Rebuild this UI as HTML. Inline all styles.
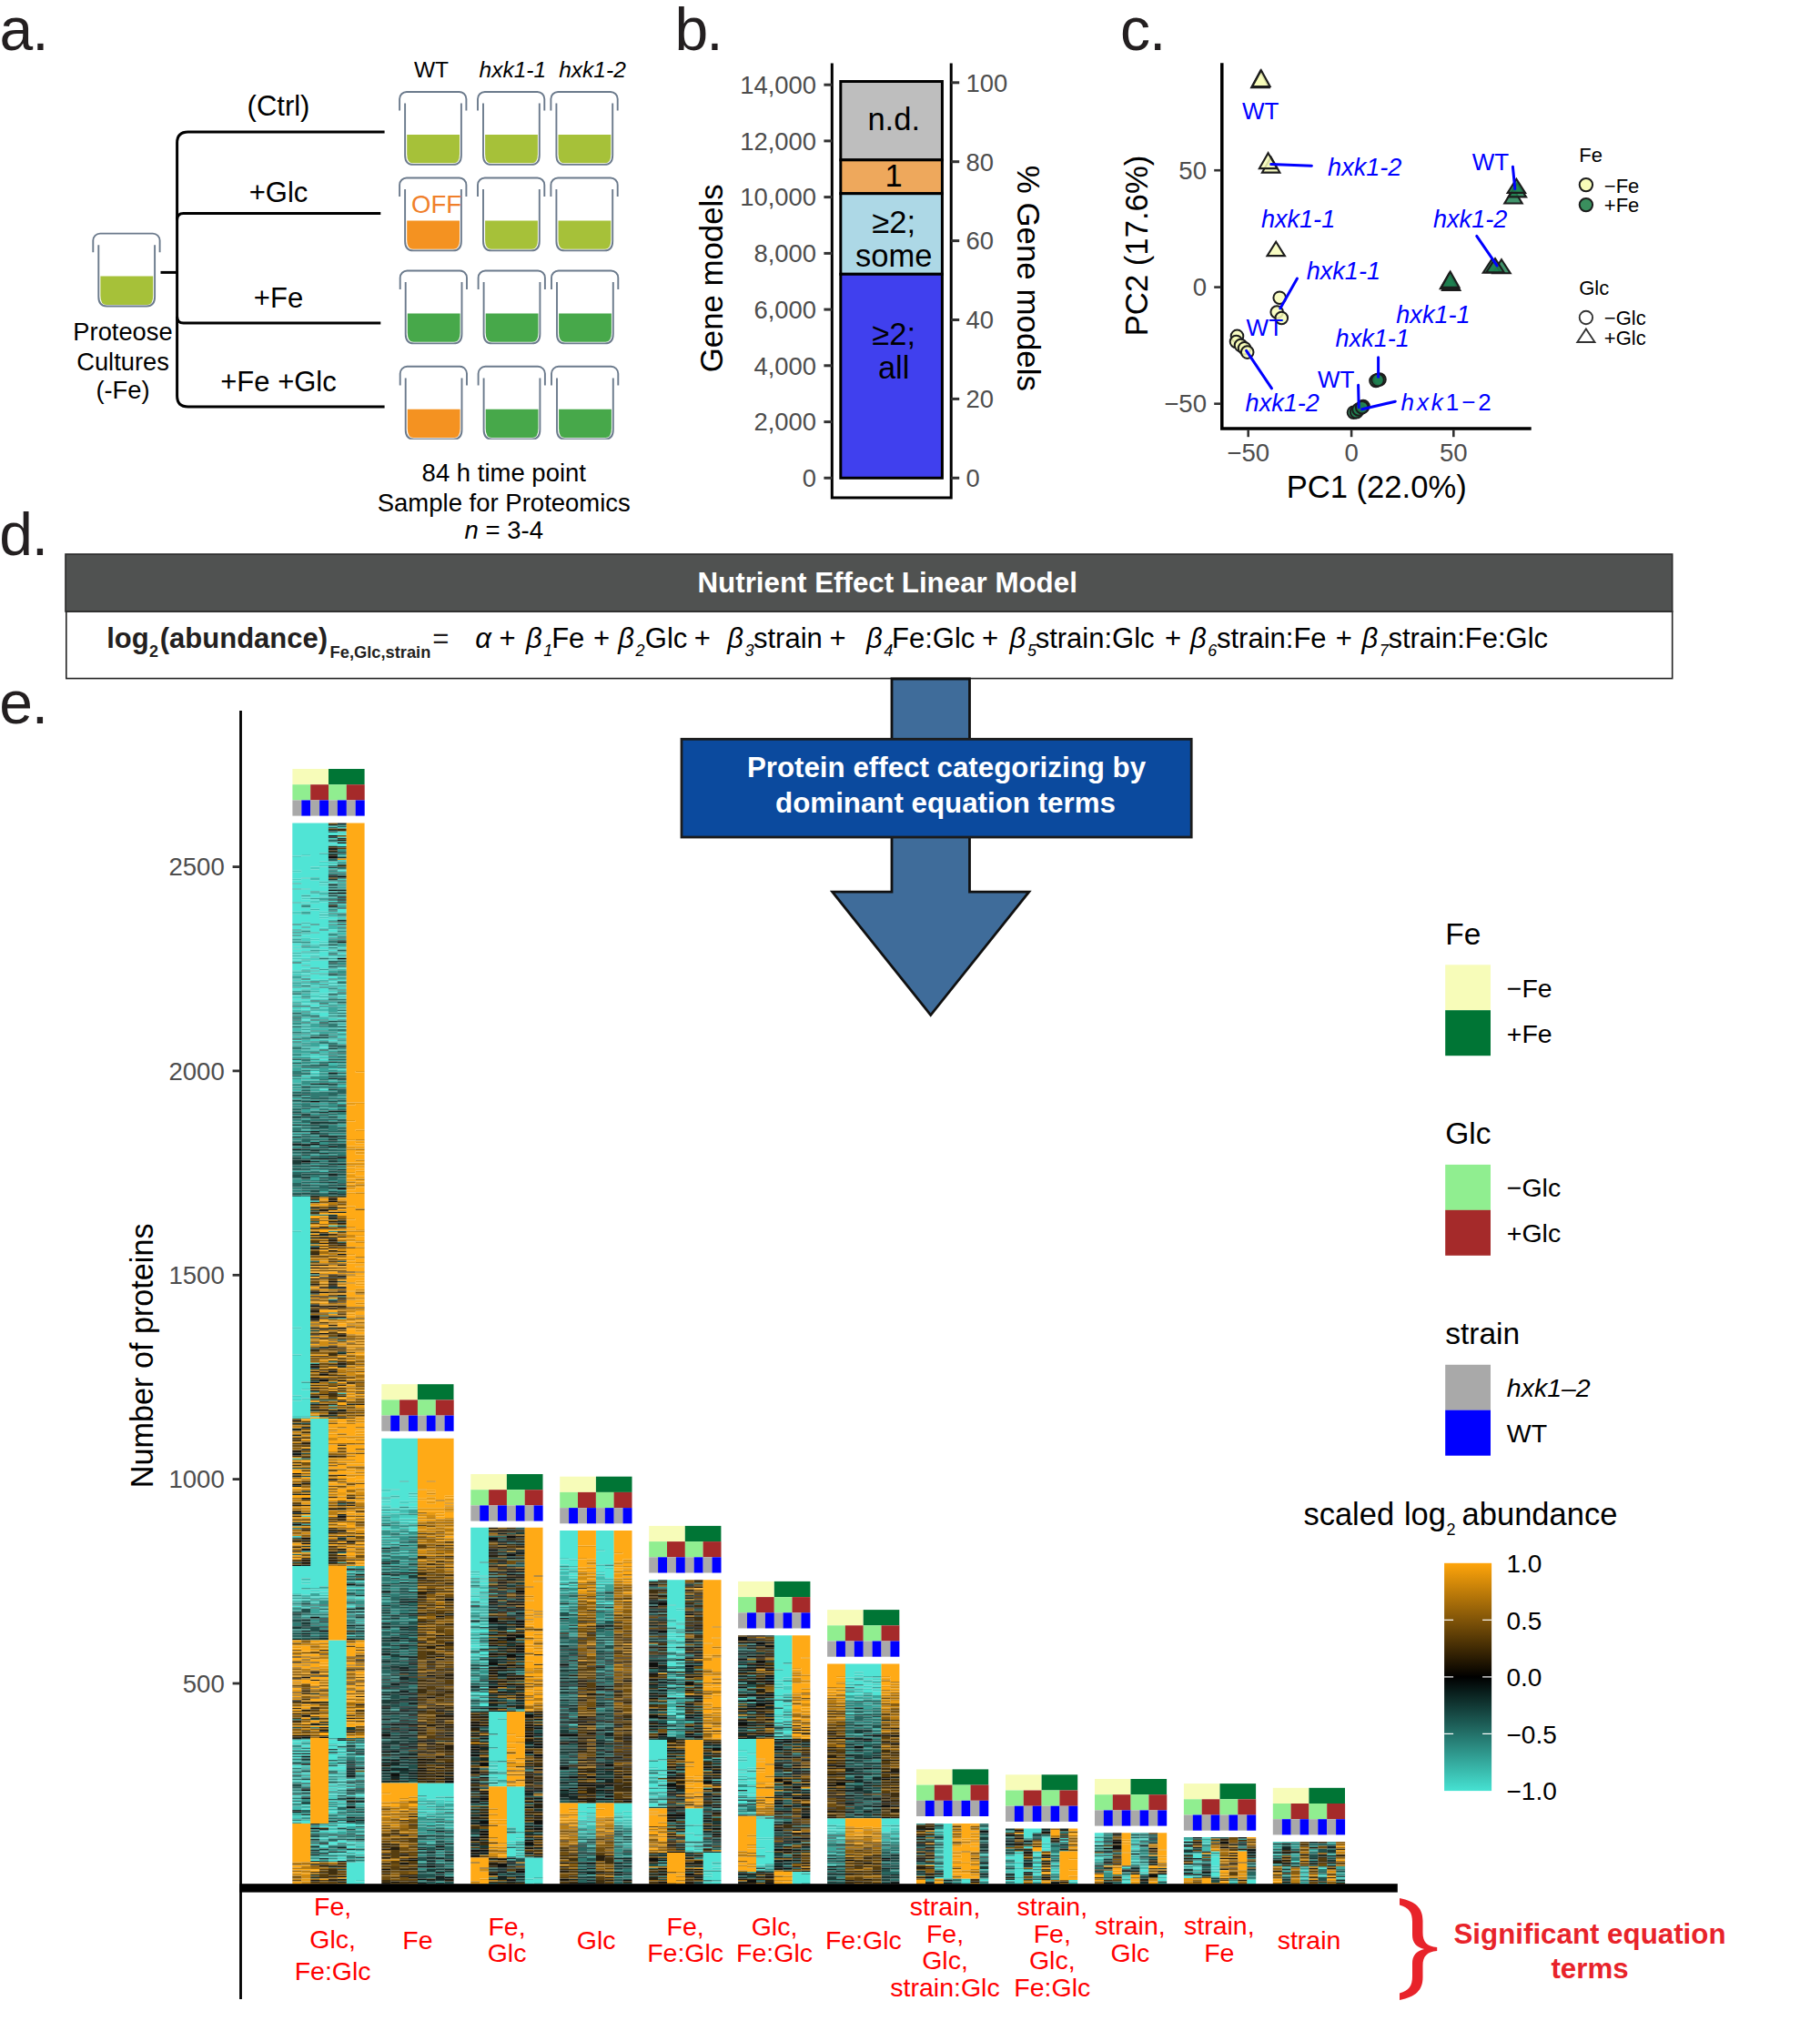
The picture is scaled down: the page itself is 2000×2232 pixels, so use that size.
<!DOCTYPE html>
<html lang="en"><head><meta charset="utf-8"><title>Figure</title>
<style>
html,body{margin:0;padding:0;background:#fff}
svg{display:block}
text{font-family:"Liberation Sans",sans-serif}
</style></head><body>
<svg width="2000" height="2232" viewBox="0 0 2000 2232">
<rect width="2000" height="2232" fill="#fff"/>
<text x="-0.5" y="55.3" font-size="66.0" fill="#231F20" letter-spacing="-1">a.</text>
<text x="474.0" y="85.4" font-size="24.5" text-anchor="middle">WT</text>
<text x="563.3" y="85.4" font-size="24.5" text-anchor="middle" font-style="italic">hxk1-1</text>
<text x="651.0" y="85.4" font-size="24.5" text-anchor="middle" font-style="italic">hxk1-2</text>
<g fill="none" stroke="#000" stroke-width="3">
<path d="M422.6 145H206.6Q194.6 145 194.6 157V435Q194.6 447 206.6 447H422.6"/>
<path d="M418.3 234.5H201.6Q194.6 234.5 194.6 241.5"/>
<path d="M418.3 355H201.6Q194.6 355 194.6 348"/>
<path d="M176.5 299.4H194.6"/>
</g>
<text x="306.0" y="127.0" font-size="31.0" text-anchor="middle">(Ctrl)</text>
<text x="306.0" y="222.4" font-size="31.0" text-anchor="middle">+Glc</text>
<text x="306.0" y="337.6" font-size="31.0" text-anchor="middle">+Fe</text>
<text x="306.0" y="429.5" font-size="31.0" text-anchor="middle">+Fe +Glc</text>
<g transform="translate(439.1 101.0)"><path d="M8.1 47H65.9V68.3Q65.9 78.3 59.4 78.3H14.6Q8.1 78.3 8.1 68.3Z" fill="#A6C139"/><path d="M0 20.6V7.7A7.7 7.7 0 0 1 7.7 0H65.6A7.7 7.7 0 0 1 73.3 7.7V20.6" fill="none" stroke="#6B7A8C" stroke-width="1.9"/><path d="M6 12.6V69.4Q6 79.9 15 79.9H58.8Q67.8 79.9 67.8 69.4V12.6" fill="none" stroke="#6B7A8C" stroke-width="1.9"/></g>
<g transform="translate(525.0 101.0)"><path d="M8.1 47H65.9V68.3Q65.9 78.3 59.4 78.3H14.6Q8.1 78.3 8.1 68.3Z" fill="#A6C139"/><path d="M0 20.6V7.7A7.7 7.7 0 0 1 7.7 0H65.6A7.7 7.7 0 0 1 73.3 7.7V20.6" fill="none" stroke="#6B7A8C" stroke-width="1.9"/><path d="M6 12.6V69.4Q6 79.9 15 79.9H58.8Q67.8 79.9 67.8 69.4V12.6" fill="none" stroke="#6B7A8C" stroke-width="1.9"/></g>
<g transform="translate(605.4 101.0)"><path d="M8.1 47H65.9V68.3Q65.9 78.3 59.4 78.3H14.6Q8.1 78.3 8.1 68.3Z" fill="#A6C139"/><path d="M0 20.6V7.7A7.7 7.7 0 0 1 7.7 0H65.6A7.7 7.7 0 0 1 73.3 7.7V20.6" fill="none" stroke="#6B7A8C" stroke-width="1.9"/><path d="M6 12.6V69.4Q6 79.9 15 79.9H58.8Q67.8 79.9 67.8 69.4V12.6" fill="none" stroke="#6B7A8C" stroke-width="1.9"/></g>
<g transform="translate(439.1 195.5)"><path d="M8.1 47H65.9V68.3Q65.9 78.3 59.4 78.3H14.6Q8.1 78.3 8.1 68.3Z" fill="#F49221"/><path d="M0 20.6V7.7A7.7 7.7 0 0 1 7.7 0H65.6A7.7 7.7 0 0 1 73.3 7.7V20.6" fill="none" stroke="#6B7A8C" stroke-width="1.9"/><path d="M6 12.6V69.4Q6 79.9 15 79.9H58.8Q67.8 79.9 67.8 69.4V12.6" fill="none" stroke="#6B7A8C" stroke-width="1.9"/></g>
<g transform="translate(525.0 195.5)"><path d="M8.1 47H65.9V68.3Q65.9 78.3 59.4 78.3H14.6Q8.1 78.3 8.1 68.3Z" fill="#A6C139"/><path d="M0 20.6V7.7A7.7 7.7 0 0 1 7.7 0H65.6A7.7 7.7 0 0 1 73.3 7.7V20.6" fill="none" stroke="#6B7A8C" stroke-width="1.9"/><path d="M6 12.6V69.4Q6 79.9 15 79.9H58.8Q67.8 79.9 67.8 69.4V12.6" fill="none" stroke="#6B7A8C" stroke-width="1.9"/></g>
<g transform="translate(605.4 195.5)"><path d="M8.1 47H65.9V68.3Q65.9 78.3 59.4 78.3H14.6Q8.1 78.3 8.1 68.3Z" fill="#A6C139"/><path d="M0 20.6V7.7A7.7 7.7 0 0 1 7.7 0H65.6A7.7 7.7 0 0 1 73.3 7.7V20.6" fill="none" stroke="#6B7A8C" stroke-width="1.9"/><path d="M6 12.6V69.4Q6 79.9 15 79.9H58.8Q67.8 79.9 67.8 69.4V12.6" fill="none" stroke="#6B7A8C" stroke-width="1.9"/></g>
<g transform="translate(439.7 297.5)"><path d="M8.1 47H65.9V68.3Q65.9 78.3 59.4 78.3H14.6Q8.1 78.3 8.1 68.3Z" fill="#47A84A"/><path d="M0 20.6V7.7A7.7 7.7 0 0 1 7.7 0H65.6A7.7 7.7 0 0 1 73.3 7.7V20.6" fill="none" stroke="#6B7A8C" stroke-width="1.9"/><path d="M6 12.6V69.4Q6 79.9 15 79.9H58.8Q67.8 79.9 67.8 69.4V12.6" fill="none" stroke="#6B7A8C" stroke-width="1.9"/></g>
<g transform="translate(525.6 297.5)"><path d="M8.1 47H65.9V68.3Q65.9 78.3 59.4 78.3H14.6Q8.1 78.3 8.1 68.3Z" fill="#47A84A"/><path d="M0 20.6V7.7A7.7 7.7 0 0 1 7.7 0H65.6A7.7 7.7 0 0 1 73.3 7.7V20.6" fill="none" stroke="#6B7A8C" stroke-width="1.9"/><path d="M6 12.6V69.4Q6 79.9 15 79.9H58.8Q67.8 79.9 67.8 69.4V12.6" fill="none" stroke="#6B7A8C" stroke-width="1.9"/></g>
<g transform="translate(606.0 297.5)"><path d="M8.1 47H65.9V68.3Q65.9 78.3 59.4 78.3H14.6Q8.1 78.3 8.1 68.3Z" fill="#47A84A"/><path d="M0 20.6V7.7A7.7 7.7 0 0 1 7.7 0H65.6A7.7 7.7 0 0 1 73.3 7.7V20.6" fill="none" stroke="#6B7A8C" stroke-width="1.9"/><path d="M6 12.6V69.4Q6 79.9 15 79.9H58.8Q67.8 79.9 67.8 69.4V12.6" fill="none" stroke="#6B7A8C" stroke-width="1.9"/></g>
<g transform="translate(439.7 402.8)"><path d="M8.1 47H65.9V68.3Q65.9 78.3 59.4 78.3H14.6Q8.1 78.3 8.1 68.3Z" fill="#F49221"/><path d="M0 20.6V7.7A7.7 7.7 0 0 1 7.7 0H65.6A7.7 7.7 0 0 1 73.3 7.7V20.6" fill="none" stroke="#6B7A8C" stroke-width="1.9"/><path d="M6 12.6V69.4Q6 79.9 15 79.9H58.8Q67.8 79.9 67.8 69.4V12.6" fill="none" stroke="#6B7A8C" stroke-width="1.9"/></g>
<g transform="translate(525.6 402.8)"><path d="M8.1 47H65.9V68.3Q65.9 78.3 59.4 78.3H14.6Q8.1 78.3 8.1 68.3Z" fill="#47A84A"/><path d="M0 20.6V7.7A7.7 7.7 0 0 1 7.7 0H65.6A7.7 7.7 0 0 1 73.3 7.7V20.6" fill="none" stroke="#6B7A8C" stroke-width="1.9"/><path d="M6 12.6V69.4Q6 79.9 15 79.9H58.8Q67.8 79.9 67.8 69.4V12.6" fill="none" stroke="#6B7A8C" stroke-width="1.9"/></g>
<g transform="translate(606.0 402.8)"><path d="M8.1 47H65.9V68.3Q65.9 78.3 59.4 78.3H14.6Q8.1 78.3 8.1 68.3Z" fill="#47A84A"/><path d="M0 20.6V7.7A7.7 7.7 0 0 1 7.7 0H65.6A7.7 7.7 0 0 1 73.3 7.7V20.6" fill="none" stroke="#6B7A8C" stroke-width="1.9"/><path d="M6 12.6V69.4Q6 79.9 15 79.9H58.8Q67.8 79.9 67.8 69.4V12.6" fill="none" stroke="#6B7A8C" stroke-width="1.9"/></g>
<rect x="430.0" y="482.9" width="260.0" height="3.5" fill="#fff"/>
<g transform="translate(102.3 256.6)"><path d="M8.1 47H65.9V68.3Q65.9 78.3 59.4 78.3H14.6Q8.1 78.3 8.1 68.3Z" fill="#A6C139"/><path d="M0 20.6V7.7A7.7 7.7 0 0 1 7.7 0H65.6A7.7 7.7 0 0 1 73.3 7.7V20.6" fill="none" stroke="#6B7A8C" stroke-width="1.9"/><path d="M6 12.6V69.4Q6 79.9 15 79.9H58.8Q67.8 79.9 67.8 69.4V12.6" fill="none" stroke="#6B7A8C" stroke-width="1.9"/></g>
<text x="479.5" y="234.3" font-size="27.5" text-anchor="middle" fill="#F07F2A">OFF</text>
<text x="135.0" y="374.0" font-size="27.3" text-anchor="middle">Proteose</text>
<text x="135.0" y="407.2" font-size="27.3" text-anchor="middle">Cultures</text>
<text x="135.0" y="438.4" font-size="27.3" text-anchor="middle">(-Fe)</text>
<text x="553.8" y="529.3" font-size="27.5" text-anchor="middle">84 h time point</text>
<text x="553.8" y="562.2" font-size="27.5" text-anchor="middle">Sample for Proteomics</text>
<text x="553.8" y="592.0" font-size="27.5" text-anchor="middle"><tspan font-style="italic">n</tspan> = 3-4</text>
<text x="741.5" y="54.7" font-size="66.0" fill="#231F20" letter-spacing="-2">b.</text>
<rect x="923.8" y="89.5" width="111.6" height="86.3" fill="#BEBEBE" stroke="#000" stroke-width="3"/>
<rect x="923.8" y="175.8" width="111.6" height="36.9" fill="#EEA85C" stroke="#000" stroke-width="3"/>
<rect x="923.8" y="212.7" width="111.6" height="88.6" fill="#ADD8E6" stroke="#000" stroke-width="3"/>
<rect x="923.8" y="301.3" width="111.6" height="224.0" fill="#4040EE" stroke="#000" stroke-width="3"/>
<path d="M914.3 69.4V547H1045.2V69.4" fill="none" stroke="#000" stroke-width="3"/>
<line x1="905.4" y1="525.3" x2="914.3" y2="525.3" stroke="#333" stroke-width="3"/>
<text x="897.0" y="535.1" font-size="27.4" text-anchor="end" fill="#4D4D4D">0</text>
<line x1="905.4" y1="463.6" x2="914.3" y2="463.6" stroke="#333" stroke-width="3"/>
<text x="897.0" y="473.4" font-size="27.4" text-anchor="end" fill="#4D4D4D">2,000</text>
<line x1="905.4" y1="401.8" x2="914.3" y2="401.8" stroke="#333" stroke-width="3"/>
<text x="897.0" y="411.6" font-size="27.4" text-anchor="end" fill="#4D4D4D">4,000</text>
<line x1="905.4" y1="340.1" x2="914.3" y2="340.1" stroke="#333" stroke-width="3"/>
<text x="897.0" y="349.9" font-size="27.4" text-anchor="end" fill="#4D4D4D">6,000</text>
<line x1="905.4" y1="278.4" x2="914.3" y2="278.4" stroke="#333" stroke-width="3"/>
<text x="897.0" y="288.2" font-size="27.4" text-anchor="end" fill="#4D4D4D">8,000</text>
<line x1="905.4" y1="216.6" x2="914.3" y2="216.6" stroke="#333" stroke-width="3"/>
<text x="897.0" y="226.4" font-size="27.4" text-anchor="end" fill="#4D4D4D">10,000</text>
<line x1="905.4" y1="154.9" x2="914.3" y2="154.9" stroke="#333" stroke-width="3"/>
<text x="897.0" y="164.7" font-size="27.4" text-anchor="end" fill="#4D4D4D">12,000</text>
<line x1="905.4" y1="93.2" x2="914.3" y2="93.2" stroke="#333" stroke-width="3"/>
<text x="897.0" y="103.0" font-size="27.4" text-anchor="end" fill="#4D4D4D">14,000</text>
<line x1="1045.2" y1="525.3" x2="1054.2" y2="525.3" stroke="#333" stroke-width="3"/>
<text x="1061.5" y="535.1" font-size="27.4" fill="#4D4D4D">0</text>
<line x1="1045.2" y1="438.4" x2="1054.2" y2="438.4" stroke="#333" stroke-width="3"/>
<text x="1061.5" y="448.2" font-size="27.4" fill="#4D4D4D">20</text>
<line x1="1045.2" y1="351.5" x2="1054.2" y2="351.5" stroke="#333" stroke-width="3"/>
<text x="1061.5" y="361.3" font-size="27.4" fill="#4D4D4D">40</text>
<line x1="1045.2" y1="264.6" x2="1054.2" y2="264.6" stroke="#333" stroke-width="3"/>
<text x="1061.5" y="274.4" font-size="27.4" fill="#4D4D4D">60</text>
<line x1="1045.2" y1="177.7" x2="1054.2" y2="177.7" stroke="#333" stroke-width="3"/>
<text x="1061.5" y="187.5" font-size="27.4" fill="#4D4D4D">80</text>
<line x1="1045.2" y1="90.8" x2="1054.2" y2="90.8" stroke="#333" stroke-width="3"/>
<text x="1061.5" y="100.6" font-size="27.4" fill="#4D4D4D">100</text>
<text x="794.5" y="305.8" font-size="34.8" text-anchor="middle" transform="rotate(-90 794.5 305.8)">Gene models</text>
<text x="1117.5" y="305.8" font-size="34.9" text-anchor="middle" transform="rotate(90 1117.5 305.8)">% Gene models</text>
<text x="982.2" y="142.7" font-size="34.5" text-anchor="middle">n.d.</text>
<text x="982.2" y="204.7" font-size="34.5" text-anchor="middle">1</text>
<text x="982.2" y="255.5" font-size="34.5" text-anchor="middle">≥2;</text>
<text x="982.2" y="293.4" font-size="34.5" text-anchor="middle">some</text>
<text x="982.2" y="379.0" font-size="34.5" text-anchor="middle">≥2;</text>
<text x="982.2" y="416.0" font-size="34.5" text-anchor="middle">all</text>
<text x="1230.9" y="54.7" font-size="66.0" fill="#231F20" letter-spacing="-1">c.</text>
<path d="M1342.8 69.3V471.1H1682.7" fill="none" stroke="#000" stroke-width="3.5" stroke-linejoin="miter"/>
<line x1="1334.2" y1="187.2" x2="1341.5" y2="187.2" stroke="#333" stroke-width="2.6"/>
<text x="1326.0" y="196.7" font-size="27.6" text-anchor="end" fill="#4D4D4D">50</text>
<line x1="1334.2" y1="315.6" x2="1341.5" y2="315.6" stroke="#333" stroke-width="2.6"/>
<text x="1326.0" y="325.1" font-size="27.6" text-anchor="end" fill="#4D4D4D">0</text>
<line x1="1334.2" y1="443.7" x2="1341.5" y2="443.7" stroke="#333" stroke-width="2.6"/>
<text x="1326.0" y="453.2" font-size="27.6" text-anchor="end" fill="#4D4D4D">−50</text>
<line x1="1371.7" y1="472.5" x2="1371.7" y2="480.2" stroke="#333" stroke-width="2.6"/>
<text x="1371.7" y="506.7" font-size="27.6" text-anchor="middle" fill="#4D4D4D">−50</text>
<line x1="1485.1" y1="472.5" x2="1485.1" y2="480.2" stroke="#333" stroke-width="2.6"/>
<text x="1485.1" y="506.7" font-size="27.6" text-anchor="middle" fill="#4D4D4D">0</text>
<line x1="1597.3" y1="472.5" x2="1597.3" y2="480.2" stroke="#333" stroke-width="2.6"/>
<text x="1597.3" y="506.7" font-size="27.6" text-anchor="middle" fill="#4D4D4D">50</text>
<text x="1512.7" y="546.8" font-size="34.6" text-anchor="middle">PC1 (22.0%)</text>
<text x="1260.5" y="270.0" font-size="34.7" text-anchor="middle" transform="rotate(-90 1260.5 270.0)">PC2 (17.6%)</text>
<path d="M1384.9 78.3L1394.6 96.1H1375.2Z" fill="#F7FCB9" fill-opacity="0.85" stroke="#1c1c1c" stroke-width="2.1" stroke-linejoin="miter"/>
<path d="M1385.9 77.3L1395.6 95.0H1376.2Z" fill="#F7FCB9" fill-opacity="0.85" stroke="#1c1c1c" stroke-width="2.1" stroke-linejoin="miter"/>
<path d="M1396.7 172.7L1406.4 189.6H1387.0Z" fill="#F7FCB9" fill-opacity="0.85" stroke="#1c1c1c" stroke-width="2.1" stroke-linejoin="miter"/>
<path d="M1393.6 168.2L1403.3 185.1H1383.9Z" fill="#F7FCB9" fill-opacity="0.85" stroke="#1c1c1c" stroke-width="2.1" stroke-linejoin="miter"/>
<path d="M1402.2 265.8L1411.9 281.1H1392.5Z" fill="#F7FCB9" fill-opacity="0.85" stroke="#1c1c1c" stroke-width="2.1" stroke-linejoin="miter"/>
<path d="M1663.0 207.3L1672.7 223.5H1653.3Z" fill="#1F8050" fill-opacity="0.85" stroke="#1c1c1c" stroke-width="2.1" stroke-linejoin="miter"/>
<path d="M1667.4 201.2L1677.1 216.4H1657.7Z" fill="#1F8050" fill-opacity="0.85" stroke="#1c1c1c" stroke-width="2.1" stroke-linejoin="miter"/>
<path d="M1666.4 196.7L1676.1 211.9H1656.7Z" fill="#1F8050" fill-opacity="0.85" stroke="#1c1c1c" stroke-width="2.1" stroke-linejoin="miter"/>
<path d="M1650.0 285.3L1659.7 300.3H1640.3Z" fill="#1F8050" fill-opacity="0.85" stroke="#1c1c1c" stroke-width="2.1" stroke-linejoin="miter"/>
<path d="M1639.5 284.8L1649.2 299.8H1629.8Z" fill="#1F8050" fill-opacity="0.85" stroke="#1c1c1c" stroke-width="2.1" stroke-linejoin="miter"/>
<path d="M1643.0 284.1L1652.7 299.3H1633.3Z" fill="#1F8050" fill-opacity="0.85" stroke="#1c1c1c" stroke-width="2.1" stroke-linejoin="miter"/>
<path d="M1594.7 301.7L1604.4 318.9H1585.0Z" fill="#1F8050" fill-opacity="0.85" stroke="#1c1c1c" stroke-width="2.1" stroke-linejoin="miter"/>
<path d="M1592.5 300.3L1602.2 317.3H1582.8Z" fill="#1F8050" fill-opacity="0.85" stroke="#1c1c1c" stroke-width="2.1" stroke-linejoin="miter"/>
<path d="M1593.7 298.6L1603.4 315.8H1584.0Z" fill="#1F8050" fill-opacity="0.85" stroke="#1c1c1c" stroke-width="2.1" stroke-linejoin="miter"/>
<circle cx="1406.2" cy="327.2" r="6.8" fill="#F7FCB9" fill-opacity="0.85" stroke="#1c1c1c" stroke-width="2"/>
<circle cx="1403.2" cy="343.0" r="6.8" fill="#F7FCB9" fill-opacity="0.85" stroke="#1c1c1c" stroke-width="2"/>
<circle cx="1408.3" cy="349.5" r="6.8" fill="#F7FCB9" fill-opacity="0.85" stroke="#1c1c1c" stroke-width="2"/>
<circle cx="1359.5" cy="369.4" r="6.8" fill="#F7FCB9" fill-opacity="0.85" stroke="#1c1c1c" stroke-width="2"/>
<circle cx="1358.5" cy="375.5" r="6.8" fill="#F7FCB9" fill-opacity="0.85" stroke="#1c1c1c" stroke-width="2"/>
<circle cx="1363.5" cy="379.6" r="6.8" fill="#F7FCB9" fill-opacity="0.85" stroke="#1c1c1c" stroke-width="2"/>
<circle cx="1367.6" cy="382.7" r="6.8" fill="#F7FCB9" fill-opacity="0.85" stroke="#1c1c1c" stroke-width="2"/>
<circle cx="1370.7" cy="387.1" r="6.8" fill="#F7FCB9" fill-opacity="0.85" stroke="#1c1c1c" stroke-width="2"/>
<circle cx="1512.0" cy="418.5" r="6.8" fill="#1F8050" fill-opacity="0.85" stroke="#1c1c1c" stroke-width="2"/>
<circle cx="1516.0" cy="417.0" r="6.8" fill="#1F8050" fill-opacity="0.85" stroke="#1c1c1c" stroke-width="2"/>
<circle cx="1514.0" cy="417.6" r="6.8" fill="#1F8050" fill-opacity="0.85" stroke="#1c1c1c" stroke-width="2"/>
<circle cx="1487.5" cy="453.2" r="6.8" fill="#1F8050" fill-opacity="0.85" stroke="#1c1c1c" stroke-width="2"/>
<circle cx="1490.6" cy="452.8" r="6.8" fill="#1F8050" fill-opacity="0.85" stroke="#1c1c1c" stroke-width="2"/>
<circle cx="1493.0" cy="450.0" r="6.8" fill="#1F8050" fill-opacity="0.85" stroke="#1c1c1c" stroke-width="2"/>
<circle cx="1498.0" cy="446.5" r="6.8" fill="#1F8050" fill-opacity="0.85" stroke="#1c1c1c" stroke-width="2"/>
<circle cx="1496.7" cy="447.7" r="6.8" fill="#1F8050" fill-opacity="0.85" stroke="#1c1c1c" stroke-width="2"/>
<g stroke="#0000FF" stroke-width="3" stroke-linecap="round">
<line x1="1396.7" y1="180.5" x2="1441.4" y2="182.3"/>
<line x1="1662.4" y1="183.2" x2="1664.8" y2="207.5"/>
<line x1="1622.7" y1="259.4" x2="1645.1" y2="291.9"/>
<line x1="1425.5" y1="306.0" x2="1406.8" y2="339.0"/>
<line x1="1369.6" y1="385.3" x2="1397.5" y2="426.8"/>
<line x1="1514.6" y1="392.8" x2="1514.6" y2="414.2"/>
<line x1="1492.6" y1="423.3" x2="1493.2" y2="447.7"/>
<line x1="1496.7" y1="449.8" x2="1533.3" y2="441.2"/>
</g>
<text x="1365.0" y="131.3" font-size="26.0" fill="#0000FF">WT</text>
<text x="1617.7" y="187.2" font-size="26.0" fill="#0000FF">WT</text>
<text x="1369.6" y="369.4" font-size="26.0" fill="#0000FF">WT</text>
<text x="1447.9" y="426.4" font-size="26.0" fill="#0000FF">WT</text>
<text x="1459.1" y="193.3" font-size="27.1" fill="#0000FF" font-style="italic">hxk1-2</text>
<text x="1385.9" y="250.2" font-size="27.1" fill="#0000FF" font-style="italic">hxk1-1</text>
<text x="1575.0" y="250.2" font-size="27.1" fill="#0000FF" font-style="italic">hxk1-2</text>
<text x="1435.7" y="307.4" font-size="27.1" fill="#0000FF" font-style="italic">hxk1-1</text>
<text x="1368.6" y="451.8" font-size="27.1" fill="#0000FF" font-style="italic">hxk1-2</text>
<text x="1534.3" y="354.8" font-size="27.1" fill="#0000FF" font-style="italic">hxk1-1</text>
<text x="1467.6" y="381.0" font-size="27.1" fill="#0000FF" font-style="italic">hxk1-1</text>
<text x="1539.6" y="450.8" font-size="26.0" fill="#0000FF" letter-spacing="2.9"><tspan font-style="italic">hxk</tspan>1−2</text>
<text x="1735.2" y="177.8" font-size="22.0">Fe</text>
<circle cx="1742.9" cy="203.1" r="7.2" fill="#F7FCB9" fill-opacity="1" stroke="#1c1c1c" stroke-width="2"/>
<circle cx="1742.9" cy="225.1" r="7.2" fill="#3A8F5E" fill-opacity="1" stroke="#1c1c1c" stroke-width="2"/>
<text x="1762.8" y="211.7" font-size="22.0">−Fe</text>
<text x="1762.8" y="232.8" font-size="22.0">+Fe</text>
<text x="1735.2" y="323.7" font-size="22.0">Glc</text>
<circle cx="1742.9" cy="349" r="7.2" fill="none" stroke="#333" stroke-width="1.9"/>
<path d="M1742.9 361.5L1752.5 376H1733.3Z" fill="none" stroke="#333" stroke-width="1.9"/>
<text x="1762.8" y="357.3" font-size="22.0">−Glc</text>
<text x="1762.8" y="378.5" font-size="22.0">+Glc</text>
<text x="-0.7" y="610.0" font-size="66.0" fill="#231F20" letter-spacing="-1.2">d.</text>
<text x="-0.7" y="795.0" font-size="66.0" fill="#231F20" letter-spacing="-1.2">e.</text>
<rect x="72.8" y="672.0" width="1764.9" height="73.6" fill="#fff" stroke="#222" stroke-width="1.6"/>
<rect x="72.0" y="609.0" width="1765.7" height="63.0" fill="#505251" stroke="#2a2a2a" stroke-width="1.6"/>
<text x="766.5" y="650.8" font-size="31.3" fill="#fff" font-weight="bold">Nutrient Effect Linear Model</text>
<text x="117.2" y="711.6" font-size="31.0" fill="#231F20" font-weight="bold">log</text>
<text x="163.9" y="722.0" font-size="18.0" fill="#231F20" font-weight="bold">2</text>
<text x="175.8" y="711.6" font-size="31.0" fill="#231F20" font-weight="bold">(abundance)</text>
<text x="362.6" y="722.6" font-size="18.3" fill="#231F20" font-weight="bold">Fe,Glc,strain</text>
<text x="475.2" y="711.6" font-size="31.0" fill="#231F20">=</text>
<text x="522.3" y="711.5" font-size="31.0" font-style="italic">α</text>
<text x="548.5" y="711.5" font-size="31.0">+</text>
<text x="578.0" y="711.5" font-size="31.0" font-style="italic">β</text><text x="597.3" y="721.0" font-size="18.0" font-style="italic">1</text>
<text x="606.2" y="711.5" font-size="31.0">Fe</text>
<text x="652.0" y="711.5" font-size="31.0">+</text>
<text x="679.2" y="711.5" font-size="31.0" font-style="italic">β</text><text x="698.5" y="721.0" font-size="18.0" font-style="italic">2</text>
<text x="708.8" y="711.5" font-size="31.0">Glc</text>
<text x="762.7" y="711.5" font-size="31.0">+</text>
<text x="799.2" y="711.5" font-size="31.0" font-style="italic">β</text><text x="818.5" y="721.0" font-size="18.0" font-style="italic">3</text>
<text x="828.0" y="711.5" font-size="31.0">strain</text>
<text x="911.5" y="711.5" font-size="31.0">+</text>
<text x="952.0" y="711.5" font-size="31.0" font-style="italic">β</text><text x="971.3" y="721.0" font-size="18.0" font-style="italic">4</text>
<text x="980.0" y="711.5" font-size="31.0">Fe:Glc</text>
<text x="1079.0" y="711.5" font-size="31.0">+</text>
<text x="1109.6" y="711.5" font-size="31.0" font-style="italic">β</text><text x="1128.9" y="721.0" font-size="18.0" font-style="italic">5</text>
<text x="1137.7" y="711.5" font-size="31.0">strain:Glc</text>
<text x="1280.0" y="711.5" font-size="31.0">+</text>
<text x="1308.0" y="711.5" font-size="31.0" font-style="italic">β</text><text x="1327.3" y="721.0" font-size="18.0" font-style="italic">6</text>
<text x="1337.0" y="711.5" font-size="31.0">strain:Fe</text>
<text x="1467.7" y="711.5" font-size="31.0">+</text>
<text x="1496.5" y="711.5" font-size="31.0" font-style="italic">β</text><text x="1515.8" y="721.0" font-size="18.0" font-style="italic">7</text>
<text x="1525.4" y="711.5" font-size="31.0">strain:Fe:Glc</text>
<path d="M980 746H1065.5V980.2H1130.8L1022.7 1115.5L914.7 980.2H980Z" fill="#3F6C9A" stroke="#111" stroke-width="2.8" stroke-linejoin="miter"/>
<rect x="749.0" y="812.3" width="560.2" height="107.7" fill="#0B4A9E" stroke="#1c1c1c" stroke-width="2.8"/>
<text x="1040.0" y="854.4" font-size="31.3" text-anchor="middle" fill="#fff" font-weight="bold">Protein effect categorizing by</text>
<text x="1039.0" y="892.5" font-size="31.3" text-anchor="middle" fill="#fff" font-weight="bold">dominant equation terms</text>
<rect x="321.4" y="845.0" width="39.6" height="17.2" fill="#F7FCB9"/><rect x="361.0" y="845.0" width="39.6" height="17.2" fill="#007535"/><rect x="321.4" y="862.2" width="19.9" height="17.2" fill="#90EE90"/><rect x="341.2" y="862.2" width="19.9" height="17.2" fill="#A52A2A"/><rect x="361.0" y="862.2" width="19.9" height="17.2" fill="#90EE90"/><rect x="380.8" y="862.2" width="19.9" height="17.2" fill="#A52A2A"/><rect x="321.4" y="879.4" width="10.0" height="17.2" fill="#A9A9A9"/><rect x="331.3" y="879.4" width="10.0" height="17.2" fill="#0000FF"/><rect x="341.2" y="879.4" width="10.0" height="17.2" fill="#A9A9A9"/><rect x="351.1" y="879.4" width="10.0" height="17.2" fill="#0000FF"/><rect x="361.0" y="879.4" width="10.0" height="17.2" fill="#A9A9A9"/><rect x="370.9" y="879.4" width="10.0" height="17.2" fill="#0000FF"/><rect x="380.8" y="879.4" width="10.0" height="17.2" fill="#A9A9A9"/><rect x="390.7" y="879.4" width="10.0" height="17.2" fill="#0000FF"/><rect x="419.3" y="1521.2" width="39.6" height="17.2" fill="#F7FCB9"/><rect x="458.9" y="1521.2" width="39.6" height="17.2" fill="#007535"/><rect x="419.3" y="1538.4" width="19.9" height="17.2" fill="#90EE90"/><rect x="439.1" y="1538.4" width="19.9" height="17.2" fill="#A52A2A"/><rect x="458.9" y="1538.4" width="19.9" height="17.2" fill="#90EE90"/><rect x="478.8" y="1538.4" width="19.9" height="17.2" fill="#A52A2A"/><rect x="419.3" y="1555.6" width="10.0" height="17.2" fill="#A9A9A9"/><rect x="429.2" y="1555.6" width="10.0" height="17.2" fill="#0000FF"/><rect x="439.1" y="1555.6" width="10.0" height="17.2" fill="#A9A9A9"/><rect x="449.0" y="1555.6" width="10.0" height="17.2" fill="#0000FF"/><rect x="458.9" y="1555.6" width="10.0" height="17.2" fill="#A9A9A9"/><rect x="468.8" y="1555.6" width="10.0" height="17.2" fill="#0000FF"/><rect x="478.8" y="1555.6" width="10.0" height="17.2" fill="#A9A9A9"/><rect x="488.6" y="1555.6" width="10.0" height="17.2" fill="#0000FF"/><rect x="517.3" y="1620.0" width="39.6" height="17.2" fill="#F7FCB9"/><rect x="556.9" y="1620.0" width="39.6" height="17.2" fill="#007535"/><rect x="517.3" y="1637.2" width="19.9" height="17.2" fill="#90EE90"/><rect x="537.1" y="1637.2" width="19.9" height="17.2" fill="#A52A2A"/><rect x="556.9" y="1637.2" width="19.9" height="17.2" fill="#90EE90"/><rect x="576.7" y="1637.2" width="19.9" height="17.2" fill="#A52A2A"/><rect x="517.3" y="1654.4" width="10.0" height="17.2" fill="#A9A9A9"/><rect x="527.2" y="1654.4" width="10.0" height="17.2" fill="#0000FF"/><rect x="537.1" y="1654.4" width="10.0" height="17.2" fill="#A9A9A9"/><rect x="547.0" y="1654.4" width="10.0" height="17.2" fill="#0000FF"/><rect x="556.9" y="1654.4" width="10.0" height="17.2" fill="#A9A9A9"/><rect x="566.8" y="1654.4" width="10.0" height="17.2" fill="#0000FF"/><rect x="576.7" y="1654.4" width="10.0" height="17.2" fill="#A9A9A9"/><rect x="586.6" y="1654.4" width="10.0" height="17.2" fill="#0000FF"/><rect x="615.2" y="1622.7" width="39.6" height="17.2" fill="#F7FCB9"/><rect x="654.9" y="1622.7" width="39.6" height="17.2" fill="#007535"/><rect x="615.2" y="1639.9" width="19.9" height="17.2" fill="#90EE90"/><rect x="635.0" y="1639.9" width="19.9" height="17.2" fill="#A52A2A"/><rect x="654.9" y="1639.9" width="19.9" height="17.2" fill="#90EE90"/><rect x="674.6" y="1639.9" width="19.9" height="17.2" fill="#A52A2A"/><rect x="615.2" y="1657.1" width="10.0" height="17.2" fill="#A9A9A9"/><rect x="625.1" y="1657.1" width="10.0" height="17.2" fill="#0000FF"/><rect x="635.0" y="1657.1" width="10.0" height="17.2" fill="#A9A9A9"/><rect x="645.0" y="1657.1" width="10.0" height="17.2" fill="#0000FF"/><rect x="654.9" y="1657.1" width="10.0" height="17.2" fill="#A9A9A9"/><rect x="664.8" y="1657.1" width="10.0" height="17.2" fill="#0000FF"/><rect x="674.6" y="1657.1" width="10.0" height="17.2" fill="#A9A9A9"/><rect x="684.5" y="1657.1" width="10.0" height="17.2" fill="#0000FF"/><rect x="713.2" y="1676.9" width="39.6" height="17.2" fill="#F7FCB9"/><rect x="752.8" y="1676.9" width="39.6" height="17.2" fill="#007535"/><rect x="713.2" y="1694.1" width="19.9" height="17.2" fill="#90EE90"/><rect x="733.0" y="1694.1" width="19.9" height="17.2" fill="#A52A2A"/><rect x="752.8" y="1694.1" width="19.9" height="17.2" fill="#90EE90"/><rect x="772.6" y="1694.1" width="19.9" height="17.2" fill="#A52A2A"/><rect x="713.2" y="1711.3" width="10.0" height="17.2" fill="#A9A9A9"/><rect x="723.1" y="1711.3" width="10.0" height="17.2" fill="#0000FF"/><rect x="733.0" y="1711.3" width="10.0" height="17.2" fill="#A9A9A9"/><rect x="742.9" y="1711.3" width="10.0" height="17.2" fill="#0000FF"/><rect x="752.8" y="1711.3" width="10.0" height="17.2" fill="#A9A9A9"/><rect x="762.7" y="1711.3" width="10.0" height="17.2" fill="#0000FF"/><rect x="772.6" y="1711.3" width="10.0" height="17.2" fill="#A9A9A9"/><rect x="782.5" y="1711.3" width="10.0" height="17.2" fill="#0000FF"/><rect x="811.1" y="1737.9" width="39.6" height="17.2" fill="#F7FCB9"/><rect x="850.8" y="1737.9" width="39.6" height="17.2" fill="#007535"/><rect x="811.1" y="1755.1" width="19.9" height="17.2" fill="#90EE90"/><rect x="830.9" y="1755.1" width="19.9" height="17.2" fill="#A52A2A"/><rect x="850.8" y="1755.1" width="19.9" height="17.2" fill="#90EE90"/><rect x="870.5" y="1755.1" width="19.9" height="17.2" fill="#A52A2A"/><rect x="811.1" y="1772.3" width="10.0" height="17.2" fill="#A9A9A9"/><rect x="821.0" y="1772.3" width="10.0" height="17.2" fill="#0000FF"/><rect x="830.9" y="1772.3" width="10.0" height="17.2" fill="#A9A9A9"/><rect x="840.9" y="1772.3" width="10.0" height="17.2" fill="#0000FF"/><rect x="850.8" y="1772.3" width="10.0" height="17.2" fill="#A9A9A9"/><rect x="860.6" y="1772.3" width="10.0" height="17.2" fill="#0000FF"/><rect x="870.5" y="1772.3" width="10.0" height="17.2" fill="#A9A9A9"/><rect x="880.4" y="1772.3" width="10.0" height="17.2" fill="#0000FF"/><rect x="909.1" y="1769.1" width="39.6" height="17.2" fill="#F7FCB9"/><rect x="948.7" y="1769.1" width="39.6" height="17.2" fill="#007535"/><rect x="909.1" y="1786.3" width="19.9" height="17.2" fill="#90EE90"/><rect x="928.9" y="1786.3" width="19.9" height="17.2" fill="#A52A2A"/><rect x="948.7" y="1786.3" width="19.9" height="17.2" fill="#90EE90"/><rect x="968.5" y="1786.3" width="19.9" height="17.2" fill="#A52A2A"/><rect x="909.1" y="1803.5" width="10.0" height="17.2" fill="#A9A9A9"/><rect x="919.0" y="1803.5" width="10.0" height="17.2" fill="#0000FF"/><rect x="928.9" y="1803.5" width="10.0" height="17.2" fill="#A9A9A9"/><rect x="938.8" y="1803.5" width="10.0" height="17.2" fill="#0000FF"/><rect x="948.7" y="1803.5" width="10.0" height="17.2" fill="#A9A9A9"/><rect x="958.6" y="1803.5" width="10.0" height="17.2" fill="#0000FF"/><rect x="968.5" y="1803.5" width="10.0" height="17.2" fill="#A9A9A9"/><rect x="978.4" y="1803.5" width="10.0" height="17.2" fill="#0000FF"/><rect x="1007.0" y="1944.4" width="39.6" height="17.2" fill="#F7FCB9"/><rect x="1046.6" y="1944.4" width="39.6" height="17.2" fill="#007535"/><rect x="1007.0" y="1961.6" width="19.9" height="17.2" fill="#90EE90"/><rect x="1026.8" y="1961.6" width="19.9" height="17.2" fill="#A52A2A"/><rect x="1046.6" y="1961.6" width="19.9" height="17.2" fill="#90EE90"/><rect x="1066.5" y="1961.6" width="19.9" height="17.2" fill="#A52A2A"/><rect x="1007.0" y="1978.8" width="10.0" height="17.2" fill="#A9A9A9"/><rect x="1016.9" y="1978.8" width="10.0" height="17.2" fill="#0000FF"/><rect x="1026.8" y="1978.8" width="10.0" height="17.2" fill="#A9A9A9"/><rect x="1036.8" y="1978.8" width="10.0" height="17.2" fill="#0000FF"/><rect x="1046.6" y="1978.8" width="10.0" height="17.2" fill="#A9A9A9"/><rect x="1056.5" y="1978.8" width="10.0" height="17.2" fill="#0000FF"/><rect x="1066.5" y="1978.8" width="10.0" height="17.2" fill="#A9A9A9"/><rect x="1076.3" y="1978.8" width="10.0" height="17.2" fill="#0000FF"/><rect x="1105.0" y="1950.3" width="39.6" height="17.2" fill="#F7FCB9"/><rect x="1144.6" y="1950.3" width="39.6" height="17.2" fill="#007535"/><rect x="1105.0" y="1967.5" width="19.9" height="17.2" fill="#90EE90"/><rect x="1124.8" y="1967.5" width="19.9" height="17.2" fill="#A52A2A"/><rect x="1144.6" y="1967.5" width="19.9" height="17.2" fill="#90EE90"/><rect x="1164.4" y="1967.5" width="19.9" height="17.2" fill="#A52A2A"/><rect x="1105.0" y="1984.7" width="10.0" height="17.2" fill="#A9A9A9"/><rect x="1114.9" y="1984.7" width="10.0" height="17.2" fill="#0000FF"/><rect x="1124.8" y="1984.7" width="10.0" height="17.2" fill="#A9A9A9"/><rect x="1134.7" y="1984.7" width="10.0" height="17.2" fill="#0000FF"/><rect x="1144.6" y="1984.7" width="10.0" height="17.2" fill="#A9A9A9"/><rect x="1154.5" y="1984.7" width="10.0" height="17.2" fill="#0000FF"/><rect x="1164.4" y="1984.7" width="10.0" height="17.2" fill="#A9A9A9"/><rect x="1174.3" y="1984.7" width="10.0" height="17.2" fill="#0000FF"/><rect x="1203.0" y="1955.0" width="39.6" height="17.2" fill="#F7FCB9"/><rect x="1242.5" y="1955.0" width="39.6" height="17.2" fill="#007535"/><rect x="1203.0" y="1972.2" width="19.9" height="17.2" fill="#90EE90"/><rect x="1222.8" y="1972.2" width="19.9" height="17.2" fill="#A52A2A"/><rect x="1242.5" y="1972.2" width="19.9" height="17.2" fill="#90EE90"/><rect x="1262.4" y="1972.2" width="19.9" height="17.2" fill="#A52A2A"/><rect x="1203.0" y="1989.4" width="10.0" height="17.2" fill="#A9A9A9"/><rect x="1212.9" y="1989.4" width="10.0" height="17.2" fill="#0000FF"/><rect x="1222.8" y="1989.4" width="10.0" height="17.2" fill="#A9A9A9"/><rect x="1232.7" y="1989.4" width="10.0" height="17.2" fill="#0000FF"/><rect x="1242.5" y="1989.4" width="10.0" height="17.2" fill="#A9A9A9"/><rect x="1252.5" y="1989.4" width="10.0" height="17.2" fill="#0000FF"/><rect x="1262.4" y="1989.4" width="10.0" height="17.2" fill="#A9A9A9"/><rect x="1272.2" y="1989.4" width="10.0" height="17.2" fill="#0000FF"/><rect x="1300.9" y="1960.1" width="39.6" height="17.2" fill="#F7FCB9"/><rect x="1340.5" y="1960.1" width="39.6" height="17.2" fill="#007535"/><rect x="1300.9" y="1977.3" width="19.9" height="17.2" fill="#90EE90"/><rect x="1320.7" y="1977.3" width="19.9" height="17.2" fill="#A52A2A"/><rect x="1340.5" y="1977.3" width="19.9" height="17.2" fill="#90EE90"/><rect x="1360.3" y="1977.3" width="19.9" height="17.2" fill="#A52A2A"/><rect x="1300.9" y="1994.5" width="10.0" height="17.2" fill="#A9A9A9"/><rect x="1310.8" y="1994.5" width="10.0" height="17.2" fill="#0000FF"/><rect x="1320.7" y="1994.5" width="10.0" height="17.2" fill="#A9A9A9"/><rect x="1330.6" y="1994.5" width="10.0" height="17.2" fill="#0000FF"/><rect x="1340.5" y="1994.5" width="10.0" height="17.2" fill="#A9A9A9"/><rect x="1350.4" y="1994.5" width="10.0" height="17.2" fill="#0000FF"/><rect x="1360.3" y="1994.5" width="10.0" height="17.2" fill="#A9A9A9"/><rect x="1370.2" y="1994.5" width="10.0" height="17.2" fill="#0000FF"/><rect x="1398.8" y="1964.8" width="39.6" height="17.2" fill="#F7FCB9"/><rect x="1438.4" y="1964.8" width="39.6" height="17.2" fill="#007535"/><rect x="1398.8" y="1982.0" width="19.9" height="17.2" fill="#90EE90"/><rect x="1418.6" y="1982.0" width="19.9" height="17.2" fill="#A52A2A"/><rect x="1438.4" y="1982.0" width="19.9" height="17.2" fill="#90EE90"/><rect x="1458.2" y="1982.0" width="19.9" height="17.2" fill="#A52A2A"/><rect x="1398.8" y="1999.2" width="10.0" height="17.2" fill="#A9A9A9"/><rect x="1408.8" y="1999.2" width="10.0" height="17.2" fill="#0000FF"/><rect x="1418.6" y="1999.2" width="10.0" height="17.2" fill="#A9A9A9"/><rect x="1428.5" y="1999.2" width="10.0" height="17.2" fill="#0000FF"/><rect x="1438.4" y="1999.2" width="10.0" height="17.2" fill="#A9A9A9"/><rect x="1448.3" y="1999.2" width="10.0" height="17.2" fill="#0000FF"/><rect x="1458.2" y="1999.2" width="10.0" height="17.2" fill="#A9A9A9"/><rect x="1468.1" y="1999.2" width="10.0" height="17.2" fill="#0000FF"/>
<g fill="none" stroke-width="10.00">
<path stroke="#50E4D5" d="M326.3 904.4V940.4M326.3 941.9V956.8M326.3 958.3V965.8M326.3 967.3V970.3M326.3 971.8V976.3M326.3 977.8V991.3M326.3 992.8V1001.8M326.3 1004.8V1015.3M326.3 1016.8V1021.3M326.3 1025.8V1027.3M326.3 1028.8V1030.3M326.3 1036.3V1039.3M326.3 1040.8V1042.3M326.3 1043.8V1046.8M326.3 1048.3V1049.8M326.3 1051.3V1052.8M326.3 1054.3V1055.8M326.3 1058.7V1066.2M326.3 1085.7V1088.7M326.3 1093.2V1094.7M326.3 1097.7V1099.2M326.3 1142.7V1144.2M326.3 1315.0V1352.4M326.3 1353.9V1458.7M326.3 1460.2V1488.6M326.3 1490.1V1533.6M326.3 1535.0V1538.0M326.3 1539.5V1556.0M326.3 1721.0V1751.1M326.3 1757.2V1758.7M326.3 1764.7V1766.2M326.3 1913.0V1914.5M326.3 1916.0V1917.5M326.3 1924.9V1926.4M326.3 1927.9V1929.4M326.3 1930.9V1932.4M326.3 1939.8V1942.8M326.3 1948.8V1950.3M326.3 1956.3V1957.7M326.3 1972.7V1974.2M326.3 1980.1V1981.6M326.3 2001.0V2002.5M336.2 904.4V938.9M336.2 940.4V964.3M336.2 965.8V976.3M336.2 977.8V983.8M336.2 985.3V986.8M336.2 988.3V991.3M336.2 992.8V994.3M336.2 997.3V1001.8M336.2 1004.8V1013.8M336.2 1015.3V1018.3M336.2 1019.8V1021.3M336.2 1027.3V1030.3M336.2 1042.3V1045.3M336.2 1048.3V1052.8M336.2 1057.3V1060.2M336.2 1061.7V1064.7M336.2 1069.2V1070.7M336.2 1073.7V1075.2M336.2 1076.7V1078.2M336.2 1081.2V1082.7M336.2 1085.7V1087.2M336.2 1097.7V1099.2M336.2 1102.2V1103.7M336.2 1106.7V1109.7M336.2 1120.2V1121.7M336.2 1132.2V1133.7M336.2 1181.6V1183.1M336.2 1315.0V1518.6M336.2 1520.1V1526.1M336.2 1527.6V1536.5M336.2 1538.0V1556.0M336.2 1721.0V1734.6M336.2 1737.6V1739.1M336.2 1740.6V1745.1M336.2 1746.6V1752.7M336.2 1757.2V1758.7M336.2 1911.5V1913.0M336.2 1917.5V1920.4M336.2 1921.9V1923.4M336.2 1924.9V1926.4M336.2 1927.9V1929.4M336.2 1939.8V1941.3M336.2 1948.8V1950.3M336.2 1956.3V1959.2M336.2 1983.1V1984.6M336.2 1987.6V1989.1M336.2 1995.0V1996.5M336.2 2001.0V2004.0M346.1 904.4V952.4M346.1 955.4V964.3M346.1 967.3V979.3M346.1 982.3V986.8M346.1 988.3V989.8M346.1 992.8V998.8M346.1 1000.3V1015.3M346.1 1016.8V1024.3M346.1 1025.8V1031.8M346.1 1033.3V1037.8M346.1 1042.3V1043.8M346.1 1048.3V1049.8M346.1 1055.8V1063.2M346.1 1064.7V1066.2M346.1 1067.7V1069.2M346.1 1070.7V1076.7M346.1 1082.7V1084.2M346.1 1091.7V1093.2M346.1 1096.2V1097.7M346.1 1103.7V1106.7M346.1 1111.2V1112.7M346.1 1160.7V1162.1M346.1 1177.1V1178.6M346.1 1559.0V1721.0M346.1 1721.0V1745.1M346.1 1746.6V1748.1M346.1 1749.6V1751.1M346.1 1754.2V1755.7M346.1 2026.8V2028.3M346.1 2043.6V2045.1M356.0 904.4V937.4M356.0 938.9V946.4M356.0 947.9V950.9M356.0 952.4V968.8M356.0 970.3V971.8M356.0 973.3V979.3M356.0 983.8V985.3M356.0 991.3V1001.8M356.0 1003.3V1004.8M356.0 1006.3V1007.8M356.0 1009.3V1019.8M356.0 1022.8V1034.8M356.0 1036.3V1037.8M356.0 1040.8V1043.8M356.0 1045.3V1051.3M356.0 1055.8V1064.7M356.0 1066.2V1069.2M356.0 1072.2V1076.7M356.0 1079.7V1081.2M356.0 1082.7V1084.2M356.0 1085.7V1091.7M356.0 1093.2V1094.7M356.0 1096.2V1097.7M356.0 1103.7V1105.2M356.0 1106.7V1108.2M356.0 1112.7V1117.2M356.0 1150.2V1151.7M356.0 1160.7V1162.1M356.0 1163.6V1165.1M356.0 1196.6V1198.1M356.0 1559.0V1721.0M356.0 1721.0V1743.6M356.0 1746.6V1749.6M356.0 1751.1V1752.7M356.0 1754.2V1755.7M356.0 2007.0V2008.6M356.0 2011.6V2013.1M356.0 2019.2V2020.7M356.0 2028.3V2029.9M365.9 914.9V917.9M365.9 925.4V928.4M365.9 946.4V947.9M365.9 949.4V950.9M365.9 968.8V970.3M365.9 979.3V980.8M365.9 989.8V991.3M365.9 1007.8V1010.8M365.9 1013.8V1015.3M365.9 1021.3V1024.3M365.9 1028.8V1030.3M365.9 1039.3V1040.8M365.9 1043.8V1045.3M365.9 1051.3V1052.8M365.9 1054.3V1055.8M365.9 1072.2V1075.2M365.9 1078.2V1079.7M365.9 1081.2V1082.7M365.9 1090.2V1091.7M365.9 1142.7V1144.2M365.9 1802.4V1910.0M365.9 1911.5V1916.0M365.9 1919.0V1921.9M365.9 1923.4V1924.9M365.9 1927.9V1933.9M365.9 1941.3V1944.3M365.9 1950.3V1951.8M365.9 1960.7V1962.2M365.9 1963.7V1965.2M365.9 1966.7V1968.2M365.9 1971.2V1972.7M365.9 1978.6V1980.1M365.9 1986.1V1987.6M365.9 1990.6V1992.1M365.9 2007.0V2008.6M365.9 2011.6V2013.1M365.9 2017.7V2019.2M365.9 2023.8V2026.8M365.9 2043.6V2045.1M375.8 913.4V914.9M375.8 916.4V917.9M375.8 926.9V929.9M375.8 955.4V956.8M375.8 998.8V1003.3M375.8 1016.8V1018.3M375.8 1040.8V1042.3M375.8 1046.8V1048.3M375.8 1051.3V1052.8M375.8 1063.2V1064.7M375.8 1076.7V1078.2M375.8 1081.2V1082.7M375.8 1093.2V1094.7M375.8 1111.2V1112.7M375.8 1118.7V1120.2M375.8 1129.2V1130.7M375.8 1133.7V1135.2M375.8 1802.4V1910.0M375.8 1913.0V1917.5M375.8 1923.4V1924.9M375.8 1926.4V1927.9M375.8 1938.3V1939.8M375.8 1941.3V1944.3M375.8 1956.3V1957.7M375.8 1959.2V1960.7M375.8 1965.2V1966.7M375.8 1971.2V1972.7M375.8 2004.0V2005.5M375.8 2007.0V2008.6M375.8 2022.3V2025.3M375.8 2035.9V2037.5M375.8 2040.5V2042.0M375.8 2043.6V2045.1M385.7 1727.0V1728.5M385.7 1745.1V1746.6M385.7 1764.7V1766.2M385.7 1954.8V1956.3M385.7 1960.7V1962.2M385.7 1963.7V1965.2M385.7 1972.7V1974.2M385.7 2004.0V2007.0M385.7 2023.8V2025.3M385.7 2028.3V2031.4M385.7 2034.4V2035.9M385.7 2046.6V2070.5M395.6 1737.6V1739.1M395.6 1745.1V1746.6M395.6 1755.7V1757.2M395.6 1772.3V1773.8M395.6 1916.0V1917.5M395.6 1929.4V1930.9M395.6 1972.7V1974.2M395.6 1981.6V1983.1M395.6 2005.5V2007.0M395.6 2014.7V2016.2M395.6 2034.4V2037.5M395.6 2046.6V2066.0M395.6 2067.5V2070.5M424.3 1580.7V1636.3M424.3 1639.3V1645.3M424.3 1648.3V1649.8M424.3 1651.3V1654.3M424.3 1657.3V1658.8M424.3 1660.3V1661.9M424.3 1679.9V1681.4M434.2 1580.7V1636.3M434.2 1637.8V1643.8M434.2 1646.8V1657.3M434.2 1660.3V1661.9M434.2 1694.9V1696.4M444.1 1580.7V1627.3M444.1 1628.8V1649.8M444.1 1652.8V1655.8M444.1 1657.3V1658.8M444.1 1667.9V1669.4M444.1 1670.9V1672.4M454.0 1580.7V1640.8M454.0 1642.3V1643.8M454.0 1645.3V1649.8M454.0 1651.3V1655.8M454.0 1657.3V1658.8M454.0 1667.9V1669.4M454.0 1670.9V1672.4M454.0 1678.4V1679.9M454.0 1681.4V1682.9M463.9 1959.4V1972.9M463.9 1974.4V1975.9M463.9 1980.4V1981.9M463.9 1989.4V1990.9M473.8 1959.4V1977.4M473.8 1983.4V1984.9M473.8 1989.4V1990.9M483.7 1959.4V1974.4M483.7 1975.9V1977.4M483.7 2002.9V2004.4M493.6 1959.4V1974.4M493.6 1975.9V1978.9M493.6 1980.4V1981.9M493.6 1989.4V1990.9M522.2 1678.8V1726.7M522.2 1728.2V1729.7M522.2 1731.2V1734.2M522.2 1735.7V1737.2M522.2 1740.2V1741.7M522.2 1744.7V1746.2M522.2 1747.7V1749.2M522.2 1750.7V1752.2M522.2 1755.2V1759.7M522.2 1770.2V1771.7M522.2 1779.2V1780.6M522.2 1783.6V1786.6M522.2 1792.6V1794.1M522.2 1801.6V1803.1M522.2 1807.6V1810.6M522.2 1818.1V1819.6M522.2 1860.0V1861.5M532.1 1678.8V1716.2M532.1 1717.7V1731.2M532.1 1732.7V1734.2M532.1 1735.7V1737.2M532.1 1738.7V1741.7M532.1 1746.2V1749.2M532.1 1759.7V1761.2M532.1 1762.7V1764.2M532.1 1786.6V1788.1M532.1 1791.1V1794.1M532.1 1797.1V1798.6M532.1 1809.1V1810.6M532.1 1815.1V1818.1M532.1 1819.6V1821.1M532.1 1825.6V1827.1M532.1 1831.6V1833.1M532.1 1854.0V1855.5M532.1 1860.0V1863.0M532.1 1872.0V1875.0M542.0 1881.0V1904.9M542.0 1906.4V1919.9M542.0 1921.4V1934.9M542.0 1937.9V1939.4M542.0 1942.4V1943.8M542.0 1945.3V1946.8M542.0 1949.8V1952.8M542.0 1957.3V1958.8M542.0 1960.3V1961.8M552.0 1881.0V1888.5M552.0 1890.0V1934.9M552.0 1936.4V1946.8M552.0 1949.8V1955.8M552.0 1960.3V1963.3M561.9 1963.3V2008.5M561.9 2014.5V2023.5M561.9 2025.0V2026.5M561.9 2028.0V2029.6M561.9 2031.1V2040.1M571.8 1963.3V2013.0M571.8 2014.5V2019.0M571.8 2020.5V2023.5M571.8 2028.0V2029.6M571.8 2034.1V2035.6M571.8 2040.1V2041.6M581.6 2041.6V2064.4M581.6 2065.9V2070.5M591.5 2041.6V2062.9M591.5 2064.4V2069.0M620.2 1682.0V1712.0M620.2 1713.5V1719.5M620.2 1722.4V1723.9M620.2 1725.4V1726.9M620.2 1737.4V1738.9M620.2 1741.9V1743.4M630.1 1682.0V1713.5M630.1 1715.0V1720.9M630.1 1722.4V1723.9M630.1 1728.4V1731.4M630.1 1732.9V1734.4M630.1 1740.4V1741.9M630.1 1894.7V1896.2M640.0 1981.6V1990.6M640.0 1992.1V1995.2M640.0 1996.7V1999.7M640.0 2005.7V2007.2M649.9 1981.6V1986.1M649.9 1987.6V1992.1M649.9 1993.7V1995.2M649.9 1999.7V2001.2M649.9 2002.7V2004.2M659.8 1682.0V1703.0M659.8 1704.5V1719.5M659.8 1720.9V1726.9M659.8 1728.4V1729.9M659.8 1738.9V1740.4M659.8 1741.9V1743.4M659.8 1761.4V1762.9M659.8 1767.4V1768.9M669.7 1682.0V1719.5M669.7 1720.9V1722.4M669.7 1723.9V1734.4M669.7 1738.9V1740.4M669.7 1761.4V1762.9M679.6 1981.6V1992.1M679.6 1993.7V1995.2M679.6 1998.2V1999.7M679.6 2004.2V2005.7M689.5 1981.6V1990.6M689.5 1992.1V1995.2M689.5 1998.2V1999.7M718.2 1736.2V1737.7M718.2 1912.0V1934.6M718.2 1936.1V1942.1M718.2 1943.6V1945.1M718.2 1949.6V1952.6M718.2 1960.1V1964.6M718.2 1966.1V1969.2M718.2 1973.7V1975.2M718.2 1981.2V1985.7M728.1 1912.0V1933.1M728.1 1934.6V1945.1M728.1 1946.6V1949.6M728.1 1951.1V1952.6M728.1 1955.6V1957.1M728.1 1958.6V1960.1M728.1 1963.1V1964.6M728.1 1966.1V1969.2M728.1 1970.7V1972.2M728.1 1978.2V1981.2M728.1 1984.2V1985.7M738.0 1736.2V1763.2M738.0 1764.7V1779.8M738.0 1782.8V1787.3M738.0 1794.8V1797.8M738.0 1799.3V1802.3M738.0 1806.8V1809.8M738.0 1811.3V1814.3M738.0 1818.8V1821.8M738.0 1826.4V1830.9M738.0 1833.9V1835.4M738.0 1851.9V1853.4M738.0 1863.9V1865.4M738.0 1875.9V1877.4M738.0 1878.9V1880.4M738.0 1881.9V1883.5M738.0 1891.0V1892.5M747.9 1736.2V1767.8M747.9 1769.3V1782.8M747.9 1785.8V1790.3M747.9 1794.8V1797.8M747.9 1799.3V1803.8M747.9 1806.8V1808.3M747.9 1814.3V1815.8M747.9 1824.9V1826.4M747.9 1829.4V1830.9M747.9 1842.9V1844.4M747.9 1860.9V1862.4M747.9 1863.9V1865.4M747.9 1880.4V1881.9M747.9 1885.0V1886.5M757.8 1987.2V2005.5M757.8 2007.0V2014.6M757.8 2016.1V2023.7M757.8 2026.8V2028.3M757.8 2029.8V2032.9M767.7 1987.2V2005.5M767.7 2007.0V2016.1M767.7 2017.6V2023.7M767.7 2026.8V2028.3M767.7 2032.9V2034.4M777.6 2035.9V2055.5M777.6 2057.0V2058.5M777.6 2060.0V2061.5M777.6 2063.0V2066.0M777.6 2069.0V2070.5M787.5 2035.9V2046.4M787.5 2049.4V2052.4M787.5 2054.0V2055.5M787.5 2057.0V2066.0M787.5 2067.5V2070.5M816.1 1866.1V1867.6M816.1 1911.0V1923.1M816.1 1924.6V1930.7M816.1 1932.2V1933.7M816.1 1935.2V1944.3M816.1 1945.8V1947.3M816.1 1948.8V1951.8M816.1 1953.3V1954.9M816.1 1956.4V1957.9M816.1 1959.4V1960.9M816.1 1963.9V1967.0M816.1 1968.5V1970.0M816.1 1971.5V1973.0M816.1 1976.0V1977.5M816.1 1979.1V1982.1M826.0 1911.0V1926.1M826.0 1927.6V1942.8M826.0 1944.3V1945.8M826.0 1947.3V1953.3M826.0 1956.4V1960.9M826.0 1963.9V1970.0M826.0 1971.5V1974.5M826.0 1980.6V1982.1M826.0 1991.2V1992.7M835.9 1995.7V1997.2M835.9 1998.7V2019.7M835.9 2021.2V2030.1M835.9 2031.6V2039.1M835.9 2042.1V2049.6M835.9 2054.1V2055.6M845.8 1995.7V1997.2M845.8 1998.7V2019.7M845.8 2021.2V2034.6M845.8 2036.1V2048.1M855.7 1797.2V1834.6M855.7 1836.1V1846.6M855.7 1848.1V1849.6M855.7 1852.6V1854.1M855.7 1855.6V1863.1M855.7 1864.6V1867.6M855.7 1869.1V1876.6M855.7 1878.1V1884.0M855.7 1887.0V1888.5M855.7 1890.0V1893.0M855.7 1894.5V1896.0M855.7 1902.0V1903.5M855.7 1906.5V1908.0M855.7 1909.5V1911.0M865.6 1797.2V1827.1M865.6 1828.6V1843.6M865.6 1845.1V1846.6M865.6 1848.1V1852.6M865.6 1857.1V1861.6M865.6 1866.1V1867.6M865.6 1870.6V1873.6M865.6 1875.1V1878.1M865.6 1882.5V1884.0M865.6 1888.5V1891.5M865.6 1893.0V1894.5M865.6 1896.0V1897.5M865.6 1902.0V1905.0M875.5 2057.1V2070.5M885.4 2057.1V2058.6M885.4 2060.1V2069.0M914.1 1998.2V2005.7M914.1 2007.2V2008.7M914.1 2010.2V2011.8M924.0 1998.2V2005.7M924.0 2010.2V2011.8M924.0 2019.3V2020.8M933.9 1828.4V1843.4M933.9 1844.9V1847.9M933.9 1849.4V1850.9M933.9 1852.4V1853.9M933.9 1860.0V1863.0M933.9 1882.5V1884.0M943.8 1828.4V1837.4M943.8 1838.9V1840.4M943.8 1841.9V1843.4M943.8 1846.4V1850.9M943.8 1852.4V1855.4M943.8 1860.0V1861.5M943.8 1867.5V1869.0M953.7 1828.4V1841.9M953.7 1843.4V1846.4M953.7 1849.4V1852.4M953.7 1853.9V1855.4M953.7 1857.0V1860.0M963.6 1828.4V1841.9M963.6 1843.4V1844.9M963.6 1846.4V1847.9M963.6 1849.4V1850.9M963.6 1852.4V1853.9M963.6 1855.4V1857.0M963.6 1858.5V1863.0M973.5 1998.2V2005.7M973.5 2007.2V2013.3M983.4 1998.2V2005.7M983.4 2007.2V2008.7M1031.8 2022.2V2023.7M1031.8 2037.3V2038.8M1031.8 2049.4V2050.9M1031.8 2063.0V2064.5M1041.7 2004.0V2064.5M1061.5 2066.0V2069.0M1081.3 2066.0V2067.5M1110.0 2040.5V2043.5M1110.0 2066.0V2067.5M1119.9 2034.5V2036.0M1119.9 2037.5V2046.5M1119.9 2048.0V2052.5M1119.9 2054.0V2063.0M1119.9 2064.5V2066.0M1119.9 2066.0V2069.0M1129.8 2009.5V2019.8M1129.8 2030.1V2031.6M1129.8 2055.5V2057.0M1139.7 2009.5V2013.9M1139.7 2037.5V2040.5M1139.7 2043.5V2045.0M1139.7 2048.0V2051.0M1139.7 2052.5V2054.0M1139.7 2055.5V2057.0M1139.7 2058.5V2061.5M1139.7 2066.0V2067.5M1149.5 2019.8V2025.7M1149.5 2027.1V2030.1M1149.5 2031.6V2034.5M1159.5 2048.0V2049.5M1159.5 2057.0V2058.5M1169.4 2022.7V2024.2M1179.2 2066.0V2067.5M1207.9 2014.3V2017.3M1207.9 2020.3V2023.3M1207.9 2026.3V2027.8M1207.9 2036.7V2038.2M1207.9 2041.2V2042.7M1217.8 2036.7V2038.2M1237.6 2051.6V2053.0M1237.6 2063.0V2064.5M1237.6 2067.5V2070.5M1247.5 2030.8V2032.2M1247.5 2035.2V2036.7M1247.5 2044.2V2045.7M1257.4 2020.3V2021.8M1257.4 2054.4V2057.2M1277.2 2061.5V2063.0M1277.2 2064.5V2067.5M1305.9 2022.1V2023.7M1305.9 2029.8V2031.4M1305.9 2049.2V2050.7M1305.9 2062.5V2064.0M1315.8 2037.5V2041.9M1315.8 2052.2V2053.7M1315.8 2061.1V2062.5M1325.7 2019.0V2020.5M1325.7 2025.2V2026.8M1335.6 2034.5V2036.0M1335.6 2037.5V2038.9M1335.6 2040.4V2050.7M1335.6 2052.2V2053.7M1335.6 2055.2V2056.6M1335.6 2058.1V2062.5M1375.2 2065.6V2070.5M1403.8 2037.5V2039.0M1423.6 2045.0V2046.5M1433.5 2060.0V2061.5M1453.3 2052.5V2054.0M1473.1 2063.0V2064.5"/>
<path stroke="#4ACFC1" d="M326.3 940.4V941.9M326.3 956.8V958.3M326.3 965.8V967.3M326.3 1001.8V1004.8M326.3 1022.8V1024.3M326.3 1030.3V1031.8M326.3 1039.3V1040.8M326.3 1042.3V1043.8M326.3 1052.8V1054.3M326.3 1055.8V1057.3M326.3 1066.2V1067.7M326.3 1069.2V1072.2M326.3 1076.7V1078.2M326.3 1094.7V1097.7M326.3 1099.2V1100.7M326.3 1106.7V1109.7M326.3 1126.2V1127.7M326.3 1160.7V1162.1M326.3 1165.1V1166.6M326.3 1352.4V1353.9M326.3 1458.7V1460.2M326.3 1488.6V1490.1M326.3 1533.6V1535.0M326.3 1538.0V1539.5M326.3 1556.0V1559.0M326.3 1688.0V1689.5M326.3 1751.1V1752.7M326.3 1754.2V1755.7M326.3 1911.5V1913.0M326.3 1914.5V1916.0M326.3 1921.9V1923.4M326.3 1953.3V1954.8M326.3 1977.1V1978.6M326.3 1995.0V1998.0M336.2 938.9V940.4M336.2 964.3V965.8M336.2 976.3V977.8M336.2 986.8V988.3M336.2 991.3V992.8M336.2 1021.3V1022.8M336.2 1025.8V1027.3M336.2 1030.3V1034.8M336.2 1037.8V1039.3M336.2 1046.8V1048.3M336.2 1052.8V1054.3M336.2 1055.8V1057.3M336.2 1064.7V1066.2M336.2 1070.7V1072.2M336.2 1099.2V1102.2M336.2 1103.7V1105.2M336.2 1109.7V1111.2M336.2 1118.7V1120.2M336.2 1124.7V1126.2M336.2 1129.2V1130.7M336.2 1136.7V1138.2M336.2 1160.7V1162.1M336.2 1174.1V1175.6M336.2 1186.1V1187.6M336.2 1526.1V1527.6M336.2 1536.5V1538.0M336.2 1556.0V1557.5M336.2 1665.5V1667.0M336.2 1736.1V1737.6M336.2 1739.1V1740.6M336.2 1766.2V1767.7M336.2 1913.0V1914.5M336.2 1951.8V1953.3M336.2 1960.7V1962.2M336.2 1968.2V1969.7M346.1 952.4V955.4M346.1 989.8V992.8M346.1 1031.8V1033.3M346.1 1037.8V1039.3M346.1 1046.8V1048.3M346.1 1049.8V1051.3M346.1 1052.8V1055.8M346.1 1076.7V1078.2M346.1 1085.7V1088.7M346.1 1090.2V1091.7M346.1 1093.2V1096.2M346.1 1097.7V1099.2M346.1 1102.2V1103.7M346.1 1112.7V1115.7M346.1 1118.7V1120.2M346.1 1121.7V1123.2M346.1 1135.2V1136.7M346.1 1141.2V1144.2M346.1 1151.7V1153.2M346.1 1157.7V1160.7M346.1 1162.1V1163.6M346.1 1165.1V1166.6M346.1 1178.6V1180.1M346.1 1181.6V1183.1M346.1 1186.1V1187.6M346.1 1748.1V1749.6M346.1 1760.2V1761.7M346.1 2019.2V2020.7M356.0 946.4V947.9M356.0 950.9V952.4M356.0 971.8V973.3M356.0 979.3V980.8M356.0 985.3V986.8M356.0 989.8V991.3M356.0 1001.8V1003.3M356.0 1007.8V1009.3M356.0 1019.8V1021.3M356.0 1034.8V1036.3M356.0 1039.3V1040.8M356.0 1051.3V1052.8M356.0 1054.3V1055.8M356.0 1070.7V1072.2M356.0 1091.7V1093.2M356.0 1097.7V1099.2M356.0 1111.2V1112.7M356.0 1141.2V1142.7M356.0 1147.2V1150.2M356.0 1151.7V1153.2M356.0 1165.1V1166.6M356.0 1749.6V1751.1M356.0 1769.2V1770.7M356.0 2040.5V2042.0M365.9 907.4V908.9M365.9 920.9V922.4M365.9 1001.8V1003.3M365.9 1024.3V1025.8M365.9 1049.8V1051.3M365.9 1064.7V1066.2M365.9 1076.7V1078.2M365.9 1088.7V1090.2M365.9 1094.7V1096.2M365.9 1102.2V1103.7M365.9 1114.2V1115.7M365.9 1118.7V1121.7M365.9 1174.1V1175.6M365.9 1346.4V1347.9M365.9 1916.0V1917.5M365.9 1935.4V1936.9M365.9 1944.3V1945.8M365.9 1956.3V1957.7M365.9 1974.2V1977.1M365.9 1989.1V1990.6M365.9 1992.1V1993.6M365.9 2013.1V2014.7M365.9 2026.8V2028.3M365.9 2035.9V2037.5M365.9 2040.5V2042.0M375.8 908.9V910.4M375.8 914.9V916.4M375.8 919.4V920.9M375.8 944.9V946.4M375.8 956.8V958.3M375.8 965.8V967.3M375.8 992.8V994.3M375.8 1007.8V1010.8M375.8 1013.8V1015.3M375.8 1084.2V1087.2M375.8 1096.2V1097.7M375.8 1114.2V1115.7M375.8 1126.2V1127.7M375.8 1138.2V1141.2M375.8 1145.7V1147.2M375.8 1174.1V1175.6M375.8 1211.6V1213.1M375.8 1917.5V1919.0M375.8 1920.4V1923.4M375.8 1927.9V1929.4M375.8 1935.4V1936.9M375.8 1939.8V1941.3M375.8 1944.3V1947.3M375.8 1950.3V1951.8M375.8 1954.8V1956.3M375.8 1963.7V1965.2M375.8 1978.6V1981.6M375.8 1983.1V1984.6M375.8 2001.0V2002.5M375.8 2005.5V2007.0M375.8 2011.6V2013.1M375.8 2042.0V2043.6M385.7 1755.7V1757.2M385.7 1796.4V1797.9M385.7 1924.9V1926.4M385.7 2025.3V2026.8M385.7 2037.5V2039.0M395.6 1754.2V1755.7M395.6 1769.2V1770.7M395.6 1782.8V1784.3M395.6 1971.2V1972.7M395.6 2010.1V2011.6M395.6 2023.8V2025.3M395.6 2026.8V2028.3M395.6 2029.9V2031.4M395.6 2039.0V2040.5M395.6 2066.0V2067.5M424.3 1636.3V1639.3M424.3 1646.8V1648.3M424.3 1649.8V1651.3M424.3 1654.3V1655.8M424.3 1663.4V1664.9M424.3 1678.4V1679.9M424.3 1687.4V1688.9M424.3 1690.4V1691.9M434.2 1636.3V1637.8M434.2 1645.3V1646.8M434.2 1657.3V1658.8M434.2 1661.9V1663.4M434.2 1667.9V1670.9M434.2 1679.9V1681.4M434.2 1690.4V1691.9M444.1 1649.8V1652.8M444.1 1661.9V1663.4M444.1 1664.9V1667.9M444.1 1673.9V1675.4M444.1 1678.4V1679.9M444.1 1684.4V1685.9M444.1 1703.9V1705.4M444.1 1737.0V1738.5M454.0 1643.8V1645.3M454.0 1649.8V1651.3M454.0 1655.8V1657.3M454.0 1664.9V1667.9M454.0 1672.4V1673.9M454.0 1679.9V1681.4M454.0 1747.5V1749.0M463.9 1975.9V1978.9M463.9 1983.4V1987.9M463.9 1992.4V1995.4M473.8 1977.4V1978.9M473.8 1986.4V1987.9M473.8 1990.9V1992.4M473.8 1996.9V1998.4M483.7 1977.4V1981.9M483.7 1989.4V1990.9M493.6 1986.4V1987.9M493.6 1993.9V1995.4M493.6 1998.4V1999.9M493.6 2007.4V2008.9M522.2 1729.7V1731.2M522.2 1746.2V1747.7M522.2 1749.2V1750.7M522.2 1752.2V1753.7M522.2 1762.7V1764.2M522.2 1789.6V1792.6M522.2 1798.6V1800.1M522.2 1804.6V1807.6M522.2 1810.6V1813.6M522.2 1816.6V1818.1M522.2 1822.6V1824.1M522.2 1864.5V1866.0M532.1 1731.2V1732.7M532.1 1737.2V1738.7M532.1 1741.7V1743.2M532.1 1750.7V1752.2M532.1 1753.7V1755.2M532.1 1756.7V1759.7M532.1 1770.2V1771.7M532.1 1773.2V1774.7M532.1 1779.2V1780.6M532.1 1782.1V1783.6M532.1 1806.1V1807.6M532.1 1866.0V1867.5M542.0 1936.4V1937.9M542.0 1940.9V1942.4M542.0 1943.8V1945.3M542.0 1954.3V1955.8M542.0 1961.8V1963.3M552.0 1958.8V1960.3M561.9 2023.5V2025.0M571.8 2019.0V2020.5M571.8 2031.1V2032.6M571.8 2037.1V2038.6M581.6 2064.4V2065.9M591.5 2069.0V2070.5M620.2 1712.0V1713.5M620.2 1719.5V1720.9M620.2 1729.9V1731.4M620.2 1743.4V1744.9M620.2 1764.4V1765.9M630.1 1713.5V1715.0M630.1 1723.9V1725.4M630.1 1731.4V1732.9M630.1 1735.9V1737.4M630.1 1743.4V1744.9M630.1 1747.9V1749.4M630.1 1771.9V1773.4M640.0 1990.6V1992.1M640.0 1995.2V1996.7M640.0 1999.7V2001.2M640.0 2002.7V2004.2M640.0 2011.7V2013.2M640.0 2022.3V2023.8M649.9 1996.7V1998.2M649.9 2004.2V2005.7M649.9 2016.3V2017.8M659.8 1703.0V1704.5M659.8 1726.9V1728.4M659.8 1731.4V1732.9M659.8 1735.9V1737.4M659.8 1746.4V1747.9M659.8 1758.4V1759.9M669.7 1722.4V1723.9M669.7 1735.9V1737.4M669.7 1767.4V1768.9M679.6 1992.1V1993.7M679.6 1999.7V2002.7M689.5 1990.6V1992.1M689.5 1995.2V1998.2M689.5 2001.2V2002.7M689.5 2004.2V2005.7M689.5 2025.3V2026.8M718.2 1942.1V1943.6M718.2 1955.6V1957.1M728.1 1952.6V1954.1M728.1 1960.1V1961.6M738.0 1763.2V1764.7M738.0 1787.3V1788.8M738.0 1790.3V1791.8M738.0 1793.3V1794.8M738.0 1797.8V1799.3M738.0 1814.3V1815.8M738.0 1842.9V1844.4M738.0 1862.4V1863.9M738.0 1869.9V1871.4M738.0 1883.5V1885.0M738.0 1892.5V1894.0M738.0 1898.5V1900.0M747.9 1767.8V1769.3M747.9 1782.8V1784.3M747.9 1808.3V1809.8M747.9 1811.3V1814.3M747.9 1815.8V1817.3M747.9 1820.3V1823.3M747.9 1833.9V1835.4M747.9 1851.9V1853.4M747.9 1872.9V1874.4M747.9 1886.5V1888.0M757.8 2014.6V2016.1M757.8 2025.2V2026.8M757.8 2032.9V2034.4M767.7 2029.8V2031.3M777.6 2029.8V2031.3M777.6 2058.5V2060.0M777.6 2061.5V2063.0M777.6 2067.5V2069.0M787.5 1955.6V1957.1M787.5 2047.9V2049.4M787.5 2052.4V2054.0M816.1 1923.1V1924.6M816.1 1930.7V1932.2M816.1 1947.3V1948.8M816.1 1957.9V1959.4M826.0 1870.6V1872.1M826.0 1926.1V1927.6M826.0 1942.8V1944.3M826.0 1954.9V1956.4M826.0 1960.9V1962.4M826.0 1970.0V1971.5M826.0 1976.0V1977.5M835.9 2019.7V2021.2M835.9 2030.1V2031.6M835.9 2040.6V2042.1M835.9 2049.6V2051.1M845.8 2019.7V2021.2M845.8 2034.6V2036.1M855.7 1846.6V1848.1M855.7 1849.6V1852.6M855.7 1884.0V1885.5M855.7 1888.5V1890.0M865.6 1843.6V1845.1M865.6 1852.6V1857.1M865.6 1878.1V1881.1M865.6 1885.5V1887.0M865.6 1905.0V1906.5M865.6 1909.5V1911.0M914.1 2008.7V2010.2M914.1 2013.3V2014.8M914.1 2035.9V2037.4M924.0 2005.7V2008.7M924.0 2011.8V2013.3M924.0 2023.8V2025.3M933.9 1843.4V1844.9M933.9 1847.9V1849.4M933.9 1855.4V1857.0M933.9 1866.0V1867.5M943.8 1837.4V1838.9M943.8 1840.4V1841.9M943.8 1857.0V1858.5M943.8 1861.5V1863.0M953.7 1847.9V1849.4M953.7 1852.4V1853.9M953.7 1855.4V1857.0M963.6 1844.9V1846.4M963.6 1850.9V1852.4M963.6 1857.0V1858.5M963.6 1866.0V1867.5M973.5 2013.3V2014.8M983.4 2008.7V2011.8M983.4 2016.3V2019.3M983.4 2022.3V2023.8M1031.8 2011.6V2013.1M1031.8 2031.2V2032.7M1031.8 2052.4V2053.9M1061.5 2064.5V2066.0M1081.3 2037.3V2038.8M1081.3 2064.5V2066.0M1110.0 2048.0V2049.5M1110.0 2057.0V2058.5M1119.9 2069.0V2070.5M1139.7 2036.0V2037.5M1149.5 2018.3V2019.8M1149.5 2030.1V2031.6M1159.5 2054.0V2055.5M1169.4 2019.8V2021.3M1179.2 2067.5V2069.0M1207.9 2017.3V2018.8M1207.9 2024.8V2026.3M1217.8 2039.7V2041.2M1237.6 2061.5V2063.0M1237.6 2066.0V2067.5M1247.5 2020.3V2021.8M1247.5 2024.8V2026.3M1247.5 2027.8V2029.3M1247.5 2038.2V2039.7M1247.5 2047.2V2048.7M1257.4 2050.2V2051.6M1257.4 2058.6V2060.0M1277.2 2060.0V2061.5M1305.9 2025.2V2026.8M1305.9 2052.2V2053.7M1305.9 2061.1V2062.5M1315.8 2044.8V2046.3M1315.8 2050.7V2052.2M1315.8 2053.7V2055.2M1325.7 2022.1V2023.7M1335.6 2038.9V2040.4M1335.6 2050.7V2052.2M1335.6 2053.7V2055.2M1355.4 2067.2V2068.9M1403.8 2024.1V2025.6M1433.5 2055.5V2057.0M1433.5 2063.0V2064.5M1453.3 2060.0V2061.5"/>
<path stroke="#43BAAE" d="M326.3 970.3V971.8M326.3 976.3V977.8M326.3 991.3V992.8M326.3 1033.3V1034.8M326.3 1046.8V1048.3M326.3 1049.8V1051.3M326.3 1067.7V1069.2M326.3 1075.2V1076.7M326.3 1078.2V1079.7M326.3 1081.2V1084.2M326.3 1100.7V1102.2M326.3 1103.7V1105.2M326.3 1109.7V1112.7M326.3 1129.2V1133.7M326.3 1136.7V1138.2M326.3 1139.7V1141.2M326.3 1145.7V1147.2M326.3 1148.7V1150.2M326.3 1169.6V1171.1M326.3 1183.1V1184.6M326.3 1186.1V1190.6M326.3 1193.6V1195.1M326.3 1198.1V1199.6M326.3 1207.1V1208.6M326.3 1237.1V1238.6M326.3 1244.6V1246.1M326.3 1247.6V1249.1M326.3 1602.5V1604.0M326.3 1758.7V1760.2M326.3 1920.4V1921.9M326.3 1933.9V1935.4M326.3 1944.3V1945.8M326.3 1968.2V1969.7M326.3 1974.2V1975.7M326.3 1984.6V1989.1M326.3 1998.0V1999.5M336.2 1013.8V1015.3M336.2 1024.3V1025.8M336.2 1036.3V1037.8M336.2 1040.8V1042.3M336.2 1045.3V1046.8M336.2 1054.3V1055.8M336.2 1060.2V1061.7M336.2 1067.7V1069.2M336.2 1072.2V1073.7M336.2 1079.7V1081.2M336.2 1084.2V1085.7M336.2 1087.2V1088.7M336.2 1091.7V1094.7M336.2 1112.7V1114.2M336.2 1121.7V1123.2M336.2 1126.2V1127.7M336.2 1142.7V1145.7M336.2 1150.2V1151.7M336.2 1153.2V1154.7M336.2 1157.7V1160.7M336.2 1183.1V1184.6M336.2 1192.1V1193.6M336.2 1204.1V1205.6M336.2 1244.6V1246.1M336.2 1557.5V1559.0M336.2 1734.6V1736.1M336.2 1752.7V1755.7M336.2 1775.3V1776.8M336.2 1942.8V1944.3M336.2 1947.3V1948.8M336.2 1972.7V1974.2M336.2 1986.1V1987.6M336.2 1999.5V2001.0M346.1 964.3V967.3M346.1 980.8V982.3M346.1 998.8V1000.3M346.1 1024.3V1025.8M346.1 1039.3V1042.3M346.1 1045.3V1046.8M346.1 1051.3V1052.8M346.1 1066.2V1067.7M346.1 1069.2V1070.7M346.1 1079.7V1082.7M346.1 1084.2V1085.7M346.1 1088.7V1090.2M346.1 1100.7V1102.2M346.1 1109.7V1111.2M346.1 1123.2V1124.7M346.1 1129.2V1132.2M346.1 1133.7V1135.2M346.1 1150.2V1151.7M346.1 1153.2V1154.7M346.1 1168.1V1169.6M346.1 1174.1V1175.6M346.1 1180.1V1181.6M346.1 1219.1V1220.6M346.1 1268.5V1270.0M346.1 1319.5V1321.0M346.1 1556.0V1557.5M346.1 1745.1V1746.6M346.1 1755.7V1757.2M346.1 1758.7V1760.2M346.1 1764.7V1766.2M356.0 937.4V938.9M356.0 968.8V970.3M356.0 980.8V983.8M356.0 1004.8V1006.3M356.0 1043.8V1045.3M356.0 1069.2V1070.7M356.0 1076.7V1078.2M356.0 1094.7V1096.2M356.0 1108.2V1111.2M356.0 1117.2V1120.2M356.0 1129.2V1132.2M356.0 1142.7V1144.2M356.0 1154.7V1157.7M356.0 1159.2V1160.7M356.0 1162.1V1163.6M356.0 1198.1V1199.6M356.0 1286.5V1288.0M356.0 1745.1V1746.6M356.0 1752.7V1754.2M356.0 1757.2V1758.7M356.0 1766.2V1767.7M356.0 2005.5V2007.0M356.0 2013.1V2014.7M356.0 2020.7V2022.3M356.0 2026.8V2028.3M356.0 2029.9V2031.4M356.0 2034.4V2035.9M365.9 928.4V929.9M365.9 947.9V949.4M365.9 953.9V955.4M365.9 985.3V986.8M365.9 1004.8V1007.8M365.9 1010.8V1012.3M365.9 1016.8V1021.3M365.9 1042.3V1043.8M365.9 1045.3V1046.8M365.9 1079.7V1081.2M365.9 1082.7V1084.2M365.9 1087.2V1088.7M365.9 1117.2V1118.7M365.9 1129.2V1130.7M365.9 1136.7V1138.2M365.9 1141.2V1142.7M365.9 1144.2V1145.7M365.9 1153.2V1154.7M365.9 1168.1V1171.1M365.9 1187.6V1189.1M365.9 1217.6V1219.1M365.9 1917.5V1919.0M365.9 1926.4V1927.9M365.9 1959.2V1960.7M365.9 1965.2V1966.7M365.9 1969.7V1971.2M365.9 1972.7V1974.2M365.9 2004.0V2005.5M365.9 2008.6V2011.6M365.9 2037.5V2039.0M375.8 938.9V940.4M375.8 968.8V970.3M375.8 1021.3V1022.8M375.8 1024.3V1027.3M375.8 1042.3V1043.8M375.8 1048.3V1049.8M375.8 1064.7V1066.2M375.8 1072.2V1073.7M375.8 1088.7V1090.2M375.8 1094.7V1096.2M375.8 1103.7V1106.7M375.8 1108.2V1109.7M375.8 1117.2V1118.7M375.8 1123.2V1124.7M375.8 1144.2V1145.7M375.8 1175.6V1177.1M375.8 1180.1V1181.6M375.8 1192.1V1195.1M375.8 1228.1V1229.6M375.8 1530.6V1532.1M375.8 1929.4V1930.9M375.8 1932.4V1933.9M375.8 1947.3V1948.8M375.8 1953.3V1954.8M375.8 1962.2V1963.7M375.8 1968.2V1969.7M375.8 1984.6V1986.1M375.8 1989.1V1990.6M375.8 1995.0V1996.5M375.8 2032.9V2034.4M375.8 2037.5V2039.0M385.7 1721.0V1722.5M385.7 1737.6V1739.1M385.7 1743.6V1745.1M385.7 1748.1V1749.6M385.7 1754.2V1755.7M385.7 1763.2V1764.7M385.7 1769.2V1770.7M385.7 1916.0V1917.5M385.7 2019.2V2020.7M385.7 2032.9V2034.4M395.6 1743.6V1745.1M395.6 1779.8V1781.3M395.6 1919.0V1920.4M395.6 1939.8V1941.3M395.6 1947.3V1950.3M395.6 1954.8V1956.3M395.6 2025.3V2026.8M395.6 2028.3V2029.9M395.6 2037.5V2039.0M395.6 2042.0V2043.6M395.6 2045.1V2046.6M424.3 1645.3V1646.8M424.3 1655.8V1657.3M424.3 1661.9V1663.4M424.3 1664.9V1666.4M424.3 1667.9V1669.4M424.3 1672.4V1673.9M424.3 1676.9V1678.4M424.3 1697.9V1699.4M424.3 1706.9V1708.4M424.3 1711.4V1712.9M424.3 1780.6V1782.1M434.2 1643.8V1645.3M434.2 1663.4V1667.9M434.2 1670.9V1672.4M434.2 1697.9V1699.4M434.2 1705.4V1706.9M434.2 1708.4V1709.9M434.2 1719.0V1720.5M434.2 1732.5V1734.0M444.1 1627.3V1628.8M444.1 1658.8V1661.9M444.1 1669.4V1670.9M444.1 1672.4V1673.9M444.1 1696.4V1697.9M444.1 1708.4V1709.9M444.1 1714.4V1716.0M454.0 1640.8V1642.3M454.0 1669.4V1670.9M454.0 1673.9V1675.4M454.0 1676.9V1678.4M463.9 1987.9V1989.4M463.9 1995.4V1996.9M463.9 2002.9V2004.4M463.9 2015.0V2016.5M473.8 1980.4V1981.9M473.8 1987.9V1989.4M473.8 1992.4V1995.4M473.8 2002.9V2005.9M473.8 2007.4V2008.9M473.8 2024.0V2025.5M483.7 1974.4V1975.9M483.7 1981.9V1984.9M483.7 1986.4V1987.9M483.7 1990.9V1992.4M483.7 1993.9V1995.4M493.6 1978.9V1980.4M493.6 1984.9V1986.4M493.6 2004.4V2005.9M522.2 1726.7V1728.2M522.2 1753.7V1755.2M522.2 1761.2V1762.7M522.2 1767.2V1768.7M522.2 1777.7V1779.2M522.2 1794.1V1795.6M522.2 1797.1V1798.6M522.2 1803.1V1804.6M522.2 1819.6V1821.1M522.2 1845.1V1846.6M522.2 1861.5V1863.0M522.2 1866.0V1867.5M532.1 1734.2V1735.7M532.1 1743.2V1746.2M532.1 1752.2V1753.7M532.1 1755.2V1756.7M532.1 1761.2V1762.7M532.1 1767.2V1768.7M532.1 1774.7V1776.2M532.1 1783.6V1786.6M532.1 1789.6V1791.1M532.1 1810.6V1812.1M532.1 1839.1V1840.6M532.1 1951.3V1952.8M542.0 1750.7V1752.2M542.0 1934.9V1936.4M542.0 1939.4V1940.9M542.0 1952.8V1954.3M542.0 1955.8V1957.3M552.0 1888.5V1890.0M552.0 1946.8V1948.3M561.9 1791.1V1792.6M561.9 2011.5V2013.0M571.8 2025.0V2026.5M571.8 2035.6V2037.1M591.5 2062.9V2064.4M620.2 1726.9V1729.9M620.2 1731.4V1737.4M620.2 1749.4V1750.9M620.2 1776.4V1777.9M630.1 1720.9V1722.4M630.1 1725.4V1728.4M630.1 1734.4V1735.9M630.1 1737.4V1738.9M630.1 1758.4V1759.9M630.1 1786.9V1788.4M640.0 2007.2V2008.7M640.0 2013.2V2014.7M640.0 2016.3V2017.8M649.9 1986.1V1987.6M649.9 1992.1V1993.7M649.9 1995.2V1996.7M649.9 1998.2V1999.7M649.9 2005.7V2010.2M649.9 2011.7V2014.7M649.9 2028.3V2029.8M649.9 2060.0V2061.5M659.8 1719.5V1720.9M659.8 1729.9V1731.4M659.8 1732.9V1735.9M659.8 1737.4V1738.9M659.8 1743.4V1744.9M659.8 1747.9V1749.4M659.8 1753.9V1755.4M659.8 1858.8V1860.3M669.7 1734.4V1735.9M669.7 1737.4V1738.9M669.7 1759.9V1761.4M669.7 1779.4V1780.9M669.7 1803.3V1804.8M669.7 1806.3V1807.8M679.6 1995.2V1996.7M679.6 2022.3V2023.8M689.5 1999.7V2001.2M689.5 2002.7V2004.2M689.5 2005.7V2008.7M689.5 2016.3V2017.8M689.5 2038.9V2040.4M718.2 1946.6V1948.1M718.2 1954.1V1955.6M718.2 1972.2V1973.7M718.2 1975.2V1976.7M728.1 1949.6V1951.1M728.1 1957.1V1958.6M728.1 1972.2V1975.2M738.0 1779.8V1782.8M738.0 1791.8V1793.3M738.0 1803.8V1806.8M738.0 1824.9V1826.4M738.0 1859.4V1860.9M738.0 1868.4V1869.9M738.0 1877.4V1878.9M738.0 1880.4V1881.9M738.0 1903.0V1904.5M738.0 1906.0V1907.5M747.9 1784.3V1785.8M747.9 1791.8V1793.3M747.9 1835.4V1836.9M747.9 1838.4V1839.9M747.9 1862.4V1863.9M767.7 2005.5V2007.0M767.7 2016.1V2017.6M767.7 2025.2V2026.8M767.7 2031.3V2032.9M787.5 1931.6V1933.1M787.5 1987.2V1988.7M787.5 2046.4V2047.9M816.1 1933.7V1935.2M816.1 1944.3V1945.8M816.1 1951.8V1953.3M816.1 1970.0V1971.5M816.1 1986.6V1988.1M816.1 1991.2V1994.2M826.0 1866.1V1867.6M826.0 1953.3V1954.9M835.9 1997.2V1998.7M835.9 2051.1V2052.6M845.8 2048.1V2049.6M845.8 2052.6V2054.1M855.7 1834.6V1836.1M855.7 1854.1V1855.6M855.7 1863.1V1864.6M855.7 1885.5V1887.0M865.6 1861.6V1864.6M865.6 1873.6V1875.1M865.6 1887.0V1888.5M865.6 1899.0V1902.0M865.6 1947.3V1948.8M885.4 2069.0V2070.5M914.1 2011.8V2013.3M914.1 2014.8V2016.3M914.1 2020.8V2022.3M914.1 2047.9V2049.4M924.0 2008.7V2010.2M924.0 2013.3V2016.3M924.0 2032.8V2034.3M924.0 2037.4V2038.9M933.9 1850.9V1852.4M933.9 1857.0V1858.5M933.9 1867.5V1869.0M933.9 1878.0V1879.5M943.8 1843.4V1844.9M943.8 1855.4V1857.0M943.8 1858.5V1860.0M943.8 1863.0V1864.5M943.8 1882.5V1884.0M943.8 1905.0V1906.5M953.7 1841.9V1843.4M953.7 1846.4V1847.9M953.7 1861.5V1863.0M953.7 1864.5V1866.0M953.7 1870.5V1872.0M963.6 1873.5V1875.0M973.5 2005.7V2007.2M973.5 2020.8V2023.8M973.5 2025.3V2026.8M983.4 2011.8V2014.8M1031.8 2010.0V2011.6M1031.8 2014.6V2016.1M1031.8 2028.2V2029.7M1031.8 2043.3V2044.8M1061.5 2069.0V2070.5M1081.3 2008.5V2010.0M1081.3 2053.9V2055.4M1110.0 2039.0V2040.5M1110.0 2055.5V2057.0M1119.9 2046.5V2048.0M1119.9 2052.5V2054.0M1119.9 2063.0V2064.5M1139.7 2034.5V2036.0M1139.7 2045.0V2046.5M1139.7 2067.5V2069.0M1149.5 2025.7V2027.1M1159.5 2037.5V2039.0M1159.5 2046.5V2048.0M1159.5 2052.5V2054.0M1159.5 2055.5V2057.0M1179.2 2069.0V2070.5M1207.9 2029.3V2030.8M1207.9 2039.7V2041.2M1207.9 2042.7V2045.7M1217.8 2029.3V2030.8M1217.8 2055.8V2057.2M1247.5 2014.3V2015.8M1247.5 2017.3V2018.8M1247.5 2021.8V2024.8M1247.5 2029.3V2030.8M1247.5 2032.2V2033.7M1247.5 2041.2V2044.2M1257.4 2024.8V2026.3M1257.4 2044.2V2045.7M1257.4 2047.2V2048.7M1257.4 2051.6V2054.4M1257.4 2057.2V2058.6M1277.2 2063.0V2064.5M1305.9 2036.0V2037.5M1315.8 2036.0V2037.5M1315.8 2046.3V2047.8M1315.8 2056.6V2058.1M1325.7 2023.7V2025.2M1325.7 2029.8V2034.5M1335.6 2056.6V2058.1M1403.8 2030.1V2031.6M1413.7 2024.1V2025.6M1413.7 2055.5V2057.0M1413.7 2060.0V2061.5M1423.6 2037.5V2039.0M1433.5 2054.0V2055.5M1433.5 2058.5V2060.0M1433.5 2064.5V2066.0M1433.5 2069.0V2070.5M1443.4 2033.1V2034.6M1453.3 2061.5V2063.0M1463.2 2037.5V2039.0"/>
<path stroke="#369086" d="M326.3 1015.3V1016.8M326.3 1024.3V1025.8M326.3 1027.3V1028.8M326.3 1034.8V1036.3M326.3 1090.2V1091.7M326.3 1114.2V1115.7M326.3 1118.7V1120.2M326.3 1123.2V1126.2M326.3 1135.2V1136.7M326.3 1157.7V1160.7M326.3 1162.1V1163.6M326.3 1171.1V1172.6M326.3 1184.6V1186.1M326.3 1195.1V1196.6M326.3 1205.6V1207.1M326.3 1214.6V1217.6M326.3 1231.1V1232.6M326.3 1250.6V1253.6M326.3 1268.5V1270.0M326.3 1295.5V1300.0M326.3 1306.0V1307.5M326.3 1309.0V1310.5M326.3 1752.7V1754.2M326.3 1761.7V1763.2M326.3 1766.2V1769.2M326.3 1917.5V1920.4M326.3 1938.3V1939.8M326.3 1951.8V1953.3M326.3 1965.2V1966.7M326.3 1981.6V1984.6M336.2 994.3V997.3M336.2 1022.8V1024.3M336.2 1034.8V1036.3M336.2 1039.3V1040.8M336.2 1088.7V1090.2M336.2 1094.7V1096.2M336.2 1111.2V1112.7M336.2 1114.2V1117.2M336.2 1135.2V1136.7M336.2 1139.7V1142.7M336.2 1147.2V1148.7M336.2 1151.7V1153.2M336.2 1162.1V1163.6M336.2 1166.6V1169.6M336.2 1187.6V1192.1M336.2 1196.6V1198.1M336.2 1207.1V1208.6M336.2 1211.6V1213.1M336.2 1222.1V1223.6M336.2 1237.1V1238.6M336.2 1240.1V1241.6M336.2 1255.1V1256.6M336.2 1270.0V1273.0M336.2 1297.0V1298.5M336.2 1300.0V1301.5M336.2 1309.0V1310.5M336.2 1755.7V1757.2M336.2 1758.7V1761.7M336.2 1776.8V1778.3M336.2 1930.9V1932.4M336.2 1944.3V1945.8M336.2 1950.3V1951.8M336.2 1953.3V1954.8M336.2 1962.2V1963.7M336.2 1971.2V1972.7M336.2 1977.1V1980.1M336.2 1998.0V1999.5M346.1 1015.3V1016.8M346.1 1106.7V1108.2M346.1 1117.2V1118.7M346.1 1132.2V1133.7M346.1 1136.7V1138.2M346.1 1144.2V1145.7M346.1 1163.6V1165.1M346.1 1166.6V1168.1M346.1 1183.1V1186.1M346.1 1187.6V1189.1M346.1 1195.1V1196.6M346.1 1199.6V1201.1M346.1 1208.6V1210.1M346.1 1213.1V1214.6M346.1 1241.6V1243.1M346.1 1250.6V1252.1M346.1 1274.5V1276.0M346.1 1303.0V1304.5M346.1 1334.5V1336.0M346.1 1536.5V1538.0M346.1 1757.2V1758.7M346.1 1779.8V1782.8M346.1 1785.8V1787.3M346.1 1796.4V1797.9M346.1 2005.5V2007.0M346.1 2010.1V2011.6M346.1 2023.8V2025.3M346.1 2031.4V2032.9M346.1 2039.0V2040.5M346.1 2042.0V2043.6M356.0 1021.3V1022.8M356.0 1081.2V1082.7M356.0 1084.2V1085.7M356.0 1099.2V1100.7M356.0 1105.2V1106.7M356.0 1120.2V1121.7M356.0 1124.7V1126.2M356.0 1127.7V1129.2M356.0 1132.2V1133.7M356.0 1172.6V1174.1M356.0 1177.1V1178.6M356.0 1180.1V1181.6M356.0 1183.1V1186.1M356.0 1187.6V1190.6M356.0 1217.6V1219.1M356.0 1220.6V1222.1M356.0 1223.6V1225.1M356.0 1228.1V1229.6M356.0 1250.6V1252.1M356.0 1255.1V1258.1M356.0 1265.5V1267.0M356.0 1268.5V1270.0M356.0 1274.5V1276.0M356.0 1279.0V1280.5M356.0 1285.0V1286.5M356.0 1292.5V1294.0M356.0 1300.0V1301.5M356.0 1758.7V1763.2M356.0 1772.3V1773.8M356.0 1776.8V1778.3M356.0 1784.3V1787.3M356.0 1788.8V1790.3M356.0 2004.0V2005.5M356.0 2016.2V2019.2M356.0 2032.9V2034.4M356.0 2037.5V2040.5M365.9 956.8V958.3M365.9 959.8V961.3M365.9 967.3V968.8M365.9 982.3V983.8M365.9 986.8V988.3M365.9 998.8V1000.3M365.9 1003.3V1004.8M365.9 1015.3V1016.8M365.9 1025.8V1028.8M365.9 1030.3V1031.8M365.9 1040.8V1042.3M365.9 1046.8V1048.3M365.9 1075.2V1076.7M365.9 1085.7V1087.2M365.9 1093.2V1094.7M365.9 1096.2V1097.7M365.9 1099.2V1100.7M365.9 1105.2V1106.7M365.9 1112.7V1114.2M365.9 1115.7V1117.2M365.9 1130.7V1133.7M365.9 1135.2V1136.7M365.9 1160.7V1162.1M365.9 1171.1V1174.1M365.9 1175.6V1177.1M365.9 1189.1V1190.6M365.9 1193.6V1195.1M365.9 1198.1V1199.6M365.9 1205.6V1207.1M365.9 1208.6V1210.1M365.9 1213.1V1216.1M365.9 1219.1V1220.6M365.9 1235.6V1237.1M365.9 1261.1V1262.6M365.9 1297.0V1298.5M365.9 1307.5V1309.0M365.9 1352.4V1353.9M365.9 1427.3V1428.8M365.9 1951.8V1953.3M365.9 1954.8V1956.3M365.9 1968.2V1969.7M365.9 1980.1V1981.6M365.9 1984.6V1986.1M365.9 1993.6V1995.0M365.9 2005.5V2007.0M365.9 2031.4V2034.4M365.9 2042.0V2043.6M375.8 932.9V935.9M375.8 940.4V941.9M375.8 959.8V961.3M375.8 970.3V971.8M375.8 973.3V974.8M375.8 976.3V977.8M375.8 983.8V985.3M375.8 989.8V991.3M375.8 1003.3V1004.8M375.8 1022.8V1024.3M375.8 1028.8V1030.3M375.8 1057.3V1060.2M375.8 1061.7V1063.2M375.8 1066.2V1070.7M375.8 1087.2V1088.7M375.8 1091.7V1093.2M375.8 1102.2V1103.7M375.8 1120.2V1121.7M375.8 1141.2V1142.7M375.8 1147.2V1148.7M375.8 1151.7V1153.2M375.8 1157.7V1159.2M375.8 1169.6V1172.6M375.8 1190.6V1192.1M375.8 1202.6V1205.6M375.8 1216.1V1219.1M375.8 1226.6V1228.1M375.8 1255.1V1256.6M375.8 1280.5V1282.0M375.8 1283.5V1285.0M375.8 1303.0V1304.5M375.8 1346.4V1347.9M375.8 1448.2V1449.7M375.8 1716.5V1718.0M375.8 1930.9V1932.4M375.8 1933.9V1935.4M375.8 1966.7V1968.2M375.8 1969.7V1971.2M375.8 1990.6V1992.1M375.8 1993.6V1995.0M375.8 2002.5V2004.0M375.8 2019.2V2020.7M375.8 2031.4V2032.9M385.7 1725.5V1727.0M385.7 1733.1V1734.6M385.7 1752.7V1754.2M385.7 1757.2V1758.7M385.7 1761.7V1763.2M385.7 1772.3V1773.8M385.7 1776.8V1778.3M385.7 1784.3V1785.8M385.7 1790.3V1791.8M385.7 1956.3V1957.7M385.7 1987.6V1989.1M385.7 1995.0V1996.5M385.7 2011.6V2014.7M385.7 2022.3V2023.8M385.7 2026.8V2028.3M395.6 1728.5V1730.0M395.6 1739.1V1740.6M395.6 1751.1V1752.7M395.6 1758.7V1763.2M395.6 1778.3V1779.8M395.6 1781.3V1782.8M395.6 1796.4V1797.9M395.6 1917.5V1919.0M395.6 1930.9V1933.9M395.6 1959.2V1960.7M395.6 1962.2V1965.2M395.6 1977.1V1978.6M395.6 1983.1V1984.6M395.6 1989.1V1990.6M395.6 1995.0V1996.5M395.6 2004.0V2005.5M395.6 2011.6V2014.7M395.6 2017.7V2020.7M424.3 1658.8V1660.3M424.3 1666.4V1667.9M424.3 1681.4V1687.4M424.3 1688.9V1690.4M424.3 1691.9V1693.4M424.3 1696.4V1697.9M424.3 1702.4V1703.9M424.3 1719.0V1720.5M424.3 1726.5V1728.0M424.3 1738.5V1740.0M424.3 1746.0V1747.5M424.3 1758.0V1759.5M424.3 1776.1V1777.6M424.3 1809.1V1810.6M424.3 1819.6V1821.1M424.3 1839.2V1840.7M424.3 1866.2V1867.7M424.3 1911.3V1912.8M434.2 1672.4V1673.9M434.2 1675.4V1676.9M434.2 1688.9V1690.4M434.2 1691.9V1693.4M434.2 1722.0V1723.5M434.2 1737.0V1740.0M434.2 1744.5V1747.5M434.2 1750.5V1752.0M434.2 1759.5V1761.0M434.2 1768.5V1770.1M434.2 1771.6V1774.6M434.2 1780.6V1782.1M434.2 1795.6V1797.1M434.2 1842.2V1843.7M434.2 1857.2V1858.7M444.1 1655.8V1657.3M444.1 1676.9V1678.4M444.1 1681.4V1684.4M444.1 1685.9V1687.4M444.1 1688.9V1693.4M444.1 1700.9V1702.4M444.1 1705.4V1706.9M444.1 1719.0V1720.5M444.1 1725.0V1728.0M444.1 1731.0V1734.0M444.1 1777.6V1779.1M444.1 1780.6V1782.1M444.1 1813.6V1815.1M444.1 1822.6V1824.2M454.0 1663.4V1664.9M454.0 1675.4V1676.9M454.0 1682.9V1685.9M454.0 1687.4V1688.9M454.0 1690.4V1691.9M454.0 1700.9V1702.4M454.0 1703.9V1705.4M454.0 1708.4V1709.9M454.0 1714.4V1717.5M454.0 1722.0V1723.5M454.0 1729.5V1731.0M454.0 1737.0V1738.5M454.0 1744.5V1746.0M454.0 1798.6V1800.1M463.9 1996.9V1999.9M463.9 2001.4V2002.9M463.9 2004.4V2005.9M463.9 2007.4V2011.9M463.9 2024.0V2025.5M463.9 2028.5V2030.0M463.9 2046.5V2048.0M463.9 2052.5V2055.5M473.8 1995.4V1996.9M473.8 2001.4V2002.9M473.8 2008.9V2010.4M473.8 2011.9V2015.0M473.8 2019.5V2021.0M473.8 2028.5V2030.0M483.7 1984.9V1986.4M483.7 1987.9V1989.4M483.7 1992.4V1993.9M483.7 2007.4V2008.9M483.7 2015.0V2016.5M483.7 2021.0V2022.5M483.7 2033.0V2034.5M483.7 2043.5V2045.0M493.6 1987.9V1989.4M493.6 1992.4V1993.9M493.6 2019.5V2022.5M493.6 2024.0V2025.5M493.6 2027.0V2028.5M493.6 2036.0V2037.5M493.6 2046.5V2048.0M493.6 2049.5V2051.0M522.2 1734.2V1735.7M522.2 1737.2V1738.7M522.2 1743.2V1744.7M522.2 1765.7V1767.2M522.2 1774.7V1777.7M522.2 1786.6V1788.1M522.2 1800.1V1801.6M522.2 1813.6V1815.1M522.2 1824.1V1825.6M522.2 1831.6V1833.1M522.2 1836.1V1837.6M522.2 1842.1V1843.6M522.2 1858.5V1860.0M522.2 1863.0V1864.5M522.2 1952.8V1954.3M522.2 2016.0V2017.5M532.1 1749.2V1750.7M532.1 1801.6V1803.1M532.1 1804.6V1806.1M532.1 1824.1V1825.6M532.1 1827.1V1828.6M532.1 1836.1V1839.1M532.1 1857.0V1858.5M532.1 1863.0V1864.5M532.1 1878.0V1879.5M532.1 1957.3V1958.8M532.1 1982.9V1984.4M542.0 1731.2V1732.7M542.0 1904.9V1906.4M542.0 1946.8V1949.8M552.0 1934.9V1936.4M552.0 1948.3V1949.8M561.9 1747.7V1749.2M561.9 1771.7V1773.2M561.9 2040.1V2041.6M571.8 1836.1V1837.6M571.8 1878.0V1879.5M571.8 2029.6V2031.1M571.8 2032.6V2034.1M620.2 1720.9V1722.4M620.2 1746.4V1747.9M620.2 1750.9V1752.4M620.2 1753.9V1756.9M620.2 1758.4V1761.4M620.2 1762.9V1764.4M620.2 1765.9V1767.4M620.2 1768.9V1770.4M620.2 1782.4V1783.9M620.2 1785.4V1789.9M620.2 1791.4V1792.9M620.2 1857.3V1858.8M620.2 1876.7V1878.2M620.2 1945.6V1947.1M630.1 1744.9V1747.9M630.1 1749.4V1752.4M630.1 1756.9V1758.4M630.1 1764.4V1765.9M630.1 1767.4V1768.9M630.1 1776.4V1777.9M630.1 1783.9V1785.4M630.1 1794.3V1795.8M630.1 1797.3V1798.8M630.1 1822.8V1824.3M630.1 1825.8V1827.3M630.1 1828.8V1830.3M630.1 1833.3V1834.8M630.1 1842.3V1843.8M630.1 1861.8V1863.3M630.1 1935.2V1936.7M640.0 2014.7V2016.3M640.0 2017.8V2020.8M640.0 2023.8V2025.3M649.9 2001.2V2002.7M649.9 2010.2V2011.7M649.9 2017.8V2019.3M649.9 2026.8V2028.3M649.9 2034.3V2035.8M649.9 2040.4V2041.9M649.9 2044.9V2046.4M659.8 1750.9V1752.4M659.8 1755.4V1756.9M659.8 1759.9V1761.4M659.8 1764.4V1765.9M659.8 1771.9V1777.9M659.8 1779.4V1780.9M659.8 1782.4V1783.9M659.8 1800.3V1801.8M659.8 1803.3V1804.8M659.8 1896.2V1897.7M669.7 1719.5V1720.9M669.7 1747.9V1749.4M669.7 1752.4V1755.4M669.7 1768.9V1770.4M669.7 1771.9V1773.4M669.7 1800.3V1801.8M669.7 1812.3V1813.8M669.7 1833.3V1834.8M669.7 1840.8V1842.3M669.7 1869.2V1870.7M669.7 1902.2V1903.7M669.7 1911.2V1912.7M679.6 2007.2V2008.7M679.6 2025.3V2026.8M679.6 2031.3V2035.8M679.6 2037.4V2040.4M679.6 2043.4V2046.4M689.5 2008.7V2011.7M689.5 2013.2V2016.3M689.5 2019.3V2020.8M689.5 2028.3V2029.8M689.5 2047.9V2049.4M718.2 1889.5V1891.0M718.2 1903.0V1904.5M718.2 1934.6V1936.1M718.2 1945.1V1946.6M718.2 1964.6V1966.1M728.1 1743.7V1745.2M728.1 1772.3V1773.8M728.1 1854.9V1856.4M728.1 1871.4V1872.9M728.1 1945.1V1946.6M728.1 1969.2V1970.7M728.1 1975.2V1976.7M728.1 2044.9V2046.4M728.1 2047.9V2049.4M738.0 1830.9V1832.4M738.0 1838.4V1841.4M738.0 1847.4V1848.9M738.0 1850.4V1851.9M738.0 1856.4V1859.4M738.0 1866.9V1868.4M738.0 1886.5V1888.0M738.0 1907.5V1909.0M738.0 2007.0V2008.5M747.9 1793.3V1794.8M747.9 1818.8V1820.3M747.9 1826.4V1827.9M747.9 1844.4V1845.9M747.9 1847.4V1848.9M747.9 1854.9V1857.9M747.9 1859.4V1860.9M747.9 1869.9V1871.4M747.9 1891.0V1894.0M747.9 1895.5V1897.0M747.9 1946.6V1948.1M757.8 1818.8V1820.3M757.8 1866.9V1868.4M757.8 2034.4V2035.9M767.7 1833.9V1835.4M767.7 2041.9V2043.4M777.6 1964.6V1966.1M777.6 2017.6V2019.2M777.6 2025.2V2026.8M816.1 1849.6V1851.1M816.1 1855.6V1858.6M816.1 1870.6V1872.1M816.1 1887.0V1888.5M816.1 1960.9V1963.9M816.1 1973.0V1974.5M816.1 1985.1V1986.6M816.1 1988.1V1989.7M826.0 1806.2V1807.7M826.0 1825.7V1827.1M826.0 1840.6V1842.1M826.0 1945.8V1947.3M826.0 1983.6V1985.1M835.9 2039.1V2040.6M845.8 2054.1V2055.6M855.7 1900.5V1902.0M855.7 2000.2V2001.7M865.6 1846.6V1848.1M865.6 1864.6V1866.1M865.6 1881.1V1882.5M865.6 1906.5V1908.0M865.6 1968.5V1970.0M865.6 2037.6V2039.1M865.6 2049.6V2051.1M875.5 1956.4V1957.9M885.4 1965.5V1967.0M885.4 2024.2V2025.7M924.0 2022.3V2023.8M924.0 2025.3V2026.8M924.0 2052.4V2053.9M924.0 2063.0V2064.5M933.9 1858.5V1860.0M933.9 1870.5V1873.5M933.9 1881.0V1882.5M933.9 1887.0V1888.5M933.9 1890.0V1891.5M933.9 1908.0V1909.5M933.9 1912.5V1914.1M933.9 1921.6V1923.1M933.9 1926.1V1927.6M933.9 1932.1V1933.6M933.9 1951.6V1953.1M943.8 1850.9V1852.4M943.8 1872.0V1875.0M943.8 1878.0V1879.5M943.8 1897.5V1899.0M943.8 1917.1V1918.6M943.8 1926.1V1927.6M953.7 1863.0V1864.5M953.7 1867.5V1869.0M953.7 1873.5V1875.0M953.7 1878.0V1879.5M953.7 1882.5V1884.0M953.7 1885.5V1887.0M953.7 1890.0V1891.5M953.7 1897.5V1899.0M953.7 1908.0V1909.5M953.7 1920.1V1921.6M953.7 1951.6V1953.1M953.7 1986.2V1987.7M963.6 1870.5V1872.0M963.6 1878.0V1879.5M963.6 1881.0V1882.5M963.6 1891.5V1893.0M963.6 1900.5V1902.0M963.6 1909.5V1911.0M963.6 1914.1V1915.6M963.6 1933.6V1936.6M963.6 1968.1V1969.6M963.6 1978.7V1980.2M973.5 2016.3V2017.8M973.5 2019.3V2020.8M973.5 2046.4V2047.9M983.4 2014.8V2016.3M983.4 2019.3V2022.3M983.4 2023.8V2026.8M983.4 2055.4V2056.9M1012.0 2004.0V2005.5M1021.9 2043.3V2044.8M1021.9 2047.9V2049.4M1021.9 2064.5V2066.0M1031.8 2013.1V2014.6M1031.8 2016.1V2017.6M1031.8 2023.7V2025.2M1041.7 2064.5V2066.0M1081.3 2010.0V2011.6M1081.3 2022.2V2023.7M1081.3 2041.8V2043.3M1110.0 2018.3V2019.8M1110.0 2043.5V2045.0M1110.0 2046.5V2048.0M1139.7 2013.9V2015.4M1139.7 2051.0V2052.5M1139.7 2054.0V2055.5M1139.7 2063.0V2064.5M1159.5 2030.1V2033.0M1159.5 2060.0V2061.5M1159.5 2063.0V2064.5M1169.4 2012.4V2013.9M1207.9 2018.8V2020.3M1207.9 2048.7V2050.2M1217.8 2015.8V2018.8M1217.8 2024.8V2026.3M1217.8 2032.2V2033.7M1217.8 2041.2V2042.7M1217.8 2057.2V2060.0M1217.8 2060.0V2063.0M1217.8 2064.5V2066.0M1237.6 2053.0V2054.4M1247.5 2045.7V2047.2M1247.5 2048.7V2050.2M1257.4 2029.3V2030.8M1257.4 2035.2V2038.2M1257.4 2042.7V2044.2M1305.9 2031.4V2033.0M1305.9 2050.7V2052.2M1315.8 2049.2V2050.7M1315.8 2055.2V2056.6M1325.7 2026.8V2029.8M1325.7 2041.9V2043.3M1325.7 2046.3V2047.8M1335.6 2036.0V2037.5M1335.6 2062.5V2064.0M1355.4 2065.6V2067.2M1355.4 2068.9V2070.5M1365.3 2029.8V2031.4M1365.3 2033.0V2034.5M1375.2 2041.9V2043.3M1375.2 2061.1V2062.5M1375.2 2064.0V2065.6M1403.8 2028.6V2030.1M1403.8 2040.5V2042.0M1413.7 2037.5V2039.0M1413.7 2052.5V2054.0M1423.6 2028.6V2030.1M1423.6 2049.5V2051.0M1433.5 2052.5V2054.0M1433.5 2057.0V2058.5M1433.5 2067.5V2069.0M1443.4 2028.6V2030.1M1443.4 2031.6V2033.1M1443.4 2043.5V2045.0M1453.3 2051.0V2052.5M1453.3 2069.0V2070.5M1463.2 2024.1V2025.6M1463.2 2048.0V2049.5M1473.1 2057.0V2058.5M1473.1 2060.0V2061.5M1473.1 2064.5V2066.0"/>
<path stroke="#3CA59A" d="M326.3 1021.3V1022.8M326.3 1031.8V1033.3M326.3 1072.2V1075.2M326.3 1079.7V1081.2M326.3 1084.2V1085.7M326.3 1088.7V1090.2M326.3 1102.2V1103.7M326.3 1115.7V1117.2M326.3 1121.7V1123.2M326.3 1138.2V1139.7M326.3 1147.2V1148.7M326.3 1153.2V1157.7M326.3 1166.6V1168.1M326.3 1172.6V1177.1M326.3 1190.6V1192.1M326.3 1196.6V1198.1M326.3 1211.6V1213.1M326.3 1225.1V1226.6M326.3 1234.1V1235.6M326.3 1259.6V1261.1M326.3 1286.5V1288.0M326.3 1755.7V1757.2M326.3 1760.2V1761.7M326.3 1763.2V1764.7M326.3 1769.2V1770.7M326.3 1790.3V1791.8M326.3 1935.4V1936.9M326.3 1945.8V1947.3M326.3 1957.7V1959.2M326.3 1992.1V1995.0M326.3 2002.5V2004.0M336.2 983.8V985.3M336.2 1001.8V1004.8M336.2 1018.3V1019.8M336.2 1066.2V1067.7M336.2 1078.2V1079.7M336.2 1090.2V1091.7M336.2 1096.2V1097.7M336.2 1117.2V1118.7M336.2 1127.7V1129.2M336.2 1130.7V1132.2M336.2 1133.7V1135.2M336.2 1138.2V1139.7M336.2 1145.7V1147.2M336.2 1148.7V1150.2M336.2 1154.7V1157.7M336.2 1169.6V1171.1M336.2 1177.1V1178.6M336.2 1184.6V1186.1M336.2 1219.1V1222.1M336.2 1229.6V1231.1M336.2 1234.1V1235.6M336.2 1241.6V1243.1M336.2 1286.5V1288.0M336.2 1518.6V1520.1M336.2 1674.5V1676.0M336.2 1704.5V1706.0M336.2 1745.1V1746.6M336.2 1764.7V1766.2M336.2 1790.3V1791.8M336.2 1914.5V1917.5M336.2 1935.4V1936.9M336.2 1941.3V1942.8M336.2 1984.6V1986.1M336.2 1992.1V1993.6M336.2 1996.5V1998.0M346.1 979.3V980.8M346.1 986.8V988.3M346.1 1043.8V1045.3M346.1 1063.2V1064.7M346.1 1108.2V1109.7M346.1 1124.7V1129.2M346.1 1145.7V1150.2M346.1 1154.7V1156.2M346.1 1175.6V1177.1M346.1 1189.1V1190.6M346.1 1192.1V1193.6M346.1 1196.6V1199.6M346.1 1211.6V1213.1M346.1 1217.6V1219.1M346.1 1223.6V1225.1M346.1 1247.6V1249.1M346.1 1253.6V1255.1M346.1 1259.6V1261.1M346.1 1279.0V1280.5M346.1 1282.0V1283.5M346.1 1285.0V1286.5M346.1 1294.0V1297.0M346.1 1300.0V1301.5M346.1 1400.3V1401.8M346.1 1497.6V1499.1M346.1 1751.1V1754.2M346.1 1761.7V1763.2M346.1 1767.7V1773.8M346.1 1775.3V1776.8M346.1 2007.0V2008.6M346.1 2013.1V2014.7M346.1 2040.5V2042.0M356.0 986.8V989.8M356.0 1037.8V1039.3M356.0 1064.7V1066.2M356.0 1078.2V1079.7M356.0 1100.7V1102.2M356.0 1121.7V1123.2M356.0 1133.7V1136.7M356.0 1157.7V1159.2M356.0 1174.1V1177.1M356.0 1178.6V1180.1M356.0 1181.6V1183.1M356.0 1192.1V1193.6M356.0 1195.1V1196.6M356.0 1211.6V1214.6M356.0 1216.1V1217.6M356.0 1309.0V1310.5M356.0 1743.6V1745.1M356.0 1755.7V1757.2M356.0 1764.7V1766.2M356.0 1770.7V1772.3M356.0 1775.3V1776.8M356.0 2022.3V2023.8M356.0 2043.6V2045.1M365.9 970.3V971.8M365.9 973.3V974.8M365.9 976.3V977.8M365.9 992.8V994.3M365.9 997.3V998.8M365.9 1031.8V1033.3M365.9 1036.3V1037.8M365.9 1052.8V1054.3M365.9 1060.2V1061.7M365.9 1063.2V1064.7M365.9 1066.2V1069.2M365.9 1084.2V1085.7M365.9 1100.7V1102.2M365.9 1103.7V1105.2M365.9 1106.7V1112.7M365.9 1123.2V1124.7M365.9 1133.7V1135.2M365.9 1139.7V1141.2M365.9 1154.7V1156.2M365.9 1157.7V1159.2M365.9 1162.1V1163.6M365.9 1165.1V1166.6M365.9 1177.1V1178.6M365.9 1186.1V1187.6M365.9 1225.1V1226.6M365.9 1231.1V1232.6M365.9 1246.1V1247.6M365.9 1268.5V1270.0M365.9 1544.0V1545.5M365.9 1910.0V1911.5M365.9 1936.9V1939.8M365.9 1948.8V1950.3M365.9 1953.3V1954.8M365.9 1962.2V1963.7M365.9 1981.6V1984.6M365.9 1987.6V1989.1M365.9 1996.5V1998.0M365.9 1999.5V2001.0M365.9 2002.5V2004.0M365.9 2019.2V2020.7M365.9 2045.1V2046.6M375.8 923.9V925.4M375.8 946.4V949.4M375.8 971.8V973.3M375.8 974.8V976.3M375.8 979.3V980.8M375.8 982.3V983.8M375.8 994.3V997.3M375.8 1006.3V1007.8M375.8 1019.8V1021.3M375.8 1027.3V1028.8M375.8 1031.8V1033.3M375.8 1036.3V1040.8M375.8 1045.3V1046.8M375.8 1049.8V1051.3M375.8 1054.3V1055.8M375.8 1073.7V1076.7M375.8 1082.7V1084.2M375.8 1099.2V1100.7M375.8 1106.7V1108.2M375.8 1124.7V1126.2M375.8 1135.2V1138.2M375.8 1142.7V1144.2M375.8 1153.2V1154.7M375.8 1159.2V1160.7M375.8 1162.1V1163.6M375.8 1165.1V1166.6M375.8 1168.1V1169.6M375.8 1177.1V1178.6M375.8 1187.6V1189.1M375.8 1205.6V1207.1M375.8 1225.1V1226.6M375.8 1235.6V1238.6M375.8 1246.1V1247.6M375.8 1252.1V1253.6M375.8 1307.5V1309.0M375.8 1924.9V1926.4M375.8 1948.8V1950.3M375.8 1951.8V1953.3M375.8 1960.7V1962.2M375.8 1974.2V1975.7M375.8 1981.6V1983.1M375.8 1996.5V1998.0M375.8 2010.1V2011.6M375.8 2013.1V2016.2M375.8 2026.8V2028.3M375.8 2039.0V2040.5M385.7 1722.5V1724.0M385.7 1730.0V1731.6M385.7 1758.7V1760.2M385.7 1766.2V1767.7M385.7 1773.8V1775.3M385.7 1778.3V1779.8M385.7 1913.0V1914.5M385.7 1929.4V1930.9M385.7 1992.1V1993.6M385.7 2007.0V2010.1M385.7 2035.9V2037.5M385.7 2042.0V2043.6M395.6 1721.0V1724.0M395.6 1727.0V1728.5M395.6 1748.1V1751.1M395.6 1757.2V1758.7M395.6 1764.7V1766.2M395.6 1787.3V1788.8M395.6 1790.3V1791.8M395.6 1920.4V1921.9M395.6 1933.9V1935.4M395.6 1944.3V1945.8M395.6 1953.3V1954.8M395.6 1974.2V1975.7M395.6 1984.6V1986.1M395.6 1992.1V1993.6M395.6 2008.6V2010.1M395.6 2032.9V2034.4M424.3 1669.4V1672.4M424.3 1693.4V1696.4M424.3 1699.4V1700.9M424.3 1722.0V1723.5M424.3 1731.0V1732.5M424.3 1755.0V1756.5M424.3 1759.5V1761.0M424.3 1791.1V1792.6M424.3 1857.2V1858.7M434.2 1658.8V1660.3M434.2 1673.9V1675.4M434.2 1676.9V1679.9M434.2 1681.4V1684.4M434.2 1687.4V1688.9M434.2 1693.4V1694.9M434.2 1712.9V1714.4M434.2 1725.0V1726.5M434.2 1789.6V1791.1M434.2 1878.2V1879.8M444.1 1663.4V1664.9M444.1 1675.4V1676.9M444.1 1679.9V1681.4M444.1 1687.4V1688.9M444.1 1699.4V1700.9M444.1 1706.9V1708.4M444.1 1717.5V1719.0M444.1 1734.0V1735.5M444.1 1804.6V1806.1M454.0 1658.8V1663.4M454.0 1685.9V1687.4M454.0 1696.4V1697.9M454.0 1699.4V1700.9M454.0 1706.9V1708.4M454.0 1709.9V1711.4M454.0 1726.5V1728.0M454.0 1779.1V1780.6M463.9 1972.9V1974.4M463.9 1978.9V1980.4M463.9 1981.9V1983.4M463.9 1990.9V1992.4M463.9 1999.9V2001.4M463.9 2005.9V2007.4M463.9 2011.9V2013.4M463.9 2022.5V2024.0M463.9 2033.0V2034.5M463.9 2037.5V2039.0M463.9 2045.0V2046.5M473.8 1978.9V1980.4M473.8 1981.9V1983.4M473.8 1984.9V1986.4M473.8 1999.9V2001.4M473.8 2015.0V2016.5M473.8 2022.5V2024.0M473.8 2025.5V2027.0M483.7 1995.4V1998.4M483.7 1999.9V2001.4M483.7 2005.9V2007.4M483.7 2036.0V2037.5M483.7 2039.0V2040.5M483.7 2046.5V2048.0M483.7 2067.5V2069.0M493.6 1974.4V1975.9M493.6 1981.9V1984.9M493.6 1995.4V1998.4M493.6 1999.9V2001.4M493.6 2002.9V2004.4M493.6 2005.9V2007.4M493.6 2008.9V2010.4M493.6 2015.0V2016.5M493.6 2060.0V2061.5M522.2 1738.7V1740.2M522.2 1768.7V1770.2M522.2 1771.7V1774.7M522.2 1795.6V1797.1M522.2 1821.1V1822.6M522.2 1825.6V1828.6M522.2 1837.6V1839.1M522.2 1843.6V1845.1M522.2 1848.0V1849.5M522.2 1873.5V1875.0M522.2 1878.0V1879.5M532.1 1716.2V1717.7M532.1 1764.2V1767.2M532.1 1768.7V1770.2M532.1 1771.7V1773.2M532.1 1776.2V1777.7M532.1 1794.1V1795.6M532.1 1798.6V1800.1M532.1 1807.6V1809.1M532.1 1818.1V1819.6M532.1 1828.6V1830.1M532.1 1834.6V1836.1M532.1 1848.0V1849.5M532.1 1867.5V1869.0M532.1 1870.5V1872.0M542.0 1919.9V1921.4M552.0 1955.8V1958.8M561.9 2008.5V2011.5M561.9 2026.5V2028.0M561.9 2043.1V2044.6M571.8 1839.1V1840.6M571.8 1879.5V1881.0M571.8 2013.0V2014.5M571.8 2023.5V2025.0M571.8 2038.6V2040.1M620.2 1723.9V1725.4M620.2 1738.9V1740.4M620.2 1747.9V1749.4M620.2 1756.9V1758.4M620.2 1767.4V1768.9M620.2 1770.4V1771.9M620.2 1806.3V1807.8M630.1 1741.9V1743.4M630.1 1755.4V1756.9M630.1 1759.9V1761.4M630.1 1762.9V1764.4M630.1 1795.8V1797.3M630.1 1854.3V1855.8M630.1 1885.7V1887.2M640.0 2001.2V2002.7M640.0 2004.2V2005.7M640.0 2008.7V2010.2M649.9 2019.3V2020.8M659.8 1740.4V1741.9M659.8 1744.9V1746.4M659.8 1777.9V1779.4M659.8 1797.3V1798.8M659.8 1828.8V1830.3M659.8 1836.3V1837.8M659.8 1876.7V1878.2M669.7 1740.4V1747.9M669.7 1758.4V1759.9M669.7 1764.4V1765.9M669.7 1776.4V1777.9M669.7 1837.8V1839.3M679.6 1996.7V1998.2M679.6 2002.7V2004.2M679.6 2010.2V2011.7M679.6 2019.3V2020.8M679.6 2026.8V2028.3M679.6 2061.5V2063.0M689.5 2022.3V2023.8M689.5 2026.8V2028.3M689.5 2029.8V2031.3M718.2 1806.8V1808.3M718.2 1952.6V1954.1M718.2 1957.1V1960.1M718.2 1969.2V1972.2M718.2 1978.2V1979.7M728.1 1933.1V1934.6M728.1 1964.6V1966.1M728.1 1981.2V1982.7M738.0 1802.3V1803.8M738.0 1809.8V1811.3M738.0 1821.8V1823.3M738.0 1835.4V1836.9M738.0 1841.4V1842.9M738.0 1860.9V1862.4M738.0 1871.4V1875.9M738.0 1901.5V1903.0M738.0 1904.5V1906.0M747.9 1790.3V1791.8M747.9 1797.8V1799.3M747.9 1803.8V1806.8M747.9 1827.9V1829.4M747.9 1866.9V1869.9M747.9 1875.9V1877.4M747.9 1878.9V1880.4M747.9 1888.0V1889.5M747.9 1898.5V1900.0M747.9 1903.0V1906.0M747.9 2014.6V2016.1M757.8 1891.0V1894.0M757.8 2005.5V2007.0M757.8 2028.3V2029.8M767.7 1847.4V1848.9M767.7 2034.4V2035.9M777.6 1933.1V1934.6M777.6 2055.5V2057.0M787.5 2055.5V2057.0M787.5 2066.0V2067.5M816.1 1830.1V1831.6M816.1 1954.9V1956.4M826.0 1854.1V1855.6M826.0 1864.6V1866.1M826.0 1900.5V1902.0M826.0 1962.4V1963.9M826.0 1974.5V1976.0M826.0 1992.7V1994.2M826.0 2057.1V2058.6M845.8 2049.6V2052.6M855.7 1896.0V1897.5M855.7 1905.0V1906.5M865.6 1827.1V1828.6M865.6 2027.1V2028.6M885.4 2058.6V2060.1M914.1 2005.7V2007.2M914.1 2017.8V2019.3M914.1 2023.8V2025.3M914.1 2029.8V2034.3M914.1 2040.4V2041.9M914.1 2049.4V2050.9M924.0 2017.8V2019.3M924.0 2020.8V2022.3M924.0 2029.8V2031.3M924.0 2047.9V2049.4M933.9 1863.0V1866.0M933.9 1875.0V1876.5M933.9 1885.5V1887.0M933.9 1905.0V1906.5M943.8 1844.9V1846.4M943.8 1864.5V1867.5M943.8 1875.0V1876.5M943.8 1893.0V1894.5M953.7 1860.0V1861.5M953.7 1866.0V1867.5M953.7 1872.0V1873.5M953.7 1875.0V1878.0M953.7 1881.0V1882.5M953.7 1893.0V1894.5M963.6 1841.9V1843.4M963.6 1847.9V1849.4M963.6 1853.9V1855.4M963.6 1863.0V1866.0M963.6 1867.5V1869.0M963.6 1875.0V1876.5M963.6 1887.0V1888.5M963.6 1899.0V1900.5M963.6 1903.5V1905.0M973.5 2014.8V2016.3M973.5 2017.8V2019.3M973.5 2029.8V2031.3M983.4 2005.7V2007.2M983.4 2034.3V2035.9M1021.9 2066.0V2067.5M1031.8 2004.0V2005.5M1031.8 2032.7V2037.3M1031.8 2038.8V2040.3M1031.8 2041.8V2043.3M1031.8 2044.8V2046.3M1031.8 2053.9V2055.4M1051.6 2067.5V2069.0M1081.3 2038.8V2040.3M1081.3 2049.4V2050.9M1081.3 2069.0V2070.5M1110.0 2012.4V2013.9M1110.0 2037.5V2039.0M1110.0 2049.5V2051.0M1110.0 2054.0V2055.5M1110.0 2069.0V2070.5M1119.9 2036.0V2037.5M1129.8 2019.8V2021.3M1129.8 2028.6V2030.1M1129.8 2054.0V2055.5M1139.7 2042.0V2043.5M1139.7 2057.0V2058.5M1159.5 2025.7V2027.1M1159.5 2036.0V2037.5M1159.5 2040.5V2042.0M1159.5 2051.0V2052.5M1159.5 2058.5V2060.0M1159.5 2064.5V2066.0M1207.9 2032.2V2033.7M1207.9 2045.7V2047.2M1237.6 2057.2V2058.6M1237.6 2060.0V2061.5M1237.6 2064.5V2066.0M1247.5 2039.7V2041.2M1257.4 2014.3V2015.8M1257.4 2017.3V2018.8M1257.4 2021.8V2023.3M1257.4 2030.8V2032.2M1257.4 2038.2V2039.7M1257.4 2048.7V2050.2M1277.2 2069.0V2070.5M1305.9 2019.0V2022.1M1305.9 2056.6V2058.1M1315.8 2058.1V2059.6M1325.7 2020.5V2022.1M1365.3 2020.5V2022.1M1375.2 2049.2V2050.7M1403.8 2027.1V2028.6M1403.8 2033.1V2034.6M1403.8 2048.0V2049.5M1413.7 2051.0V2052.5M1423.6 2024.1V2025.6M1423.6 2027.1V2028.6M1423.6 2030.1V2031.6M1423.6 2039.0V2040.5M1433.5 2051.0V2052.5M1463.2 2025.6V2027.1M1473.1 2051.0V2054.0M1473.1 2058.5V2060.0"/>
<path stroke="#307A72" d="M326.3 1057.3V1058.7M326.3 1091.7V1093.2M326.3 1105.2V1106.7M326.3 1120.2V1121.7M326.3 1133.7V1135.2M326.3 1144.2V1145.7M326.3 1150.2V1153.2M326.3 1177.1V1181.6M326.3 1192.1V1193.6M326.3 1201.1V1202.6M326.3 1210.1V1211.6M326.3 1213.1V1214.6M326.3 1217.6V1219.1M326.3 1220.6V1222.1M326.3 1229.6V1231.1M326.3 1232.6V1234.1M326.3 1238.6V1243.1M326.3 1246.1V1247.6M326.3 1253.6V1255.1M326.3 1261.1V1262.6M326.3 1264.0V1265.5M326.3 1267.0V1268.5M326.3 1282.0V1283.5M326.3 1294.0V1295.5M326.3 1304.5V1306.0M326.3 1307.5V1309.0M326.3 1679.0V1680.5M326.3 1776.8V1778.3M326.3 1782.8V1787.3M326.3 1793.4V1794.9M326.3 1799.4V1800.9M326.3 1889.1V1890.6M326.3 1929.4V1930.9M326.3 1932.4V1933.9M326.3 1942.8V1944.3M326.3 1954.8V1956.3M326.3 1959.2V1960.7M326.3 1966.7V1968.2M326.3 1969.7V1971.2M326.3 1975.7V1977.1M326.3 1978.6V1980.1M326.3 1999.5V2001.0M336.2 1075.2V1076.7M336.2 1082.7V1084.2M336.2 1105.2V1106.7M336.2 1123.2V1124.7M336.2 1163.6V1166.6M336.2 1172.6V1174.1M336.2 1175.6V1177.1M336.2 1178.6V1181.6M336.2 1195.1V1196.6M336.2 1199.6V1201.1M336.2 1208.6V1210.1M336.2 1213.1V1217.6M336.2 1228.1V1229.6M336.2 1247.6V1249.1M336.2 1250.6V1252.1M336.2 1259.6V1261.1M336.2 1264.0V1265.5M336.2 1279.0V1280.5M336.2 1282.0V1283.5M336.2 1295.5V1297.0M336.2 1303.0V1304.5M336.2 1306.0V1307.5M336.2 1313.5V1315.0M336.2 1602.5V1604.0M336.2 1763.2V1764.7M336.2 1773.8V1775.3M336.2 1778.3V1779.8M336.2 1793.4V1794.9M336.2 1920.4V1921.9M336.2 1936.9V1938.3M336.2 1963.7V1965.2M346.1 1078.2V1079.7M346.1 1099.2V1100.7M346.1 1120.2V1121.7M346.1 1138.2V1139.7M346.1 1169.6V1171.1M346.1 1172.6V1174.1M346.1 1193.6V1195.1M346.1 1201.1V1207.1M346.1 1214.6V1216.1M346.1 1220.6V1222.1M346.1 1225.1V1226.6M346.1 1229.6V1232.6M346.1 1237.1V1238.6M346.1 1258.1V1259.6M346.1 1277.5V1279.0M346.1 1286.5V1288.0M346.1 1291.0V1294.0M346.1 1297.0V1298.5M346.1 1306.0V1307.5M346.1 1529.1V1530.6M346.1 1763.2V1764.7M346.1 1766.2V1767.7M346.1 1773.8V1775.3M346.1 1782.8V1784.3M346.1 1793.4V1794.9M346.1 1898.0V1899.5M346.1 2029.9V2031.4M356.0 1052.8V1054.3M356.0 1126.2V1127.7M356.0 1138.2V1139.7M356.0 1144.2V1147.2M356.0 1166.6V1169.6M356.0 1171.1V1172.6M356.0 1186.1V1187.6M356.0 1193.6V1195.1M356.0 1199.6V1205.6M356.0 1208.6V1210.1M356.0 1214.6V1216.1M356.0 1219.1V1220.6M356.0 1226.6V1228.1M356.0 1231.1V1232.6M356.0 1235.6V1237.1M356.0 1240.1V1241.6M356.0 1243.1V1244.6M356.0 1252.1V1253.6M356.0 1264.0V1265.5M356.0 1276.0V1277.5M356.0 1282.0V1283.5M356.0 1291.0V1292.5M356.0 1295.5V1297.0M356.0 1301.5V1303.0M356.0 1306.0V1309.0M356.0 1310.5V1312.0M356.0 1334.5V1336.0M356.0 1773.8V1775.3M356.0 1779.8V1781.3M356.0 1782.8V1784.3M356.0 1793.4V1794.9M356.0 2014.7V2016.2M356.0 2023.8V2025.3M365.9 913.4V914.9M365.9 923.9V925.4M365.9 950.9V952.4M365.9 955.4V956.8M365.9 958.3V959.8M365.9 1000.3V1001.8M365.9 1012.3V1013.8M365.9 1033.3V1036.3M365.9 1048.3V1049.8M365.9 1058.7V1060.2M365.9 1097.7V1099.2M365.9 1124.7V1129.2M365.9 1138.2V1139.7M365.9 1145.7V1148.7M365.9 1150.2V1151.7M365.9 1156.2V1157.7M365.9 1159.2V1160.7M365.9 1181.6V1184.6M365.9 1195.1V1196.6M365.9 1199.6V1201.1M365.9 1204.1V1205.6M365.9 1207.1V1208.6M365.9 1211.6V1213.1M365.9 1216.1V1217.6M365.9 1222.1V1223.6M365.9 1228.1V1229.6M365.9 1237.1V1243.1M365.9 1244.6V1246.1M365.9 1255.1V1256.6M365.9 1265.5V1267.0M365.9 1277.5V1279.0M365.9 1283.5V1285.0M365.9 1288.0V1289.5M365.9 1300.0V1301.5M365.9 1303.0V1304.5M365.9 1306.0V1307.5M365.9 1442.2V1443.7M365.9 1496.1V1497.6M365.9 1547.0V1548.5M365.9 1945.8V1947.3M365.9 1995.0V1996.5M365.9 2014.7V2016.2M365.9 2029.9V2031.4M365.9 2039.0V2040.5M375.8 905.9V907.4M375.8 953.9V955.4M375.8 958.3V959.8M375.8 967.3V968.8M375.8 986.8V988.3M375.8 1004.8V1006.3M375.8 1018.3V1019.8M375.8 1030.3V1031.8M375.8 1060.2V1061.7M375.8 1070.7V1072.2M375.8 1078.2V1081.2M375.8 1090.2V1091.7M375.8 1097.7V1099.2M375.8 1109.7V1111.2M375.8 1112.7V1114.2M375.8 1130.7V1133.7M375.8 1154.7V1156.2M375.8 1172.6V1174.1M375.8 1181.6V1184.6M375.8 1189.1V1190.6M375.8 1195.1V1196.6M375.8 1207.1V1208.6M375.8 1210.1V1211.6M375.8 1213.1V1214.6M375.8 1222.1V1225.1M375.8 1234.1V1235.6M375.8 1240.1V1241.6M375.8 1244.6V1246.1M375.8 1262.6V1264.0M375.8 1265.5V1270.0M375.8 1273.0V1276.0M375.8 1277.5V1279.0M375.8 1292.5V1294.0M375.8 1295.5V1300.0M375.8 1706.0V1707.5M375.8 1957.7V1959.2M375.8 1992.1V1993.6M375.8 1998.0V1999.5M375.8 2017.7V2019.2M375.8 2025.3V2026.8M385.7 1728.5V1730.0M385.7 1736.1V1737.6M385.7 1742.1V1743.6M385.7 1746.6V1748.1M385.7 1749.6V1751.1M385.7 1779.8V1782.8M385.7 1799.4V1800.9M385.7 1920.4V1921.9M385.7 1926.4V1929.4M385.7 1930.9V1933.9M385.7 1965.2V1966.7M385.7 1977.1V1978.6M385.7 1983.1V1984.6M385.7 1989.1V1990.6M385.7 1993.6V1995.0M385.7 2016.2V2019.2M385.7 2039.0V2042.0M385.7 2045.1V2046.6M395.6 1725.5V1727.0M395.6 1733.1V1734.6M395.6 1736.1V1737.6M395.6 1763.2V1764.7M395.6 1784.3V1785.8M395.6 1793.4V1794.9M395.6 1799.4V1800.9M395.6 1911.5V1914.5M395.6 1927.9V1929.4M395.6 1936.9V1938.3M395.6 1950.3V1953.3M395.6 1960.7V1962.2M395.6 1969.7V1971.2M395.6 1986.1V1987.6M395.6 1993.6V1995.0M395.6 2022.3V2023.8M395.6 2043.6V2045.1M424.3 1673.9V1675.4M424.3 1705.4V1706.9M424.3 1709.9V1711.4M424.3 1712.9V1716.0M424.3 1725.0V1726.5M424.3 1732.5V1738.5M424.3 1743.0V1744.5M424.3 1750.5V1753.5M424.3 1756.5V1758.0M424.3 1761.0V1764.0M424.3 1765.5V1767.0M424.3 1773.1V1774.6M424.3 1797.1V1798.6M424.3 1821.1V1822.6M424.3 1828.7V1830.2M424.3 1843.7V1845.2M424.3 1846.7V1848.2M424.3 1849.7V1851.2M424.3 1863.2V1864.7M424.3 1891.8V1893.3M424.3 1930.8V1932.4M434.2 1684.4V1687.4M434.2 1696.4V1697.9M434.2 1702.4V1705.4M434.2 1706.9V1708.4M434.2 1709.9V1712.9M434.2 1735.5V1737.0M434.2 1741.5V1744.5M434.2 1747.5V1749.0M434.2 1752.0V1755.0M434.2 1762.5V1764.0M434.2 1767.0V1768.5M434.2 1770.1V1771.6M434.2 1791.1V1794.1M434.2 1804.6V1807.6M434.2 1809.1V1812.1M434.2 1813.6V1815.1M434.2 1816.6V1818.1M434.2 1846.7V1848.2M434.2 1890.3V1891.8M434.2 1926.3V1927.8M434.2 1945.9V1947.4M444.1 1693.4V1696.4M444.1 1702.4V1703.9M444.1 1709.9V1714.4M444.1 1716.0V1717.5M444.1 1720.5V1722.0M444.1 1723.5V1725.0M444.1 1740.0V1741.5M444.1 1743.0V1744.5M444.1 1752.0V1753.5M444.1 1764.0V1765.5M444.1 1767.0V1768.5M444.1 1770.1V1773.1M444.1 1779.1V1780.6M444.1 1783.6V1785.1M444.1 1816.6V1819.6M444.1 1924.8V1926.3M444.1 1941.4V1942.9M454.0 1691.9V1693.4M454.0 1694.9V1696.4M454.0 1697.9V1699.4M454.0 1702.4V1703.9M454.0 1705.4V1706.9M454.0 1711.4V1712.9M454.0 1720.5V1722.0M454.0 1723.5V1725.0M454.0 1735.5V1737.0M454.0 1741.5V1743.0M454.0 1750.5V1753.5M454.0 1755.0V1756.5M454.0 1767.0V1768.5M454.0 1771.6V1773.1M454.0 1780.6V1782.1M454.0 1804.6V1806.1M454.0 1812.1V1813.6M454.0 1815.1V1816.6M454.0 1818.1V1819.6M454.0 1851.2V1854.2M454.0 1873.7V1875.2M454.0 1888.8V1890.3M454.0 1957.9V1959.4M463.9 2013.4V2015.0M463.9 2039.0V2040.5M463.9 2066.0V2067.5M473.8 1998.4V1999.9M473.8 2018.0V2019.5M473.8 2052.5V2054.0M473.8 2057.0V2058.5M473.8 2063.0V2064.5M483.7 1998.4V1999.9M483.7 2004.4V2005.9M483.7 2010.4V2011.9M483.7 2013.4V2015.0M483.7 2034.5V2036.0M483.7 2045.0V2046.5M483.7 2055.5V2057.0M493.6 1990.9V1992.4M493.6 2001.4V2002.9M493.6 2010.4V2011.9M493.6 2016.5V2018.0M493.6 2022.5V2024.0M493.6 2033.0V2034.5M493.6 2051.0V2052.5M493.6 2058.5V2060.0M522.2 1741.7V1743.2M522.2 1759.7V1761.2M522.2 1782.1V1783.6M522.2 1788.1V1789.6M522.2 1834.6V1836.1M522.2 1839.1V1840.6M522.2 1846.6V1848.0M522.2 1851.0V1852.5M522.2 1870.5V1873.5M522.2 1879.5V1881.0M532.1 1777.7V1779.2M532.1 1780.6V1782.1M532.1 1800.1V1801.6M532.1 1813.6V1815.1M532.1 1821.1V1822.6M532.1 1840.6V1845.1M532.1 1849.5V1852.5M532.1 1864.5V1866.0M532.1 1879.5V1881.0M542.0 1687.8V1689.3M542.0 1728.2V1729.7M542.0 1744.7V1746.2M542.0 1755.2V1756.7M542.0 2062.9V2064.4M552.0 1687.8V1689.3M552.0 1731.2V1732.7M552.0 1857.0V1858.5M561.9 1713.2V1714.7M561.9 1719.2V1720.7M561.9 1756.7V1758.2M561.9 1867.5V1869.0M561.9 1876.5V1879.5M561.9 2056.8V2058.3M571.8 1728.2V1729.7M571.8 2026.5V2028.0M581.6 1945.3V1946.8M581.6 1981.4V1982.9M581.6 2040.1V2041.6M620.2 1740.4V1741.9M620.2 1752.4V1753.9M620.2 1779.4V1780.9M620.2 1783.9V1785.4M620.2 1789.9V1791.4M620.2 1792.9V1794.3M620.2 1795.8V1797.3M620.2 1801.8V1803.3M620.2 1854.3V1855.8M620.2 1861.8V1864.8M620.2 1866.3V1867.8M620.2 1881.2V1882.7M620.2 1888.7V1890.2M620.2 1894.7V1896.2M630.1 1761.4V1762.9M630.1 1765.9V1767.4M630.1 1770.4V1771.9M630.1 1774.9V1776.4M630.1 1777.9V1783.9M630.1 1791.4V1794.3M630.1 1806.3V1807.8M630.1 1819.8V1821.3M630.1 1863.3V1864.8M630.1 1866.3V1867.8M630.1 1872.2V1873.7M630.1 1881.2V1884.2M630.1 1900.7V1902.2M630.1 1936.7V1938.2M630.1 1945.6V1947.1M630.1 1959.1V1960.6M640.0 2037.4V2038.9M640.0 2041.9V2046.4M640.0 2049.4V2050.9M640.0 2052.4V2053.9M640.0 2060.0V2061.5M649.9 2022.3V2023.8M649.9 2032.8V2034.3M649.9 2038.9V2040.4M649.9 2053.9V2055.4M659.8 1749.4V1750.9M659.8 1752.4V1753.9M659.8 1756.9V1758.4M659.8 1768.9V1770.4M659.8 1780.9V1782.4M659.8 1794.3V1797.3M659.8 1806.3V1809.3M659.8 1812.3V1813.8M659.8 1825.8V1827.3M659.8 1842.3V1843.8M659.8 1846.8V1848.3M659.8 1849.8V1851.3M659.8 1878.2V1881.2M659.8 1924.7V1926.2M659.8 1974.1V1975.6M669.7 1750.9V1752.4M669.7 1755.4V1756.9M669.7 1762.9V1764.4M669.7 1770.4V1771.9M669.7 1774.9V1776.4M669.7 1788.4V1789.9M669.7 1791.4V1798.8M669.7 1813.8V1815.3M669.7 1821.3V1822.8M669.7 1830.3V1833.3M669.7 1849.8V1851.3M669.7 1854.3V1855.8M669.7 1858.8V1860.3M669.7 1864.8V1866.3M669.7 1876.7V1878.2M669.7 1893.2V1894.7M669.7 1896.2V1897.7M679.6 2005.7V2007.2M679.6 2008.7V2010.2M679.6 2013.2V2014.7M679.6 2017.8V2019.3M679.6 2020.8V2022.3M679.6 2029.8V2031.3M679.6 2040.4V2041.9M679.6 2055.4V2056.9M689.5 2031.3V2032.8M689.5 2053.9V2056.9M689.5 2061.5V2064.5M718.2 1743.7V1745.2M718.2 1763.2V1764.7M718.2 1812.8V1814.3M718.2 1871.4V1872.9M718.2 1979.7V1981.2M728.1 1757.2V1758.7M728.1 1821.8V1823.3M728.1 1880.4V1881.9M728.1 2049.4V2050.9M728.1 2061.5V2063.0M738.0 1788.8V1790.3M738.0 1815.8V1818.8M738.0 1844.4V1845.9M738.0 1853.4V1854.9M738.0 1888.0V1889.5M738.0 1894.0V1895.5M738.0 1897.0V1898.5M738.0 1945.1V1946.6M738.0 1949.6V1951.1M738.0 2002.4V2003.9M747.9 1817.3V1818.8M747.9 1830.9V1833.9M747.9 1841.4V1842.9M747.9 1857.9V1859.4M747.9 1877.4V1878.9M747.9 1881.9V1885.0M747.9 1897.0V1898.5M747.9 1901.5V1903.0M747.9 1906.0V1910.5M747.9 1982.7V1984.2M747.9 1999.4V2000.9M747.9 2003.9V2005.5M747.9 2013.1V2014.6M757.8 1793.3V1794.8M757.8 1845.9V1847.4M757.8 1853.4V1854.9M757.8 1868.4V1869.9M757.8 1898.5V1900.0M767.7 1877.4V1878.9M767.7 1891.0V1892.5M767.7 1904.5V1906.0M777.6 1945.1V1946.6M777.6 1985.7V1987.2M777.6 2066.0V2067.5M787.5 1939.1V1940.6M787.5 1975.2V1976.7M787.5 1981.2V1982.7M787.5 1996.3V1997.9M816.1 1812.2V1813.7M816.1 1860.1V1861.6M816.1 1867.6V1869.1M816.1 1974.5V1976.0M816.1 1982.1V1983.6M816.1 1989.7V1991.2M826.0 1812.2V1813.7M826.0 1858.6V1860.1M826.0 1881.1V1882.5M826.0 1985.1V1988.1M845.8 1866.1V1867.6M845.8 2055.6V2057.1M855.7 1867.6V1869.1M855.7 1893.0V1894.5M855.7 1962.4V1963.9M855.7 1998.7V2000.2M865.6 1867.6V1869.1M865.6 1884.0V1885.5M865.6 1891.5V1893.0M865.6 1908.0V1909.5M865.6 1938.2V1939.7M865.6 1998.7V2001.7M865.6 2039.1V2040.6M875.5 1926.1V1927.6M875.5 2025.7V2027.1M885.4 1944.3V1945.8M885.4 2006.2V2007.7M914.1 2022.3V2023.8M914.1 2025.3V2029.8M914.1 2034.3V2035.9M914.1 2037.4V2038.9M914.1 2043.4V2044.9M914.1 2046.4V2047.9M914.1 2052.4V2053.9M914.1 2055.4V2056.9M914.1 2066.0V2067.5M924.0 2028.3V2029.8M924.0 2034.3V2037.4M924.0 2040.4V2041.9M924.0 2043.4V2044.9M924.0 2046.4V2047.9M924.0 2056.9V2058.4M924.0 2061.5V2063.0M924.0 2066.0V2067.5M933.9 1853.9V1855.4M933.9 1869.0V1870.5M933.9 1873.5V1875.0M933.9 1879.5V1881.0M933.9 1888.5V1890.0M933.9 1896.0V1897.5M933.9 1899.0V1900.5M933.9 1924.6V1926.1M933.9 1936.6V1938.1M933.9 1959.1V1960.6M933.9 1984.7V1986.2M943.8 1870.5V1872.0M943.8 1879.5V1881.0M943.8 1891.5V1893.0M943.8 1899.0V1900.5M943.8 1906.5V1909.5M943.8 1938.1V1939.6M943.8 1959.1V1962.1M943.8 1981.7V1983.2M943.8 1995.2V1996.7M953.7 1879.5V1881.0M953.7 1888.5V1890.0M953.7 1896.0V1897.5M953.7 1903.5V1906.5M953.7 1914.1V1917.1M953.7 1921.6V1923.1M953.7 1924.6V1926.1M953.7 1935.1V1936.6M953.7 1945.6V1947.1M953.7 1953.1V1954.6M953.7 1978.7V1980.2M953.7 1981.7V1983.2M963.6 1872.0V1873.5M963.6 1876.5V1878.0M963.6 1882.5V1884.0M963.6 1888.5V1891.5M963.6 1894.5V1896.0M963.6 1921.6V1923.1M963.6 1939.6V1941.1M963.6 1945.6V1948.6M963.6 1950.1V1951.6M963.6 1972.7V1974.2M963.6 1986.2V1987.7M973.5 2023.8V2025.3M973.5 2028.3V2029.8M973.5 2031.3V2034.3M973.5 2037.4V2038.9M983.4 2026.8V2028.3M983.4 2029.8V2032.8M983.4 2035.9V2037.4M983.4 2046.4V2047.9M983.4 2053.9V2055.4M983.4 2064.5V2066.0M1012.0 2022.2V2023.7M1012.0 2029.7V2031.2M1012.0 2037.3V2038.8M1012.0 2047.9V2049.4M1012.0 2060.0V2061.5M1021.9 2017.6V2019.1M1021.9 2020.6V2022.2M1031.8 2007.0V2010.0M1031.8 2020.6V2022.2M1031.8 2025.2V2026.7M1031.8 2029.7V2031.2M1031.8 2050.9V2052.4M1031.8 2060.0V2061.5M1041.7 2067.5V2069.0M1051.6 2064.5V2066.0M1081.3 2004.0V2005.5M1081.3 2007.0V2008.5M1081.3 2017.6V2019.1M1081.3 2044.8V2046.3M1081.3 2055.4V2058.4M1081.3 2063.0V2064.5M1081.3 2067.5V2069.0M1110.0 2011.0V2012.4M1110.0 2031.6V2033.0M1110.0 2034.5V2036.0M1110.0 2045.0V2046.5M1110.0 2051.0V2052.5M1110.0 2061.5V2063.0M1110.0 2067.5V2069.0M1129.8 2021.3V2022.7M1139.7 2040.5V2042.0M1139.7 2046.5V2048.0M1139.7 2061.5V2063.0M1139.7 2069.0V2070.5M1149.5 2016.9V2018.3M1159.5 2033.0V2034.5M1159.5 2034.5V2036.0M1159.5 2042.0V2043.5M1159.5 2045.0V2046.5M1159.5 2049.5V2051.0M1159.5 2061.5V2063.0M1169.4 2025.7V2027.1M1207.9 2023.3V2024.8M1207.9 2030.8V2032.2M1207.9 2047.2V2048.7M1207.9 2051.6V2053.0M1217.8 2014.3V2015.8M1217.8 2021.8V2023.3M1217.8 2048.7V2050.2M1227.7 2060.0V2061.5M1227.7 2069.0V2070.5M1247.5 2033.7V2035.2M1257.4 2018.8V2020.3M1257.4 2026.3V2027.8M1257.4 2032.2V2035.2M1305.9 2040.4V2041.9M1315.8 2043.3V2044.8M1315.8 2062.5V2064.0M1325.7 2044.8V2046.3M1365.3 2028.3V2029.8M1375.2 2046.3V2047.8M1375.2 2062.5V2064.0M1413.7 2027.1V2028.6M1413.7 2061.5V2063.0M1423.6 2025.6V2027.1M1423.6 2033.1V2034.6M1423.6 2036.1V2037.5M1423.6 2040.5V2045.0M1433.5 2061.5V2063.0M1433.5 2066.0V2067.5M1443.4 2025.6V2027.1M1443.4 2034.6V2037.5M1453.3 2054.0V2057.0M1453.3 2058.5V2060.0M1463.2 2031.6V2033.1M1463.2 2036.1V2037.5M1463.2 2040.5V2042.0M1473.1 2054.0V2055.5M1473.1 2067.5V2069.0"/>
<path stroke="#29655F" d="M326.3 1112.7V1114.2M326.3 1117.2V1118.7M326.3 1127.7V1129.2M326.3 1141.2V1142.7M326.3 1163.6V1165.1M326.3 1168.1V1169.6M326.3 1181.6V1183.1M326.3 1199.6V1201.1M326.3 1204.1V1205.6M326.3 1219.1V1220.6M326.3 1223.6V1225.1M326.3 1228.1V1229.6M326.3 1255.1V1256.6M326.3 1265.5V1267.0M326.3 1270.0V1271.5M326.3 1280.5V1282.0M326.3 1285.0V1286.5M326.3 1288.0V1291.0M326.3 1300.0V1304.5M326.3 1310.5V1312.0M326.3 1313.5V1315.0M326.3 1676.0V1677.5M326.3 1689.5V1691.0M326.3 1707.5V1709.0M326.3 1770.7V1772.3M326.3 1775.3V1776.8M326.3 1778.3V1779.8M326.3 1791.8V1793.4M326.3 1796.4V1799.4M326.3 1923.4V1924.9M326.3 1947.3V1948.8M326.3 1963.7V1965.2M326.3 1971.2V1972.7M336.2 1171.1V1172.6M336.2 1198.1V1199.6M336.2 1201.1V1202.6M336.2 1217.6V1219.1M336.2 1231.1V1234.1M336.2 1238.6V1240.1M336.2 1246.1V1247.6M336.2 1249.1V1250.6M336.2 1252.1V1255.1M336.2 1261.1V1262.6M336.2 1267.0V1268.5M336.2 1273.0V1274.5M336.2 1280.5V1282.0M336.2 1283.5V1286.5M336.2 1288.0V1289.5M336.2 1291.0V1292.5M336.2 1298.5V1300.0M336.2 1304.5V1306.0M336.2 1307.5V1309.0M336.2 1312.0V1313.5M336.2 1772.3V1773.8M336.2 1781.3V1782.8M336.2 1799.4V1800.9M336.2 1923.4V1924.9M336.2 1933.9V1935.4M336.2 1959.2V1960.7M336.2 1989.1V1992.1M346.1 1115.7V1117.2M346.1 1156.2V1157.7M346.1 1171.1V1172.6M346.1 1207.1V1208.6M346.1 1216.1V1217.6M346.1 1222.1V1223.6M346.1 1240.1V1241.6M346.1 1246.1V1247.6M346.1 1249.1V1250.6M346.1 1252.1V1253.6M346.1 1261.1V1262.6M346.1 1267.0V1268.5M346.1 1270.0V1271.5M346.1 1283.5V1285.0M346.1 1288.0V1289.5M346.1 1298.5V1300.0M346.1 1301.5V1303.0M346.1 1304.5V1306.0M346.1 1310.5V1312.0M346.1 1341.9V1343.4M346.1 1368.9V1370.4M346.1 1385.4V1386.9M346.1 1541.0V1542.5M346.1 1778.3V1779.8M346.1 1784.3V1785.8M346.1 1794.9V1796.4M346.1 1797.9V1799.4M346.1 2014.7V2016.2M346.1 2022.3V2023.8M346.1 2025.3V2026.8M346.1 2034.4V2037.5M356.0 1102.2V1103.7M356.0 1153.2V1154.7M356.0 1205.6V1208.6M356.0 1210.1V1211.6M356.0 1225.1V1226.6M356.0 1229.6V1231.1M356.0 1241.6V1243.1M356.0 1244.6V1247.6M356.0 1259.6V1262.6M356.0 1270.0V1273.0M356.0 1277.5V1279.0M356.0 1283.5V1285.0M356.0 1288.0V1289.5M356.0 1297.0V1298.5M356.0 1303.0V1306.0M356.0 1312.0V1315.0M356.0 1445.2V1446.7M356.0 1538.0V1539.5M356.0 1763.2V1764.7M356.0 1767.7V1769.2M356.0 1790.3V1791.8M356.0 1796.4V1797.9M356.0 2045.1V2046.6M365.9 908.9V910.4M365.9 922.4V923.9M365.9 937.4V938.9M365.9 943.4V946.4M365.9 974.8V976.3M365.9 1055.8V1057.3M365.9 1061.7V1063.2M365.9 1069.2V1070.7M365.9 1091.7V1093.2M365.9 1163.6V1165.1M365.9 1180.1V1181.6M365.9 1192.1V1193.6M365.9 1201.1V1204.1M365.9 1223.6V1225.1M365.9 1229.6V1231.1M365.9 1243.1V1244.6M365.9 1250.6V1252.1M365.9 1258.1V1259.6M365.9 1262.6V1265.5M365.9 1267.0V1268.5M365.9 1280.5V1283.5M365.9 1285.0V1286.5M365.9 1292.5V1297.0M365.9 1313.5V1315.0M365.9 1448.2V1449.7M365.9 1518.6V1520.1M365.9 1538.0V1539.5M365.9 1933.9V1935.4M365.9 1939.8V1941.3M365.9 1977.1V1978.6M365.9 1998.0V1999.5M365.9 2016.2V2017.7M365.9 2020.7V2023.8M365.9 2028.3V2029.9M375.8 907.4V908.9M375.8 937.4V938.9M375.8 949.4V950.9M375.8 952.4V953.9M375.8 961.3V962.8M375.8 964.3V965.8M375.8 997.3V998.8M375.8 1043.8V1045.3M375.8 1055.8V1057.3M375.8 1100.7V1102.2M375.8 1115.7V1117.2M375.8 1121.7V1123.2M375.8 1127.7V1129.2M375.8 1148.7V1151.7M375.8 1156.2V1157.7M375.8 1160.7V1162.1M375.8 1163.6V1165.1M375.8 1166.6V1168.1M375.8 1178.6V1180.1M375.8 1186.1V1187.6M375.8 1196.6V1202.6M375.8 1208.6V1210.1M375.8 1219.1V1220.6M375.8 1229.6V1232.6M375.8 1238.6V1240.1M375.8 1241.6V1244.6M375.8 1249.1V1250.6M375.8 1253.6V1255.1M375.8 1261.1V1262.6M375.8 1264.0V1265.5M375.8 1276.0V1277.5M375.8 1282.0V1283.5M375.8 1286.5V1289.5M375.8 1291.0V1292.5M375.8 1294.0V1295.5M375.8 1300.0V1301.5M375.8 1309.0V1312.0M375.8 1364.4V1365.9M375.8 1424.3V1425.8M375.8 1472.2V1473.7M375.8 1652.0V1653.5M375.8 1919.0V1920.4M375.8 1972.7V1974.2M375.8 1986.1V1989.1M375.8 2016.2V2017.7M375.8 2020.7V2022.3M375.8 2028.3V2029.9M385.7 1731.6V1733.1M385.7 1739.1V1740.6M385.7 1775.3V1776.8M385.7 1782.8V1784.3M385.7 1787.3V1790.3M385.7 1793.4V1794.9M385.7 1797.9V1799.4M385.7 1910.0V1911.5M385.7 1921.9V1923.4M385.7 1933.9V1935.4M385.7 1936.9V1938.3M385.7 1939.8V1941.3M385.7 1953.3V1954.8M385.7 1959.2V1960.7M385.7 1962.2V1963.7M385.7 1968.2V1969.7M385.7 1971.2V1972.7M385.7 1981.6V1983.1M385.7 1998.0V2001.0M385.7 2002.5V2004.0M385.7 2014.7V2016.2M385.7 2043.6V2045.1M395.6 1731.6V1733.1M395.6 1740.6V1742.1M395.6 1746.6V1748.1M395.6 1773.8V1775.3M395.6 1794.9V1796.4M395.6 1910.0V1911.5M395.6 1914.5V1916.0M395.6 1923.4V1926.4M395.6 1935.4V1936.9M395.6 1938.3V1939.8M395.6 1957.7V1959.2M395.6 1966.7V1969.7M395.6 1987.6V1989.1M395.6 1998.0V1999.5M395.6 2001.0V2004.0M395.6 2007.0V2008.6M395.6 2031.4V2032.9M424.3 1675.4V1676.9M424.3 1708.4V1709.9M424.3 1723.5V1725.0M424.3 1740.0V1741.5M424.3 1744.5V1746.0M424.3 1767.0V1768.5M424.3 1770.1V1771.6M424.3 1777.6V1779.1M424.3 1782.1V1783.6M424.3 1785.1V1786.6M424.3 1789.6V1791.1M424.3 1794.1V1797.1M424.3 1798.6V1800.1M424.3 1804.6V1806.1M424.3 1810.6V1812.1M424.3 1822.6V1824.2M424.3 1834.7V1839.2M424.3 1840.7V1842.2M424.3 1855.7V1857.2M424.3 1878.2V1879.8M424.3 1885.8V1887.3M424.3 1896.3V1899.3M424.3 1926.3V1927.8M424.3 1935.4V1936.9M434.2 1699.4V1702.4M434.2 1716.0V1719.0M434.2 1726.5V1729.5M434.2 1749.0V1750.5M434.2 1755.0V1759.5M434.2 1764.0V1767.0M434.2 1776.1V1777.6M434.2 1779.1V1780.6M434.2 1782.1V1786.6M434.2 1788.1V1789.6M434.2 1797.1V1798.6M434.2 1821.1V1824.2M434.2 1827.2V1828.7M434.2 1837.7V1839.2M434.2 1845.2V1846.7M434.2 1855.7V1857.2M434.2 1876.7V1878.2M434.2 1884.3V1887.3M434.2 1891.8V1893.3M434.2 1903.8V1906.8M434.2 1911.3V1912.8M434.2 1918.8V1921.8M434.2 1930.8V1932.4M434.2 1941.4V1942.9M444.1 1722.0V1723.5M444.1 1741.5V1743.0M444.1 1744.5V1746.0M444.1 1747.5V1749.0M444.1 1750.5V1752.0M444.1 1753.5V1756.5M444.1 1768.5V1770.1M444.1 1774.6V1777.6M444.1 1782.1V1783.6M444.1 1785.1V1786.6M444.1 1792.6V1794.1M444.1 1797.1V1800.1M444.1 1801.6V1803.1M444.1 1815.1V1816.6M444.1 1825.7V1828.7M444.1 1840.7V1842.2M444.1 1846.7V1848.2M444.1 1855.7V1857.2M444.1 1863.2V1866.2M444.1 1870.7V1875.2M444.1 1884.3V1885.8M444.1 1888.8V1890.3M444.1 1891.8V1893.3M444.1 1897.8V1899.3M444.1 1918.8V1920.3M444.1 1933.9V1935.4M444.1 1938.4V1939.9M444.1 1951.9V1953.4M444.1 1954.9V1956.4M444.1 1957.9V1959.4M454.0 1688.9V1690.4M454.0 1717.5V1719.0M454.0 1734.0V1735.5M454.0 1740.0V1741.5M454.0 1743.0V1744.5M454.0 1746.0V1747.5M454.0 1753.5V1755.0M454.0 1758.0V1759.5M454.0 1761.0V1764.0M454.0 1765.5V1767.0M454.0 1770.1V1771.6M454.0 1776.1V1779.1M454.0 1785.1V1786.6M454.0 1792.6V1794.1M454.0 1795.6V1797.1M454.0 1806.1V1807.6M454.0 1809.1V1812.1M454.0 1854.2V1855.7M454.0 1858.7V1860.2M454.0 1885.8V1887.3M454.0 1903.8V1905.3M454.0 1921.8V1923.3M463.9 2019.5V2022.5M463.9 2027.0V2028.5M463.9 2049.5V2051.0M463.9 2058.5V2060.0M463.9 2067.5V2069.0M473.8 2005.9V2007.4M473.8 2021.0V2022.5M473.8 2033.0V2034.5M473.8 2037.5V2040.5M473.8 2046.5V2048.0M473.8 2058.5V2060.0M473.8 2069.0V2070.5M483.7 2008.9V2010.4M483.7 2019.5V2021.0M483.7 2025.5V2027.0M483.7 2030.0V2031.5M483.7 2037.5V2039.0M483.7 2052.5V2054.0M483.7 2060.0V2061.5M493.6 2011.9V2013.4M493.6 2028.5V2033.0M493.6 2039.0V2042.0M493.6 2052.5V2054.0M493.6 2057.0V2058.5M493.6 2061.5V2063.0M522.2 1815.1V1816.6M522.2 1828.6V1830.1M522.2 1840.6V1842.1M522.2 1855.5V1857.0M522.2 1867.5V1869.0M522.2 1875.0V1876.5M522.2 1909.4V1910.9M522.2 1969.3V1970.8M522.2 1982.9V1984.4M522.2 1985.9V1987.4M522.2 2031.1V2032.6M532.1 1795.6V1797.1M532.1 1803.1V1804.6M532.1 1833.1V1834.6M532.1 1845.1V1846.6M532.1 1852.5V1854.0M532.1 1858.5V1860.0M532.1 1869.0V1870.5M532.1 1875.0V1876.5M532.1 1899.0V1900.5M532.1 1912.4V1913.9M532.1 1943.8V1945.3M532.1 1979.9V1981.4M542.0 1738.7V1740.2M542.0 1767.2V1768.7M542.0 1785.1V1786.6M542.0 1794.1V1795.6M542.0 1809.1V1810.6M542.0 1813.6V1815.1M542.0 1830.1V1831.6M542.0 1875.0V1876.5M542.0 1958.8V1960.3M542.0 2052.2V2053.8M552.0 1690.8V1692.3M552.0 1702.8V1704.3M552.0 1759.7V1761.2M552.0 1768.7V1770.2M552.0 1821.1V1822.6M552.0 1837.6V1839.1M552.0 1873.5V1876.5M552.0 2059.9V2061.4M561.9 1684.8V1686.3M561.9 1695.3V1696.8M561.9 1765.7V1767.2M561.9 1792.6V1794.1M561.9 1836.1V1837.6M561.9 1869.0V1870.5M561.9 1872.0V1873.5M561.9 2013.0V2014.5M561.9 2029.6V2031.1M561.9 2059.9V2061.4M571.8 1678.8V1680.3M571.8 1713.2V1714.7M571.8 1719.2V1720.7M571.8 1770.2V1771.7M571.8 1777.7V1779.2M571.8 1800.1V1801.6M571.8 1803.1V1804.6M571.8 1827.1V1828.6M571.8 1837.6V1839.1M571.8 1848.0V1849.5M571.8 2041.6V2043.1M571.8 2047.7V2049.2M571.8 2059.9V2061.4M571.8 2065.9V2067.5M581.6 1916.9V1918.4M581.6 1927.4V1928.9M581.6 1943.8V1945.3M581.6 1973.8V1975.3M581.6 2020.5V2022.0M591.5 1890.0V1891.5M591.5 1907.9V1909.4M591.5 1973.8V1975.3M591.5 2014.5V2016.0M620.2 1744.9V1746.4M620.2 1780.9V1782.4M620.2 1803.3V1806.3M620.2 1810.8V1812.3M620.2 1813.8V1815.3M620.2 1816.8V1818.3M620.2 1822.8V1824.3M620.2 1825.8V1827.3M620.2 1833.3V1834.8M620.2 1837.8V1839.3M620.2 1842.3V1843.8M620.2 1845.3V1846.8M620.2 1849.8V1851.3M620.2 1864.8V1866.3M620.2 1869.2V1872.2M620.2 1885.7V1887.2M620.2 1909.7V1911.2M620.2 1918.7V1920.2M620.2 1929.2V1932.2M620.2 1938.2V1939.7M620.2 1948.6V1951.6M620.2 1954.6V1956.1M620.2 1963.6V1965.1M620.2 1978.6V1980.1M630.1 1738.9V1740.4M630.1 1752.4V1755.4M630.1 1768.9V1770.4M630.1 1789.9V1791.4M630.1 1798.8V1800.3M630.1 1801.8V1806.3M630.1 1807.8V1809.3M630.1 1810.8V1812.3M630.1 1813.8V1815.3M630.1 1830.3V1833.3M630.1 1836.3V1839.3M630.1 1845.3V1846.8M630.1 1849.8V1851.3M630.1 1852.8V1854.3M630.1 1857.3V1858.8M630.1 1869.2V1870.7M630.1 1896.2V1899.2M630.1 1911.2V1912.7M630.1 1918.7V1920.2M630.1 1927.7V1929.2M630.1 1932.2V1933.7M630.1 1948.6V1950.1M630.1 1963.6V1965.1M630.1 1966.6V1968.1M640.0 2010.2V2011.7M640.0 2020.8V2022.3M640.0 2026.8V2028.3M640.0 2029.8V2034.3M640.0 2038.9V2040.4M640.0 2055.4V2056.9M640.0 2061.5V2063.0M640.0 2066.0V2069.0M649.9 2014.7V2016.3M649.9 2025.3V2026.8M649.9 2029.8V2032.8M649.9 2050.9V2052.4M649.9 2064.5V2066.0M659.8 1762.9V1764.4M659.8 1765.9V1767.4M659.8 1783.9V1785.4M659.8 1789.9V1794.3M659.8 1809.3V1810.8M659.8 1819.8V1821.3M659.8 1824.3V1825.8M659.8 1833.3V1836.3M659.8 1845.3V1846.8M659.8 1863.3V1864.8M659.8 1869.2V1870.7M659.8 1881.2V1882.7M659.8 1885.7V1887.2M659.8 1888.7V1890.2M659.8 1893.2V1894.7M659.8 1897.7V1899.2M659.8 1903.7V1905.2M659.8 1906.7V1911.2M659.8 1920.2V1921.7M659.8 1929.2V1930.7M659.8 1933.7V1935.2M659.8 1956.1V1957.6M659.8 1978.6V1980.1M669.7 1756.9V1758.4M669.7 1773.4V1774.9M669.7 1777.9V1779.4M669.7 1783.9V1785.4M669.7 1804.8V1806.3M669.7 1818.3V1819.8M669.7 1822.8V1824.3M669.7 1825.8V1827.3M669.7 1828.8V1830.3M669.7 1834.8V1836.3M669.7 1846.8V1849.8M669.7 1860.3V1861.8M669.7 1872.2V1873.7M669.7 1875.2V1876.7M669.7 1881.2V1882.7M669.7 1887.2V1888.7M669.7 1894.7V1896.2M669.7 1921.7V1923.2M669.7 1926.2V1927.7M669.7 1929.2V1930.7M669.7 1975.6V1977.1M669.7 1978.6V1980.1M679.6 2016.3V2017.8M679.6 2035.8V2037.4M679.6 2047.9V2049.4M679.6 2053.9V2055.4M679.6 2064.5V2066.0M679.6 2067.5V2070.5M689.5 2011.7V2013.2M689.5 2023.8V2025.3M689.5 2032.8V2034.3M689.5 2035.8V2038.9M689.5 2040.4V2041.9M689.5 2052.4V2053.9M689.5 2060.0V2061.5M718.2 1772.3V1773.8M718.2 1802.3V1803.8M718.2 1821.8V1823.3M718.2 1833.9V1836.9M718.2 1948.1V1949.6M718.2 1976.7V1978.2M718.2 2052.4V2054.0M728.1 1751.2V1752.7M728.1 1776.8V1778.3M728.1 1794.8V1796.3M728.1 1802.3V1803.8M728.1 1808.3V1809.8M728.1 1814.3V1815.8M728.1 1845.9V1847.4M728.1 1865.4V1868.4M728.1 1889.5V1891.0M728.1 1898.5V1900.0M728.1 1961.6V1963.1M728.1 1976.7V1978.2M738.0 1823.3V1824.9M738.0 1885.0V1886.5M738.0 1889.5V1891.0M738.0 1931.6V1933.1M738.0 1966.1V1967.6M738.0 1973.7V1975.2M738.0 1982.7V1984.2M738.0 1991.8V1993.3M738.0 2003.9V2005.5M738.0 2011.6V2013.1M738.0 2020.7V2022.2M747.9 1845.9V1847.4M747.9 1848.9V1850.4M747.9 1865.4V1866.9M747.9 1889.5V1891.0M747.9 1894.0V1895.5M747.9 1928.5V1930.0M747.9 1937.6V1939.1M747.9 1942.1V1943.6M747.9 1979.7V1981.2M747.9 2020.7V2022.2M757.8 1808.3V1809.8M757.8 1827.9V1829.4M757.8 1910.5V1912.0M757.8 2023.7V2025.2M767.7 1739.2V1740.7M767.7 1761.7V1763.2M767.7 1767.8V1769.3M767.7 1793.3V1794.8M767.7 1827.9V1829.4M767.7 1851.9V1853.4M767.7 1856.4V1857.9M767.7 1866.9V1868.4M767.7 1886.5V1888.0M767.7 2023.7V2025.2M767.7 2028.3V2029.8M767.7 2040.4V2041.9M777.6 1919.5V1921.0M777.6 1991.8V1993.3M777.6 2016.1V2017.6M777.6 2022.2V2025.2M787.5 1958.6V1960.1M787.5 1969.2V1970.7M787.5 2011.6V2013.1M787.5 2019.2V2020.7M787.5 2026.8V2028.3M787.5 2031.3V2032.9M816.1 1806.2V1807.7M816.1 1810.7V1812.2M816.1 1819.7V1821.2M816.1 1825.7V1827.1M816.1 1831.6V1833.1M816.1 1843.6V1845.1M816.1 1848.1V1849.6M816.1 2061.6V2063.1M826.0 1845.1V1846.6M826.0 1897.5V1899.0M826.0 1977.5V1979.1M826.0 1988.1V1991.2M826.0 1994.2V1995.7M826.0 2063.1V2064.5M835.9 1908.0V1909.5M835.9 2055.6V2057.1M835.9 2066.0V2067.5M845.8 1997.2V1998.7M855.7 1876.6V1878.1M855.7 1903.5V1905.0M855.7 1912.5V1914.0M855.7 1917.0V1918.6M855.7 1948.8V1951.8M855.7 1959.4V1960.9M855.7 1963.9V1965.5M855.7 1968.5V1970.0M855.7 1986.6V1988.1M855.7 1994.2V1995.7M855.7 2003.2V2004.7M855.7 2030.1V2031.6M865.6 1869.1V1870.6M865.6 1894.5V1896.0M865.6 1915.5V1917.0M865.6 1918.6V1921.6M865.6 1977.5V1980.6M865.6 1982.1V1983.6M865.6 1994.2V1995.7M875.5 1927.6V1929.2M875.5 2006.2V2007.7M875.5 2036.1V2037.6M875.5 2052.6V2054.1M885.4 2031.6V2033.1M914.1 2016.3V2017.8M914.1 2019.3V2020.8M914.1 2044.9V2046.4M914.1 2056.9V2058.4M914.1 2060.0V2061.5M924.0 2016.3V2017.8M924.0 2038.9V2040.4M924.0 2041.9V2043.4M924.0 2049.4V2050.9M924.0 2053.9V2055.4M933.9 1876.5V1878.0M933.9 1884.0V1885.5M933.9 1891.5V1894.5M933.9 1897.5V1899.0M933.9 1900.5V1905.0M933.9 1906.5V1908.0M933.9 1914.1V1915.6M933.9 1918.6V1920.1M933.9 1930.6V1932.1M933.9 1939.6V1942.6M933.9 1947.1V1948.6M933.9 1950.1V1951.6M933.9 1953.1V1956.1M933.9 1960.6V1962.1M933.9 1963.6V1965.1M933.9 1969.6V1971.2M933.9 1993.7V1995.2M943.8 1869.0V1870.5M943.8 1885.5V1891.5M943.8 1894.5V1896.0M943.8 1914.1V1915.6M943.8 1921.6V1923.1M943.8 1939.6V1941.1M943.8 1950.1V1951.6M943.8 1971.2V1972.7M943.8 1978.7V1980.2M943.8 1989.2V1992.2M953.7 1869.0V1870.5M953.7 1887.0V1888.5M953.7 1891.5V1893.0M953.7 1894.5V1896.0M953.7 1899.0V1900.5M953.7 1909.5V1911.0M953.7 1926.1V1929.1M953.7 1933.6V1935.1M953.7 1941.1V1942.6M953.7 1947.1V1948.6M953.7 1954.6V1957.6M953.7 1963.6V1965.1M953.7 1987.7V1989.2M963.6 1869.0V1870.5M963.6 1879.5V1881.0M963.6 1884.0V1885.5M963.6 1893.0V1894.5M963.6 1902.0V1903.5M963.6 1911.0V1912.5M963.6 1915.6V1917.1M963.6 1923.1V1926.1M963.6 1927.6V1929.1M963.6 1944.1V1945.6M963.6 1951.6V1953.1M963.6 1957.6V1959.1M963.6 1995.2V1996.7M973.5 2034.3V2035.9M973.5 2040.4V2041.9M973.5 2044.9V2046.4M973.5 2049.4V2052.4M973.5 2056.9V2060.0M973.5 2067.5V2069.0M983.4 2028.3V2029.8M983.4 2032.8V2034.3M983.4 2047.9V2049.4M983.4 2050.9V2052.4M983.4 2056.9V2060.0M983.4 2066.0V2067.5M1012.0 2019.1V2020.6M1012.0 2046.3V2047.9M1021.9 2013.1V2014.6M1021.9 2028.2V2029.7M1031.8 2040.3V2041.8M1031.8 2046.3V2049.4M1031.8 2056.9V2058.4M1051.6 2066.0V2067.5M1051.6 2069.0V2070.5M1081.3 2016.1V2017.6M1081.3 2023.7V2025.2M1081.3 2031.2V2032.7M1081.3 2035.8V2037.3M1081.3 2043.3V2044.8M1081.3 2047.9V2049.4M1110.0 2028.6V2030.1M1129.8 2024.2V2025.7M1139.7 2016.9V2018.3M1139.7 2019.8V2021.3M1139.7 2064.5V2066.0M1149.5 2015.4V2016.9M1159.5 2027.1V2030.1M1159.5 2043.5V2045.0M1169.4 2016.9V2018.3M1169.4 2024.2V2025.7M1169.4 2028.6V2031.6M1169.4 2033.0V2034.5M1207.9 2038.2V2039.7M1207.9 2053.0V2054.4M1217.8 2018.8V2021.8M1217.8 2026.3V2027.8M1217.8 2063.0V2064.5M1227.7 2035.2V2036.7M1237.6 2058.6V2060.0M1247.5 2018.8V2020.3M1247.5 2026.3V2027.8M1247.5 2050.2V2051.6M1257.4 2015.8V2017.3M1257.4 2041.2V2042.7M1257.4 2045.7V2047.2M1257.4 2060.0V2061.5M1267.3 2015.8V2017.3M1267.3 2018.8V2020.3M1267.3 2021.8V2023.3M1305.9 2037.5V2038.9M1315.8 2020.5V2022.1M1315.8 2034.5V2036.0M1325.7 2037.5V2038.9M1325.7 2050.7V2053.7M1325.7 2059.6V2061.1M1335.6 2019.0V2020.5M1345.5 2019.0V2020.5M1355.4 2064.0V2065.6M1365.3 2023.7V2025.2M1375.2 2056.6V2061.1M1403.8 2031.6V2033.1M1403.8 2049.5V2051.0M1413.7 2069.0V2070.5M1423.6 2031.6V2033.1M1423.6 2048.0V2049.5M1443.4 2027.1V2028.6M1443.4 2049.5V2051.0M1453.3 2025.6V2028.6M1453.3 2057.0V2058.5M1463.2 2027.1V2028.6"/>
<path stroke="#22504B" d="M326.3 1202.6V1204.1M326.3 1208.6V1210.1M326.3 1222.1V1223.6M326.3 1243.1V1244.6M326.3 1271.5V1274.5M326.3 1279.0V1280.5M326.3 1283.5V1285.0M326.3 1291.0V1294.0M326.3 1312.0V1313.5M326.3 1613.0V1614.5M326.3 1673.0V1674.5M326.3 1716.5V1718.0M326.3 1773.8V1775.3M326.3 1779.8V1782.8M326.3 1794.9V1796.4M326.3 1898.0V1899.5M326.3 1926.4V1927.9M326.3 1950.3V1951.8M326.3 1960.7V1963.7M336.2 1193.6V1195.1M336.2 1202.6V1204.1M336.2 1205.6V1207.1M336.2 1210.1V1211.6M336.2 1223.6V1225.1M336.2 1226.6V1228.1M336.2 1235.6V1237.1M336.2 1243.1V1244.6M336.2 1256.6V1258.1M336.2 1265.5V1267.0M336.2 1268.5V1270.0M336.2 1277.5V1279.0M336.2 1289.5V1291.0M336.2 1292.5V1294.0M336.2 1301.5V1303.0M336.2 1310.5V1312.0M336.2 1563.5V1565.0M336.2 1596.5V1598.0M336.2 1613.0V1614.5M336.2 1622.0V1623.5M336.2 1761.7V1763.2M336.2 1767.7V1772.3M336.2 1785.8V1787.3M336.2 1788.8V1790.3M336.2 1796.4V1799.4M336.2 1910.0V1911.5M336.2 1945.8V1947.3M336.2 1954.8V1956.3M336.2 1974.2V1975.7M336.2 1980.1V1983.1M346.1 1226.6V1229.6M346.1 1235.6V1237.1M346.1 1238.6V1240.1M346.1 1262.6V1264.0M346.1 1265.5V1267.0M346.1 1271.5V1273.0M346.1 1289.5V1291.0M346.1 1307.5V1310.5M346.1 1312.0V1313.5M346.1 1318.0V1319.5M346.1 1330.0V1331.5M346.1 1365.9V1367.4M346.1 1461.7V1463.2M346.1 1503.6V1505.1M346.1 1517.1V1518.6M346.1 1550.0V1551.5M346.1 1787.3V1793.4M346.1 1799.4V1802.4M346.1 2011.6V2013.1M346.1 2016.2V2019.2M356.0 1123.2V1124.7M356.0 1136.7V1138.2M356.0 1139.7V1141.2M356.0 1169.6V1171.1M356.0 1234.1V1235.6M356.0 1237.1V1240.1M356.0 1249.1V1250.6M356.0 1253.6V1255.1M356.0 1262.6V1264.0M356.0 1289.5V1291.0M356.0 1294.0V1295.5M356.0 1298.5V1300.0M356.0 1794.9V1796.4M356.0 1797.9V1799.4M365.9 919.4V920.9M365.9 952.4V953.9M365.9 983.8V985.3M365.9 988.3V989.8M365.9 991.3V992.8M365.9 1037.8V1039.3M365.9 1057.3V1058.7M365.9 1070.7V1072.2M365.9 1121.7V1123.2M365.9 1148.7V1150.2M365.9 1151.7V1153.2M365.9 1166.6V1168.1M365.9 1190.6V1192.1M365.9 1196.6V1198.1M365.9 1210.1V1211.6M365.9 1226.6V1228.1M365.9 1232.6V1234.1M365.9 1247.6V1249.1M365.9 1253.6V1255.1M365.9 1256.6V1258.1M365.9 1271.5V1273.0M365.9 1274.5V1276.0M365.9 1286.5V1288.0M365.9 1301.5V1303.0M365.9 1309.0V1310.5M365.9 1312.0V1313.5M365.9 1469.2V1470.7M365.9 1557.5V1559.0M365.9 1921.9V1923.4M365.9 1924.9V1926.4M365.9 1947.3V1948.8M365.9 1957.7V1959.2M375.8 929.9V931.4M375.8 935.9V937.4M375.8 1012.3V1013.8M375.8 1015.3V1016.8M375.8 1033.3V1034.8M375.8 1184.6V1186.1M375.8 1232.6V1234.1M375.8 1247.6V1249.1M375.8 1250.6V1252.1M375.8 1256.6V1261.1M375.8 1270.0V1271.5M375.8 1289.5V1291.0M375.8 1313.5V1315.0M375.8 1352.4V1353.9M375.8 1385.4V1386.9M375.8 1407.8V1409.3M375.8 1485.7V1487.1M375.8 1910.0V1911.5M375.8 1975.7V1978.6M375.8 1999.5V2001.0M375.8 2008.6V2010.1M375.8 2034.4V2035.9M375.8 2054.1V2055.6M385.7 1734.6V1736.1M385.7 1751.1V1752.7M385.7 1760.2V1761.7M385.7 1914.5V1916.0M385.7 1919.0V1920.4M385.7 1957.7V1959.2M385.7 1969.7V1971.2M385.7 1974.2V1975.7M385.7 1990.6V1992.1M385.7 2010.1V2011.6M385.7 2020.7V2022.3M395.6 1742.1V1743.6M395.6 1775.3V1776.8M395.6 1788.8V1790.3M395.6 1797.9V1799.4M395.6 1921.9V1923.4M395.6 1941.3V1942.8M395.6 1956.3V1957.7M395.6 1980.1V1981.6M395.6 1996.5V1998.0M395.6 2040.5V2042.0M424.3 1703.9V1705.4M424.3 1720.5V1722.0M424.3 1747.5V1749.0M424.3 1753.5V1755.0M424.3 1768.5V1770.1M424.3 1774.6V1776.1M424.3 1779.1V1780.6M424.3 1792.6V1794.1M424.3 1801.6V1803.1M424.3 1806.1V1809.1M424.3 1813.6V1816.6M424.3 1827.2V1828.7M424.3 1831.7V1834.7M424.3 1842.2V1843.7M424.3 1851.2V1854.2M424.3 1858.7V1861.7M424.3 1864.7V1866.2M424.3 1872.2V1873.7M424.3 1881.3V1882.8M424.3 1884.3V1885.8M424.3 1887.3V1888.8M424.3 1890.3V1891.8M424.3 1900.8V1902.3M424.3 1912.8V1914.3M424.3 1921.8V1923.3M424.3 1941.4V1942.9M424.3 1945.9V1947.4M424.3 1950.4V1951.9M424.3 1953.4V1956.4M434.2 1720.5V1722.0M434.2 1723.5V1725.0M434.2 1731.0V1732.5M434.2 1734.0V1735.5M434.2 1740.0V1741.5M434.2 1761.0V1762.5M434.2 1786.6V1788.1M434.2 1794.1V1795.6M434.2 1824.2V1827.2M434.2 1828.7V1830.2M434.2 1834.7V1837.7M434.2 1840.7V1842.2M434.2 1843.7V1845.2M434.2 1852.7V1854.2M434.2 1861.7V1867.7M434.2 1872.2V1876.7M434.2 1879.8V1881.3M434.2 1887.3V1890.3M434.2 1896.3V1897.8M434.2 1908.3V1909.8M434.2 1917.3V1918.8M434.2 1921.8V1923.3M434.2 1929.3V1930.8M434.2 1932.4V1933.9M434.2 1939.9V1941.4M434.2 1957.9V1959.4M444.1 1697.9V1699.4M444.1 1729.5V1731.0M444.1 1735.5V1737.0M444.1 1746.0V1747.5M444.1 1749.0V1750.5M444.1 1758.0V1759.5M444.1 1761.0V1762.5M444.1 1765.5V1767.0M444.1 1786.6V1788.1M444.1 1791.1V1792.6M444.1 1794.1V1795.6M444.1 1803.1V1804.6M444.1 1806.1V1807.6M444.1 1809.1V1810.6M444.1 1812.1V1813.6M444.1 1821.1V1822.6M444.1 1828.7V1831.7M444.1 1836.2V1837.7M444.1 1849.7V1851.2M444.1 1852.7V1855.7M444.1 1876.7V1878.2M444.1 1881.3V1882.8M444.1 1885.8V1887.3M444.1 1900.8V1902.3M444.1 1905.3V1906.8M444.1 1911.3V1912.8M444.1 1914.3V1915.8M444.1 1921.8V1923.3M444.1 1929.3V1930.8M444.1 1948.9V1950.4M454.0 1693.4V1694.9M454.0 1712.9V1714.4M454.0 1719.0V1720.5M454.0 1725.0V1726.5M454.0 1738.5V1740.0M454.0 1764.0V1765.5M454.0 1768.5V1770.1M454.0 1782.1V1785.1M454.0 1788.1V1791.1M454.0 1800.1V1803.1M454.0 1813.6V1815.1M454.0 1816.6V1818.1M454.0 1822.6V1824.2M454.0 1825.7V1827.2M454.0 1830.2V1833.2M454.0 1836.2V1837.7M454.0 1840.7V1842.2M454.0 1843.7V1848.2M454.0 1855.7V1858.7M454.0 1863.2V1864.7M454.0 1869.2V1870.7M454.0 1881.3V1882.8M454.0 1891.8V1893.3M454.0 1897.8V1899.3M454.0 1902.3V1903.8M454.0 1909.8V1912.8M454.0 1924.8V1926.3M454.0 1929.3V1930.8M454.0 1932.4V1933.9M454.0 1935.4V1936.9M454.0 1938.4V1944.4M454.0 1954.9V1957.9M463.9 2018.0V2019.5M463.9 2025.5V2027.0M463.9 2034.5V2037.5M463.9 2040.5V2045.0M463.9 2048.0V2049.5M463.9 2055.5V2058.5M463.9 2060.0V2064.5M473.8 2010.4V2011.9M473.8 2027.0V2028.5M473.8 2030.0V2033.0M473.8 2036.0V2037.5M473.8 2043.5V2045.0M473.8 2060.0V2063.0M473.8 2067.5V2069.0M483.7 2001.4V2002.9M483.7 2016.5V2019.5M483.7 2022.5V2025.5M483.7 2027.0V2028.5M483.7 2040.5V2042.0M483.7 2049.5V2052.5M483.7 2058.5V2060.0M493.6 2013.4V2015.0M493.6 2018.0V2019.5M493.6 2042.0V2043.5M493.6 2045.0V2046.5M493.6 2048.0V2049.5M493.6 2067.5V2070.5M522.2 1830.1V1831.6M522.2 1849.5V1851.0M522.2 1869.0V1870.5M522.2 1930.4V1931.9M522.2 1957.3V1958.8M522.2 1972.3V1973.8M522.2 1981.4V1982.9M522.2 1990.4V1991.9M522.2 2017.5V2019.0M522.2 2028.0V2029.6M532.1 1788.1V1789.6M532.1 1822.6V1824.1M532.1 1897.5V1899.0M532.1 1900.5V1901.9M532.1 1907.9V1909.4M532.1 1910.9V1912.4M532.1 1942.4V1943.8M532.1 1958.8V1960.3M532.1 1964.8V1966.3M532.1 2010.0V2011.5M542.0 1711.8V1713.2M542.0 1717.7V1719.2M542.0 1798.6V1800.1M542.0 1810.6V1812.1M542.0 1821.1V1822.6M542.0 1851.0V1852.5M542.0 1866.0V1867.5M542.0 2055.3V2056.8M542.0 2069.0V2070.5M552.0 1707.3V1708.8M552.0 1711.8V1713.2M552.0 1747.7V1749.2M552.0 1750.7V1752.2M552.0 1755.2V1756.7M552.0 1762.7V1764.2M552.0 1785.1V1786.6M552.0 1809.1V1810.6M552.0 1815.1V1816.6M552.0 1827.1V1828.6M552.0 1843.6V1845.1M552.0 1867.5V1869.0M552.0 2058.3V2059.9M561.9 1710.3V1711.8M561.9 1728.2V1729.7M561.9 1740.2V1741.7M561.9 1773.2V1774.7M561.9 1782.1V1783.6M561.9 1833.1V1834.6M561.9 1837.6V1839.1M561.9 1848.0V1849.5M561.9 1854.0V1855.5M561.9 2049.2V2050.7M571.8 1695.3V1696.8M571.8 1717.7V1719.2M571.8 1720.7V1722.2M571.8 1818.1V1819.6M571.8 1824.1V1825.6M571.8 1828.6V1830.1M571.8 1833.1V1834.6M571.8 2043.1V2046.2M571.8 2058.3V2059.9M571.8 2062.9V2064.4M581.6 1882.5V1884.0M581.6 2004.0V2005.5M581.6 2037.1V2038.6M591.5 1900.5V1904.9M591.5 1969.3V1970.8M591.5 1976.9V1978.4M591.5 2005.5V2007.0M620.2 1771.9V1776.4M620.2 1798.8V1801.8M620.2 1815.3V1816.8M620.2 1818.3V1821.3M620.2 1831.8V1833.3M620.2 1839.3V1842.3M620.2 1846.8V1848.3M620.2 1872.2V1875.2M620.2 1879.7V1881.2M620.2 1890.2V1891.7M620.2 1897.7V1900.7M620.2 1908.2V1909.7M620.2 1911.2V1912.7M620.2 1917.2V1918.7M620.2 1920.2V1921.7M620.2 1923.2V1924.7M620.2 1927.7V1929.2M620.2 1932.2V1933.7M620.2 1935.2V1936.7M620.2 1947.1V1948.6M620.2 1951.6V1953.1M620.2 1956.1V1957.6M620.2 1960.6V1963.6M620.2 1965.1V1966.6M620.2 1980.1V1981.6M630.1 1773.4V1774.9M630.1 1785.4V1786.9M630.1 1788.4V1789.9M630.1 1800.3V1801.8M630.1 1809.3V1810.8M630.1 1815.3V1818.3M630.1 1821.3V1822.8M630.1 1827.3V1828.8M630.1 1839.3V1840.8M630.1 1855.8V1857.3M630.1 1858.8V1860.3M630.1 1864.8V1866.3M630.1 1867.8V1869.2M630.1 1870.7V1872.2M630.1 1875.2V1876.7M630.1 1884.2V1885.7M630.1 1887.2V1888.7M630.1 1890.2V1891.7M630.1 1902.2V1905.2M630.1 1908.2V1909.7M630.1 1915.7V1918.7M630.1 1920.2V1921.7M630.1 1923.2V1924.7M630.1 1926.2V1927.7M630.1 1930.7V1932.2M630.1 1942.7V1945.6M630.1 1950.1V1951.6M630.1 1954.6V1957.6M630.1 1960.6V1963.6M630.1 1969.6V1971.1M630.1 1978.6V1980.1M640.0 2025.3V2026.8M640.0 2034.3V2035.8M640.0 2040.4V2041.9M640.0 2047.9V2049.4M640.0 2050.9V2052.4M640.0 2058.4V2060.0M640.0 2064.5V2066.0M649.9 2020.8V2022.3M649.9 2023.8V2025.3M649.9 2037.4V2038.9M649.9 2041.9V2044.9M649.9 2049.4V2050.9M649.9 2055.4V2056.9M649.9 2067.5V2069.0M659.8 1770.4V1771.9M659.8 1798.8V1800.3M659.8 1810.8V1812.3M659.8 1813.8V1816.8M659.8 1818.3V1819.8M659.8 1822.8V1824.3M659.8 1827.3V1828.8M659.8 1837.8V1839.3M659.8 1840.8V1842.3M659.8 1851.3V1852.8M659.8 1860.3V1861.8M659.8 1864.8V1866.3M659.8 1867.8V1869.2M659.8 1891.7V1893.2M659.8 1894.7V1896.2M659.8 1899.2V1900.7M659.8 1902.2V1903.7M659.8 1932.2V1933.7M659.8 1935.2V1936.7M659.8 1942.7V1944.1M659.8 1947.1V1948.6M659.8 1951.6V1953.1M659.8 1957.6V1959.1M659.8 1965.1V1966.6M659.8 1971.1V1972.6M659.8 1980.1V1981.6M669.7 1780.9V1783.9M669.7 1798.8V1800.3M669.7 1801.8V1803.3M669.7 1807.8V1812.3M669.7 1816.8V1818.3M669.7 1819.8V1821.3M669.7 1843.8V1846.8M669.7 1851.3V1852.8M669.7 1861.8V1864.8M669.7 1867.8V1869.2M669.7 1878.2V1881.2M669.7 1884.2V1887.2M669.7 1888.7V1890.2M669.7 1908.2V1911.2M669.7 1914.2V1915.7M669.7 1917.2V1920.2M669.7 1927.7V1929.2M669.7 1933.7V1935.2M669.7 1942.7V1944.1M669.7 1951.6V1953.1M669.7 1963.6V1966.6M669.7 1971.1V1972.6M679.6 2011.7V2013.2M679.6 2014.7V2016.3M679.6 2023.8V2025.3M679.6 2028.3V2029.8M679.6 2050.9V2052.4M679.6 2058.4V2060.0M679.6 2063.0V2064.5M679.6 2066.0V2067.5M689.5 2020.8V2022.3M689.5 2044.9V2046.4M689.5 2056.9V2058.4M689.5 2064.5V2066.0M689.5 2069.0V2070.5M718.2 1745.2V1746.7M718.2 1767.8V1769.3M718.2 1773.8V1775.3M718.2 1796.3V1797.8M718.2 1799.3V1800.8M718.2 1818.8V1820.3M718.2 1847.4V1848.9M718.2 1857.9V1859.4M718.2 1869.9V1871.4M718.2 1880.4V1883.5M718.2 1888.0V1889.5M718.2 1898.5V1900.0M718.2 1910.5V1912.0M718.2 1985.7V1987.2M718.2 2037.4V2038.9M718.2 2047.9V2050.9M728.1 1739.2V1740.7M728.1 1745.2V1746.7M728.1 1767.8V1769.3M728.1 1800.8V1802.3M728.1 1818.8V1820.3M728.1 1826.4V1829.4M728.1 1836.9V1838.4M728.1 1850.4V1853.4M728.1 1859.4V1860.9M728.1 1891.0V1894.0M728.1 1895.5V1897.0M728.1 1982.7V1984.2M728.1 1985.7V1987.2M728.1 2064.5V2066.0M738.0 1832.4V1833.9M738.0 1958.6V1960.1M738.0 1975.2V1976.7M747.9 1853.4V1854.9M747.9 1871.4V1872.9M747.9 1900.0V1901.5M747.9 1931.6V1933.1M747.9 1969.2V1970.7M747.9 1975.2V1976.7M747.9 1988.7V1990.2M747.9 2007.0V2008.5M747.9 2025.2V2026.8M757.8 1740.7V1742.2M757.8 1805.3V1806.8M757.8 1817.3V1818.8M757.8 1824.9V1826.4M757.8 1900.0V1901.5M757.8 1909.0V1910.5M757.8 2050.9V2052.4M757.8 2057.0V2058.5M767.7 1805.3V1806.8M767.7 1808.3V1809.8M767.7 1845.9V1847.4M767.7 1874.4V1875.9M767.7 1880.4V1881.9M767.7 1883.5V1885.0M767.7 1895.5V1897.0M767.7 1900.0V1901.5M767.7 1910.5V1912.0M767.7 2037.4V2038.9M767.7 2069.0V2070.5M777.6 1918.0V1919.5M777.6 1955.6V1957.1M777.6 1969.2V1970.7M777.6 1987.2V1990.2M777.6 1993.3V1994.8M777.6 1996.3V1997.9M777.6 2002.4V2003.9M777.6 2014.6V2016.1M777.6 2020.7V2022.2M787.5 1919.5V1921.0M787.5 1934.6V1937.6M787.5 1978.2V1979.7M787.5 2007.0V2008.5M787.5 2023.7V2025.2M787.5 2029.8V2031.3M816.1 1815.2V1816.7M816.1 1836.1V1837.6M816.1 1852.6V1854.1M816.1 1873.6V1875.1M816.1 1885.5V1887.0M816.1 1899.0V1900.5M816.1 1902.0V1903.5M816.1 1977.5V1979.1M816.1 1983.6V1985.1M816.1 2057.1V2058.6M826.0 1813.7V1815.2M826.0 1818.2V1819.7M826.0 1821.2V1822.7M826.0 1830.1V1831.6M826.0 1836.1V1837.6M826.0 1851.1V1854.1M826.0 1860.1V1861.6M826.0 1882.5V1884.0M826.0 1885.5V1887.0M826.0 1891.5V1893.0M826.0 1902.0V1903.5M826.0 1979.1V1980.6M835.9 1849.6V1851.1M835.9 1867.6V1869.1M835.9 1897.5V1899.0M835.9 2052.6V2054.1M835.9 2067.5V2069.0M845.8 1825.7V1827.1M845.8 1845.1V1846.6M845.8 1906.5V1908.0M855.7 1897.5V1900.5M855.7 1908.0V1909.5M855.7 1924.6V1926.1M855.7 1927.6V1929.2M855.7 1935.2V1936.7M855.7 1947.3V1948.8M855.7 1971.5V1973.0M855.7 1983.6V1985.1M855.7 1988.1V1989.7M855.7 2012.2V2013.7M855.7 2015.2V2018.2M855.7 2025.7V2027.1M855.7 2039.1V2040.6M865.6 1897.5V1899.0M865.6 1929.2V1930.7M865.6 1933.7V1935.2M865.6 1939.7V1942.8M865.6 1950.3V1951.8M865.6 1963.9V1965.5M865.6 1974.5V1976.0M865.6 1980.6V1982.1M865.6 1986.6V1989.7M865.6 1992.7V1994.2M865.6 2012.2V2013.7M865.6 2015.2V2016.7M865.6 2025.7V2027.1M865.6 2046.6V2048.1M865.6 2051.1V2052.6M865.6 2054.1V2055.6M875.5 1917.0V1918.6M875.5 2018.2V2019.7M875.5 2031.6V2033.1M875.5 2042.1V2043.6M875.5 2045.1V2046.6M885.4 1915.5V1917.0M885.4 1918.6V1920.1M885.4 1968.5V1970.0M885.4 1985.1V1986.6M914.1 2038.9V2040.4M914.1 2061.5V2063.0M914.1 2069.0V2070.5M924.0 2031.3V2032.8M924.0 2044.9V2046.4M924.0 2060.0V2061.5M924.0 2067.5V2070.5M933.9 1894.5V1896.0M933.9 1915.6V1917.1M933.9 1935.1V1936.6M933.9 1971.2V1972.7M933.9 1974.2V1975.7M933.9 1978.7V1980.2M933.9 1987.7V1989.2M933.9 1992.2V1993.7M933.9 1995.2V1998.2M943.8 1881.0V1882.5M943.8 1884.0V1885.5M943.8 1912.5V1914.1M943.8 1915.6V1917.1M943.8 1924.6V1926.1M943.8 1933.6V1935.1M943.8 1936.6V1938.1M943.8 1941.1V1942.6M943.8 1945.6V1947.1M943.8 1954.6V1956.1M943.8 1974.2V1977.2M943.8 1984.7V1989.2M943.8 1992.2V1993.7M943.8 1996.7V1998.2M953.7 1884.0V1885.5M953.7 1900.5V1902.0M953.7 1917.1V1920.1M953.7 1923.1V1924.6M953.7 1929.1V1932.1M953.7 1936.6V1938.1M953.7 1939.6V1941.1M953.7 1944.1V1945.6M953.7 1950.1V1951.6M953.7 1960.6V1962.1M953.7 1966.6V1968.1M953.7 1974.2V1975.7M953.7 1980.2V1981.7M953.7 1992.2V1996.7M963.6 1885.5V1887.0M963.6 1896.0V1899.0M963.6 1905.0V1906.5M963.6 1908.0V1909.5M963.6 1912.5V1914.1M963.6 1917.1V1918.6M963.6 1932.1V1933.6M963.6 1936.6V1938.1M963.6 1941.1V1942.6M963.6 1956.1V1957.6M963.6 1960.6V1962.1M963.6 1963.6V1966.6M963.6 1969.6V1971.2M963.6 1980.2V1981.7M963.6 1983.2V1984.7M963.6 1990.7V1992.2M973.5 2026.8V2028.3M973.5 2035.9V2037.4M973.5 2038.9V2040.4M973.5 2053.9V2056.9M973.5 2060.0V2061.5M973.5 2064.5V2066.0M983.4 2040.4V2041.9M983.4 2043.4V2046.4M983.4 2049.4V2050.9M983.4 2061.5V2063.0M1012.0 2032.7V2034.2M1012.0 2056.9V2058.4M1031.8 2017.6V2019.1M1031.8 2026.7V2028.2M1031.8 2061.5V2063.0M1081.3 2005.5V2007.0M1081.3 2014.6V2016.1M1081.3 2025.2V2026.7M1081.3 2060.0V2061.5M1110.0 2019.8V2021.3M1110.0 2024.2V2025.7M1110.0 2033.0V2034.5M1110.0 2052.5V2054.0M1110.0 2058.5V2060.0M1129.8 2025.7V2027.1M1129.8 2045.0V2046.5M1129.8 2051.0V2052.5M1129.8 2060.0V2061.5M1129.8 2064.5V2066.0M1139.7 2018.3V2019.8M1149.5 2011.0V2012.4M1159.5 2039.0V2040.5M1169.4 2013.9V2015.4M1207.9 2033.7V2035.2M1207.9 2055.8V2057.2M1217.8 2038.2V2039.7M1217.8 2044.2V2045.7M1217.8 2067.5V2069.0M1227.7 2036.7V2038.2M1227.7 2067.5V2069.0M1247.5 2015.8V2017.3M1247.5 2051.6V2053.0M1257.4 2023.3V2024.8M1257.4 2039.7V2041.2M1257.4 2063.0V2064.5M1267.3 2017.3V2018.8M1267.3 2023.3V2024.8M1267.3 2036.7V2038.2M1267.3 2039.7V2042.7M1277.2 2067.5V2069.0M1305.9 2043.3V2044.8M1305.9 2059.6V2061.1M1315.8 2031.4V2033.0M1315.8 2047.8V2049.2M1325.7 2038.9V2040.4M1325.7 2047.8V2049.2M1325.7 2053.7V2055.2M1335.6 2022.1V2023.7M1335.6 2065.6V2068.9M1375.2 2037.5V2038.9M1375.2 2047.8V2049.2M1375.2 2050.7V2052.2M1375.2 2055.2V2056.6M1403.8 2025.6V2027.1M1403.8 2034.6V2037.5M1403.8 2039.0V2040.5M1403.8 2042.0V2043.5M1413.7 2057.0V2058.5M1413.7 2063.0V2064.5M1413.7 2066.0V2067.5M1423.6 2046.5V2048.0M1443.4 2037.5V2042.0M1443.4 2046.5V2048.0M1453.3 2031.6V2036.1M1453.3 2063.0V2067.5M1463.2 2042.0V2043.5M1473.1 2055.5V2057.0M1473.1 2061.5V2063.0"/>
<path stroke="#1C3B37" d="M326.3 1226.6V1228.1M326.3 1235.6V1237.1M326.3 1249.1V1250.6M326.3 1258.1V1259.6M326.3 1274.5V1279.0M326.3 1563.5V1565.0M326.3 1772.3V1773.8M326.3 1787.3V1790.3M326.3 1936.9V1938.3M326.3 1989.1V1990.6M336.2 1225.1V1226.6M336.2 1262.6V1264.0M336.2 1274.5V1276.0M336.2 1294.0V1295.5M336.2 1638.5V1640.0M336.2 1698.5V1700.0M336.2 1782.8V1785.8M336.2 1787.3V1788.8M336.2 1800.9V1802.4M336.2 1926.4V1927.9M336.2 1932.4V1933.9M336.2 1965.2V1966.7M336.2 1969.7V1971.2M336.2 1993.6V1995.0M346.1 1139.7V1141.2M346.1 1190.6V1192.1M346.1 1232.6V1235.6M346.1 1244.6V1246.1M346.1 1255.1V1256.6M346.1 1264.0V1265.5M346.1 1273.0V1274.5M346.1 1276.0V1277.5M346.1 1280.5V1282.0M346.1 1313.5V1315.0M346.1 1421.3V1422.8M346.1 1481.2V1482.7M346.1 1860.7V1862.2M346.1 1887.6V1890.6M346.1 2004.0V2005.5M346.1 2020.7V2022.3M346.1 2028.3V2029.9M346.1 2032.9V2034.4M346.1 2037.5V2039.0M346.1 2045.1V2046.6M346.1 2060.0V2061.5M346.1 2063.0V2064.5M356.0 1222.1V1223.6M356.0 1232.6V1234.1M356.0 1258.1V1259.6M356.0 1267.0V1268.5M356.0 1280.5V1282.0M356.0 1479.7V1481.2M356.0 1556.0V1557.5M356.0 1778.3V1779.8M356.0 1781.3V1782.8M356.0 1787.3V1788.8M356.0 1799.4V1802.4M356.0 1895.1V1896.5M356.0 2010.1V2011.6M356.0 2031.4V2032.9M356.0 2035.9V2037.5M356.0 2042.0V2043.6M365.9 905.9V907.4M365.9 911.9V913.4M365.9 935.9V937.4M365.9 962.8V964.3M365.9 965.8V967.3M365.9 995.8V997.3M365.9 1184.6V1186.1M365.9 1234.1V1235.6M365.9 1252.1V1253.6M365.9 1270.0V1271.5M365.9 1273.0V1274.5M365.9 1276.0V1277.5M365.9 1279.0V1280.5M365.9 1298.5V1300.0M365.9 1304.5V1306.0M365.9 1310.5V1312.0M365.9 1327.0V1328.5M365.9 1334.5V1337.5M365.9 1339.0V1340.4M365.9 1413.8V1416.8M365.9 1424.3V1425.8M365.9 1428.8V1430.3M365.9 1458.7V1460.2M365.9 1554.5V1556.0M365.9 2001.0V2002.5M365.9 2034.4V2035.9M365.9 2051.1V2052.6M375.8 920.9V922.4M375.8 941.9V943.4M375.8 991.3V992.8M375.8 1010.8V1012.3M375.8 1214.6V1216.1M375.8 1285.0V1286.5M375.8 1301.5V1303.0M375.8 1304.5V1306.0M375.8 1312.0V1313.5M375.8 1341.9V1343.4M375.8 1500.6V1502.1M375.8 1689.5V1691.0M375.8 1936.9V1938.3M385.7 1770.7V1772.3M385.7 1794.9V1796.4M385.7 1898.0V1901.0M385.7 1917.5V1919.0M385.7 1935.4V1936.9M385.7 1942.8V1945.8M385.7 1947.3V1950.3M385.7 1966.7V1968.2M385.7 1980.1V1981.6M385.7 2031.4V2032.9M395.6 1724.0V1725.5M395.6 1752.7V1754.2M395.6 1766.2V1769.2M395.6 1776.8V1778.3M395.6 1785.8V1787.3M395.6 1800.9V1802.4M395.6 1926.4V1927.9M395.6 1965.2V1966.7M395.6 1975.7V1977.1M395.6 1990.6V1992.1M395.6 2016.2V2017.7M395.6 2020.7V2022.3M424.3 1716.0V1717.5M424.3 1728.0V1729.5M424.3 1741.5V1743.0M424.3 1764.0V1765.5M424.3 1771.6V1773.1M424.3 1786.6V1788.1M424.3 1800.1V1801.6M424.3 1803.1V1804.6M424.3 1812.1V1813.6M424.3 1824.2V1827.2M424.3 1830.2V1831.7M424.3 1848.2V1849.7M424.3 1867.7V1872.2M424.3 1873.7V1875.2M424.3 1879.8V1881.3M424.3 1893.3V1894.8M424.3 1902.3V1905.3M424.3 1909.8V1911.3M424.3 1914.3V1917.3M424.3 1918.8V1921.8M424.3 1929.3V1930.8M424.3 1932.4V1933.9M424.3 1942.9V1944.4M424.3 1947.4V1950.4M424.3 1951.9V1953.4M424.3 1957.9V1959.4M434.2 1714.4V1716.0M434.2 1729.5V1731.0M434.2 1774.6V1776.1M434.2 1777.6V1779.1M434.2 1798.6V1801.6M434.2 1803.1V1804.6M434.2 1807.6V1809.1M434.2 1812.1V1813.6M434.2 1815.1V1816.6M434.2 1818.1V1821.1M434.2 1830.2V1833.2M434.2 1839.2V1840.7M434.2 1848.2V1849.7M434.2 1858.7V1861.7M434.2 1867.7V1870.7M434.2 1881.3V1882.8M434.2 1897.8V1899.3M434.2 1900.8V1902.3M434.2 1906.8V1908.3M434.2 1909.8V1911.3M434.2 1912.8V1917.3M434.2 1935.4V1936.9M434.2 1947.4V1948.9M444.1 1756.5V1758.0M444.1 1762.5V1764.0M444.1 1773.1V1774.6M444.1 1789.6V1791.1M444.1 1795.6V1797.1M444.1 1810.6V1812.1M444.1 1824.2V1825.7M444.1 1851.2V1852.7M444.1 1860.2V1861.7M444.1 1866.2V1869.2M444.1 1882.8V1884.3M444.1 1887.3V1888.8M444.1 1896.3V1897.8M444.1 1903.8V1905.3M444.1 1908.3V1911.3M444.1 1912.8V1914.3M444.1 1923.3V1924.8M444.1 1926.3V1929.3M444.1 1932.4V1933.9M444.1 1935.4V1938.4M444.1 1939.9V1941.4M444.1 1945.9V1948.9M444.1 1950.4V1951.9M444.1 1953.4V1954.9M454.0 1731.0V1734.0M454.0 1756.5V1758.0M454.0 1774.6V1776.1M454.0 1786.6V1788.1M454.0 1791.1V1792.6M454.0 1794.1V1795.6M454.0 1797.1V1798.6M454.0 1807.6V1809.1M454.0 1819.6V1821.1M454.0 1828.7V1830.2M454.0 1833.2V1834.7M454.0 1837.7V1840.7M454.0 1848.2V1849.7M454.0 1861.7V1863.2M454.0 1864.7V1866.2M454.0 1876.7V1878.2M454.0 1879.8V1881.3M454.0 1882.8V1884.3M454.0 1893.3V1894.8M454.0 1905.3V1906.8M454.0 1908.3V1909.8M454.0 1912.8V1915.8M454.0 1917.3V1918.8M454.0 1933.9V1935.4M454.0 1944.4V1947.4M454.0 1950.4V1953.4M463.9 2016.5V2018.0M463.9 2030.0V2031.5M473.8 2016.5V2018.0M473.8 2042.0V2043.5M473.8 2049.5V2051.0M473.8 2054.0V2057.0M483.7 1912.8V1914.3M483.7 2048.0V2049.5M483.7 2054.0V2055.5M483.7 2066.0V2067.5M483.7 2069.0V2070.5M493.6 2034.5V2036.0M493.6 2055.5V2057.0M522.2 1833.1V1834.6M522.2 1854.0V1855.5M522.2 1857.0V1858.5M522.2 1876.5V1878.0M522.2 1903.4V1904.9M522.2 1925.9V1927.4M522.2 1931.9V1934.9M522.2 1936.4V1939.4M522.2 1963.3V1964.8M522.2 1976.9V1978.4M522.2 1988.9V1990.4M522.2 1993.4V1996.4M522.2 1999.4V2002.4M522.2 2010.0V2014.5M522.2 2025.0V2026.5M532.1 1812.1V1813.6M532.1 1830.1V1831.6M532.1 1846.6V1848.0M532.1 1855.5V1857.0M532.1 1884.0V1885.5M532.1 1925.9V1927.4M532.1 1963.3V1964.8M532.1 1972.3V1973.8M532.1 1985.9V1987.4M532.1 1999.4V2000.9M532.1 2022.0V2023.5M532.1 2028.0V2031.1M532.1 2037.1V2038.6M542.0 1732.7V1734.2M542.0 1747.7V1749.2M542.0 1764.2V1765.7M542.0 1770.2V1773.2M542.0 1776.2V1777.7M542.0 1786.6V1788.1M542.0 1789.6V1791.1M542.0 1792.6V1794.1M542.0 1815.1V1816.6M542.0 1846.6V1848.0M542.0 1863.0V1864.5M542.0 2043.1V2044.6M542.0 2053.8V2055.3M552.0 1692.3V1693.8M552.0 1705.8V1707.3M552.0 1717.7V1719.2M552.0 1726.7V1728.2M552.0 1734.2V1735.7M552.0 1780.6V1782.1M552.0 1791.1V1792.6M552.0 1798.6V1800.1M552.0 1812.1V1813.6M552.0 1819.6V1821.1M552.0 1824.1V1825.6M552.0 1836.1V1837.6M552.0 1842.1V1843.6M552.0 1855.5V1857.0M552.0 1866.0V1867.5M552.0 1869.0V1870.5M552.0 1872.0V1873.5M552.0 2053.8V2055.3M552.0 2067.5V2069.0M561.9 1680.3V1681.8M561.9 1693.8V1695.3M561.9 1705.8V1707.3M561.9 1720.7V1722.2M561.9 1741.7V1744.7M561.9 1774.7V1776.2M561.9 1786.6V1789.6M561.9 1803.1V1804.6M561.9 1806.1V1809.1M561.9 1816.6V1818.1M561.9 1824.1V1825.6M561.9 1852.5V1854.0M561.9 1857.0V1860.0M561.9 1861.5V1863.0M561.9 1870.5V1872.0M561.9 1879.5V1881.0M561.9 2044.6V2046.2M561.9 2047.7V2049.2M561.9 2052.2V2053.8M561.9 2061.4V2062.9M571.8 1680.3V1681.8M571.8 1683.3V1686.3M571.8 1692.3V1693.8M571.8 1702.8V1704.3M571.8 1710.3V1711.8M571.8 1716.2V1717.7M571.8 1735.7V1737.2M571.8 1738.7V1741.7M571.8 1758.2V1759.7M571.8 1774.7V1776.2M571.8 1791.1V1792.6M571.8 1804.6V1806.1M571.8 1816.6V1818.1M571.8 1821.1V1822.6M571.8 1834.6V1836.1M571.8 1858.5V1860.0M571.8 1870.5V1873.5M571.8 2052.2V2053.8M571.8 2064.4V2065.9M571.8 2067.5V2069.0M581.6 1890.0V1891.5M581.6 1940.9V1942.4M581.6 1964.8V1966.3M581.6 1984.4V1985.9M581.6 1994.9V1996.4M581.6 2002.4V2004.0M581.6 2005.5V2007.0M581.6 2008.5V2010.0M581.6 2013.0V2016.0M581.6 2028.0V2029.6M591.5 1893.0V1894.5M591.5 1897.5V1899.0M591.5 1949.8V1951.3M591.5 1958.8V1960.3M591.5 1987.4V1988.9M591.5 2013.0V2014.5M591.5 2031.1V2032.6M591.5 2040.1V2041.6M620.2 1761.4V1762.9M620.2 1797.3V1798.8M620.2 1807.8V1810.8M620.2 1821.3V1822.8M620.2 1824.3V1825.8M620.2 1827.3V1828.8M620.2 1834.8V1837.8M620.2 1852.8V1854.3M620.2 1858.8V1861.8M620.2 1878.2V1879.7M620.2 1882.7V1884.2M620.2 1893.2V1894.7M620.2 1900.7V1905.2M620.2 1912.7V1914.2M620.2 1921.7V1923.2M620.2 1924.7V1927.7M620.2 1933.7V1935.2M620.2 1957.6V1959.1M620.2 1968.1V1971.1M620.2 1975.6V1978.6M630.1 1843.8V1845.3M630.1 1846.8V1849.8M630.1 1876.7V1879.7M630.1 1888.7V1890.2M630.1 1893.2V1894.7M630.1 1909.7V1911.2M630.1 1921.7V1923.2M630.1 1933.7V1935.2M630.1 1938.2V1939.7M630.1 1947.1V1948.6M630.1 1972.6V1974.1M630.1 1980.1V1981.6M640.0 2028.3V2029.8M640.0 2035.8V2037.4M640.0 2053.9V2055.4M640.0 2063.0V2064.5M649.9 1846.8V1848.3M649.9 2035.8V2037.4M649.9 2047.9V2049.4M649.9 2061.5V2064.5M659.8 1785.4V1786.9M659.8 1788.4V1789.9M659.8 1801.8V1803.3M659.8 1804.8V1806.3M659.8 1816.8V1818.3M659.8 1821.3V1822.8M659.8 1839.3V1840.8M659.8 1843.8V1845.3M659.8 1854.3V1855.8M659.8 1857.3V1858.8M659.8 1866.3V1867.8M659.8 1870.7V1873.7M659.8 1875.2V1876.7M659.8 1882.7V1885.7M659.8 1887.2V1888.7M659.8 1911.2V1914.2M659.8 1917.2V1920.2M659.8 1921.7V1923.2M659.8 1926.2V1929.2M659.8 1939.7V1941.2M659.8 1945.6V1947.1M659.8 1950.1V1951.6M659.8 1953.1V1954.6M659.8 1968.1V1971.1M659.8 1972.6V1974.1M659.8 1975.6V1977.1M669.7 1749.4V1750.9M669.7 1765.9V1767.4M669.7 1786.9V1788.4M669.7 1789.9V1791.4M669.7 1815.3V1816.8M669.7 1827.3V1828.8M669.7 1836.3V1837.8M669.7 1839.3V1840.8M669.7 1842.3V1843.8M669.7 1870.7V1872.2M669.7 1873.7V1875.2M669.7 1882.7V1884.2M669.7 1890.2V1891.7M669.7 1897.7V1900.7M669.7 1912.7V1914.2M669.7 1920.2V1921.7M669.7 1923.2V1924.7M669.7 1935.2V1938.2M669.7 1941.2V1942.7M669.7 1947.1V1951.6M669.7 1953.1V1954.6M669.7 1980.1V1981.6M679.6 1917.2V1918.7M679.6 2049.4V2050.9M679.6 2052.4V2053.9M689.5 2017.8V2019.3M689.5 2034.3V2035.8M689.5 2043.4V2044.9M689.5 2046.4V2047.9M689.5 2049.4V2052.4M689.5 2058.4V2060.0M718.2 1758.7V1760.2M718.2 1769.3V1770.8M718.2 1779.8V1781.3M718.2 1787.3V1788.8M718.2 1793.3V1794.8M718.2 1800.8V1802.3M718.2 1811.3V1812.8M718.2 1823.3V1824.9M718.2 1836.9V1838.4M718.2 1851.9V1854.9M718.2 1856.4V1857.9M718.2 1859.4V1860.9M718.2 1863.9V1865.4M718.2 1895.5V1897.0M718.2 1901.5V1903.0M718.2 2058.5V2060.0M718.2 2061.5V2063.0M728.1 1736.2V1737.7M728.1 1779.8V1781.3M728.1 1785.8V1787.3M728.1 1820.3V1821.8M728.1 1823.3V1824.9M728.1 1833.9V1835.4M728.1 1857.9V1859.4M728.1 1860.9V1862.4M728.1 1869.9V1871.4M728.1 1881.9V1883.5M728.1 1885.0V1886.5M728.1 1909.0V1912.0M728.1 2037.4V2040.4M728.1 2041.9V2043.4M728.1 2057.0V2058.5M738.0 1854.9V1856.4M738.0 1895.5V1897.0M738.0 1900.0V1901.5M738.0 1925.5V1927.0M738.0 1928.5V1930.0M747.9 1809.8V1811.3M747.9 1839.9V1841.4M747.9 1850.4V1851.9M747.9 1910.5V1912.0M747.9 1924.0V1925.5M747.9 1945.1V1946.6M747.9 1990.2V1991.8M747.9 2028.3V2029.8M747.9 2031.3V2032.9M757.8 1752.7V1754.2M757.8 1758.7V1760.2M757.8 1764.7V1766.3M757.8 1781.3V1782.8M757.8 1788.8V1790.3M757.8 1820.3V1821.8M757.8 1833.9V1836.9M757.8 1838.4V1839.9M757.8 1865.4V1866.9M757.8 1874.4V1875.9M757.8 1877.4V1878.9M757.8 1883.5V1885.0M757.8 1888.0V1889.5M757.8 2037.4V2040.4M767.7 1758.7V1760.2M767.7 1769.3V1770.8M767.7 1775.3V1776.8M767.7 1791.8V1793.3M767.7 1794.8V1796.3M767.7 1800.8V1802.3M767.7 1803.8V1805.3M767.7 1814.3V1815.8M767.7 1838.4V1839.9M767.7 1888.0V1889.5M767.7 1897.0V1898.5M767.7 1906.0V1907.5M767.7 2050.9V2052.4M767.7 2067.5V2069.0M777.6 1927.0V1928.5M777.6 1930.0V1933.1M777.6 1934.6V1936.1M777.6 1951.1V1952.6M777.6 1976.7V1978.2M777.6 1999.4V2000.9M777.6 2007.0V2008.5M777.6 2013.1V2014.6M777.6 2026.8V2028.3M777.6 2034.4V2035.9M787.5 1918.0V1919.5M787.5 1988.7V1990.2M787.5 2000.9V2003.9M787.5 2014.6V2016.1M787.5 2020.7V2022.2M787.5 2025.2V2026.8M787.5 2034.4V2035.9M816.1 1809.2V1810.7M816.1 1813.7V1815.2M816.1 1818.2V1819.7M816.1 1821.2V1822.7M816.1 1827.1V1828.6M816.1 1840.6V1842.1M816.1 1858.6V1860.1M816.1 1864.6V1866.1M816.1 1876.6V1878.1M816.1 1882.5V1884.0M816.1 1900.5V1902.0M816.1 1967.0V1968.5M816.1 1994.2V1995.7M816.1 2060.1V2061.6M826.0 1809.2V1810.7M826.0 1816.7V1818.2M826.0 1842.1V1843.6M826.0 1857.1V1858.6M826.0 1873.6V1875.1M826.0 1894.5V1896.0M826.0 1982.1V1983.6M826.0 2060.1V2063.1M835.9 1815.2V1818.2M835.9 1870.6V1872.1M835.9 1894.5V1896.0M835.9 1900.5V1902.0M835.9 2061.6V2063.1M845.8 1797.2V1798.7M845.8 1812.2V1813.7M845.8 1867.6V1869.1M845.8 1884.0V1885.5M845.8 1893.0V1894.5M845.8 2057.1V2058.6M855.7 1923.1V1924.6M855.7 1929.2V1930.7M855.7 1933.7V1935.2M855.7 1945.8V1947.3M855.7 1965.5V1967.0M855.7 1970.0V1971.5M855.7 1979.1V1980.6M855.7 2001.7V2003.2M855.7 2013.7V2015.2M855.7 2027.1V2028.6M855.7 2036.1V2039.1M855.7 2043.6V2045.1M855.7 2046.6V2051.1M865.6 1921.6V1923.1M865.6 1924.6V1926.1M865.6 1935.2V1936.7M865.6 1951.8V1953.3M865.6 1962.4V1963.9M865.6 2016.7V2018.2M865.6 2019.7V2021.2M865.6 2022.7V2024.2M865.6 2040.6V2042.1M865.6 2045.1V2046.6M875.5 1915.5V1917.0M875.5 1920.1V1921.6M875.5 1929.2V1930.7M875.5 1936.7V1938.2M875.5 1944.3V1945.8M875.5 1954.9V1956.4M875.5 1959.4V1962.4M875.5 1965.5V1967.0M875.5 1970.0V1971.5M875.5 1982.1V1983.6M875.5 1985.1V1986.6M875.5 2009.2V2010.7M875.5 2046.6V2048.1M885.4 2004.7V2006.2M885.4 2030.1V2031.6M885.4 2034.6V2036.1M914.1 2041.9V2043.4M914.1 2063.0V2066.0M914.1 2067.5V2069.0M924.0 2026.8V2028.3M924.0 2050.9V2052.4M924.0 2055.4V2056.9M924.0 2058.4V2060.0M924.0 2064.5V2066.0M933.9 1917.1V1918.6M933.9 1920.1V1921.6M933.9 1923.1V1924.6M933.9 1927.6V1929.1M933.9 1938.1V1939.6M933.9 1962.1V1963.6M933.9 1965.1V1966.6M933.9 1975.7V1977.2M933.9 1989.2V1990.7M943.8 1896.0V1897.5M943.8 1900.5V1905.0M943.8 1927.6V1933.6M943.8 1935.1V1936.6M943.8 1942.6V1945.6M943.8 1947.1V1948.6M943.8 1962.1V1965.1M943.8 1968.1V1969.6M943.8 1972.7V1974.2M943.8 1977.2V1978.7M943.8 1983.2V1984.7M953.7 1938.1V1939.6M953.7 1957.6V1959.1M953.7 1965.1V1966.6M953.7 1968.1V1971.2M953.7 1972.7V1974.2M953.7 1975.7V1978.7M953.7 1983.2V1986.2M953.7 1996.7V1998.2M963.6 1918.6V1921.6M963.6 1929.1V1930.6M963.6 1938.1V1939.6M963.6 1948.6V1950.1M963.6 1959.1V1960.6M963.6 1966.6V1968.1M963.6 1974.2V1975.7M963.6 1981.7V1983.2M963.6 1987.7V1990.7M963.6 1992.2V1993.7M963.6 1996.7V1998.2M973.5 2047.9V2049.4M973.5 2061.5V2064.5M973.5 2066.0V2067.5M983.4 2037.4V2040.4M983.4 2041.9V2043.4M983.4 2052.4V2053.9M983.4 2063.0V2064.5M1012.0 2026.7V2029.7M1012.0 2055.4V2056.9M1021.9 2022.2V2023.7M1021.9 2032.7V2034.2M1021.9 2061.5V2063.0M1021.9 2067.5V2069.0M1031.8 2005.5V2007.0M1031.8 2019.1V2020.6M1031.8 2055.4V2056.9M1081.3 2019.1V2022.2M1081.3 2028.2V2031.2M1081.3 2034.2V2035.8M1081.3 2040.3V2041.8M1081.3 2050.9V2053.9M1081.3 2061.5V2063.0M1110.0 2009.5V2011.0M1110.0 2021.3V2022.7M1110.0 2036.0V2037.5M1110.0 2064.5V2066.0M1119.9 2015.4V2016.9M1119.9 2031.6V2033.0M1129.8 2033.0V2034.5M1129.8 2043.5V2045.0M1129.8 2046.5V2048.0M1159.5 2024.2V2025.7M1169.4 2021.3V2022.7M1207.9 2027.8V2029.3M1217.8 2033.7V2035.2M1217.8 2042.7V2044.2M1217.8 2053.0V2054.4M1237.6 2050.2V2051.6M1247.5 2054.4V2055.8M1257.4 2061.5V2063.0M1257.4 2069.0V2070.5M1267.3 2024.8V2026.3M1267.3 2042.7V2044.2M1267.3 2047.2V2048.7M1277.2 2053.0V2054.4M1305.9 2026.8V2028.3M1305.9 2033.0V2034.5M1305.9 2034.5V2036.0M1305.9 2053.7V2056.6M1325.7 2034.5V2036.0M1325.7 2055.2V2056.6M1325.7 2058.1V2059.6M1335.6 2064.0V2065.6M1365.3 2026.8V2028.3M1375.2 2040.4V2041.9M1375.2 2053.7V2055.2M1403.8 2043.5V2045.0M1413.7 2028.6V2030.1M1413.7 2048.0V2049.5M1413.7 2054.0V2055.5M1413.7 2064.5V2066.0M1443.4 2042.0V2043.5M1453.3 2039.0V2040.5M1463.2 2033.1V2036.1M1463.2 2043.5V2046.5M1463.2 2049.5V2051.0"/>
<path stroke="#162624" d="M326.3 1256.6V1258.1M326.3 1262.6V1264.0M326.3 1569.5V1572.5M326.3 1577.0V1578.5M326.3 1596.5V1598.0M326.3 1622.0V1623.5M326.3 1632.5V1634.0M326.3 1641.5V1643.0M326.3 1662.5V1664.0M326.3 1800.9V1802.4M326.3 1910.0V1911.5M326.3 1990.6V1992.1M336.2 1568.0V1569.5M336.2 1592.0V1593.5M336.2 1662.5V1664.0M336.2 1692.5V1694.0M336.2 1703.0V1704.5M336.2 1719.5V1721.0M336.2 1779.8V1781.3M336.2 1791.8V1793.4M336.2 1794.9V1796.4M336.2 1929.4V1930.9M336.2 1975.7V1977.1M346.1 1243.1V1244.6M346.1 1327.0V1328.5M346.1 1353.9V1355.4M346.1 1359.9V1361.4M346.1 1433.3V1434.8M346.1 1458.7V1460.2M346.1 1469.2V1470.7M346.1 1542.5V1544.0M346.1 1841.3V1842.8M346.1 1895.1V1896.5M346.1 2048.1V2049.6M356.0 1190.6V1192.1M356.0 1247.6V1249.1M356.0 1273.0V1274.5M356.0 1355.4V1358.4M356.0 1403.3V1404.8M356.0 1869.7V1871.1M356.0 1892.1V1893.6M356.0 2025.3V2026.8M365.9 932.9V934.4M365.9 961.3V962.8M365.9 971.8V973.3M365.9 980.8V982.3M365.9 1178.6V1180.1M365.9 1220.6V1222.1M365.9 1249.1V1250.6M365.9 1289.5V1292.5M365.9 1359.9V1361.4M365.9 1403.3V1404.8M365.9 1550.0V1551.5M365.9 1682.0V1683.5M365.9 1706.0V1707.5M365.9 1716.5V1718.0M375.8 904.4V905.9M375.8 925.4V926.9M375.8 977.8V979.3M375.8 985.3V986.8M375.8 988.3V989.8M375.8 1034.8V1036.3M375.8 1220.6V1222.1M375.8 1279.0V1280.5M375.8 1331.5V1333.0M375.8 1403.3V1404.8M375.8 1413.8V1415.3M375.8 1487.1V1488.6M375.8 1533.6V1535.0M375.8 1548.5V1550.0M375.8 1557.5V1559.0M375.8 1658.0V1659.5M375.8 1664.0V1665.5M375.8 1691.0V1692.5M375.8 1704.5V1706.0M375.8 1911.5V1913.0M375.8 2029.9V2031.4M375.8 2045.1V2046.6M375.8 2051.1V2052.6M375.8 2064.5V2066.0M375.8 2067.5V2069.0M385.7 1542.5V1544.0M385.7 1650.5V1652.0M385.7 1688.0V1689.5M385.7 1767.7V1769.2M385.7 1785.8V1787.3M385.7 1923.4V1924.9M385.7 1938.3V1939.8M385.7 1941.3V1942.8M385.7 1945.8V1947.3M385.7 1950.3V1953.3M385.7 1984.6V1986.1M385.7 1996.5V1998.0M395.6 1770.7V1772.3M395.6 1791.8V1793.4M395.6 1942.8V1944.3M395.6 1978.6V1980.1M395.6 1999.5V2001.0M424.3 1700.9V1702.4M424.3 1717.5V1719.0M424.3 1729.5V1731.0M424.3 1783.6V1785.1M424.3 1788.1V1789.6M424.3 1816.6V1819.6M424.3 1845.2V1846.7M424.3 1861.7V1863.2M424.3 1876.7V1878.2M424.3 1882.8V1884.3M424.3 1888.8V1890.3M424.3 1894.8V1896.3M424.3 1908.3V1909.8M424.3 1917.3V1918.8M424.3 1923.3V1924.8M424.3 1933.9V1935.4M424.3 1938.4V1939.9M424.3 1956.4V1957.9M434.2 1801.6V1803.1M434.2 1833.2V1834.7M434.2 1849.7V1852.7M434.2 1854.2V1855.7M434.2 1870.7V1872.2M434.2 1882.8V1884.3M434.2 1893.3V1894.8M434.2 1902.3V1903.8M434.2 1923.3V1926.3M434.2 1927.8V1929.3M434.2 1936.9V1939.9M434.2 1942.9V1945.9M434.2 1951.9V1954.9M434.2 1956.4V1957.9M444.1 1728.0V1729.5M444.1 1738.5V1740.0M444.1 1759.5V1761.0M444.1 1788.1V1789.6M444.1 1800.1V1801.6M444.1 1807.6V1809.1M444.1 1819.6V1821.1M444.1 1831.7V1834.7M444.1 1837.7V1839.2M444.1 1842.2V1846.7M444.1 1857.2V1860.2M444.1 1861.7V1863.2M444.1 1869.2V1870.7M444.1 1875.2V1876.7M444.1 1879.8V1881.3M444.1 1894.8V1896.3M444.1 1899.3V1900.8M444.1 1902.3V1903.8M444.1 1906.8V1908.3M444.1 1915.8V1917.3M444.1 1942.9V1945.9M444.1 1956.4V1957.9M454.0 1749.0V1750.5M454.0 1773.1V1774.6M454.0 1803.1V1804.6M454.0 1821.1V1822.6M454.0 1824.2V1825.7M454.0 1834.7V1836.2M454.0 1849.7V1851.2M454.0 1867.7V1869.2M454.0 1870.7V1873.7M454.0 1875.2V1876.7M454.0 1878.2V1879.8M454.0 1887.3V1888.8M454.0 1890.3V1891.8M454.0 1899.3V1900.8M454.0 1906.8V1908.3M454.0 1915.8V1917.3M454.0 1918.8V1920.3M454.0 1926.3V1929.3M454.0 1936.9V1938.4M454.0 1947.4V1950.4M454.0 1953.4V1954.9M463.9 1842.2V1843.7M463.9 1878.2V1879.8M463.9 2031.5V2033.0M463.9 2051.0V2052.5M463.9 2069.0V2070.5M473.8 1912.8V1914.3M473.8 1936.9V1938.4M473.8 2034.5V2036.0M473.8 2040.5V2042.0M473.8 2045.0V2046.5M473.8 2048.0V2049.5M473.8 2066.0V2067.5M483.7 1936.9V1938.4M483.7 2011.9V2013.4M483.7 2031.5V2033.0M483.7 2042.0V2043.5M483.7 2063.0V2066.0M493.6 1773.1V1774.6M493.6 1879.8V1881.3M493.6 1882.8V1884.3M493.6 1903.8V1905.3M493.6 1912.8V1914.3M493.6 1929.3V1930.8M493.6 1947.4V1948.9M493.6 1951.9V1953.4M493.6 2025.5V2027.0M493.6 2037.5V2039.0M493.6 2043.5V2045.0M493.6 2054.0V2055.5M493.6 2064.5V2066.0M522.2 1764.2V1765.7M522.2 1780.6V1782.1M522.2 1852.5V1854.0M522.2 1881.0V1882.5M522.2 1897.5V1899.0M522.2 1918.4V1919.9M522.2 1922.9V1924.4M522.2 1942.4V1945.3M522.2 1951.3V1952.8M522.2 1967.8V1969.3M522.2 1975.3V1976.9M522.2 1978.4V1979.9M522.2 2002.4V2005.5M522.2 2014.5V2016.0M522.2 2020.5V2022.0M522.2 2037.1V2038.6M532.1 1876.5V1878.0M532.1 1890.0V1891.5M532.1 1901.9V1903.4M532.1 1916.9V1918.4M532.1 1919.9V1922.9M532.1 1931.9V1934.9M532.1 1949.8V1951.3M532.1 1990.4V1991.9M532.1 1994.9V1996.4M532.1 2004.0V2005.5M532.1 2034.1V2035.6M542.0 1704.3V1705.8M542.0 1758.2V1759.7M542.0 1762.7V1764.2M542.0 1765.7V1767.2M542.0 1783.6V1785.1M542.0 1788.1V1789.6M542.0 1822.6V1827.1M542.0 1849.5V1851.0M542.0 1861.5V1863.0M542.0 1867.5V1869.0M542.0 1872.0V1875.0M542.0 1879.5V1881.0M542.0 2064.4V2065.9M552.0 1684.8V1686.3M552.0 1693.8V1695.3M552.0 1696.8V1698.3M552.0 1741.7V1743.2M552.0 1753.7V1755.2M552.0 1756.7V1758.2M552.0 1765.7V1767.2M552.0 1786.6V1791.1M552.0 1801.6V1803.1M552.0 1806.1V1807.6M552.0 1810.6V1812.1M552.0 1822.6V1824.1M552.0 1825.6V1827.1M552.0 1830.1V1831.6M552.0 1839.1V1842.1M552.0 1861.5V1863.0M552.0 1876.5V1878.0M552.0 2052.2V2053.8M552.0 2055.3V2056.8M552.0 2062.9V2065.9M561.9 1702.8V1704.3M561.9 1723.7V1725.2M561.9 1734.2V1737.2M561.9 1746.2V1747.7M561.9 1749.2V1750.7M561.9 1758.2V1759.7M561.9 1768.7V1770.2M561.9 1780.6V1782.1M561.9 1783.6V1785.1M561.9 1810.6V1812.1M561.9 1840.6V1842.1M561.9 1873.5V1875.0M561.9 2041.6V2043.1M561.9 2058.3V2059.9M561.9 2064.4V2065.9M561.9 2067.5V2069.0M571.8 1689.3V1690.8M571.8 1696.8V1698.3M571.8 1705.8V1708.8M571.8 1743.2V1744.7M571.8 1753.7V1755.2M571.8 1756.7V1758.2M571.8 1768.7V1770.2M571.8 1771.7V1774.7M571.8 1776.2V1777.7M571.8 1779.2V1780.6M571.8 1783.6V1785.1M571.8 1788.1V1789.6M571.8 1795.6V1797.1M571.8 1810.6V1812.1M571.8 1822.6V1824.1M571.8 1845.1V1846.6M571.8 1852.5V1854.0M571.8 1857.0V1858.5M571.8 1864.5V1866.0M571.8 1867.5V1870.5M571.8 1875.0V1878.0M571.8 2049.2V2050.7M581.6 1901.9V1903.4M581.6 1913.9V1916.9M581.6 1918.4V1921.4M581.6 1934.9V1936.4M581.6 1969.3V1973.8M581.6 1976.9V1978.4M581.6 2019.0V2020.5M591.5 1884.0V1885.5M591.5 1906.4V1907.9M591.5 1910.9V1912.4M591.5 1913.9V1915.4M591.5 1918.4V1919.9M591.5 1940.9V1942.4M591.5 1967.8V1969.3M591.5 1981.4V1982.9M591.5 1988.9V1990.4M591.5 2007.0V2008.5M591.5 2020.5V2022.0M620.2 1777.9V1779.4M620.2 1812.3V1813.8M620.2 1830.3V1831.8M620.2 1843.8V1845.3M620.2 1851.3V1852.8M620.2 1855.8V1857.3M620.2 1867.8V1869.2M620.2 1875.2V1876.7M620.2 1884.2V1885.7M620.2 1891.7V1893.2M620.2 1896.2V1897.7M620.2 1936.7V1938.2M620.2 1939.7V1941.2M620.2 1944.1V1945.6M620.2 1953.1V1954.6M620.2 1959.1V1960.6M620.2 1971.1V1975.6M630.1 1818.3V1819.8M630.1 1834.8V1836.3M630.1 1851.3V1852.8M630.1 1860.3V1861.8M630.1 1873.7V1875.2M630.1 1879.7V1881.2M630.1 1912.7V1914.2M630.1 1924.7V1926.2M630.1 1929.2V1930.7M630.1 1941.2V1942.7M630.1 1951.6V1953.1M630.1 1957.6V1959.1M630.1 1968.1V1969.6M630.1 1974.1V1978.6M630.1 2064.5V2066.0M640.0 1921.7V1923.2M640.0 1954.6V1956.1M640.0 2046.4V2047.9M640.0 2056.9V2058.4M640.0 2069.0V2070.5M649.9 2052.4V2053.9M649.9 2056.9V2060.0M649.9 2066.0V2067.5M649.9 2069.0V2070.5M659.8 1786.9V1788.4M659.8 1831.8V1833.3M659.8 1848.3V1849.8M659.8 1873.7V1875.2M659.8 1905.2V1906.7M659.8 1914.2V1917.2M659.8 1936.7V1938.2M659.8 1941.2V1942.7M659.8 1944.1V1945.6M659.8 1948.6V1950.1M659.8 1960.6V1965.1M669.7 1785.4V1786.9M669.7 1824.3V1825.8M669.7 1852.8V1854.3M669.7 1857.3V1858.8M669.7 1900.7V1902.2M669.7 1903.7V1908.2M669.7 1945.6V1947.1M669.7 1954.6V1959.1M669.7 1962.1V1963.6M669.7 1968.1V1969.6M669.7 1972.6V1974.1M679.6 1896.2V1897.7M679.6 1929.2V1930.7M679.6 1932.2V1933.7M679.6 2041.9V2043.4M679.6 2060.0V2061.5M689.5 1888.7V1890.2M689.5 2041.9V2043.4M718.2 1737.7V1739.2M718.2 1742.2V1743.7M718.2 1760.2V1763.2M718.2 1778.3V1779.8M718.2 1782.8V1784.3M718.2 1785.8V1787.3M718.2 1791.8V1793.3M718.2 1794.8V1796.3M718.2 1808.3V1809.8M718.2 1820.3V1821.8M718.2 1824.9V1826.4M718.2 1862.4V1863.9M718.2 1877.4V1880.4M718.2 1891.0V1892.5M728.1 1758.7V1760.2M728.1 1769.3V1770.8M728.1 1778.3V1779.8M728.1 1796.3V1797.8M728.1 1799.3V1800.8M728.1 1803.8V1805.3M728.1 1824.9V1826.4M728.1 1830.9V1833.9M728.1 1844.4V1845.9M728.1 1847.4V1850.4M728.1 1877.4V1878.9M728.1 1907.5V1909.0M728.1 2035.9V2037.4M728.1 2046.4V2047.9M738.0 1836.9V1838.4M738.0 1845.9V1847.4M738.0 1848.9V1850.4M738.0 1865.4V1866.9M738.0 1909.0V1912.0M738.0 1921.0V1922.5M738.0 1924.0V1925.5M738.0 1946.6V1948.1M738.0 1951.1V1952.6M738.0 1963.1V1964.6M738.0 1967.6V1969.2M738.0 1970.7V1972.2M738.0 1978.2V1979.7M738.0 1988.7V1990.2M738.0 1997.9V1999.4M747.9 1823.3V1824.9M747.9 1925.5V1927.0M747.9 1940.6V1942.1M747.9 1951.1V1952.6M747.9 1966.1V1969.2M747.9 1976.7V1978.2M747.9 1996.3V1999.4M747.9 2008.5V2010.0M747.9 2011.6V2013.1M747.9 2026.8V2028.3M757.8 1755.7V1757.2M757.8 1763.2V1764.7M757.8 1770.8V1772.3M757.8 1800.8V1802.3M757.8 1832.4V1833.9M757.8 1863.9V1865.4M757.8 1872.9V1874.4M757.8 1885.0V1886.5M757.8 1889.5V1891.0M757.8 1901.5V1903.0M757.8 1906.0V1907.5M757.8 2041.9V2043.4M757.8 2047.9V2049.4M767.7 1781.3V1782.8M767.7 1818.8V1820.3M767.7 1821.8V1823.3M767.7 1829.4V1830.9M767.7 1859.4V1860.9M767.7 1863.9V1865.4M767.7 1889.5V1891.0M767.7 1892.5V1894.0M767.7 2047.9V2049.4M767.7 2063.0V2064.5M777.6 1915.0V1916.5M777.6 1925.5V1927.0M777.6 1939.1V1940.6M777.6 1943.6V1945.1M777.6 1948.1V1949.6M777.6 1970.7V1973.7M777.6 1975.2V1976.7M777.6 1982.7V1985.7M777.6 2008.5V2010.0M777.6 2011.6V2013.1M777.6 2028.3V2029.8M787.5 1916.5V1918.0M787.5 1927.0V1928.5M787.5 1933.1V1934.6M787.5 1942.1V1943.6M787.5 1946.6V1948.1M787.5 1951.1V1952.6M787.5 1954.1V1955.6M787.5 1957.1V1958.6M787.5 1972.2V1973.7M787.5 1985.7V1987.2M787.5 1990.2V1991.8M787.5 2003.9V2005.5M787.5 2022.2V2023.7M816.1 1816.7V1818.2M816.1 1824.2V1825.7M816.1 1828.6V1830.1M816.1 1833.1V1834.6M816.1 1842.1V1843.6M816.1 1881.1V1882.5M816.1 1891.5V1893.0M816.1 1897.5V1899.0M816.1 1905.0V1908.0M816.1 2063.1V2064.5M816.1 2067.5V2069.0M826.0 1801.7V1803.2M826.0 1807.7V1809.2M826.0 1815.2V1816.7M826.0 1824.2V1825.7M826.0 1831.6V1833.1M826.0 1848.1V1851.1M826.0 1863.1V1864.6M826.0 1875.1V1876.6M826.0 1887.0V1888.5M826.0 1906.5V1911.0M835.9 1803.2V1804.7M835.9 1807.7V1809.2M835.9 1839.1V1840.6M835.9 1855.6V1857.1M835.9 1863.1V1864.6M835.9 1866.1V1867.6M835.9 1906.5V1908.0M835.9 2058.6V2060.1M845.8 1804.7V1806.2M845.8 1815.2V1816.7M845.8 1830.1V1831.6M845.8 1842.1V1843.6M845.8 1861.6V1863.1M845.8 1870.6V1872.1M845.8 1875.1V1878.1M845.8 1885.5V1887.0M855.7 1915.5V1917.0M855.7 1918.6V1921.6M855.7 1938.2V1941.2M855.7 1944.3V1945.8M855.7 1951.8V1953.3M855.7 1974.5V1976.0M855.7 1982.1V1983.6M855.7 1985.1V1986.6M855.7 1997.2V1998.7M855.7 2009.2V2010.7M855.7 2028.6V2030.1M855.7 2040.6V2042.1M855.7 2052.6V2054.1M865.6 1912.5V1914.0M865.6 1954.9V1956.4M865.6 1971.5V1974.5M865.6 2001.7V2004.7M865.6 2009.2V2010.7M865.6 2048.1V2049.6M875.5 1911.0V1912.5M875.5 1945.8V1947.3M875.5 1948.8V1950.3M875.5 1951.8V1953.3M875.5 1968.5V1970.0M875.5 1973.0V1974.5M875.5 1983.6V1985.1M875.5 1997.2V1998.7M875.5 2022.7V2025.7M885.4 1914.0V1915.5M885.4 1929.2V1930.7M885.4 1932.2V1933.7M885.4 1942.8V1944.3M885.4 1947.3V1948.8M885.4 1959.4V1960.9M885.4 1967.0V1968.5M885.4 1970.0V1971.5M885.4 1974.5V1976.0M885.4 1989.7V1991.2M885.4 1992.7V1995.7M885.4 2015.2V2016.7M885.4 2021.2V2022.7M885.4 2028.6V2030.1M914.1 1965.1V1966.6M914.1 2053.9V2055.4M914.1 2058.4V2060.0M933.9 1911.0V1912.5M933.9 1929.1V1930.6M933.9 1933.6V1935.1M933.9 1942.6V1947.1M933.9 1966.6V1969.6M933.9 1980.2V1983.2M943.8 1876.5V1878.0M943.8 1909.5V1912.5M943.8 1923.1V1924.6M943.8 1948.6V1950.1M943.8 1951.6V1954.6M943.8 1956.1V1959.1M943.8 1965.1V1968.1M943.8 1969.6V1971.2M953.7 1902.0V1903.5M953.7 1906.5V1908.0M953.7 1912.5V1914.1M953.7 1932.1V1933.6M953.7 1948.6V1950.1M953.7 1959.1V1960.6M953.7 1962.1V1963.6M953.7 1989.2V1992.2M963.6 1926.1V1927.6M963.6 1930.6V1932.1M963.6 1942.6V1944.1M963.6 1953.1V1956.1M963.6 1975.7V1978.7M973.5 1890.0V1891.5M973.5 2043.4V2044.9M973.5 2052.4V2053.9M973.5 2069.0V2070.5M983.4 1953.1V1954.6M983.4 1983.2V1984.7M983.4 2060.0V2061.5M983.4 2067.5V2069.0M1012.0 2010.0V2011.6M1012.0 2040.3V2041.8M1012.0 2044.8V2046.3M1012.0 2058.4V2060.0M1021.9 2016.1V2017.6M1021.9 2034.2V2035.8M1021.9 2046.3V2047.9M1041.7 2066.0V2067.5M1041.7 2069.0V2070.5M1081.3 2013.1V2014.6M1081.3 2026.7V2028.2M1081.3 2032.7V2034.2M1081.3 2046.3V2047.9M1081.3 2058.4V2060.0M1110.0 2016.9V2018.3M1110.0 2022.7V2024.2M1110.0 2025.7V2028.6M1110.0 2060.0V2061.5M1129.8 2049.5V2051.0M1129.8 2057.0V2058.5M1139.7 2015.4V2016.9M1149.5 2009.5V2011.0M1149.5 2040.5V2042.0M1149.5 2045.0V2046.5M1149.5 2060.0V2061.5M1159.5 2067.5V2069.0M1169.4 2009.5V2011.0M1169.4 2027.1V2028.6M1207.9 2057.2V2058.6M1217.8 2023.3V2024.8M1217.8 2035.2V2036.7M1217.8 2045.7V2047.2M1227.7 2015.8V2017.3M1227.7 2032.2V2033.7M1237.6 2055.8V2057.2M1247.5 2036.7V2038.2M1247.5 2053.0V2054.4M1247.5 2055.8V2057.2M1247.5 2058.6V2060.0M1257.4 2027.8V2029.3M1257.4 2064.5V2066.0M1257.4 2067.5V2069.0M1267.3 2020.3V2021.8M1315.8 2019.0V2020.5M1315.8 2029.8V2031.4M1315.8 2041.9V2043.3M1315.8 2059.6V2061.1M1325.7 2061.1V2062.5M1335.6 2025.2V2026.8M1355.4 2026.8V2028.3M1365.3 2019.0V2020.5M1365.3 2025.2V2026.8M1375.2 2031.4V2033.0M1375.2 2034.5V2037.5M1413.7 2025.6V2027.1M1413.7 2030.1V2033.1M1443.4 2024.1V2025.6M1443.4 2045.0V2046.5M1463.2 2028.6V2031.6M1463.2 2039.0V2040.5M1473.1 2066.0V2067.5"/>
<path stroke="#0F100E" d="M326.3 1560.5V1562.0M326.3 1598.0V1599.5M326.3 1619.0V1620.5M326.3 1631.0V1632.5M326.3 1661.0V1662.5M326.3 1674.5V1676.0M326.3 1719.5V1721.0M326.3 1826.3V1827.8M326.3 1868.2V1869.7M336.2 1258.1V1259.6M336.2 1276.0V1277.5M336.2 1646.0V1647.5M336.2 1689.5V1691.0M336.2 1695.5V1697.0M336.2 1701.5V1703.0M336.2 1716.5V1718.0M336.2 1842.8V1844.2M336.2 1871.1V1872.6M336.2 1884.6V1886.1M336.2 1908.5V1910.0M336.2 1938.3V1939.8M336.2 1966.7V1968.2M346.1 1210.1V1211.6M346.1 1256.6V1258.1M346.1 1370.4V1371.9M346.1 1392.8V1394.3M346.1 1418.3V1419.8M346.1 1424.3V1425.8M346.1 1434.8V1436.3M346.1 1445.2V1449.7M346.1 1466.2V1467.7M346.1 1499.1V1500.6M346.1 1502.1V1503.6M346.1 1518.6V1520.1M346.1 1535.0V1536.5M346.1 1776.8V1778.3M346.1 1836.8V1838.3M346.1 2008.6V2010.1M356.0 1347.9V1349.4M356.0 1359.9V1361.4M356.0 1419.8V1421.3M356.0 1460.2V1461.7M356.0 1464.7V1466.2M356.0 1509.6V1511.1M356.0 1515.6V1518.6M356.0 1791.8V1793.4M356.0 1841.3V1842.8M356.0 1901.0V1902.5M356.0 1908.5V1910.0M365.9 917.9V919.4M365.9 940.4V943.4M365.9 977.8V979.3M365.9 1259.6V1261.1M365.9 1319.5V1321.0M365.9 1407.8V1409.3M365.9 1412.3V1413.8M365.9 1434.8V1436.3M365.9 1446.7V1448.2M365.9 1506.6V1508.1M365.9 1658.0V1659.5M375.8 962.8V964.3M375.8 980.8V982.3M375.8 1052.8V1054.3M375.8 1271.5V1273.0M375.8 1306.0V1307.5M375.8 1377.9V1379.4M375.8 1446.7V1448.2M375.8 1458.7V1460.2M375.8 1517.1V1518.6M375.8 1665.5V1667.0M375.8 1682.0V1683.5M375.8 2061.5V2063.0M385.7 1646.0V1647.5M385.7 1694.0V1695.5M385.7 1740.6V1742.1M385.7 1800.9V1802.4M385.7 1902.5V1904.0M385.7 1975.7V1977.1M385.7 1986.1V1987.6M385.7 2001.0V2002.5M424.3 1749.0V1750.5M424.3 1854.2V1855.7M424.3 1875.2V1876.7M424.3 1899.3V1900.8M424.3 1905.3V1908.3M424.3 1924.8V1926.3M424.3 1936.9V1938.4M424.3 1944.4V1945.9M424.3 2054.0V2055.5M434.2 1894.8V1896.3M434.2 1933.9V1935.4M434.2 1948.9V1951.9M434.2 2067.5V2069.0M444.1 1834.7V1836.2M444.1 1848.2V1849.7M444.1 1878.2V1879.8M444.1 1890.3V1891.8M444.1 1893.3V1894.8M444.1 1917.3V1918.8M444.1 1920.3V1921.8M444.1 1930.8V1932.4M444.1 2046.5V2048.0M454.0 1728.0V1729.5M454.0 1759.5V1761.0M454.0 1827.2V1828.7M454.0 1860.2V1861.7M454.0 1866.2V1867.7M454.0 1884.3V1885.8M454.0 1894.8V1896.3M454.0 1900.8V1902.3M454.0 1920.3V1921.8M454.0 2043.5V2045.0M463.9 1912.8V1914.3M463.9 1932.4V1933.9M463.9 1942.9V1944.4M463.9 2064.5V2066.0M473.8 1825.7V1827.2M473.8 1833.2V1834.7M473.8 1840.7V1842.2M473.8 1864.7V1866.2M473.8 1911.3V1912.8M473.8 1915.8V1917.3M473.8 2051.0V2052.5M483.7 1776.1V1777.6M483.7 1797.1V1798.6M483.7 1807.6V1809.1M483.7 1822.6V1824.2M483.7 1879.8V1881.3M483.7 1951.9V1953.4M483.7 2028.5V2030.0M483.7 2057.0V2058.5M483.7 2061.5V2063.0M493.6 1756.5V1759.5M493.6 1804.6V1806.1M493.6 1894.8V1896.3M493.6 1906.8V1908.3M493.6 1956.4V1959.4M493.6 2063.0V2064.5M522.2 1893.0V1894.5M522.2 1896.0V1897.5M522.2 1906.4V1907.9M522.2 1912.4V1913.9M522.2 1916.9V1918.4M522.2 1919.9V1921.4M522.2 1924.4V1925.9M522.2 1927.4V1930.4M522.2 1946.8V1949.8M522.2 1955.8V1957.3M522.2 1958.8V1960.3M522.2 1979.9V1981.4M522.2 2019.0V2020.5M522.2 2022.0V2023.5M522.2 2026.5V2028.0M522.2 2032.6V2035.6M522.2 2038.6V2040.1M532.1 1896.0V1897.5M532.1 1909.4V1910.9M532.1 1936.4V1940.9M532.1 1952.8V1954.3M532.1 1960.3V1961.8M532.1 1967.8V1969.3M532.1 1975.3V1978.4M532.1 1981.4V1982.9M532.1 1993.4V1994.9M532.1 2000.9V2004.0M532.1 2005.5V2007.0M532.1 2011.5V2013.0M532.1 2014.5V2017.5M532.1 2019.0V2020.5M532.1 2032.6V2034.1M532.1 2035.6V2037.1M542.0 1681.8V1683.3M542.0 1689.3V1693.8M542.0 1702.8V1704.3M542.0 1707.3V1708.8M542.0 1726.7V1728.2M542.0 1743.2V1744.7M542.0 1756.7V1758.2M542.0 1759.7V1761.2M542.0 1777.7V1783.6M542.0 1795.6V1797.1M542.0 1801.6V1803.1M542.0 1807.6V1809.1M542.0 1818.1V1819.6M542.0 1827.1V1830.1M542.0 1833.1V1834.6M542.0 1836.1V1837.6M542.0 1839.1V1840.6M542.0 1848.0V1849.5M542.0 1852.5V1855.5M542.0 1869.0V1870.5M542.0 1876.5V1878.0M542.0 2058.3V2059.9M552.0 1681.8V1683.3M552.0 1716.2V1717.7M552.0 1722.2V1723.7M552.0 1728.2V1729.7M552.0 1738.7V1740.2M552.0 1749.2V1750.7M552.0 1761.2V1762.7M552.0 1767.2V1768.7M552.0 1770.2V1771.7M552.0 1776.2V1777.7M552.0 1783.6V1785.1M552.0 1794.1V1795.6M552.0 1800.1V1801.6M552.0 1831.6V1834.6M552.0 1848.0V1849.5M552.0 1852.5V1854.0M552.0 1858.5V1860.0M552.0 1879.5V1881.0M552.0 2043.1V2044.6M552.0 2047.7V2052.2M552.0 2056.8V2058.3M552.0 2061.4V2062.9M561.9 1687.8V1690.8M561.9 1692.3V1693.8M561.9 1707.3V1710.3M561.9 1711.8V1713.2M561.9 1726.7V1728.2M561.9 1729.7V1731.2M561.9 1759.7V1761.2M561.9 1762.7V1764.2M561.9 1767.2V1768.7M561.9 1776.2V1777.7M561.9 1797.1V1798.6M561.9 1800.1V1803.1M561.9 1818.1V1821.1M561.9 1830.1V1831.6M561.9 1845.1V1846.6M561.9 1851.0V1852.5M561.9 2046.2V2047.7M561.9 2065.9V2067.5M571.8 1704.3V1705.8M571.8 1723.7V1725.2M571.8 1726.7V1728.2M571.8 1731.2V1732.7M571.8 1747.7V1750.7M571.8 1762.7V1764.2M571.8 1767.2V1768.7M571.8 1780.6V1783.6M571.8 1786.6V1788.1M571.8 1797.1V1800.1M571.8 1809.1V1810.6M571.8 1812.1V1813.6M571.8 1815.1V1816.6M571.8 1819.6V1821.1M571.8 1843.6V1845.1M571.8 1861.5V1863.0M571.8 2055.3V2058.3M571.8 2061.4V2062.9M581.6 1884.0V1887.0M581.6 1897.5V1899.0M581.6 1906.4V1909.4M581.6 1924.4V1927.4M581.6 1948.3V1949.8M581.6 1954.3V1955.8M581.6 1967.8V1969.3M581.6 1979.9V1981.4M581.6 1985.9V1987.4M581.6 2022.0V2023.5M581.6 2025.0V2028.0M581.6 2031.1V2032.6M581.6 2035.6V2037.1M591.5 1881.0V1882.5M591.5 1888.5V1890.0M591.5 1896.0V1897.5M591.5 1899.0V1900.5M591.5 1904.9V1906.4M591.5 1916.9V1918.4M591.5 1919.9V1921.4M591.5 1927.4V1930.4M591.5 1943.8V1945.3M591.5 1948.3V1949.8M591.5 1966.3V1967.8M591.5 1975.3V1976.9M591.5 1978.4V1979.9M591.5 1994.9V1996.4M591.5 2000.9V2005.5M591.5 2008.5V2011.5M591.5 2026.5V2028.0M591.5 2037.1V2038.6M620.2 1828.8V1830.3M620.2 1848.3V1849.8M620.2 1887.2V1888.7M620.2 1905.2V1908.2M620.2 1915.7V1917.2M620.2 1941.2V1944.1M620.2 1966.6V1968.1M620.2 2046.4V2047.9M620.2 2064.5V2066.0M630.1 1812.3V1813.8M630.1 1824.3V1825.8M630.1 1891.7V1893.2M630.1 1905.2V1908.2M630.1 1914.2V1915.7M630.1 1953.1V1954.6M630.1 1965.1V1966.6M630.1 1971.1V1972.6M640.0 1846.8V1848.3M640.0 1890.2V1891.7M640.0 1894.7V1896.2M640.0 1933.7V1935.2M640.0 1947.1V1948.6M640.0 1950.1V1951.6M640.0 1959.1V1960.6M640.0 1962.1V1963.6M640.0 1971.1V1972.6M640.0 1977.1V1978.6M649.9 1890.2V1891.7M649.9 1894.7V1896.2M649.9 1947.1V1948.6M649.9 1951.6V1954.6M649.9 1959.1V1960.6M649.9 1962.1V1963.6M649.9 2046.4V2047.9M659.8 1830.3V1831.8M659.8 1852.8V1854.3M659.8 1855.8V1857.3M659.8 1890.2V1891.7M659.8 1900.7V1902.2M659.8 1923.2V1924.7M659.8 1930.7V1932.2M659.8 1954.6V1956.1M659.8 1966.6V1968.1M659.8 1977.1V1978.6M669.7 1924.7V1926.2M669.7 1932.2V1933.7M669.7 1938.2V1941.2M669.7 1960.6V1962.1M669.7 1969.6V1971.1M669.7 1974.1V1975.6M669.7 1977.1V1978.6M679.6 1857.3V1858.8M679.6 1887.2V1888.7M679.6 1914.2V1915.7M679.6 2046.4V2047.9M679.6 2056.9V2058.4M689.5 1846.8V1848.3M689.5 1908.2V1909.7M689.5 1911.2V1912.7M689.5 1920.2V1921.7M689.5 1932.2V1933.7M689.5 1950.1V1951.6M689.5 1978.6V1980.1M689.5 2066.0V2067.5M718.2 1740.7V1742.2M718.2 1757.2V1758.7M718.2 1764.7V1766.3M718.2 1770.8V1772.3M718.2 1790.3V1791.8M718.2 1803.8V1805.3M718.2 1826.4V1832.4M718.2 1838.4V1839.9M718.2 1845.9V1847.4M718.2 1850.4V1851.9M718.2 1865.4V1866.9M718.2 1885.0V1888.0M718.2 1892.5V1894.0M718.2 1897.0V1898.5M718.2 2041.9V2044.9M728.1 1748.2V1749.7M728.1 1760.2V1764.7M728.1 1791.8V1794.8M728.1 1809.8V1811.3M728.1 1835.4V1836.9M728.1 1856.4V1857.9M728.1 1886.5V1888.0M728.1 1894.0V1895.5M728.1 1904.5V1907.5M728.1 2043.4V2044.9M728.1 2052.4V2054.0M728.1 2067.5V2069.0M738.0 1948.1V1949.6M738.0 1952.6V1954.1M738.0 1960.1V1963.1M738.0 1964.6V1966.1M738.0 1972.2V1973.7M738.0 1981.2V1982.7M738.0 1987.2V1988.7M738.0 1990.2V1991.8M738.0 1993.3V1996.3M738.0 1999.4V2000.9M738.0 2014.6V2016.1M738.0 2017.6V2019.2M738.0 2026.8V2028.3M738.0 2034.4V2035.9M747.9 1961.6V1963.1M747.9 1970.7V1972.2M747.9 1985.7V1987.2M747.9 1993.3V1996.3M747.9 2019.2V2020.7M747.9 2034.4V2035.9M757.8 1742.2V1743.7M757.8 1773.8V1775.3M757.8 1787.3V1788.8M757.8 1791.8V1793.3M757.8 1803.8V1805.3M757.8 1811.3V1812.8M757.8 1815.8V1817.3M757.8 1821.8V1823.3M757.8 1829.4V1832.4M757.8 1836.9V1838.4M757.8 1848.9V1851.9M757.8 1856.4V1857.9M757.8 1886.5V1888.0M757.8 1897.0V1898.5M757.8 1904.5V1906.0M757.8 1907.5V1909.0M757.8 2058.5V2061.5M767.7 1751.2V1752.7M767.7 1784.3V1785.8M767.7 1787.3V1788.8M767.7 1790.3V1791.8M767.7 1809.8V1811.3M767.7 1815.8V1817.3M767.7 1826.4V1827.9M767.7 1865.4V1866.9M767.7 1868.4V1869.9M767.7 1885.0V1886.5M767.7 1907.5V1909.0M767.7 2054.0V2055.5M767.7 2060.0V2061.5M777.6 1942.1V1943.6M777.6 1957.1V1960.1M777.6 1966.1V1967.6M777.6 1994.8V1996.3M777.6 2000.9V2002.4M787.5 1921.0V1924.0M787.5 1945.1V1946.6M787.5 1948.1V1949.6M787.5 1973.7V1975.2M787.5 1976.7V1978.2M787.5 1982.7V1984.2M787.5 2008.5V2010.0M787.5 2016.1V2017.6M816.1 1798.7V1803.2M816.1 1804.7V1806.2M816.1 1822.7V1824.2M816.1 1837.6V1839.1M816.1 1846.6V1848.1M816.1 1854.1V1855.6M816.1 1869.1V1870.6M816.1 1878.1V1879.6M816.1 1890.0V1891.5M816.1 1893.0V1896.0M816.1 1909.5V1911.0M816.1 2058.6V2060.1M826.0 1804.7V1806.2M826.0 1819.7V1821.2M826.0 1828.6V1830.1M826.0 1834.6V1836.1M826.0 1861.6V1863.1M826.0 1867.6V1870.6M826.0 1872.1V1873.6M826.0 1876.6V1878.1M826.0 1879.6V1881.1M826.0 1893.0V1894.5M826.0 2066.0V2069.0M835.9 1797.2V1798.7M835.9 1804.7V1807.7M835.9 1821.2V1822.7M835.9 1824.2V1827.1M835.9 1828.6V1830.1M835.9 1831.6V1833.1M835.9 1843.6V1845.1M835.9 1846.6V1848.1M835.9 1861.6V1863.1M835.9 1869.1V1870.6M835.9 1872.1V1875.1M835.9 1876.6V1878.1M835.9 1881.1V1882.5M845.8 1807.7V1810.7M845.8 1818.2V1819.7M845.8 1824.2V1825.7M845.8 1834.6V1836.1M845.8 1840.6V1842.1M845.8 1843.6V1845.1M845.8 1846.6V1848.1M845.8 1849.6V1851.1M845.8 1860.1V1861.6M845.8 1863.1V1864.6M845.8 1872.1V1873.6M845.8 1882.5V1884.0M845.8 1888.5V1890.0M845.8 1896.0V1897.5M845.8 1905.0V1906.5M845.8 2061.6V2063.1M845.8 2069.0V2070.5M855.7 1911.0V1912.5M855.7 1914.0V1915.5M855.7 1921.6V1923.1M855.7 1930.7V1932.2M855.7 1954.9V1957.9M855.7 1980.6V1982.1M855.7 1989.7V1991.2M855.7 2004.7V2006.2M855.7 2010.7V2012.2M855.7 2024.2V2025.7M855.7 2031.6V2034.6M855.7 2045.1V2046.6M855.7 2051.1V2052.6M865.6 1911.0V1912.5M865.6 1914.0V1915.5M865.6 1930.7V1932.2M865.6 1948.8V1950.3M865.6 1957.9V1960.9M865.6 1970.0V1971.5M865.6 1985.1V1986.6M865.6 1989.7V1991.2M865.6 1997.2V1998.7M865.6 2024.2V2025.7M865.6 2031.6V2033.1M865.6 2034.6V2036.1M865.6 2043.6V2045.1M865.6 2052.6V2054.1M875.5 1900.5V1902.0M875.5 1939.7V1941.2M875.5 1942.8V1944.3M875.5 1947.3V1948.8M875.5 1963.9V1965.5M875.5 1974.5V1977.5M875.5 1992.7V1994.2M875.5 2010.7V2012.2M875.5 2019.7V2021.2M875.5 2033.1V2034.6M885.4 1956.4V1957.9M885.4 1973.0V1974.5M885.4 1976.0V1977.5M885.4 1995.7V1998.7M885.4 2013.7V2015.2M885.4 2019.7V2021.2M885.4 2046.6V2048.1M914.1 1909.5V1911.0M914.1 1939.6V1941.1M914.1 1950.1V1951.6M914.1 1962.1V1963.6M914.1 1974.2V1975.7M914.1 2050.9V2052.4M924.0 1909.5V1911.0M924.0 1959.1V1962.1M924.0 1974.2V1975.7M933.9 1948.6V1950.1M933.9 1956.1V1957.6M933.9 1972.7V1974.2M933.9 1990.7V1992.2M933.9 2043.4V2044.9M943.8 1918.6V1921.6M943.8 1980.2V1981.7M943.8 1993.7V1995.2M953.7 1911.0V1912.5M953.7 1942.6V1944.1M953.7 2046.4V2047.9M963.6 1906.5V1908.0M963.6 1984.7V1986.2M973.5 1947.1V1948.6M973.5 1954.6V1956.1M973.5 1971.2V1972.7M973.5 1980.2V1981.7M973.5 1983.2V1986.2M973.5 1996.7V1998.2M973.5 2041.9V2043.4M983.4 1906.5V1908.0M983.4 1915.6V1917.1M983.4 1947.1V1948.6M983.4 2069.0V2070.5M1012.0 2017.6V2019.1M1012.0 2025.2V2026.7M1012.0 2035.8V2037.3M1012.0 2043.3V2044.8M1021.9 2010.0V2011.6M1021.9 2038.8V2040.3M1021.9 2058.4V2060.0M1021.9 2063.0V2064.5M1021.9 2069.0V2070.5M1071.4 2067.5V2069.0M1081.3 2011.6V2013.1M1110.0 2015.4V2016.9M1119.9 2011.0V2012.4M1119.9 2019.8V2021.3M1119.9 2024.2V2025.7M1119.9 2027.1V2028.6M1129.8 2022.7V2024.2M1129.8 2036.0V2037.5M1129.8 2048.0V2049.5M1149.5 2012.4V2013.9M1149.5 2063.0V2064.5M1159.5 2019.8V2021.3M1159.5 2069.0V2070.5M1169.4 2067.5V2069.0M1207.9 2050.2V2051.6M1217.8 2030.8V2032.2M1217.8 2069.0V2070.5M1227.7 2023.3V2026.3M1227.7 2027.8V2032.2M1237.6 2054.4V2055.8M1267.3 2030.8V2032.2M1267.3 2060.0V2063.0M1277.2 2058.6V2060.0M1305.9 2023.7V2025.2M1305.9 2028.3V2029.8M1305.9 2047.8V2049.2M1305.9 2058.1V2059.6M1315.8 2023.7V2025.2M1325.7 2049.2V2050.7M1325.7 2056.6V2058.1M1345.5 2023.7V2026.8M1345.5 2029.8V2031.4M1375.2 2033.0V2034.5M1433.5 2037.5V2039.0"/>
<path stroke="#6F4E11" d="M326.3 1559.0V1560.5M326.3 1565.0V1566.5M326.3 1587.5V1590.5M326.3 1650.5V1652.0M326.3 1670.0V1671.5M326.3 1691.0V1692.5M326.3 1694.0V1695.5M326.3 1703.0V1704.5M326.3 1713.5V1715.0M326.3 1718.0V1719.5M326.3 1805.4V1806.9M326.3 1842.8V1844.2M326.3 1851.7V1853.2M326.3 1871.1V1872.6M326.3 1880.1V1881.6M326.3 1895.1V1896.5M326.3 1904.0V1905.5M326.3 2061.5V2063.0M326.3 2066.0V2067.5M336.2 1572.5V1574.0M336.2 1587.5V1589.0M336.2 1599.5V1601.0M336.2 1607.0V1610.0M336.2 1631.0V1632.5M336.2 1670.0V1671.5M336.2 1709.0V1710.5M336.2 1815.9V1817.3M336.2 1823.3V1824.8M336.2 1850.2V1854.7M336.2 1859.2V1860.7M336.2 1883.1V1884.6M336.2 1889.1V1890.6M336.2 1901.0V1902.5M346.1 1380.9V1382.4M346.1 1386.9V1388.3M346.1 1407.8V1410.8M346.1 1436.3V1437.7M346.1 1451.2V1452.7M346.1 1454.2V1455.7M346.1 1493.1V1494.6M346.1 1511.1V1512.6M346.1 1544.0V1545.5M346.1 1547.0V1548.5M346.1 1880.1V1881.6M346.1 1886.1V1887.6M346.1 1907.0V1908.5M346.1 2061.5V2063.0M356.0 1325.5V1327.0M356.0 1349.4V1350.9M356.0 1362.9V1364.4M356.0 1379.4V1380.9M356.0 1442.2V1443.7M356.0 1458.7V1460.2M356.0 1466.2V1467.7M356.0 1469.2V1470.7M356.0 1497.6V1500.6M356.0 1502.1V1503.6M356.0 1539.5V1541.0M356.0 1544.0V1545.5M356.0 1550.0V1551.5M356.0 1836.8V1838.3M356.0 1857.7V1859.2M356.0 1862.2V1863.7M356.0 1871.1V1872.6M356.0 1877.1V1878.6M356.0 1881.6V1883.1M356.0 1907.0V1908.5M356.0 2048.1V2049.6M356.0 2051.1V2052.6M356.0 2055.6V2057.1M356.0 2058.6V2060.0M356.0 2067.5V2070.5M365.9 904.4V905.9M365.9 1343.4V1344.9M365.9 1356.9V1358.4M365.9 1374.9V1376.4M365.9 1379.4V1380.9M365.9 1382.4V1383.9M365.9 1388.3V1389.8M365.9 1395.8V1397.3M365.9 1422.8V1424.3M365.9 1436.3V1437.7M365.9 1466.2V1469.2M365.9 1481.2V1482.7M365.9 1485.7V1487.1M365.9 1494.6V1496.1M365.9 1500.6V1502.1M365.9 1503.6V1505.1M365.9 1508.1V1509.6M365.9 1514.1V1515.6M365.9 1535.0V1538.0M365.9 1556.0V1557.5M365.9 1601.0V1602.5M365.9 1614.5V1617.5M365.9 1626.5V1628.0M365.9 1632.5V1634.0M365.9 1653.5V1655.0M365.9 1656.5V1658.0M365.9 1667.0V1668.5M365.9 1700.0V1701.5M365.9 2052.6V2054.1M365.9 2060.0V2061.5M365.9 2069.0V2070.5M375.8 917.9V919.4M375.8 1315.0V1316.5M375.8 1322.5V1324.0M375.8 1339.0V1340.4M375.8 1344.9V1346.4M375.8 1353.9V1355.4M375.8 1442.2V1443.7M375.8 1460.2V1461.7M375.8 1491.6V1494.6M375.8 1532.1V1533.6M375.8 1544.0V1545.5M375.8 1556.0V1557.5M375.8 1632.5V1634.0M375.8 1649.0V1650.5M375.8 1680.5V1682.0M375.8 1683.5V1685.0M375.8 1715.0V1716.5M375.8 1718.0V1719.5M375.8 2046.6V2048.1M375.8 2049.6V2051.1M375.8 2055.6V2058.6M385.7 1436.3V1437.7M385.7 1470.7V1472.2M385.7 1475.2V1476.7M385.7 1485.7V1487.1M385.7 1490.1V1491.6M385.7 1496.1V1499.1M385.7 1514.1V1515.6M385.7 1545.5V1547.0M385.7 1554.5V1556.0M385.7 1557.5V1559.0M385.7 1631.0V1632.5M385.7 1683.5V1685.0M385.7 1820.3V1821.8M385.7 1833.8V1835.3M385.7 1844.2V1845.7M385.7 1847.2V1848.7M395.6 1436.3V1437.7M395.6 1506.6V1508.1M395.6 1518.6V1520.1M395.6 1523.1V1524.6M395.6 1529.1V1530.6M395.6 1539.5V1541.0M395.6 1551.5V1553.0M395.6 1596.5V1598.0M395.6 1629.5V1631.0M395.6 1665.5V1667.0M395.6 1671.5V1674.5M395.6 1688.0V1691.0M395.6 1709.0V1712.0M395.6 1713.5V1715.0M395.6 1812.9V1814.4M395.6 1820.3V1821.8M395.6 1824.8V1826.3M395.6 1842.8V1844.2M395.6 1883.1V1884.6M395.6 1896.5V1898.0M395.6 1899.5V1901.0M395.6 1902.5V1904.0M395.6 1945.8V1947.3M424.3 1987.9V1989.4M424.3 2005.9V2007.4M424.3 2008.9V2010.4M424.3 2030.0V2031.5M424.3 2046.5V2048.0M424.3 2052.5V2054.0M424.3 2061.5V2066.0M434.2 2013.4V2015.0M434.2 2019.5V2021.0M434.2 2022.5V2024.0M434.2 2048.0V2051.0M434.2 2055.5V2058.5M444.1 1989.4V1990.9M444.1 2021.0V2022.5M444.1 2030.0V2034.5M444.1 2045.0V2046.5M444.1 2049.5V2052.5M444.1 2055.5V2060.0M444.1 2063.0V2066.0M454.0 1999.9V2002.9M454.0 2005.9V2010.4M454.0 2015.0V2016.5M454.0 2027.0V2028.5M454.0 2030.0V2031.5M454.0 2036.0V2039.0M454.0 2055.5V2057.0M454.0 2064.5V2066.0M454.0 2069.0V2070.5M463.9 1688.9V1690.4M463.9 1696.4V1697.9M463.9 1737.0V1738.5M463.9 1756.5V1758.0M463.9 1761.0V1762.5M463.9 1783.6V1785.1M463.9 1807.6V1809.1M463.9 1812.1V1813.6M463.9 1825.7V1827.2M463.9 1830.2V1831.7M463.9 1843.7V1845.2M463.9 1848.2V1849.7M463.9 1851.2V1852.7M463.9 1861.7V1863.2M463.9 1887.3V1888.8M463.9 1906.8V1908.3M463.9 1915.8V1917.3M463.9 1921.8V1923.3M473.8 1676.9V1678.4M473.8 1684.4V1685.9M473.8 1699.4V1700.9M473.8 1711.4V1712.9M473.8 1723.5V1725.0M473.8 1729.5V1731.0M473.8 1747.5V1749.0M473.8 1755.0V1756.5M473.8 1758.0V1759.5M473.8 1761.0V1762.5M473.8 1765.5V1767.0M473.8 1770.1V1771.6M473.8 1773.1V1776.1M473.8 1779.1V1780.6M473.8 1782.1V1783.6M473.8 1797.1V1798.6M473.8 1807.6V1809.1M473.8 1813.6V1815.1M473.8 1822.6V1824.2M473.8 1836.2V1837.7M473.8 1839.2V1840.7M473.8 1843.7V1845.2M473.8 1848.2V1849.7M473.8 1858.7V1860.2M473.8 1873.7V1875.2M473.8 1878.2V1879.8M473.8 1885.8V1888.8M473.8 1891.8V1894.8M473.8 1902.3V1906.8M473.8 1923.3V1924.8M473.8 1930.8V1932.4M473.8 1939.9V1941.4M473.8 1944.4V1945.9M473.8 1947.4V1948.9M483.7 1690.4V1691.9M483.7 1706.9V1708.4M483.7 1714.4V1716.0M483.7 1731.0V1732.5M483.7 1735.5V1737.0M483.7 1740.0V1741.5M483.7 1747.5V1749.0M483.7 1755.0V1756.5M483.7 1774.6V1776.1M483.7 1779.1V1780.6M483.7 1786.6V1791.1M483.7 1794.1V1795.6M483.7 1801.6V1803.1M483.7 1809.1V1810.6M483.7 1827.2V1828.7M483.7 1831.7V1833.2M483.7 1837.7V1839.2M483.7 1846.7V1848.2M483.7 1852.7V1854.2M483.7 1864.7V1866.2M483.7 1870.7V1872.2M483.7 1887.3V1888.8M483.7 1896.3V1897.8M483.7 1900.8V1902.3M483.7 1926.3V1927.8M483.7 1935.4V1936.9M483.7 1953.4V1954.9M493.6 1694.9V1696.4M493.6 1700.9V1702.4M493.6 1711.4V1712.9M493.6 1741.5V1743.0M493.6 1747.5V1749.0M493.6 1752.0V1755.0M493.6 1759.5V1761.0M493.6 1765.5V1768.5M493.6 1771.6V1773.1M493.6 1776.1V1779.1M493.6 1780.6V1782.1M493.6 1786.6V1789.6M493.6 1791.1V1797.1M493.6 1809.1V1812.1M493.6 1818.1V1819.6M493.6 1822.6V1824.2M493.6 1830.2V1833.2M493.6 1836.2V1837.7M493.6 1854.2V1855.7M493.6 1861.7V1863.2M493.6 1867.7V1869.2M493.6 1870.7V1872.2M493.6 1878.2V1879.8M493.6 1891.8V1894.8M493.6 1914.3V1915.8M522.2 1882.5V1884.0M522.2 1901.9V1903.4M522.2 1940.9V1942.4M522.2 1949.8V1951.3M522.2 1984.4V1985.9M522.2 2005.5V2007.0M522.2 2023.5V2025.0M532.1 1894.5V1896.0M532.1 1934.9V1936.4M532.1 1945.3V1946.8M532.1 2007.0V2010.0M532.1 2020.5V2022.0M542.0 1686.3V1687.8M542.0 1696.8V1698.3M542.0 1725.2V1726.7M542.0 1735.7V1737.2M542.0 1753.7V1755.2M542.0 1791.1V1792.6M542.0 1797.1V1798.6M542.0 1800.1V1801.6M552.0 1710.3V1711.8M552.0 1725.2V1726.7M552.0 1729.7V1731.2M552.0 1746.2V1747.7M552.0 1758.2V1759.7M552.0 1773.2V1774.7M552.0 1797.1V1798.6M552.0 1849.5V1851.0M552.0 1863.0V1864.5M552.0 2044.6V2046.2M552.0 2065.9V2067.5M561.9 1714.7V1719.2M561.9 1750.7V1752.2M561.9 1822.6V1824.1M561.9 1827.1V1828.6M561.9 1925.9V1927.4M561.9 1957.3V1958.8M561.9 2062.9V2064.4M571.8 1714.7V1716.2M571.8 1737.2V1738.7M571.8 1801.6V1803.1M571.8 1846.6V1848.0M571.8 1849.5V1851.0M571.8 1860.0V1861.5M581.6 1789.6V1791.1M581.6 1909.4V1910.9M581.6 1921.4V1922.9M581.6 1930.4V1931.9M581.6 1933.4V1934.9M581.6 1936.4V1937.9M581.6 1960.3V1961.8M581.6 1978.4V1979.9M581.6 1987.4V1988.9M581.6 1997.9V1999.4M581.6 2000.9V2002.4M581.6 2011.5V2013.0M581.6 2017.5V2019.0M581.6 2032.6V2034.1M591.5 1789.6V1792.6M591.5 1887.0V1888.5M591.5 1891.5V1893.0M591.5 1921.4V1922.9M591.5 1924.4V1927.4M591.5 1934.9V1936.4M591.5 1961.8V1963.3M591.5 1993.4V1994.9M591.5 2022.0V2023.5M620.2 2004.2V2005.7M620.2 2011.7V2013.2M620.2 2034.3V2038.9M620.2 2040.4V2041.9M620.2 2044.9V2046.4M620.2 2052.4V2053.9M620.2 2060.0V2063.0M630.1 2013.2V2014.7M630.1 2031.3V2032.8M630.1 2044.9V2046.4M640.0 1762.9V1764.4M640.0 1774.9V1776.4M640.0 1777.9V1779.4M640.0 1788.4V1789.9M640.0 1798.8V1800.3M640.0 1801.8V1804.8M640.0 1806.3V1807.8M640.0 1809.3V1810.8M640.0 1821.3V1822.8M640.0 1831.8V1833.3M640.0 1836.3V1837.8M640.0 1854.3V1857.3M640.0 1870.7V1872.2M640.0 1873.7V1875.2M640.0 1899.2V1900.7M640.0 1942.7V1944.1M640.0 1956.1V1957.6M640.0 1968.1V1971.1M640.0 1974.1V1975.6M640.0 1980.1V1981.6M649.9 1753.9V1755.4M649.9 1782.4V1783.9M649.9 1798.8V1803.3M649.9 1807.8V1809.3M649.9 1815.3V1816.8M649.9 1819.8V1824.3M649.9 1842.3V1845.3M649.9 1863.3V1864.8M649.9 1869.2V1876.7M649.9 1878.2V1881.2M649.9 1891.7V1893.2M649.9 1897.7V1899.2M649.9 1912.7V1914.2M649.9 1923.2V1924.7M649.9 1927.7V1930.7M649.9 1935.2V1936.7M649.9 1938.2V1939.7M649.9 1948.6V1950.1M649.9 1957.6V1959.1M659.8 2019.3V2020.8M659.8 2029.8V2035.8M659.8 2050.9V2052.4M669.7 2023.8V2026.8M669.7 2031.3V2032.8M669.7 2034.3V2035.8M669.7 2047.9V2049.4M669.7 2060.0V2061.5M669.7 2064.5V2066.0M669.7 2067.5V2069.0M679.6 1744.9V1746.4M679.6 1777.9V1779.4M679.6 1780.9V1782.4M679.6 1785.4V1786.9M679.6 1789.9V1791.4M679.6 1797.3V1798.8M679.6 1800.3V1801.8M679.6 1804.8V1806.3M679.6 1809.3V1810.8M679.6 1824.3V1825.8M679.6 1837.8V1839.3M679.6 1846.8V1848.3M679.6 1854.3V1855.8M679.6 1860.3V1861.8M679.6 1873.7V1875.2M679.6 1878.2V1879.7M679.6 1891.7V1893.2M679.6 1921.7V1923.2M679.6 1948.6V1950.1M689.5 1756.9V1758.4M689.5 1777.9V1779.4M689.5 1783.9V1785.4M689.5 1798.8V1800.3M689.5 1803.3V1804.8M689.5 1818.3V1819.8M689.5 1827.3V1828.8M689.5 1833.3V1834.8M689.5 1836.3V1837.8M689.5 1840.8V1842.3M689.5 1848.3V1849.8M689.5 1851.3V1854.3M689.5 1855.8V1860.3M689.5 1863.3V1864.8M689.5 1876.7V1881.2M689.5 1891.7V1893.2M689.5 1896.2V1899.2M689.5 1903.7V1905.2M689.5 1918.7V1920.2M689.5 1921.7V1923.2M689.5 1930.7V1932.2M689.5 1953.1V1954.6M689.5 1957.6V1959.1M689.5 1969.6V1971.1M689.5 1974.1V1975.6M718.2 1776.8V1778.3M718.2 1788.8V1790.3M718.2 1797.8V1799.3M718.2 1842.9V1844.4M718.2 1906.0V1907.5M718.2 2007.0V2008.5M718.2 2016.1V2017.6M728.1 1742.2V1743.7M728.1 1749.7V1751.2M728.1 1755.7V1757.2M728.1 1841.4V1842.9M728.1 1900.0V1904.5M728.1 2066.0V2067.5M738.0 1933.1V1934.6M738.0 1979.7V1981.2M738.0 2031.3V2032.9M747.9 1921.0V1922.5M747.9 1930.0V1931.6M747.9 1960.1V1961.6M747.9 2010.0V2011.6M747.9 2023.7V2025.2M747.9 2032.9V2034.4M757.8 1749.7V1751.2M757.8 1799.3V1800.8M757.8 1823.3V1824.9M757.8 1839.9V1841.4M757.8 1895.5V1897.0M757.8 1903.0V1904.5M757.8 2044.9V2046.4M757.8 2063.0V2064.5M767.7 1740.7V1742.2M767.7 1748.2V1749.7M767.7 1752.7V1754.2M767.7 1755.7V1757.2M767.7 1802.3V1803.8M767.7 1830.9V1833.9M767.7 1836.9V1838.4M767.7 1839.9V1841.4M767.7 1871.4V1874.4M767.7 1878.9V1880.4M767.7 1973.7V1975.2M767.7 2066.0V2067.5M777.6 1898.5V1900.0M777.6 1901.5V1903.0M777.6 1904.5V1906.0M777.6 1949.6V1951.1M777.6 2003.9V2005.5M777.6 2010.0V2011.6M787.5 1925.5V1927.0M787.5 1949.6V1951.1M787.5 1970.7V1972.2M816.1 1807.7V1809.2M816.1 1872.1V1873.6M816.1 1875.1V1876.6M816.1 1879.6V1881.1M826.0 1798.7V1800.2M826.0 1890.0V1891.5M835.9 1813.7V1815.2M835.9 1836.1V1837.6M835.9 1860.1V1861.6M835.9 1887.0V1888.5M845.8 1798.7V1801.7M845.8 1821.2V1822.7M845.8 1839.1V1840.6M845.8 1852.6V1854.1M845.8 1858.6V1860.1M845.8 1881.1V1882.5M845.8 1994.2V1995.7M845.8 2064.5V2066.0M855.7 1932.2V1933.7M855.7 1953.3V1954.9M865.6 1960.9V1962.4M865.6 2010.7V2012.2M865.6 2030.1V2031.6M865.6 2055.6V2057.1M875.5 1872.1V1873.6M875.5 1918.6V1920.1M875.5 1932.2V1935.2M875.5 1941.2V1942.8M875.5 1953.3V1954.9M875.5 1980.6V1982.1M875.5 1994.2V1995.7M875.5 2016.7V2018.2M875.5 2027.1V2028.6M875.5 2054.1V2055.6M885.4 1866.1V1867.6M885.4 1893.0V1894.5M885.4 1903.5V1905.0M885.4 1921.6V1923.1M885.4 1924.6V1926.1M885.4 1938.2V1939.7M885.4 1953.3V1954.9M885.4 1962.4V1963.9M885.4 1998.7V2000.2M885.4 2001.7V2003.2M885.4 2009.2V2010.7M885.4 2016.7V2018.2M885.4 2037.6V2039.1M885.4 2040.6V2043.6M885.4 2045.1V2046.6M914.1 1908.0V1909.5M914.1 1912.5V1915.6M914.1 1921.6V1923.1M914.1 1926.1V1927.6M914.1 1935.1V1938.1M914.1 1941.1V1942.6M914.1 1953.1V1954.6M914.1 1963.6V1965.1M914.1 1975.7V1978.7M914.1 1981.7V1986.2M924.0 1875.0V1876.5M924.0 1879.5V1881.0M924.0 1897.5V1899.0M924.0 1900.5V1902.0M924.0 1903.5V1905.0M924.0 1912.5V1914.1M924.0 1921.6V1923.1M924.0 1927.6V1930.6M924.0 1945.6V1947.1M924.0 1983.2V1984.7M924.0 1992.2V1993.7M924.0 1995.2V1996.7M933.9 2031.3V2032.8M933.9 2041.9V2043.4M933.9 2047.9V2049.4M933.9 2052.4V2053.9M933.9 2056.9V2058.4M933.9 2063.0V2066.0M943.8 2034.3V2035.9M943.8 2037.4V2038.9M943.8 2040.4V2041.9M943.8 2056.9V2058.4M943.8 2060.0V2061.5M953.7 2017.8V2019.3M953.7 2025.3V2026.8M953.7 2029.8V2031.3M953.7 2034.3V2037.4M953.7 2043.4V2044.9M953.7 2056.9V2058.4M963.6 2025.3V2026.8M963.6 2032.8V2034.3M963.6 2041.9V2043.4M963.6 2046.4V2047.9M963.6 2056.9V2058.4M963.6 2063.0V2064.5M973.5 1866.0V1867.5M973.5 1872.0V1873.5M973.5 1882.5V1884.0M973.5 1896.0V1897.5M973.5 1920.1V1921.6M973.5 1930.6V1933.6M973.5 1939.6V1942.6M973.5 1956.1V1957.6M973.5 1962.1V1963.6M973.5 1965.1V1966.6M973.5 1989.2V1990.7M983.4 1878.0V1879.5M983.4 1881.0V1882.5M983.4 1905.0V1906.5M983.4 1923.1V1924.6M983.4 1930.6V1932.1M983.4 1939.6V1941.1M983.4 1965.1V1966.6M983.4 1975.7V1977.2M1012.0 2034.2V2035.8M1012.0 2049.4V2050.9M1012.0 2053.9V2055.4M1021.9 2035.8V2037.3M1021.9 2040.3V2041.8M1021.9 2044.8V2046.3M1051.6 2023.7V2025.2M1051.6 2052.4V2053.9M1071.4 2035.8V2037.3M1071.4 2041.8V2043.3M1119.9 2021.3V2022.7M1119.9 2030.1V2031.6M1129.8 2061.5V2064.5M1129.8 2069.0V2070.5M1149.5 2061.5V2063.0M1179.2 2012.4V2013.9M1179.2 2033.0V2034.5M1217.8 2054.4V2055.8M1227.7 2020.3V2021.8M1227.7 2033.7V2035.2M1227.7 2038.2V2039.7M1227.7 2048.7V2050.2M1227.7 2061.5V2063.0M1247.5 2057.2V2058.6M1267.3 2035.2V2036.7M1267.3 2055.8V2057.2M1277.2 2057.2V2058.6M1315.8 2022.1V2023.7M1315.8 2067.2V2068.9M1325.7 2062.5V2064.0M1345.5 2026.8V2028.3M1345.5 2038.9V2040.4M1345.5 2052.2V2053.7M1345.5 2064.0V2065.6M1355.4 2019.0V2022.1M1355.4 2056.6V2058.1M1375.2 2029.8V2031.4M1375.2 2043.3V2044.8M1375.2 2052.2V2053.7M1423.6 2061.5V2063.0M1433.5 2025.6V2027.1M1433.5 2028.6V2030.1M1433.5 2031.6V2034.6M1433.5 2049.5V2051.0M1443.4 2058.5V2060.0M1443.4 2061.5V2063.0M1453.3 2028.6V2031.6M1453.3 2048.0V2051.0M1463.2 2067.5V2069.0"/>
<path stroke="#573E10" d="M326.3 1581.5V1584.5M326.3 1586.0V1587.5M326.3 1652.0V1653.5M326.3 1704.5V1706.0M326.3 1715.0V1716.5M326.3 1859.2V1860.7M326.3 1887.6V1889.1M336.2 1562.0V1563.5M336.2 1565.0V1566.5M336.2 1580.0V1581.5M336.2 1589.0V1590.5M336.2 1593.5V1595.0M336.2 1616.0V1617.5M336.2 1628.0V1629.5M336.2 1676.0V1677.5M336.2 1679.0V1680.5M336.2 1856.2V1857.7M336.2 1880.1V1881.6M336.2 1895.1V1896.5M336.2 1898.0V1899.5M336.2 1902.5V1904.0M346.1 1316.5V1318.0M346.1 1339.0V1340.4M346.1 1343.4V1344.9M346.1 1362.9V1365.9M346.1 1412.3V1413.8M346.1 1427.3V1428.8M346.1 1437.7V1439.2M346.1 1442.2V1443.7M346.1 1464.7V1466.2M346.1 1490.1V1491.6M346.1 1515.6V1517.1M346.1 1532.1V1533.6M346.1 1865.2V1866.7M346.1 1875.6V1877.1M346.1 1878.6V1880.1M346.1 2057.1V2058.6M356.0 1353.9V1355.4M356.0 1368.9V1370.4M356.0 1415.3V1416.8M356.0 1452.7V1454.2M356.0 1470.7V1472.2M356.0 1490.1V1491.6M356.0 1514.1V1515.6M356.0 1521.6V1523.1M356.0 1524.6V1526.1M356.0 1856.2V1857.7M356.0 1872.6V1874.1M356.0 1887.6V1889.1M356.0 2054.1V2055.6M356.0 2060.0V2063.0M356.0 2066.0V2067.5M365.9 910.4V911.9M365.9 964.3V965.8M365.9 1315.0V1316.5M365.9 1325.5V1327.0M365.9 1349.4V1350.9M365.9 1367.4V1368.9M365.9 1385.4V1386.9M365.9 1392.8V1394.3M365.9 1401.8V1403.3M365.9 1404.8V1407.8M365.9 1409.3V1410.8M365.9 1419.8V1421.3M365.9 1463.2V1466.2M365.9 1478.2V1479.7M365.9 1482.7V1484.2M365.9 1491.6V1493.1M365.9 1515.6V1517.1M365.9 1668.5V1670.0M365.9 1671.5V1673.0M365.9 1680.5V1682.0M365.9 1688.0V1689.5M365.9 1701.5V1703.0M365.9 1707.5V1709.0M365.9 1710.5V1712.0M365.9 1718.0V1719.5M365.9 2067.5V2069.0M375.8 931.4V932.9M375.8 1340.4V1341.9M375.8 1370.4V1371.9M375.8 1374.9V1376.4M375.8 1397.3V1398.8M375.8 1419.8V1421.3M375.8 1425.8V1427.3M375.8 1443.7V1445.2M375.8 1464.7V1466.2M375.8 1470.7V1472.2M375.8 1511.1V1512.6M375.8 1514.1V1515.6M375.8 1524.6V1526.1M375.8 1527.6V1529.1M375.8 1538.0V1539.5M375.8 1551.5V1554.5M375.8 1590.5V1592.0M375.8 1595.0V1596.5M375.8 1668.5V1670.0M375.8 1688.0V1689.5M375.8 1692.5V1694.0M375.8 1703.0V1704.5M375.8 2058.6V2060.0M375.8 2066.0V2067.5M385.7 1397.3V1398.8M385.7 1457.2V1458.7M385.7 1499.1V1500.6M385.7 1520.1V1521.6M385.7 1551.5V1553.0M385.7 1643.0V1644.5M385.7 1692.5V1694.0M385.7 1695.5V1697.0M385.7 1713.5V1715.0M385.7 1808.4V1809.9M385.7 1884.6V1886.1M385.7 1901.0V1902.5M385.7 1911.5V1913.0M395.6 1554.5V1556.0M395.6 1661.0V1662.5M395.6 1685.0V1686.5M395.6 1692.5V1694.0M395.6 1818.8V1820.3M395.6 1833.8V1835.3M395.6 1847.2V1848.7M395.6 1857.7V1859.2M395.6 1878.6V1880.1M395.6 1887.6V1889.1M395.6 1890.6V1892.1M395.6 1901.0V1902.5M424.3 2015.0V2018.0M424.3 2022.5V2024.0M424.3 2027.0V2028.5M424.3 2036.0V2037.5M424.3 2042.0V2043.5M424.3 2051.0V2052.5M424.3 2055.5V2058.5M434.2 2010.4V2013.4M434.2 2021.0V2022.5M434.2 2025.5V2027.0M434.2 2028.5V2030.0M434.2 2033.0V2042.0M434.2 2045.0V2048.0M434.2 2051.0V2055.5M434.2 2063.0V2064.5M434.2 2066.0V2067.5M434.2 2069.0V2070.5M444.1 2015.0V2016.5M444.1 2019.5V2021.0M444.1 2022.5V2024.0M444.1 2042.0V2043.5M444.1 2052.5V2054.0M444.1 2066.0V2067.5M444.1 2069.0V2070.5M454.0 1992.4V1993.9M454.0 2021.0V2025.5M454.0 2028.5V2030.0M454.0 2034.5V2036.0M454.0 2039.0V2040.5M454.0 2045.0V2048.0M454.0 2051.0V2052.5M454.0 2066.0V2067.5M463.9 1675.4V1676.9M463.9 1684.4V1685.9M463.9 1697.9V1700.9M463.9 1722.0V1723.5M463.9 1725.0V1726.5M463.9 1741.5V1743.0M463.9 1752.0V1753.5M463.9 1759.5V1761.0M463.9 1762.5V1764.0M463.9 1765.5V1767.0M463.9 1771.6V1773.1M463.9 1774.6V1776.1M463.9 1779.1V1782.1M463.9 1785.1V1786.6M463.9 1791.1V1792.6M463.9 1794.1V1795.6M463.9 1797.1V1798.6M463.9 1810.6V1812.1M463.9 1813.6V1824.2M463.9 1827.2V1828.7M463.9 1833.2V1836.2M463.9 1837.7V1839.2M463.9 1854.2V1855.7M463.9 1863.2V1864.7M463.9 1866.2V1869.2M463.9 1870.7V1872.2M463.9 1876.7V1878.2M463.9 1882.8V1884.3M463.9 1885.8V1887.3M463.9 1888.8V1890.3M463.9 1899.3V1900.8M463.9 1902.3V1903.8M463.9 1909.8V1911.3M463.9 1920.3V1921.8M463.9 1926.3V1927.8M463.9 1930.8V1932.4M463.9 1941.4V1942.9M463.9 1953.4V1954.9M463.9 1957.9V1959.4M473.8 1717.5V1719.0M473.8 1728.0V1729.5M473.8 1732.5V1734.0M473.8 1735.5V1737.0M473.8 1738.5V1740.0M473.8 1741.5V1743.0M473.8 1750.5V1752.0M473.8 1762.5V1765.5M473.8 1768.5V1770.1M473.8 1783.6V1785.1M473.8 1788.1V1789.6M473.8 1795.6V1797.1M473.8 1800.1V1803.1M473.8 1806.1V1807.6M473.8 1819.6V1821.1M473.8 1824.2V1825.7M473.8 1827.2V1830.2M473.8 1831.7V1833.2M473.8 1845.2V1846.7M473.8 1849.7V1851.2M473.8 1852.7V1857.2M473.8 1860.2V1863.2M473.8 1866.2V1867.7M473.8 1869.2V1870.7M473.8 1875.2V1876.7M473.8 1879.8V1884.3M473.8 1888.8V1891.8M473.8 1899.3V1900.8M473.8 1906.8V1911.3M473.8 1917.3V1918.8M473.8 1938.4V1939.9M473.8 1942.9V1944.4M473.8 1953.4V1954.9M483.7 1709.9V1711.4M483.7 1719.0V1720.5M483.7 1729.5V1731.0M483.7 1732.5V1734.0M483.7 1741.5V1743.0M483.7 1746.0V1747.5M483.7 1749.0V1750.5M483.7 1753.5V1755.0M483.7 1767.0V1768.5M483.7 1770.1V1773.1M483.7 1777.6V1779.1M483.7 1785.1V1786.6M483.7 1791.1V1794.1M483.7 1798.6V1801.6M483.7 1803.1V1806.1M483.7 1816.6V1818.1M483.7 1824.2V1825.7M483.7 1828.7V1830.2M483.7 1833.2V1836.2M483.7 1840.7V1842.2M483.7 1845.2V1846.7M483.7 1849.7V1851.2M483.7 1854.2V1855.7M483.7 1858.7V1860.2M483.7 1866.2V1870.7M483.7 1875.2V1876.7M483.7 1881.3V1884.3M483.7 1893.3V1894.8M483.7 1902.3V1903.8M483.7 1906.8V1908.3M483.7 1909.8V1912.8M483.7 1918.8V1920.3M483.7 1923.3V1926.3M483.7 1932.4V1935.4M483.7 1944.4V1947.4M483.7 1948.9V1950.4M483.7 1956.4V1959.4M493.6 1693.4V1694.9M493.6 1697.9V1699.4M493.6 1716.0V1717.5M493.6 1722.0V1723.5M493.6 1729.5V1731.0M493.6 1735.5V1737.0M493.6 1738.5V1740.0M493.6 1744.5V1746.0M493.6 1749.0V1750.5M493.6 1755.0V1756.5M493.6 1761.0V1762.5M493.6 1770.1V1771.6M493.6 1798.6V1800.1M493.6 1803.1V1804.6M493.6 1813.6V1815.1M493.6 1819.6V1821.1M493.6 1824.2V1825.7M493.6 1837.7V1839.2M493.6 1845.2V1851.2M493.6 1855.7V1857.2M493.6 1863.2V1866.2M493.6 1873.7V1875.2M493.6 1887.3V1888.8M493.6 1902.3V1903.8M493.6 1909.8V1912.8M493.6 1926.3V1929.3M493.6 1932.4V1936.9M493.6 1942.9V1944.4M493.6 1950.4V1951.9M522.2 1888.5V1891.5M522.2 1907.9V1909.4M522.2 1910.9V1912.4M522.2 1939.4V1940.9M522.2 1973.8V1975.3M522.2 2029.6V2031.1M532.1 1882.5V1884.0M532.1 1888.5V1890.0M532.1 1891.5V1893.0M532.1 1924.4V1925.9M532.1 1984.4V1985.9M532.1 1991.9V1993.4M532.1 1996.4V1997.9M532.1 2040.1V2041.6M542.0 1699.8V1701.3M542.0 1713.2V1717.7M542.0 1719.2V1720.7M542.0 1722.2V1723.7M542.0 1734.2V1735.7M542.0 1812.1V1813.6M542.0 1840.6V1842.1M542.0 1843.6V1845.1M542.0 1857.0V1858.5M542.0 1870.5V1872.0M542.0 2025.0V2026.5M552.0 1686.3V1687.8M552.0 1764.2V1765.7M552.0 1774.7V1776.2M552.0 1777.7V1780.6M552.0 1792.6V1794.1M552.0 1803.1V1806.1M552.0 1807.6V1809.1M552.0 1828.6V1830.1M552.0 1845.1V1846.6M552.0 1870.5V1872.0M552.0 2046.2V2047.7M552.0 2069.0V2070.5M561.9 1678.8V1680.3M561.9 1698.3V1701.3M561.9 1722.2V1723.7M561.9 1737.2V1738.7M561.9 1744.7V1746.2M561.9 1753.7V1755.2M561.9 1761.2V1762.7M561.9 1785.1V1786.6M561.9 1794.1V1795.6M561.9 1812.1V1813.6M561.9 1831.6V1833.1M561.9 1846.6V1848.0M561.9 1849.5V1851.0M561.9 1855.5V1857.0M561.9 2053.8V2056.8M571.8 1690.8V1692.3M571.8 1708.8V1710.3M571.8 1725.2V1726.7M571.8 1741.7V1743.2M571.8 1752.2V1753.7M571.8 1794.1V1795.6M571.8 1825.6V1827.1M571.8 1866.0V1867.5M571.8 1940.9V1942.4M571.8 2069.0V2070.5M581.6 1888.5V1890.0M581.6 1928.9V1930.4M581.6 1939.4V1940.9M581.6 1982.9V1984.4M581.6 1988.9V1990.4M581.6 1991.9V1993.4M581.6 2038.6V2040.1M591.5 1828.6V1830.1M591.5 1882.5V1884.0M591.5 1922.9V1924.4M591.5 1931.9V1933.4M591.5 1951.3V1952.8M591.5 1991.9V1993.4M591.5 2023.5V2025.0M591.5 2032.6V2034.1M591.5 2038.6V2040.1M620.2 2029.8V2032.8M620.2 2063.0V2064.5M620.2 2067.5V2069.0M630.1 2032.8V2034.3M630.1 2035.8V2037.4M630.1 2038.9V2040.4M630.1 2050.9V2052.4M630.1 2055.4V2058.4M630.1 2060.0V2061.5M630.1 2066.0V2067.5M640.0 1744.9V1746.4M640.0 1782.4V1783.9M640.0 1792.9V1794.3M640.0 1815.3V1816.8M640.0 1819.8V1821.3M640.0 1822.8V1824.3M640.0 1827.3V1830.3M640.0 1833.3V1836.3M640.0 1837.8V1839.3M640.0 1840.8V1842.3M640.0 1843.8V1845.3M640.0 1848.3V1849.8M640.0 1861.8V1863.3M640.0 1866.3V1867.8M640.0 1869.2V1870.7M640.0 1872.2V1873.7M640.0 1879.7V1881.2M640.0 1882.7V1884.2M640.0 1902.2V1905.2M640.0 1906.7V1908.2M640.0 1912.7V1914.2M640.0 1926.2V1927.7M640.0 1929.2V1930.7M640.0 1932.2V1933.7M640.0 1938.2V1939.7M640.0 1945.6V1947.1M640.0 1953.1V1954.6M640.0 1957.6V1959.1M640.0 1963.6V1965.1M649.9 1777.9V1779.4M649.9 1780.9V1782.4M649.9 1789.9V1791.4M649.9 1792.9V1794.3M649.9 1795.8V1798.8M649.9 1809.3V1810.8M649.9 1825.8V1828.8M649.9 1831.8V1836.3M649.9 1840.8V1842.3M649.9 1848.3V1855.8M649.9 1864.8V1867.8M649.9 1882.7V1884.2M649.9 1902.2V1903.7M649.9 1906.7V1908.2M649.9 1917.2V1918.7M649.9 1921.7V1923.2M649.9 1924.7V1927.7M649.9 1939.7V1941.2M649.9 1954.6V1956.1M649.9 1971.1V1972.6M649.9 1974.1V1975.6M659.8 2020.8V2022.3M659.8 2035.8V2038.9M659.8 2046.4V2047.9M659.8 2055.4V2056.9M659.8 2061.5V2066.0M669.7 2022.3V2023.8M669.7 2029.8V2031.3M669.7 2035.8V2037.4M669.7 2040.4V2041.9M669.7 2052.4V2053.9M669.7 2058.4V2060.0M669.7 2069.0V2070.5M679.6 1756.9V1758.4M679.6 1774.9V1776.4M679.6 1786.9V1788.4M679.6 1798.8V1800.3M679.6 1801.8V1803.3M679.6 1815.3V1818.3M679.6 1825.8V1827.3M679.6 1836.3V1837.8M679.6 1842.3V1843.8M679.6 1845.3V1846.8M679.6 1851.3V1854.3M679.6 1864.8V1866.3M679.6 1867.8V1869.2M679.6 1876.7V1878.2M679.6 1881.2V1882.7M679.6 1885.7V1887.2M679.6 1888.7V1890.2M679.6 1900.7V1902.2M679.6 1905.2V1908.2M679.6 1918.7V1920.2M679.6 1923.2V1926.2M679.6 1927.7V1929.2M679.6 1939.7V1941.2M679.6 1954.6V1959.1M679.6 1971.1V1977.1M679.6 1978.6V1980.1M689.5 1755.4V1756.9M689.5 1776.4V1777.9M689.5 1801.8V1803.3M689.5 1807.8V1809.3M689.5 1813.8V1815.3M689.5 1824.3V1825.8M689.5 1843.8V1845.3M689.5 1849.8V1851.3M689.5 1861.8V1863.3M689.5 1867.8V1869.2M689.5 1872.2V1873.7M689.5 1882.7V1884.2M689.5 1890.2V1891.7M689.5 1902.2V1903.7M689.5 1924.7V1926.2M689.5 1939.7V1941.2M689.5 1942.7V1944.1M689.5 1945.6V1948.6M689.5 1972.6V1974.1M689.5 1975.6V1977.1M718.2 1751.2V1752.7M718.2 1754.2V1755.7M718.2 1781.3V1782.8M718.2 1815.8V1817.3M718.2 1866.9V1868.4M718.2 1904.5V1906.0M718.2 2040.4V2041.9M718.2 2055.5V2057.0M718.2 2069.0V2070.5M728.1 1740.7V1742.2M728.1 1764.7V1766.3M728.1 1784.3V1785.8M728.1 1788.8V1790.3M728.1 1797.8V1799.3M728.1 1842.9V1844.4M728.1 1872.9V1877.4M728.1 1878.9V1880.4M728.1 1954.1V1955.6M728.1 2054.0V2055.5M728.1 2063.0V2064.5M738.0 1927.0V1928.5M738.0 1943.6V1945.1M738.0 1955.6V1958.6M738.0 2008.5V2010.0M738.0 2019.2V2020.7M738.0 2025.2V2026.8M738.0 2029.8V2031.3M747.9 1912.0V1913.5M747.9 1916.5V1919.5M747.9 1927.0V1928.5M747.9 2000.9V2002.4M757.8 1743.7V1745.2M757.8 1769.3V1770.8M757.8 1779.8V1781.3M757.8 1785.8V1787.3M757.8 1814.3V1815.8M757.8 1854.9V1856.4M757.8 1857.9V1860.9M757.8 1869.9V1871.4M757.8 1881.9V1883.5M757.8 1894.0V1895.5M757.8 1975.2V1976.7M757.8 2040.4V2041.9M757.8 2066.0V2067.5M767.7 1742.2V1743.7M767.7 1749.7V1751.2M767.7 1757.2V1758.7M767.7 1772.3V1773.8M767.7 1782.8V1784.3M767.7 1811.3V1812.8M767.7 1848.9V1850.4M767.7 1854.9V1856.4M767.7 1857.9V1859.4M767.7 1869.9V1871.4M767.7 1984.2V1985.7M767.7 2035.9V2037.4M767.7 2055.5V2057.0M777.6 1912.0V1913.5M777.6 1922.5V1925.5M777.6 2032.9V2034.4M787.5 1912.0V1913.5M787.5 1943.6V1945.1M787.5 1994.8V1996.3M816.1 1797.2V1798.7M816.1 1803.2V1804.7M816.1 1839.1V1840.6M816.1 1888.5V1890.0M826.0 1837.6V1839.1M826.0 1884.0V1885.5M826.0 1905.0V1906.5M835.9 1801.7V1803.2M835.9 1809.2V1810.7M835.9 1822.7V1824.2M835.9 1833.1V1834.6M835.9 1840.6V1843.6M835.9 1875.1V1876.6M835.9 1879.6V1881.1M835.9 1884.0V1885.5M835.9 1888.5V1891.5M835.9 1896.0V1897.5M835.9 1899.0V1900.5M835.9 1902.0V1903.5M835.9 1909.5V1911.0M835.9 1994.2V1995.7M835.9 2064.5V2066.0M845.8 1801.7V1803.2M845.8 1806.2V1807.7M845.8 1813.7V1815.2M845.8 1827.1V1830.1M845.8 1831.6V1833.1M845.8 1837.6V1839.1M845.8 1851.1V1852.6M845.8 1873.6V1875.1M845.8 1879.6V1881.1M845.8 1903.5V1905.0M845.8 1974.5V1976.0M855.7 1926.1V1927.6M855.7 2006.2V2007.7M855.7 2019.7V2021.2M855.7 2034.6V2036.1M865.6 1932.2V1933.7M865.6 1956.4V1957.9M865.6 1983.6V1985.1M865.6 1995.7V1997.2M865.6 2036.1V2037.6M875.5 1914.0V1915.5M875.5 1935.2V1936.7M875.5 1950.3V1951.8M875.5 1986.6V1988.1M875.5 1989.7V1992.7M875.5 1998.7V2000.2M875.5 2001.7V2003.2M875.5 2055.6V2057.1M885.4 1897.5V1899.0M885.4 1920.1V1921.6M885.4 1935.2V1936.7M885.4 1950.3V1951.8M885.4 1971.5V1973.0M885.4 1977.5V1979.1M885.4 2000.2V2001.7M885.4 2003.2V2004.7M885.4 2022.7V2024.2M885.4 2043.6V2045.1M914.1 1885.5V1887.0M914.1 1894.5V1896.0M914.1 1897.5V1900.5M914.1 1903.5V1905.0M914.1 1906.5V1908.0M914.1 1927.6V1929.1M914.1 1945.6V1950.1M914.1 1951.6V1953.1M914.1 1957.6V1959.1M914.1 1966.6V1969.6M914.1 1971.2V1972.7M914.1 1987.7V1989.2M924.0 1882.5V1884.0M924.0 1891.5V1893.0M924.0 1902.0V1903.5M924.0 1906.5V1908.0M924.0 1920.1V1921.6M924.0 1923.1V1926.1M924.0 1935.1V1936.6M924.0 1938.1V1939.6M924.0 1947.1V1948.6M924.0 1951.6V1953.1M924.0 1954.6V1956.1M924.0 1962.1V1963.6M924.0 1968.1V1969.6M924.0 1977.2V1980.2M924.0 1984.7V1989.2M924.0 1993.7V1995.2M924.0 1996.7V1998.2M933.9 2022.3V2023.8M933.9 2046.4V2047.9M933.9 2055.4V2056.9M933.9 2060.0V2061.5M943.8 2032.8V2034.3M943.8 2043.4V2044.9M943.8 2046.4V2049.4M943.8 2050.9V2053.9M943.8 2063.0V2067.5M953.7 2038.9V2040.4M953.7 2044.9V2046.4M953.7 2047.9V2049.4M953.7 2055.4V2056.9M953.7 2058.4V2061.5M953.7 2066.0V2067.5M953.7 2069.0V2070.5M963.6 1971.2V1972.7M963.6 2028.3V2029.8M963.6 2037.4V2038.9M963.6 2040.4V2041.9M963.6 2043.4V2044.9M963.6 2050.9V2055.4M963.6 2064.5V2067.5M973.5 1884.0V1885.5M973.5 1894.5V1896.0M973.5 1905.0V1906.5M973.5 1908.0V1911.0M973.5 1912.5V1914.1M973.5 1915.6V1917.1M973.5 1935.1V1938.1M973.5 1948.6V1953.1M973.5 1959.1V1960.6M973.5 1968.1V1971.2M973.5 1972.7V1974.2M973.5 1977.2V1978.7M973.5 1986.2V1987.7M973.5 1992.2V1996.7M983.4 1890.0V1891.5M983.4 1911.0V1912.5M983.4 1914.1V1915.6M983.4 1917.1V1918.6M983.4 1920.1V1921.6M983.4 1924.6V1926.1M983.4 1927.6V1930.6M983.4 1936.6V1938.1M983.4 1942.6V1944.1M983.4 1954.6V1957.6M983.4 1959.1V1960.6M983.4 1966.6V1968.1M983.4 1981.7V1983.2M983.4 1993.7V1996.7M1012.0 2014.6V2016.1M1012.0 2038.8V2040.3M1021.9 2005.5V2007.0M1021.9 2031.2V2032.7M1021.9 2037.3V2038.8M1021.9 2060.0V2061.5M1051.6 2007.0V2008.5M1110.0 2013.9V2015.4M1119.9 2016.9V2018.3M1119.9 2033.0V2034.5M1129.8 2027.1V2028.6M1139.7 2025.7V2027.1M1149.5 2034.5V2036.0M1149.5 2046.5V2048.0M1149.5 2054.0V2055.5M1169.4 2015.4V2016.9M1179.2 2027.1V2028.6M1207.9 2035.2V2036.7M1207.9 2063.0V2064.5M1217.8 2027.8V2029.3M1227.7 2017.3V2018.8M1227.7 2066.0V2067.5M1267.3 2014.3V2015.8M1267.3 2032.2V2033.7M1267.3 2053.0V2054.4M1315.8 2026.8V2028.3M1315.8 2033.0V2034.5M1345.5 2028.3V2029.8M1345.5 2065.6V2067.2M1355.4 2025.2V2026.8M1355.4 2031.4V2034.5M1355.4 2046.3V2047.8M1355.4 2058.1V2061.1M1375.2 2023.7V2025.2M1375.2 2028.3V2029.8M1375.2 2044.8V2046.3M1413.7 2045.0V2046.5M1433.5 2024.1V2025.6M1433.5 2040.5V2042.0M1433.5 2048.0V2049.5M1443.4 2055.5V2057.0M1443.4 2067.5V2069.0M1453.3 2042.0V2045.0M1453.3 2046.5V2048.0M1463.2 2060.0V2061.5M1473.1 2037.5V2039.0M1473.1 2046.5V2048.0"/>
<path stroke="#3F2F10" d="M326.3 1580.0V1581.5M326.3 1599.5V1601.0M326.3 1607.0V1608.5M326.3 1610.0V1611.5M326.3 1665.5V1667.0M326.3 1700.0V1701.5M326.3 1869.7V1871.1M326.3 1877.1V1878.6M326.3 1883.1V1884.6M326.3 1890.6V1893.6M326.3 1908.5V1910.0M336.2 1569.5V1571.0M336.2 1574.0V1575.5M336.2 1584.5V1586.0M336.2 1601.0V1602.5M336.2 1647.5V1649.0M336.2 1673.0V1674.5M336.2 1691.0V1692.5M336.2 1712.0V1713.5M336.2 1715.0V1716.5M336.2 1718.0V1719.5M336.2 1857.7V1859.2M336.2 1860.7V1862.2M336.2 1866.7V1868.2M336.2 1886.1V1887.6M346.1 1315.0V1316.5M346.1 1321.0V1322.5M346.1 1331.5V1334.5M346.1 1371.9V1373.4M346.1 1374.9V1377.9M346.1 1401.8V1403.3M346.1 1475.2V1476.7M346.1 1482.7V1485.7M346.1 1500.6V1502.1M346.1 1521.6V1523.1M346.1 1533.6V1535.0M346.1 1545.5V1547.0M346.1 1548.5V1550.0M346.1 1815.9V1817.3M346.1 1838.3V1839.8M346.1 1869.7V1871.1M346.1 1877.1V1878.6M346.1 1883.1V1884.6M346.1 2067.5V2069.0M356.0 1371.9V1373.4M356.0 1392.8V1394.3M356.0 1413.8V1415.3M356.0 1434.8V1436.3M356.0 1505.1V1506.6M356.0 1508.1V1509.6M356.0 1511.1V1512.6M356.0 1554.5V1556.0M356.0 1812.9V1814.4M356.0 1817.3V1818.8M356.0 1902.5V1904.0M356.0 2008.6V2010.1M356.0 2057.1V2058.6M356.0 2063.0V2064.5M365.9 929.9V931.4M365.9 934.4V935.9M365.9 1318.0V1319.5M365.9 1328.5V1330.0M365.9 1355.4V1356.9M365.9 1361.4V1362.9M365.9 1364.4V1367.4M365.9 1410.8V1412.3M365.9 1460.2V1461.7M365.9 1475.2V1476.7M365.9 1487.1V1490.1M365.9 1499.1V1500.6M365.9 1505.1V1506.6M365.9 1511.1V1512.6M365.9 1523.1V1524.6M365.9 1530.6V1535.0M365.9 1542.5V1544.0M365.9 1620.5V1622.0M365.9 1644.5V1646.0M365.9 1679.0V1680.5M365.9 1695.5V1697.0M365.9 1698.5V1700.0M365.9 1704.5V1706.0M365.9 1709.0V1710.5M365.9 1713.5V1715.0M365.9 2049.6V2051.1M365.9 2054.1V2060.0M365.9 2064.5V2066.0M375.8 910.4V913.4M375.8 950.9V952.4M375.8 1327.0V1328.5M375.8 1358.4V1359.9M375.8 1365.9V1367.4M375.8 1430.3V1431.8M375.8 1434.8V1437.7M375.8 1484.2V1485.7M375.8 1496.1V1497.6M375.8 1502.1V1503.6M375.8 1539.5V1541.0M375.8 1587.5V1589.0M375.8 1599.5V1601.0M375.8 1650.5V1652.0M375.8 1653.5V1655.0M375.8 1656.5V1658.0M375.8 1713.5V1715.0M375.8 2048.1V2049.6M385.7 1518.6V1520.1M385.7 1716.5V1718.0M385.7 1791.8V1793.4M385.7 1835.3V1836.8M385.7 1850.2V1851.7M395.6 1734.6V1736.1M395.6 1863.7V1865.2M395.6 1880.1V1881.6M424.3 2028.5V2030.0M424.3 2058.5V2060.0M424.3 2066.0V2069.0M434.2 2027.0V2028.5M444.1 1839.2V1840.7M444.1 1999.9V2001.4M444.1 2036.0V2037.5M444.1 2039.0V2040.5M444.1 2060.0V2061.5M444.1 2067.5V2069.0M454.0 1923.3V1924.8M454.0 2004.4V2005.9M454.0 2019.5V2021.0M454.0 2048.0V2049.5M454.0 2052.5V2055.5M454.0 2061.5V2063.0M463.9 1709.9V1712.9M463.9 1728.0V1731.0M463.9 1732.5V1734.0M463.9 1735.5V1737.0M463.9 1738.5V1740.0M463.9 1746.0V1747.5M463.9 1753.5V1755.0M463.9 1758.0V1759.5M463.9 1767.0V1768.5M463.9 1788.1V1789.6M463.9 1795.6V1797.1M463.9 1803.1V1804.6M463.9 1809.1V1810.6M463.9 1839.2V1840.7M463.9 1845.2V1848.2M463.9 1849.7V1851.2M463.9 1852.7V1854.2M463.9 1855.7V1861.7M463.9 1864.7V1866.2M463.9 1869.2V1870.7M463.9 1872.2V1873.7M463.9 1879.8V1882.8M463.9 1891.8V1893.3M463.9 1894.8V1896.3M463.9 1903.8V1906.8M463.9 1911.3V1912.8M463.9 1914.3V1915.8M463.9 1918.8V1920.3M463.9 1923.3V1924.8M463.9 1929.3V1930.8M463.9 1933.9V1935.4M463.9 1938.4V1941.4M463.9 1947.4V1948.9M463.9 1950.4V1951.9M463.9 1956.4V1957.9M473.8 1719.0V1720.5M473.8 1737.0V1738.5M473.8 1771.6V1773.1M473.8 1780.6V1782.1M473.8 1791.1V1792.6M473.8 1815.1V1819.6M473.8 1851.2V1852.7M473.8 1857.2V1858.7M473.8 1863.2V1864.7M473.8 1914.3V1915.8M473.8 1918.8V1920.3M473.8 1921.8V1923.3M473.8 1924.8V1926.3M473.8 1929.3V1930.8M473.8 1935.4V1936.9M473.8 1941.4V1942.9M473.8 1950.4V1953.4M473.8 1954.9V1956.4M473.8 1957.9V1959.4M483.7 1697.9V1699.4M483.7 1716.0V1717.5M483.7 1722.0V1723.5M483.7 1737.0V1738.5M483.7 1764.0V1765.5M483.7 1773.1V1774.6M483.7 1818.1V1819.6M483.7 1836.2V1837.7M483.7 1839.2V1840.7M483.7 1842.2V1845.2M483.7 1848.2V1849.7M483.7 1851.2V1852.7M483.7 1855.7V1857.2M483.7 1860.2V1864.7M483.7 1876.7V1878.2M483.7 1890.3V1891.8M483.7 1899.3V1900.8M483.7 1903.8V1905.3M483.7 1915.8V1918.8M483.7 1920.3V1923.3M483.7 1938.4V1941.4M483.7 1950.4V1951.9M493.6 1709.9V1711.4M493.6 1731.0V1732.5M493.6 1740.0V1741.5M493.6 1764.0V1765.5M493.6 1774.6V1776.1M493.6 1783.6V1786.6M493.6 1797.1V1798.6M493.6 1800.1V1801.6M493.6 1806.1V1809.1M493.6 1812.1V1813.6M493.6 1821.1V1822.6M493.6 1828.7V1830.2M493.6 1834.7V1836.2M493.6 1842.2V1843.7M493.6 1857.2V1861.7M493.6 1866.2V1867.7M493.6 1869.2V1870.7M493.6 1875.2V1878.2M493.6 1881.3V1882.8M493.6 1896.3V1899.3M493.6 1900.8V1902.3M493.6 1905.3V1906.8M493.6 1908.3V1909.8M493.6 1923.3V1926.3M493.6 1930.8V1932.4M493.6 1938.4V1939.9M493.6 1941.4V1942.9M493.6 1944.4V1947.4M522.2 1885.5V1887.0M522.2 1904.9V1906.4M522.2 1934.9V1936.4M522.2 1960.3V1963.3M522.2 1970.8V1972.3M522.2 1987.4V1988.9M522.2 1991.9V1993.4M522.2 2007.0V2010.0M532.1 1903.4V1904.9M532.1 1918.4V1919.9M532.1 1922.9V1924.4M532.1 1927.4V1928.9M532.1 1930.4V1931.9M532.1 1946.8V1948.3M532.1 1955.8V1957.3M532.1 1987.4V1990.4M532.1 2017.5V2019.0M532.1 2025.0V2028.0M532.1 2031.1V2032.6M542.0 1683.3V1684.8M542.0 1693.8V1695.3M542.0 1698.3V1699.8M542.0 1729.7V1731.2M542.0 1737.2V1738.7M542.0 1741.7V1743.2M542.0 1746.2V1747.7M542.0 1774.7V1776.2M542.0 1804.6V1807.6M542.0 1819.6V1821.1M542.0 1834.6V1836.1M542.0 1845.1V1846.6M542.0 1855.5V1857.0M542.0 1864.5V1866.0M542.0 1878.0V1879.5M542.0 2050.7V2052.2M542.0 2056.8V2058.3M542.0 2067.5V2069.0M552.0 1680.3V1681.8M552.0 1683.3V1684.8M552.0 1695.3V1696.8M552.0 1701.3V1702.8M552.0 1704.3V1705.8M552.0 1713.2V1714.7M552.0 1720.7V1722.2M552.0 1723.7V1725.2M552.0 1735.7V1737.2M552.0 1740.2V1741.7M552.0 1743.2V1744.7M552.0 1752.2V1753.7M552.0 1771.7V1773.2M552.0 1795.6V1797.1M552.0 1816.6V1818.1M552.0 1846.6V1848.0M552.0 1851.0V1852.5M552.0 1860.0V1861.5M552.0 2041.6V2043.1M561.9 1683.3V1684.8M561.9 1686.3V1687.8M561.9 1690.8V1692.3M561.9 1696.8V1698.3M561.9 1701.3V1702.8M561.9 1731.2V1732.7M561.9 1738.7V1740.2M561.9 1755.2V1756.7M561.9 1764.2V1765.7M561.9 1777.7V1780.6M561.9 1789.6V1791.1M561.9 1813.6V1815.1M561.9 1825.6V1827.1M561.9 1842.1V1843.6M561.9 1864.5V1866.0M561.9 1875.0V1876.5M561.9 2050.7V2052.2M561.9 2069.0V2070.5M571.8 1681.8V1683.3M571.8 1698.3V1701.3M571.8 1734.2V1735.7M571.8 1744.7V1747.7M571.8 1755.2V1756.7M571.8 1761.2V1762.7M571.8 1806.1V1807.6M571.8 1830.1V1831.6M571.8 1842.1V1843.6M571.8 1855.5V1857.0M571.8 1863.0V1864.5M581.6 1891.5V1894.5M581.6 1899.0V1901.9M581.6 1922.9V1924.4M581.6 1946.8V1948.3M581.6 1949.8V1951.3M581.6 1955.8V1957.3M581.6 1961.8V1963.3M581.6 1993.4V1994.9M581.6 1996.4V1997.9M581.6 2029.6V2031.1M581.6 2034.1V2035.6M591.5 1818.1V1819.6M591.5 1909.4V1910.9M591.5 1912.4V1913.9M591.5 1933.4V1934.9M591.5 1936.4V1940.9M591.5 1952.8V1955.8M591.5 1957.3V1958.8M591.5 1963.3V1964.8M591.5 1979.9V1981.4M591.5 1997.9V1999.4M591.5 2011.5V2013.0M591.5 2019.0V2020.5M591.5 2034.1V2035.6M620.2 2022.3V2023.8M620.2 2032.8V2034.3M620.2 2038.9V2040.4M620.2 2041.9V2043.4M620.2 2053.9V2055.4M620.2 2056.9V2058.4M620.2 2069.0V2070.5M630.1 1899.2V1900.7M630.1 1939.7V1941.2M630.1 2037.4V2038.9M630.1 2041.9V2044.9M630.1 2046.4V2047.9M630.1 2053.9V2055.4M630.1 2061.5V2063.0M630.1 2067.5V2069.0M640.0 1780.9V1782.4M640.0 1804.8V1806.3M640.0 1818.3V1819.8M640.0 1845.3V1846.8M640.0 1851.3V1852.8M640.0 1860.3V1861.8M640.0 1864.8V1866.3M640.0 1888.7V1890.2M640.0 1893.2V1894.7M640.0 1900.7V1902.2M640.0 1905.2V1906.7M640.0 1908.2V1909.7M640.0 1911.2V1912.7M640.0 1917.2V1918.7M640.0 1920.2V1921.7M640.0 1923.2V1926.2M640.0 1936.7V1938.2M640.0 1951.6V1953.1M640.0 1965.1V1966.6M640.0 1972.6V1974.1M640.0 1975.6V1977.1M649.9 1768.9V1770.4M649.9 1786.9V1788.4M649.9 1810.8V1812.3M649.9 1837.8V1839.3M649.9 1845.3V1846.8M649.9 1855.8V1858.8M649.9 1885.7V1887.2M649.9 1888.7V1890.2M649.9 1908.2V1909.7M649.9 1930.7V1932.2M649.9 1933.7V1935.2M649.9 1942.7V1947.1M649.9 1963.6V1965.1M659.8 2058.4V2060.0M659.8 2066.0V2070.5M669.7 1866.3V1867.8M669.7 2016.3V2017.8M669.7 2019.3V2020.8M669.7 2041.9V2047.9M669.7 2056.9V2058.4M679.6 1782.4V1783.9M679.6 1788.4V1789.9M679.6 1795.8V1797.3M679.6 1807.8V1809.3M679.6 1813.8V1815.3M679.6 1861.8V1864.8M679.6 1884.2V1885.7M679.6 1890.2V1891.7M679.6 1893.2V1894.7M679.6 1897.7V1899.2M679.6 1902.2V1903.7M679.6 1908.2V1912.7M679.6 1915.7V1917.2M679.6 1933.7V1935.2M679.6 1941.2V1944.1M679.6 1951.6V1953.1M679.6 1960.6V1969.6M679.6 1980.1V1981.6M689.5 1759.9V1761.4M689.5 1791.4V1792.9M689.5 1794.3V1795.8M689.5 1800.3V1801.8M689.5 1804.8V1806.3M689.5 1810.8V1812.3M689.5 1816.8V1818.3M689.5 1825.8V1827.3M689.5 1830.3V1831.8M689.5 1839.3V1840.8M689.5 1845.3V1846.8M689.5 1866.3V1867.8M689.5 1869.2V1872.2M689.5 1884.2V1888.7M689.5 1893.2V1896.2M689.5 1905.2V1908.2M689.5 1912.7V1915.7M689.5 1917.2V1918.7M689.5 1927.7V1930.7M689.5 1933.7V1935.2M689.5 1938.2V1939.7M689.5 1944.1V1945.6M689.5 1948.6V1950.1M689.5 1954.6V1956.1M689.5 1959.1V1963.6M689.5 1965.1V1969.6M689.5 1971.1V1972.6M689.5 1980.1V1981.6M689.5 2067.5V2069.0M718.2 1739.2V1740.7M718.2 1746.7V1751.2M718.2 1755.7V1757.2M718.2 1775.3V1776.8M718.2 1784.3V1785.8M718.2 1817.3V1818.8M718.2 1848.9V1850.4M718.2 1854.9V1856.4M718.2 1868.4V1869.9M718.2 1872.9V1875.9M718.2 1883.5V1885.0M718.2 1894.0V1895.5M718.2 1907.5V1909.0M718.2 2035.9V2037.4M718.2 2038.9V2040.4M718.2 2046.4V2047.9M718.2 2054.0V2055.5M718.2 2057.0V2058.5M718.2 2060.0V2061.5M718.2 2067.5V2069.0M728.1 1737.7V1739.2M728.1 1746.7V1748.2M728.1 1766.3V1767.8M728.1 1775.3V1776.8M728.1 1782.8V1784.3M728.1 1805.3V1808.3M728.1 1811.3V1812.8M728.1 1815.8V1817.3M728.1 2069.0V2070.5M738.0 1918.0V1919.5M738.0 1934.6V1936.1M738.0 1976.7V1978.2M738.0 1984.2V1985.7M738.0 2005.5V2007.0M738.0 2023.7V2025.2M747.9 1836.9V1838.4M747.9 1913.5V1916.5M747.9 1939.1V1940.6M747.9 1948.1V1949.6M747.9 2017.6V2019.2M747.9 2029.8V2031.3M757.8 1739.2V1740.7M757.8 1748.2V1749.7M757.8 1754.2V1755.7M757.8 1760.2V1763.2M757.8 1766.3V1767.8M757.8 1776.8V1778.3M757.8 1782.8V1784.3M757.8 1790.3V1791.8M757.8 1794.8V1796.3M757.8 1802.3V1803.8M757.8 1875.9V1877.4M757.8 1878.9V1880.4M757.8 1982.7V1984.2M757.8 2049.4V2050.9M757.8 2055.5V2057.0M757.8 2064.5V2066.0M767.7 1736.2V1739.2M767.7 1760.2V1761.7M767.7 1763.2V1766.3M767.7 1770.8V1772.3M767.7 1773.8V1775.3M767.7 1776.8V1781.3M767.7 1788.8V1790.3M767.7 1796.3V1800.8M767.7 1806.8V1808.3M767.7 1812.8V1814.3M767.7 1817.3V1818.8M767.7 1820.3V1821.8M767.7 1824.9V1826.4M767.7 1862.4V1863.9M767.7 1875.9V1877.4M767.7 1894.0V1895.5M767.7 2049.4V2050.9M777.6 1913.5V1915.0M777.6 1928.5V1930.0M777.6 1936.1V1939.1M777.6 1940.6V1942.1M777.6 1960.1V1961.6M777.6 1973.7V1975.2M777.6 1979.7V1982.7M787.5 1901.5V1903.0M787.5 1913.5V1916.5M787.5 1928.5V1931.6M787.5 1952.6V1954.1M787.5 1961.6V1963.1M787.5 1979.7V1981.2M787.5 1997.9V2000.9M787.5 2005.5V2007.0M787.5 2028.3V2029.8M816.1 1845.1V1846.6M816.1 1908.0V1909.5M826.0 1803.2V1804.7M826.0 1827.1V1828.6M826.0 1855.6V1857.1M826.0 1878.1V1879.6M826.0 1888.5V1890.0M826.0 1899.0V1900.5M826.0 2064.5V2066.0M826.0 2069.0V2070.5M835.9 1810.7V1812.2M835.9 1818.2V1819.7M835.9 1830.1V1831.6M835.9 1845.1V1846.6M835.9 1848.1V1849.6M835.9 1851.1V1854.1M835.9 1885.5V1887.0M835.9 1891.5V1893.0M835.9 1903.5V1905.0M835.9 2063.1V2064.5M845.8 1803.2V1804.7M845.8 1810.7V1812.2M845.8 1816.7V1818.2M845.8 1819.7V1821.2M845.8 1864.6V1866.1M845.8 1878.1V1879.6M845.8 1890.0V1891.5M845.8 1894.5V1896.0M845.8 2058.6V2060.1M855.7 1960.9V1962.4M855.7 1991.2V1992.7M855.7 1995.7V1997.2M865.6 1917.0V1918.6M865.6 1923.1V1924.6M865.6 1926.1V1927.6M865.6 1944.3V1947.3M865.6 1965.5V1968.5M865.6 2004.7V2009.2M865.6 2018.2V2019.7M875.5 1896.0V1897.5M875.5 1903.5V1905.0M875.5 1938.2V1939.7M875.5 1967.0V1968.5M875.5 1979.1V1980.6M875.5 2000.2V2001.7M875.5 2004.7V2006.2M875.5 2007.7V2009.2M875.5 2030.1V2031.6M875.5 2034.6V2036.1M875.5 2037.6V2039.1M875.5 2040.6V2042.1M885.4 1911.0V1914.0M885.4 1926.1V1927.6M885.4 1939.7V1941.2M885.4 1948.8V1950.3M885.4 1954.9V1956.4M885.4 1986.6V1988.1M885.4 2007.7V2009.2M885.4 2018.2V2019.7M885.4 2025.7V2028.6M885.4 2033.1V2034.6M885.4 2039.1V2040.6M914.1 1879.5V1881.0M914.1 1882.5V1884.0M914.1 1924.6V1926.1M914.1 1954.6V1957.6M914.1 1960.6V1962.1M914.1 1972.7V1974.2M914.1 1978.7V1980.2M914.1 1993.7V1996.7M924.0 1896.0V1897.5M924.0 1908.0V1909.5M924.0 1915.6V1917.1M924.0 1926.1V1927.6M924.0 1930.6V1932.1M924.0 1933.6V1935.1M924.0 1936.6V1938.1M924.0 1942.6V1944.1M924.0 1950.1V1951.6M924.0 1957.6V1959.1M924.0 1965.1V1966.6M924.0 1969.6V1971.2M924.0 1975.7V1977.2M924.0 1981.7V1983.2M924.0 1989.2V1992.2M933.9 1957.6V1959.1M933.9 1986.2V1987.7M933.9 2026.8V2028.3M933.9 2037.4V2038.9M933.9 2040.4V2041.9M933.9 2050.9V2052.4M933.9 2067.5V2070.5M943.8 2044.9V2046.4M943.8 2049.4V2050.9M943.8 2055.4V2056.9M943.8 2058.4V2060.0M953.7 1971.2V1972.7M953.7 2031.3V2032.8M953.7 2040.4V2043.4M953.7 2050.9V2052.4M953.7 2067.5V2069.0M963.6 1962.1V1963.6M963.6 2038.9V2040.4M963.6 2069.0V2070.5M973.5 1899.0V1900.5M973.5 1923.1V1926.1M973.5 1927.6V1929.1M973.5 1938.1V1939.6M973.5 1942.6V1945.6M973.5 1957.6V1959.1M973.5 1960.6V1962.1M973.5 1963.6V1965.1M973.5 1974.2V1975.7M973.5 1981.7V1983.2M973.5 1987.7V1989.2M973.5 1990.7V1992.2M983.4 1903.5V1905.0M983.4 1908.0V1909.5M983.4 1926.1V1927.6M983.4 1948.6V1950.1M983.4 1951.6V1953.1M983.4 1960.6V1962.1M983.4 1969.6V1975.7M983.4 1977.2V1980.2M1012.0 2005.5V2007.0M1012.0 2011.6V2013.1M1012.0 2016.1V2017.6M1012.0 2023.7V2025.2M1021.9 2004.0V2005.5M1021.9 2007.0V2008.5M1021.9 2052.4V2053.9M1071.4 2064.5V2067.5M1119.9 2012.4V2013.9M1119.9 2018.3V2019.8M1119.9 2025.7V2027.1M1129.8 2031.6V2033.0M1129.8 2037.5V2040.5M1129.8 2042.0V2043.5M1139.7 2028.6V2030.1M1149.5 2037.5V2039.0M1149.5 2051.0V2052.5M1149.5 2055.5V2057.0M1159.5 2021.3V2022.7M1207.9 2054.4V2055.8M1217.8 2051.6V2053.0M1217.8 2066.0V2067.5M1227.7 2026.3V2027.8M1227.7 2039.7V2041.2M1227.7 2044.2V2045.7M1267.3 2033.7V2035.2M1267.3 2044.2V2045.7M1267.3 2058.6V2060.0M1305.9 2038.9V2040.4M1305.9 2044.8V2046.3M1315.8 2025.2V2026.8M1345.5 2022.1V2023.7M1345.5 2049.2V2050.7M1355.4 2029.8V2031.4M1355.4 2052.2V2053.7M1365.3 2022.1V2023.7M1403.8 2060.0V2061.5M1413.7 2033.1V2034.6M1413.7 2049.5V2051.0M1413.7 2058.5V2060.0M1423.6 2051.0V2052.5M1433.5 2027.1V2028.6M1433.5 2045.0V2046.5M1443.4 2063.0V2064.5M1443.4 2066.0V2067.5M1453.3 2024.1V2025.6M1453.3 2040.5V2042.0M1453.3 2045.0V2046.5M1453.3 2067.5V2069.0M1463.2 2063.0V2064.5M1473.1 2031.6V2033.1M1473.1 2069.0V2070.5"/>
<path stroke="#271F0F" d="M326.3 1593.5V1596.5M326.3 1653.5V1655.0M326.3 1692.5V1694.0M326.3 1820.3V1821.8M326.3 1844.2V1845.7M326.3 1907.0V1908.5M336.2 1586.0V1587.5M336.2 1629.5V1631.0M336.2 1641.5V1643.0M336.2 1653.5V1655.0M336.2 1680.5V1682.0M336.2 1713.5V1715.0M336.2 1878.6V1880.1M336.2 1907.0V1908.5M346.1 1349.4V1350.9M346.1 1356.9V1358.4M346.1 1377.9V1379.4M346.1 1389.8V1391.3M346.1 1398.8V1400.3M346.1 1404.8V1406.3M346.1 1410.8V1412.3M346.1 1419.8V1421.3M346.1 1439.2V1442.2M346.1 1449.7V1451.2M346.1 1506.6V1508.1M346.1 1514.1V1515.6M346.1 1524.6V1526.1M346.1 1527.6V1529.1M346.1 1845.7V1847.2M346.1 1871.1V1872.6M346.1 1893.6V1895.1M346.1 2066.0V2067.5M356.0 1328.5V1331.5M356.0 1365.9V1367.4M356.0 1389.8V1391.3M356.0 1424.3V1425.8M356.0 1436.3V1437.7M356.0 1448.2V1449.7M356.0 1481.2V1482.7M356.0 1532.1V1533.6M356.0 1542.5V1544.0M356.0 1548.5V1550.0M356.0 1898.0V1899.5M356.0 2049.6V2051.1M365.9 931.4V932.9M365.9 938.9V940.4M365.9 994.3V995.8M365.9 1316.5V1318.0M365.9 1331.5V1333.0M365.9 1337.5V1339.0M365.9 1341.9V1343.4M365.9 1362.9V1364.4M365.9 1370.4V1371.9M365.9 1373.4V1374.9M365.9 1400.3V1401.8M365.9 1430.3V1431.8M365.9 1437.7V1439.2M365.9 1455.7V1457.2M365.9 1479.7V1481.2M365.9 1529.1V1530.6M365.9 1551.5V1554.5M365.9 1599.5V1601.0M365.9 1625.0V1626.5M365.9 1683.5V1685.0M365.9 1692.5V1694.0M365.9 1712.0V1713.5M365.9 1715.0V1716.5M365.9 2061.5V2063.0M365.9 2066.0V2067.5M375.8 922.4V923.9M375.8 1343.4V1344.9M375.8 1347.9V1349.4M375.8 1367.4V1368.9M375.8 1389.8V1391.3M375.8 1401.8V1403.3M375.8 1415.3V1416.8M375.8 1418.3V1419.8M375.8 1422.8V1424.3M375.8 1427.3V1428.8M375.8 1466.2V1469.2M375.8 1481.2V1482.7M375.8 1497.6V1500.6M375.8 1521.6V1523.1M375.8 1550.0V1551.5M375.8 1620.5V1622.0M375.8 1667.0V1668.5M375.8 1670.0V1671.5M375.8 1695.5V1697.0M375.8 1701.5V1703.0M375.8 1709.0V1710.5M385.7 1653.5V1655.0M385.7 1724.0V1725.5M385.7 1887.6V1889.1M385.7 1978.6V1980.1M395.6 1542.5V1544.0M395.6 1730.0V1731.6M395.6 1823.3V1824.8M395.6 1872.6V1874.1M424.3 1927.8V1929.3M424.3 1939.9V1941.4M424.3 2025.5V2027.0M424.3 2031.5V2033.0M424.3 2037.5V2039.0M424.3 2040.5V2042.0M424.3 2048.0V2049.5M424.3 2069.0V2070.5M434.2 1899.3V1900.8M434.2 1954.9V1956.4M434.2 2015.0V2016.5M434.2 2030.0V2033.0M444.1 2016.5V2018.0M444.1 2037.5V2039.0M444.1 2043.5V2045.0M444.1 2048.0V2049.5M444.1 2054.0V2055.5M444.1 2061.5V2063.0M454.0 1842.2V1843.7M454.0 1896.3V1897.8M454.0 1930.8V1932.4M454.0 1995.4V1996.9M454.0 2042.0V2043.5M454.0 2060.0V2061.5M454.0 2063.0V2064.5M454.0 2067.5V2069.0M463.9 1734.0V1735.5M463.9 1749.0V1752.0M463.9 1755.0V1756.5M463.9 1773.1V1774.6M463.9 1782.1V1783.6M463.9 1804.6V1806.1M463.9 1893.3V1894.8M463.9 1897.8V1899.3M463.9 1900.8V1902.3M463.9 1924.8V1926.3M463.9 1935.4V1938.4M463.9 1944.4V1947.4M463.9 1948.9V1950.4M463.9 1951.9V1953.4M463.9 1954.9V1956.4M473.8 1746.0V1747.5M473.8 1749.0V1750.5M473.8 1809.1V1812.1M473.8 1821.1V1822.6M473.8 1830.2V1831.7M473.8 1837.7V1839.2M473.8 1842.2V1843.7M473.8 1846.7V1848.2M473.8 1872.2V1873.7M473.8 1876.7V1878.2M473.8 1894.8V1897.8M473.8 1920.3V1921.8M473.8 1926.3V1927.8M473.8 1932.4V1935.4M473.8 1945.9V1947.4M473.8 1948.9V1950.4M473.8 1956.4V1957.9M473.8 2064.5V2066.0M483.7 1758.0V1759.5M483.7 1812.1V1813.6M483.7 1819.6V1821.1M483.7 1857.2V1858.7M483.7 1873.7V1875.2M483.7 1878.2V1879.8M483.7 1884.3V1887.3M483.7 1888.8V1890.3M483.7 1891.8V1893.3M483.7 1894.8V1896.3M483.7 1897.8V1899.3M483.7 1905.3V1906.8M483.7 1908.3V1909.8M483.7 1929.3V1932.4M483.7 1942.9V1944.4M483.7 1947.4V1948.9M483.7 1954.9V1956.4M493.6 1833.2V1834.7M493.6 1839.2V1842.2M493.6 1843.7V1845.2M493.6 1851.2V1852.7M493.6 1884.3V1887.3M493.6 1888.8V1890.3M493.6 1899.3V1900.8M493.6 1917.3V1923.3M493.6 1936.9V1938.4M493.6 1939.9V1941.4M493.6 1948.9V1950.4M493.6 1953.4V1956.4M493.6 2066.0V2067.5M522.2 1884.0V1885.5M522.2 1887.0V1888.5M522.2 1891.5V1893.0M522.2 1894.5V1896.0M522.2 1899.0V1901.9M522.2 1921.4V1922.9M522.2 1945.3V1946.8M522.2 1954.3V1955.8M522.2 1964.8V1967.8M522.2 1996.4V1999.4M522.2 2035.6V2037.1M522.2 2040.1V2041.6M532.1 1881.0V1882.5M532.1 1885.5V1888.5M532.1 1893.0V1894.5M532.1 1906.4V1907.9M532.1 1913.9V1915.4M532.1 1948.3V1949.8M532.1 1954.3V1955.8M532.1 1969.3V1972.3M532.1 1973.8V1975.3M532.1 1978.4V1979.9M532.1 1997.9V1999.4M532.1 2013.0V2014.5M532.1 2023.5V2025.0M542.0 1678.8V1680.3M542.0 1701.3V1702.8M542.0 1705.8V1707.3M542.0 1708.8V1711.8M542.0 1720.7V1722.2M542.0 1749.2V1750.7M542.0 1752.2V1753.7M542.0 1761.2V1762.7M542.0 1768.7V1770.2M542.0 1803.1V1804.6M542.0 1816.6V1818.1M542.0 1831.6V1833.1M542.0 1837.6V1839.1M542.0 1842.1V1843.6M542.0 1860.0V1861.5M542.0 2041.6V2043.1M542.0 2046.2V2050.7M542.0 2059.9V2061.4M552.0 1689.3V1690.8M552.0 1699.8V1701.3M552.0 1708.8V1710.3M552.0 1714.7V1716.2M552.0 1732.7V1734.2M552.0 1737.2V1738.7M552.0 1744.7V1746.2M552.0 1782.1V1783.6M552.0 1813.6V1815.1M552.0 1818.1V1819.6M552.0 1834.6V1836.1M561.9 1681.8V1683.3M561.9 1725.2V1726.7M561.9 1732.7V1734.2M561.9 1770.2V1771.7M561.9 1795.6V1797.1M561.9 1798.6V1800.1M561.9 1804.6V1806.1M561.9 1809.1V1810.6M561.9 1815.1V1816.6M561.9 1821.1V1822.6M561.9 1828.6V1830.1M561.9 1834.6V1836.1M561.9 1839.1V1840.6M561.9 1843.6V1845.1M561.9 1860.0V1861.5M571.8 1687.8V1689.3M571.8 1693.8V1695.3M571.8 1711.8V1713.2M571.8 1729.7V1731.2M571.8 1732.7V1734.2M571.8 1750.7V1752.2M571.8 1759.7V1761.2M571.8 1765.7V1767.2M571.8 1785.1V1786.6M571.8 1792.6V1794.1M571.8 1807.6V1809.1M571.8 1813.6V1815.1M571.8 1831.6V1833.1M571.8 1840.6V1842.1M571.8 1851.0V1852.5M571.8 1854.0V1855.5M571.8 1873.5V1875.0M571.8 2053.8V2055.3M581.6 1881.0V1882.5M581.6 1887.0V1888.5M581.6 1894.5V1897.5M581.6 1903.4V1906.4M581.6 1910.9V1913.9M581.6 1937.9V1939.4M581.6 1942.4V1943.8M581.6 1951.3V1954.3M581.6 1957.3V1960.3M581.6 1963.3V1964.8M581.6 1966.3V1967.8M581.6 1975.3V1976.9M581.6 1990.4V1991.9M581.6 1999.4V2000.9M581.6 2007.0V2008.5M581.6 2010.0V2011.5M581.6 2016.0V2017.5M581.6 2023.5V2025.0M591.5 1885.5V1887.0M591.5 1915.4V1916.9M591.5 1930.4V1931.9M591.5 1945.3V1946.8M591.5 1955.8V1957.3M591.5 1960.3V1961.8M591.5 1964.8V1966.3M591.5 1982.9V1987.4M591.5 1990.4V1991.9M591.5 1996.4V1997.9M591.5 1999.4V2000.9M591.5 2016.0V2017.5M591.5 2029.6V2031.1M620.2 1794.3V1795.8M620.2 1914.2V1915.7M620.2 2050.9V2052.4M620.2 2055.4V2056.9M620.2 2066.0V2067.5M630.1 1840.8V1842.3M630.1 2028.3V2029.8M630.1 2069.0V2070.5M640.0 1800.3V1801.8M640.0 1825.8V1827.3M640.0 1849.8V1851.3M640.0 1852.8V1854.3M640.0 1857.3V1858.8M640.0 1867.8V1869.2M640.0 1885.7V1888.7M640.0 1891.7V1893.2M640.0 1897.7V1899.2M640.0 1909.7V1911.2M640.0 1914.2V1917.2M640.0 1918.7V1920.2M640.0 1939.7V1941.2M640.0 1944.1V1945.6M640.0 1960.6V1962.1M640.0 1966.6V1968.1M640.0 1978.6V1980.1M649.9 1794.3V1795.8M649.9 1830.3V1831.8M649.9 1860.3V1863.3M649.9 1876.7V1878.2M649.9 1887.2V1888.7M649.9 1893.2V1894.7M649.9 1900.7V1902.2M649.9 1903.7V1906.7M649.9 1909.7V1911.2M649.9 1914.2V1915.7M649.9 1918.7V1920.2M649.9 1932.2V1933.7M649.9 1936.7V1938.2M649.9 1960.6V1962.1M649.9 1965.1V1971.1M649.9 1972.6V1974.1M649.9 1975.6V1981.6M659.8 1861.8V1863.3M659.8 1938.2V1939.7M659.8 1959.1V1960.6M659.8 2038.9V2044.9M659.8 2056.9V2058.4M669.7 1855.8V1857.3M669.7 1891.7V1893.2M669.7 1915.7V1917.2M669.7 1930.7V1932.2M669.7 1944.1V1945.6M669.7 1959.1V1960.6M669.7 1966.6V1968.1M669.7 2038.9V2040.4M669.7 2063.0V2064.5M669.7 2066.0V2067.5M679.6 1821.3V1822.8M679.6 1827.3V1828.8M679.6 1849.8V1851.3M679.6 1858.8V1860.3M679.6 1869.2V1870.7M679.6 1879.7V1881.2M679.6 1894.7V1896.2M679.6 1920.2V1921.7M679.6 1926.2V1927.7M679.6 1930.7V1932.2M679.6 1935.2V1936.7M679.6 1944.1V1945.6M679.6 1947.1V1948.6M679.6 1950.1V1951.6M679.6 1953.1V1954.6M679.6 1959.1V1960.6M679.6 1977.1V1978.6M689.5 1821.3V1822.8M689.5 1900.7V1902.2M689.5 1909.7V1911.2M689.5 1915.7V1917.2M689.5 1923.2V1924.7M689.5 1926.2V1927.7M689.5 1935.2V1936.7M689.5 1941.2V1942.7M689.5 1956.1V1957.6M689.5 1963.6V1965.1M689.5 1977.1V1978.6M718.2 1752.7V1754.2M718.2 1766.3V1767.8M718.2 1809.8V1811.3M718.2 1814.3V1815.8M718.2 1832.4V1833.9M718.2 1839.9V1842.9M718.2 1844.4V1845.9M718.2 1860.9V1862.4M718.2 1900.0V1901.5M718.2 1909.0V1910.5M718.2 2044.9V2046.4M718.2 2063.0V2066.0M728.1 1752.7V1755.7M728.1 1770.8V1772.3M728.1 1773.8V1775.3M728.1 1781.3V1782.8M728.1 1787.3V1788.8M728.1 1790.3V1791.8M728.1 1812.8V1814.3M728.1 1817.3V1818.8M728.1 1829.4V1830.9M728.1 1839.9V1841.4M728.1 1853.4V1854.9M728.1 1862.4V1865.4M728.1 1888.0V1889.5M728.1 1897.0V1898.5M728.1 2055.5V2057.0M728.1 2058.5V2061.5M738.0 1912.0V1915.0M738.0 1916.5V1918.0M738.0 1922.5V1924.0M738.0 1930.0V1931.6M738.0 1937.6V1939.1M738.0 1940.6V1943.6M738.0 1954.1V1955.6M738.0 1969.2V1970.7M738.0 1985.7V1987.2M738.0 1996.3V1997.9M738.0 2000.9V2002.4M738.0 2010.0V2011.6M738.0 2022.2V2023.7M738.0 2028.3V2029.8M747.9 1874.4V1875.9M747.9 1922.5V1924.0M747.9 1933.1V1934.6M747.9 1943.6V1945.1M747.9 1949.6V1951.1M747.9 1952.6V1955.6M747.9 1957.1V1960.1M747.9 1963.1V1966.1M747.9 1973.7V1975.2M747.9 1978.2V1979.7M747.9 1984.2V1985.7M747.9 1987.2V1988.7M747.9 1991.8V1993.3M747.9 2002.4V2003.9M747.9 2005.5V2007.0M757.8 1746.7V1748.2M757.8 1772.3V1773.8M757.8 1778.3V1779.8M757.8 1784.3V1785.8M757.8 1809.8V1811.3M757.8 1812.8V1814.3M757.8 1826.4V1827.9M757.8 1841.4V1844.4M757.8 1847.4V1848.9M757.8 1862.4V1863.9M757.8 1871.4V1872.9M757.8 1880.4V1881.9M757.8 2035.9V2037.4M757.8 2046.4V2047.9M757.8 2054.0V2055.5M757.8 2061.5V2063.0M757.8 2067.5V2070.5M767.7 1743.7V1745.2M767.7 1754.2V1755.7M767.7 1766.3V1767.8M767.7 1785.8V1787.3M767.7 1835.4V1836.9M767.7 1841.4V1842.9M767.7 1850.4V1851.9M767.7 1853.4V1854.9M767.7 1881.9V1883.5M767.7 1898.5V1900.0M767.7 1901.5V1904.5M767.7 1909.0V1910.5M767.7 2038.9V2040.4M767.7 2044.9V2047.9M767.7 2057.0V2058.5M767.7 2061.5V2063.0M767.7 2064.5V2066.0M777.6 1916.5V1918.0M777.6 1921.0V1922.5M777.6 1952.6V1955.6M777.6 1978.2V1979.7M777.6 1990.2V1991.8M777.6 1997.9V1999.4M777.6 2005.5V2007.0M777.6 2019.2V2020.7M777.6 2031.3V2032.9M787.5 1937.6V1939.1M787.5 1940.6V1942.1M787.5 1960.1V1961.6M787.5 1964.6V1969.2M787.5 1984.2V1985.7M787.5 1991.8V1994.8M787.5 2010.0V2011.6M787.5 2013.1V2014.6M787.5 2017.6V2019.2M816.1 1834.6V1836.1M816.1 1851.1V1852.6M816.1 1861.6V1864.6M816.1 1896.0V1897.5M816.1 1903.5V1905.0M816.1 2064.5V2066.0M816.1 2069.0V2070.5M826.0 1797.2V1798.7M826.0 1800.2V1801.7M826.0 1810.7V1812.2M826.0 1833.1V1834.6M826.0 1839.1V1840.6M826.0 1843.6V1845.1M826.0 1846.6V1848.1M826.0 1896.0V1897.5M826.0 1903.5V1905.0M826.0 2058.6V2060.1M835.9 1800.2V1801.7M835.9 1812.2V1813.7M835.9 1819.7V1821.2M835.9 1827.1V1828.6M835.9 1857.1V1860.1M835.9 1864.6V1866.1M835.9 1878.1V1879.6M835.9 1882.5V1884.0M835.9 1893.0V1894.5M835.9 1905.0V1906.5M835.9 2057.1V2058.6M845.8 1833.1V1834.6M845.8 1848.1V1849.6M845.8 1869.1V1870.6M845.8 1897.5V1899.0M845.8 1908.0V1909.5M845.8 2060.1V2061.6M845.8 2063.1V2064.5M845.8 2066.0V2069.0M855.7 1936.7V1938.2M855.7 1941.2V1944.3M855.7 1973.0V1974.5M855.7 1977.5V1979.1M855.7 1992.7V1994.2M855.7 2007.7V2009.2M855.7 2018.2V2019.7M855.7 2021.2V2022.7M855.7 2054.1V2055.6M865.6 1927.6V1929.2M865.6 1936.7V1938.2M865.6 1942.8V1944.3M865.6 1991.2V1992.7M865.6 2013.7V2015.2M865.6 2021.2V2022.7M865.6 2028.6V2030.1M865.6 2033.1V2034.6M875.5 1912.5V1914.0M875.5 1923.1V1924.6M875.5 1930.7V1932.2M875.5 1962.4V1963.9M875.5 2003.2V2004.7M875.5 2013.7V2016.7M875.5 2021.2V2022.7M875.5 2039.1V2040.6M875.5 2043.6V2045.1M875.5 2051.1V2052.6M885.4 1900.5V1902.0M885.4 1905.0V1906.5M885.4 1917.0V1918.6M885.4 1923.1V1924.6M885.4 1927.6V1929.2M885.4 1933.7V1935.2M885.4 1945.8V1947.3M885.4 1960.9V1962.4M885.4 1982.1V1985.1M885.4 1988.1V1989.7M885.4 1991.2V1992.7M885.4 2049.6V2051.1M885.4 2052.6V2054.1M885.4 2055.6V2057.1M914.1 1902.0V1903.5M914.1 1905.0V1906.5M914.1 1920.1V1921.6M914.1 1923.1V1924.6M914.1 1929.1V1932.1M914.1 1933.6V1935.1M914.1 1938.1V1939.6M914.1 1942.6V1944.1M914.1 1959.1V1960.6M914.1 1969.6V1971.2M914.1 1986.2V1987.7M914.1 1989.2V1992.2M914.1 1996.7V1998.2M924.0 1939.6V1942.6M924.0 1948.6V1950.1M924.0 1956.1V1957.6M924.0 1966.6V1968.1M924.0 1972.7V1974.2M924.0 1980.2V1981.7M933.9 1909.5V1911.0M933.9 1977.2V1978.7M933.9 1983.2V1984.7M933.9 2058.4V2060.0M933.9 2066.0V2067.5M943.8 2067.5V2069.0M953.7 2064.5V2066.0M963.6 1993.7V1995.2M963.6 2047.9V2049.4M963.6 2055.4V2056.9M963.6 2058.4V2060.0M973.5 1906.5V1908.0M973.5 1914.1V1915.6M973.5 1933.6V1935.1M973.5 1953.1V1954.6M973.5 1975.7V1977.2M973.5 1978.7V1980.2M983.4 1899.0V1900.5M983.4 1933.6V1935.1M983.4 1944.1V1947.1M983.4 1957.6V1959.1M983.4 1963.6V1965.1M983.4 1980.2V1981.7M983.4 1984.7V1986.2M983.4 1987.7V1992.2M983.4 1996.7V1998.2M1012.0 2007.0V2010.0M1012.0 2020.6V2022.2M1012.0 2031.2V2032.7M1012.0 2041.8V2043.3M1012.0 2050.9V2053.9M1012.0 2063.0V2064.5M1021.9 2008.5V2010.0M1021.9 2023.7V2025.2M1021.9 2026.7V2028.2M1021.9 2029.7V2031.2M1021.9 2041.8V2043.3M1021.9 2050.9V2052.4M1031.8 2058.4V2060.0M1110.0 2063.0V2064.5M1129.8 2034.5V2036.0M1129.8 2058.5V2060.0M1139.7 2021.3V2022.7M1149.5 2013.9V2015.4M1149.5 2039.0V2040.5M1149.5 2048.0V2049.5M1149.5 2064.5V2066.0M1159.5 2022.7V2024.2M1169.4 2011.0V2012.4M1169.4 2018.3V2019.8M1169.4 2031.6V2033.0M1217.8 2047.2V2048.7M1227.7 2014.3V2015.8M1227.7 2021.8V2023.3M1227.7 2041.2V2042.7M1227.7 2047.2V2048.7M1227.7 2063.0V2064.5M1257.4 2066.0V2067.5M1267.3 2045.7V2047.2M1267.3 2048.7V2050.2M1277.2 2055.8V2057.2M1305.9 2041.9V2043.3M1325.7 2043.3V2044.8M1345.5 2020.5V2022.1M1345.5 2041.9V2043.3M1345.5 2053.7V2055.2M1355.4 2036.0V2037.5M1355.4 2038.9V2040.4M1355.4 2041.9V2043.3M1355.4 2047.8V2049.2M1365.3 2031.4V2033.0M1365.3 2065.6V2067.2M1375.2 2038.9V2040.4M1403.8 2045.0V2048.0M1403.8 2055.5V2057.0M1413.7 2034.6V2037.5M1413.7 2040.5V2042.0M1413.7 2043.5V2045.0M1413.7 2046.5V2048.0M1413.7 2067.5V2069.0M1423.6 2034.6V2036.1M1443.4 2030.1V2031.6M1443.4 2048.0V2049.5M1443.4 2052.5V2054.0M1453.3 2037.5V2039.0M1463.2 2046.5V2048.0M1463.2 2052.5V2054.0M1473.1 2039.0V2040.5"/>
<path stroke="#E79B15" d="M326.3 1614.5V1616.0M326.3 1625.0V1626.5M326.3 1635.5V1637.0M326.3 1667.0V1668.5M326.3 1677.5V1679.0M326.3 1695.5V1697.0M326.3 1809.9V1811.4M326.3 1835.3V1836.8M326.3 1841.3V1842.8M326.3 1848.7V1850.2M326.3 1856.2V1859.2M326.3 1860.7V1862.2M326.3 1866.7V1868.2M326.3 2067.5V2069.0M336.2 1577.0V1578.5M336.2 1620.5V1622.0M336.2 1650.5V1653.5M336.2 1655.0V1656.5M336.2 1671.5V1673.0M336.2 1677.5V1679.0M336.2 1697.0V1698.5M336.2 1814.4V1815.9M336.2 1817.3V1818.8M336.2 1824.8V1826.3M336.2 1862.2V1863.7M336.2 1877.1V1878.6M336.2 2064.5V2067.5M346.1 1391.3V1392.8M346.1 1425.8V1427.3M346.1 1452.7V1454.2M346.1 1553.0V1554.5M346.1 1802.4V1803.9M346.1 1851.7V1853.2M346.1 1874.1V1875.6M346.1 1892.1V1893.6M346.1 2055.6V2057.1M356.0 1316.5V1318.0M356.0 1324.0V1325.5M356.0 1370.4V1371.9M356.0 1377.9V1379.4M356.0 1385.4V1388.3M356.0 1398.8V1400.3M356.0 1412.3V1413.8M356.0 1421.3V1424.3M356.0 1431.8V1433.3M356.0 1451.2V1452.7M356.0 1494.6V1496.1M356.0 1512.6V1514.1M356.0 1818.8V1820.3M356.0 1827.8V1829.3M356.0 1830.8V1833.8M356.0 1847.2V1848.7M356.0 1854.7V1856.2M356.0 1884.6V1886.1M356.0 1890.6V1892.1M356.0 2064.5V2066.0M365.9 1380.9V1382.4M365.9 1394.3V1395.8M365.9 1451.2V1452.7M365.9 1473.7V1475.2M365.9 1476.7V1478.2M365.9 1527.6V1529.1M365.9 1562.0V1563.5M365.9 1568.0V1569.5M365.9 1572.5V1574.0M365.9 1575.5V1577.0M365.9 1602.5V1604.0M365.9 1605.5V1607.0M365.9 1623.5V1625.0M365.9 1628.0V1629.5M365.9 1637.0V1638.5M365.9 1643.0V1644.5M365.9 1646.0V1647.5M365.9 1677.5V1679.0M365.9 1689.5V1691.0M375.8 943.4V944.9M375.8 1318.0V1319.5M375.8 1376.4V1377.9M375.8 1398.8V1400.3M375.8 1406.3V1407.8M375.8 1421.3V1422.8M375.8 1452.7V1454.2M375.8 1457.2V1458.7M375.8 1476.7V1478.2M375.8 1503.6V1505.1M375.8 1535.0V1536.5M375.8 1563.5V1565.0M375.8 1626.5V1628.0M375.8 1629.5V1631.0M375.8 1640.0V1643.0M375.8 1662.5V1664.0M375.8 1673.0V1674.5M375.8 1700.0V1701.5M375.8 2063.0V2064.5M385.7 1211.6V1214.6M385.7 1231.1V1232.6M385.7 1252.1V1253.6M385.7 1259.6V1262.6M385.7 1277.5V1279.0M385.7 1280.5V1282.0M385.7 1283.5V1285.0M385.7 1288.0V1289.5M385.7 1291.0V1294.0M385.7 1295.5V1297.0M385.7 1301.5V1303.0M385.7 1304.5V1307.5M385.7 1310.5V1312.0M385.7 1325.5V1327.0M385.7 1339.0V1340.4M385.7 1362.9V1364.4M385.7 1377.9V1379.4M385.7 1383.9V1385.4M385.7 1386.9V1388.3M385.7 1401.8V1403.3M385.7 1418.3V1419.8M385.7 1443.7V1445.2M385.7 1452.7V1454.2M385.7 1455.7V1457.2M385.7 1458.7V1460.2M385.7 1481.2V1482.7M385.7 1500.6V1502.1M385.7 1527.6V1529.1M385.7 1562.0V1563.5M385.7 1580.0V1581.5M385.7 1607.0V1608.5M385.7 1616.0V1617.5M385.7 1622.0V1623.5M385.7 1632.5V1634.0M385.7 1655.0V1656.5M385.7 1662.5V1664.0M385.7 1668.5V1671.5M385.7 1673.0V1676.0M385.7 1703.0V1704.5M385.7 1709.0V1710.5M385.7 1719.5V1721.0M385.7 1806.9V1808.4M385.7 1853.2V1854.7M385.7 1863.7V1865.2M385.7 1869.7V1871.1M385.7 1878.6V1880.1M385.7 1886.1V1887.6M385.7 1893.6V1895.1M395.6 1177.1V1178.6M395.6 1211.6V1213.1M395.6 1241.6V1243.1M395.6 1255.1V1256.6M395.6 1259.6V1261.1M395.6 1265.5V1268.5M395.6 1277.5V1279.0M395.6 1282.0V1283.5M395.6 1286.5V1288.0M395.6 1292.5V1294.0M395.6 1298.5V1301.5M395.6 1303.0V1304.5M395.6 1350.9V1352.4M395.6 1356.9V1358.4M395.6 1362.9V1364.4M395.6 1391.3V1392.8M395.6 1401.8V1403.3M395.6 1407.8V1409.3M395.6 1410.8V1412.3M395.6 1418.3V1419.8M395.6 1427.3V1428.8M395.6 1446.7V1448.2M395.6 1449.7V1451.2M395.6 1455.7V1457.2M395.6 1466.2V1467.7M395.6 1485.7V1487.1M395.6 1488.6V1490.1M395.6 1535.0V1536.5M395.6 1544.0V1547.0M395.6 1572.5V1574.0M395.6 1575.5V1577.0M395.6 1595.0V1596.5M395.6 1607.0V1608.5M395.6 1614.5V1616.0M395.6 1626.5V1628.0M395.6 1638.5V1640.0M395.6 1647.5V1649.0M395.6 1664.0V1665.5M395.6 1670.0V1671.5M395.6 1707.5V1709.0M395.6 1716.5V1719.5M395.6 1802.4V1805.4M395.6 1907.0V1908.5M424.3 1969.9V1971.4M424.3 1981.9V1983.4M424.3 2001.4V2002.9M434.2 1984.9V1986.4M434.2 2004.4V2005.9M463.9 1636.3V1637.8M463.9 1646.8V1648.3M463.9 1657.3V1660.3M463.9 1663.4V1664.9M463.9 1670.9V1672.4M463.9 1679.9V1681.4M463.9 1702.4V1703.9M463.9 1714.4V1716.0M473.8 1637.8V1639.3M473.8 1645.3V1648.3M473.8 1649.8V1652.8M473.8 1657.3V1660.3M473.8 1661.9V1664.9M473.8 1678.4V1679.9M473.8 1687.4V1688.9M473.8 1708.4V1709.9M483.7 1657.3V1660.3M483.7 1661.9V1663.4M483.7 1664.9V1666.4M483.7 1688.9V1690.4M493.6 1643.8V1645.3M493.6 1646.8V1649.8M493.6 1655.8V1657.3M493.6 1660.3V1661.9M493.6 1678.4V1679.9M493.6 1682.9V1684.4M493.6 1691.9V1693.4M522.2 2069.0V2070.5M532.1 2064.4V2065.9M542.0 1999.4V2000.9M542.0 2002.4V2004.0M542.0 2035.6V2037.1M552.0 1999.4V2000.9M552.0 2004.0V2005.5M552.0 2031.1V2032.6M552.0 2037.1V2038.6M552.0 2040.1V2041.6M561.9 1904.9V1906.4M561.9 1913.9V1915.4M561.9 1919.9V1921.4M561.9 1933.4V1934.9M561.9 1937.9V1940.9M561.9 1946.8V1948.3M571.8 1907.9V1909.4M571.8 1936.4V1940.9M571.8 1942.4V1943.8M571.8 1946.8V1948.3M571.8 1958.8V1960.3M581.6 1758.2V1759.7M581.6 1773.2V1774.7M581.6 1782.1V1783.6M581.6 1786.6V1788.1M581.6 1798.6V1800.1M581.6 1801.6V1803.1M581.6 1807.6V1810.6M581.6 1818.1V1819.6M581.6 1825.6V1827.1M581.6 1833.1V1836.1M581.6 1855.5V1857.0M581.6 1858.5V1860.0M591.5 1737.2V1738.7M591.5 1803.1V1804.6M591.5 1809.1V1810.6M591.5 1813.6V1815.1M620.2 1996.7V1998.2M620.2 2019.3V2020.8M630.1 1990.6V1992.1M630.1 1998.2V1999.7M640.0 1698.5V1700.0M640.0 1712.0V1713.5M640.0 1722.4V1725.4M640.0 1731.4V1732.9M640.0 1735.9V1737.4M640.0 1747.9V1750.9M640.0 1756.9V1758.4M649.9 1698.5V1700.0M649.9 1713.5V1715.0M649.9 1726.9V1728.4M649.9 1735.9V1737.4M649.9 1741.9V1743.4M649.9 1746.4V1747.9M649.9 1749.4V1750.9M659.8 1987.6V1989.1M659.8 1996.7V1998.2M659.8 2004.2V2005.7M659.8 2010.2V2011.7M669.7 2001.2V2002.7M679.6 1706.0V1707.5M679.6 1716.5V1718.0M679.6 1720.9V1722.4M679.6 1725.4V1726.9M679.6 1729.9V1732.9M679.6 1735.9V1737.4M679.6 1738.9V1740.4M679.6 1771.9V1773.4M689.5 1713.5V1716.5M689.5 1723.9V1725.4M718.2 1990.2V1991.8M718.2 1993.3V1994.8M718.2 2011.6V2013.1M718.2 2019.2V2020.7M728.1 1993.3V1994.8M728.1 2010.0V2011.6M747.9 2069.0V2070.5M757.8 1860.9V1862.4M757.8 1952.6V1954.1M757.8 1960.1V1961.6M767.7 1951.1V1952.6M767.7 1955.6V1957.1M767.7 1964.6V1966.1M767.7 1978.2V1979.7M777.6 1805.3V1806.8M777.6 1818.8V1820.3M777.6 1833.9V1835.4M777.6 1838.4V1839.9M777.6 1851.9V1853.4M777.6 1863.9V1865.4M777.6 1871.4V1872.9M777.6 1874.4V1875.9M777.6 1897.0V1898.5M777.6 1903.0V1904.5M777.6 1961.6V1963.1M787.5 1799.3V1800.8M787.5 1845.9V1847.4M787.5 1853.4V1854.9M787.5 1862.4V1863.9M787.5 1878.9V1880.4M787.5 1883.5V1885.0M787.5 1895.5V1897.0M816.1 2036.1V2037.6M826.0 2030.1V2031.6M835.9 1932.2V1933.7M835.9 1935.2V1936.7M835.9 1945.8V1947.3M835.9 1957.9V1959.4M835.9 1979.1V1980.6M835.9 1982.1V1983.6M835.9 1991.2V1992.7M845.8 1957.9V1959.4M845.8 1979.1V1980.6M845.8 1983.6V1985.1M855.7 2067.5V2069.0M875.5 1833.1V1834.6M875.5 1836.1V1837.6M875.5 1860.1V1861.6M875.5 1863.1V1864.6M875.5 1878.1V1881.1M875.5 1887.0V1888.5M875.5 2012.2V2013.7M885.4 1821.2V1822.7M885.4 1848.1V1849.6M885.4 1876.6V1878.1M885.4 1879.6V1881.1M885.4 1890.0V1891.5M885.4 1902.0V1903.5M885.4 1908.0V1909.5M885.4 1963.9V1965.5M914.1 1857.0V1858.5M924.0 1841.9V1843.4M924.0 1847.9V1849.4M924.0 1869.0V1870.5M924.0 1873.5V1875.0M933.9 2010.2V2011.8M933.9 2014.8V2017.8M943.8 2014.8V2016.3M943.8 2019.3V2020.8M953.7 2007.2V2010.2M953.7 2016.3V2017.8M963.6 2010.2V2011.8M963.6 2016.3V2017.8M973.5 1841.9V1843.4M973.5 1844.9V1846.4M973.5 1852.4V1853.9M973.5 1867.5V1869.0M973.5 1870.5V1872.0M973.5 1876.5V1878.0M973.5 1902.0V1903.5M983.4 1852.4V1853.9M983.4 1869.0V1872.0M1012.0 2069.0V2070.5M1031.8 2064.5V2066.0M1051.6 2022.2V2023.7M1051.6 2026.7V2029.7M1051.6 2034.2V2035.8M1051.6 2038.8V2041.8M1051.6 2044.8V2046.3M1051.6 2055.4V2058.4M1051.6 2063.0V2064.5M1061.5 2020.6V2022.2M1061.5 2025.2V2026.7M1061.5 2046.3V2047.9M1061.5 2056.9V2058.4M1071.4 2005.5V2007.0M1071.4 2020.6V2022.2M1071.4 2023.7V2025.2M1071.4 2028.2V2029.7M1071.4 2034.2V2035.8M1071.4 2049.4V2050.9M1149.5 2058.5V2060.0M1179.2 2013.9V2015.4M1179.2 2025.7V2027.1M1179.2 2042.0V2043.5M1179.2 2054.0V2055.5M1179.2 2061.5V2063.0M1217.8 2050.2V2051.6M1227.7 2055.8V2057.2M1237.6 2021.8V2023.3M1237.6 2024.8V2026.3M1237.6 2035.2V2036.7M1247.5 2067.5V2070.5M1267.3 2069.0V2070.5M1277.2 2032.2V2033.7M1277.2 2039.7V2041.2M1277.2 2044.2V2045.7M1305.9 2064.0V2067.2M1325.7 2036.0V2037.5M1345.5 2043.3V2044.8M1365.3 2058.1V2059.6M1403.8 2058.5V2060.0M1403.8 2066.0V2067.5M1443.4 2060.0V2061.5M1443.4 2064.5V2066.0M1463.2 2057.0V2058.5M1473.1 2033.1V2034.6"/>
<path stroke="#FFAA16" d="M326.3 1616.0V1619.0M326.3 1634.0V1635.5M326.3 1643.0V1646.0M326.3 1697.0V1698.5M326.3 1706.0V1707.5M326.3 1709.0V1710.5M326.3 1712.0V1713.5M326.3 1802.4V1803.9M326.3 1808.4V1809.9M326.3 1811.4V1812.9M326.3 1814.4V1815.9M326.3 1818.8V1820.3M326.3 1821.8V1824.8M326.3 1827.8V1829.3M326.3 1830.8V1832.3M326.3 1845.7V1847.2M326.3 1854.7V1856.2M326.3 1863.7V1865.2M326.3 1875.6V1877.1M326.3 1878.6V1880.1M326.3 2004.0V2046.6M326.3 2049.6V2052.6M326.3 2054.1V2055.6M326.3 2057.1V2058.6M326.3 2069.0V2070.5M336.2 1559.0V1560.5M336.2 1581.5V1583.0M336.2 1590.5V1592.0M336.2 1605.5V1607.0M336.2 1617.5V1619.0M336.2 1623.5V1625.0M336.2 1635.5V1637.0M336.2 1643.0V1646.0M336.2 1664.0V1665.5M336.2 1667.0V1668.5M336.2 1706.0V1707.5M336.2 1808.4V1814.4M336.2 1818.8V1820.3M336.2 1821.8V1823.3M336.2 1827.8V1829.3M336.2 1830.8V1833.8M336.2 1838.3V1839.8M336.2 1845.7V1850.2M336.2 1872.6V1874.1M336.2 1875.6V1877.1M336.2 1887.6V1889.1M336.2 1893.6V1895.1M336.2 2004.0V2046.6M336.2 2049.6V2051.1M336.2 2054.1V2055.6M336.2 2058.6V2060.0M346.1 1324.0V1325.5M346.1 1336.0V1339.0M346.1 1346.4V1347.9M346.1 1350.9V1352.4M346.1 1355.4V1356.9M346.1 1394.3V1395.8M346.1 1397.3V1398.8M346.1 1403.3V1404.8M346.1 1413.8V1415.3M346.1 1430.3V1431.8M346.1 1467.7V1469.2M346.1 1476.7V1478.2M346.1 1488.6V1490.1M346.1 1539.5V1541.0M346.1 1557.5V1559.0M346.1 1803.9V1805.4M346.1 1812.9V1814.4M346.1 1817.3V1820.3M346.1 1823.3V1826.3M346.1 1827.8V1832.3M346.1 1833.8V1835.3M346.1 1842.8V1845.7M346.1 1847.2V1851.7M346.1 1854.7V1856.2M346.1 1866.7V1869.7M346.1 1884.6V1886.1M346.1 1890.6V1892.1M346.1 1896.5V1898.0M346.1 1910.0V2004.0M346.1 2046.6V2048.1M346.1 2054.1V2055.6M356.0 1318.0V1319.5M356.0 1322.5V1324.0M356.0 1333.0V1334.5M356.0 1336.0V1337.5M356.0 1339.0V1340.4M356.0 1341.9V1344.9M356.0 1346.4V1347.9M356.0 1350.9V1353.9M356.0 1367.4V1368.9M356.0 1373.4V1374.9M356.0 1391.3V1392.8M356.0 1397.3V1398.8M356.0 1401.8V1403.3M356.0 1409.3V1410.8M356.0 1416.8V1418.3M356.0 1430.3V1431.8M356.0 1439.2V1442.2M356.0 1449.7V1451.2M356.0 1455.7V1458.7M356.0 1463.2V1464.7M356.0 1467.7V1469.2M356.0 1472.2V1473.7M356.0 1488.6V1490.1M356.0 1802.4V1805.4M356.0 1806.9V1808.4M356.0 1811.4V1812.9M356.0 1823.3V1827.8M356.0 1829.3V1830.8M356.0 1838.3V1839.8M356.0 1842.8V1845.7M356.0 1850.2V1851.7M356.0 1853.2V1854.7M356.0 1866.7V1869.7M356.0 1896.5V1898.0M356.0 1904.0V1907.0M356.0 1910.0V2004.0M365.9 1330.0V1331.5M365.9 1333.0V1334.5M365.9 1350.9V1352.4M365.9 1353.9V1355.4M365.9 1371.9V1373.4M365.9 1391.3V1392.8M365.9 1397.3V1400.3M365.9 1425.8V1427.3M365.9 1439.2V1442.2M365.9 1443.7V1445.2M365.9 1493.1V1494.6M365.9 1502.1V1503.6M365.9 1524.6V1526.1M365.9 1559.0V1560.5M365.9 1565.0V1568.0M365.9 1569.5V1571.0M365.9 1574.0V1575.5M365.9 1577.0V1580.0M365.9 1583.0V1586.0M365.9 1587.5V1595.0M365.9 1608.5V1610.0M365.9 1611.5V1614.5M365.9 1617.5V1620.5M365.9 1629.5V1632.5M365.9 1634.0V1635.5M365.9 1640.0V1641.5M365.9 1647.5V1649.0M365.9 1665.5V1667.0M365.9 1673.0V1674.5M365.9 1697.0V1698.5M365.9 1721.0V1802.4M375.8 1316.5V1318.0M375.8 1325.5V1327.0M375.8 1328.5V1330.0M375.8 1333.0V1336.0M375.8 1350.9V1352.4M375.8 1359.9V1361.4M375.8 1382.4V1383.9M375.8 1386.9V1388.3M375.8 1391.3V1392.8M375.8 1394.3V1395.8M375.8 1412.3V1413.8M375.8 1454.2V1457.2M375.8 1463.2V1464.7M375.8 1490.1V1491.6M375.8 1518.6V1520.1M375.8 1523.1V1524.6M375.8 1536.5V1538.0M375.8 1541.0V1544.0M375.8 1559.0V1563.5M375.8 1565.0V1568.0M375.8 1569.5V1575.5M375.8 1577.0V1578.5M375.8 1580.0V1586.0M375.8 1589.0V1590.5M375.8 1602.5V1604.0M375.8 1605.5V1607.0M375.8 1610.0V1614.5M375.8 1616.0V1620.5M375.8 1622.0V1625.0M375.8 1631.0V1632.5M375.8 1635.5V1640.0M375.8 1643.0V1644.5M375.8 1646.0V1649.0M375.8 1674.5V1676.0M375.8 1686.5V1688.0M375.8 1694.0V1695.5M375.8 1707.5V1709.0M375.8 1721.0V1802.4M385.7 904.4V1211.6M385.7 1214.6V1231.1M385.7 1232.6V1252.1M385.7 1253.6V1259.6M385.7 1264.0V1277.5M385.7 1282.0V1283.5M385.7 1285.0V1288.0M385.7 1289.5V1291.0M385.7 1294.0V1295.5M385.7 1297.0V1298.5M385.7 1300.0V1301.5M385.7 1307.5V1310.5M385.7 1312.0V1315.0M385.7 1315.0V1325.5M385.7 1327.0V1339.0M385.7 1340.4V1347.9M385.7 1349.4V1352.4M385.7 1353.9V1356.9M385.7 1359.9V1361.4M385.7 1364.4V1370.4M385.7 1371.9V1377.9M385.7 1379.4V1383.9M385.7 1385.4V1386.9M385.7 1388.3V1397.3M385.7 1398.8V1400.3M385.7 1403.3V1409.3M385.7 1410.8V1418.3M385.7 1419.8V1425.8M385.7 1428.8V1436.3M385.7 1442.2V1443.7M385.7 1445.2V1448.2M385.7 1451.2V1452.7M385.7 1460.2V1466.2M385.7 1473.7V1475.2M385.7 1478.2V1479.7M385.7 1487.1V1488.6M385.7 1494.6V1496.1M385.7 1515.6V1517.1M385.7 1521.6V1523.1M385.7 1530.6V1532.1M385.7 1533.6V1535.0M385.7 1538.0V1539.5M385.7 1559.0V1560.5M385.7 1565.0V1578.5M385.7 1581.5V1586.0M385.7 1587.5V1596.5M385.7 1598.0V1599.5M385.7 1601.0V1604.0M385.7 1605.5V1607.0M385.7 1608.5V1611.5M385.7 1614.5V1616.0M385.7 1617.5V1620.5M385.7 1623.5V1629.5M385.7 1634.0V1637.0M385.7 1640.0V1641.5M385.7 1647.5V1649.0M385.7 1661.0V1662.5M385.7 1664.0V1665.5M385.7 1667.0V1668.5M385.7 1676.0V1679.0M385.7 1682.0V1683.5M385.7 1698.5V1700.0M385.7 1701.5V1703.0M385.7 1706.0V1709.0M385.7 1715.0V1716.5M385.7 1805.4V1806.9M385.7 1809.9V1820.3M385.7 1826.3V1829.3M385.7 1830.8V1832.3M385.7 1836.8V1838.3M385.7 1845.7V1847.2M385.7 1851.7V1853.2M385.7 1857.7V1860.7M385.7 1862.2V1863.7M385.7 1865.2V1866.7M385.7 1868.2V1869.7M385.7 1881.6V1883.1M385.7 1889.1V1890.6M385.7 1892.1V1893.6M385.7 1895.1V1898.0M385.7 1908.5V1910.0M395.6 904.4V1177.1M395.6 1178.6V1211.6M395.6 1213.1V1241.6M395.6 1243.1V1252.1M395.6 1253.6V1255.1M395.6 1256.6V1259.6M395.6 1261.1V1262.6M395.6 1264.0V1265.5M395.6 1268.5V1274.5M395.6 1276.0V1277.5M395.6 1280.5V1282.0M395.6 1283.5V1286.5M395.6 1288.0V1292.5M395.6 1294.0V1295.5M395.6 1297.0V1298.5M395.6 1304.5V1310.5M395.6 1312.0V1315.0M395.6 1315.0V1328.5M395.6 1330.0V1350.9M395.6 1353.9V1356.9M395.6 1358.4V1362.9M395.6 1365.9V1370.4M395.6 1371.9V1380.9M395.6 1382.4V1386.9M395.6 1388.3V1391.3M395.6 1392.8V1397.3M395.6 1398.8V1401.8M395.6 1403.3V1407.8M395.6 1409.3V1410.8M395.6 1412.3V1416.8M395.6 1422.8V1425.8M395.6 1428.8V1431.8M395.6 1433.3V1436.3M395.6 1440.7V1445.2M395.6 1451.2V1452.7M395.6 1460.2V1461.7M395.6 1463.2V1466.2M395.6 1472.2V1473.7M395.6 1475.2V1476.7M395.6 1478.2V1479.7M395.6 1487.1V1488.6M395.6 1502.1V1503.6M395.6 1508.1V1509.6M395.6 1527.6V1529.1M395.6 1532.1V1533.6M395.6 1557.5V1559.0M395.6 1560.5V1562.0M395.6 1563.5V1568.0M395.6 1569.5V1572.5M395.6 1574.0V1575.5M395.6 1577.0V1578.5M395.6 1580.0V1581.5M395.6 1583.0V1586.0M395.6 1587.5V1592.0M395.6 1593.5V1595.0M395.6 1598.0V1607.0M395.6 1608.5V1611.5M395.6 1616.0V1617.5M395.6 1619.0V1620.5M395.6 1622.0V1626.5M395.6 1628.0V1629.5M395.6 1631.0V1635.5M395.6 1644.5V1646.0M395.6 1649.0V1650.5M395.6 1658.0V1659.5M395.6 1662.5V1664.0M395.6 1667.0V1668.5M395.6 1680.5V1682.0M395.6 1686.5V1688.0M395.6 1695.5V1697.0M395.6 1698.5V1700.0M395.6 1715.0V1716.5M395.6 1719.5V1721.0M395.6 1805.4V1809.9M395.6 1811.4V1812.9M395.6 1814.4V1815.9M395.6 1830.8V1832.3M395.6 1836.8V1839.8M395.6 1841.3V1842.8M395.6 1844.2V1845.7M395.6 1850.2V1851.7M395.6 1853.2V1856.2M395.6 1862.2V1863.7M395.6 1865.2V1866.7M395.6 1869.7V1871.1M395.6 1877.1V1878.6M395.6 1889.1V1890.6M395.6 1893.6V1896.5M424.3 1959.4V1969.9M424.3 1971.4V1980.4M424.3 1983.4V1984.9M424.3 1995.4V1996.9M434.2 1959.4V1980.4M434.2 1981.9V1984.9M434.2 1990.9V1992.4M444.1 1959.4V1975.9M444.1 1977.4V1978.9M444.1 1987.9V1989.4M444.1 1998.4V1999.9M454.0 1959.4V1974.4M454.0 1975.9V1978.9M454.0 1981.9V1984.9M463.9 1580.7V1636.3M463.9 1637.8V1646.8M463.9 1648.3V1657.3M463.9 1660.3V1661.9M463.9 1666.4V1667.9M463.9 1669.4V1670.9M473.8 1580.7V1627.3M473.8 1628.8V1637.8M473.8 1639.3V1640.8M473.8 1642.3V1645.3M473.8 1648.3V1649.8M473.8 1652.8V1657.3M473.8 1660.3V1661.9M473.8 1669.4V1670.9M483.7 1580.7V1648.3M483.7 1649.8V1657.3M483.7 1660.3V1661.9M483.7 1663.4V1664.9M483.7 1666.4V1669.4M483.7 1691.9V1693.4M493.6 1580.7V1643.8M493.6 1645.3V1646.8M493.6 1649.8V1651.3M493.6 1652.8V1654.3M493.6 1661.9V1667.9M493.6 1687.4V1690.4M522.2 2041.6V2046.2M522.2 2047.7V2067.5M532.1 2041.6V2052.2M532.1 2056.8V2064.4M532.1 2065.9V2070.5M542.0 1963.3V1987.4M542.0 1988.9V1993.4M542.0 1994.9V1999.4M542.0 2000.9V2002.4M542.0 2004.0V2005.5M542.0 2007.0V2019.0M542.0 2020.5V2023.5M542.0 2026.5V2029.6M542.0 2031.1V2032.6M552.0 1963.3V1999.4M552.0 2000.9V2004.0M552.0 2005.5V2025.0M552.0 2026.5V2029.6M552.0 2038.6V2040.1M561.9 1881.0V1904.9M561.9 1906.4V1913.9M561.9 1915.4V1919.9M561.9 1921.4V1924.4M561.9 1927.4V1933.4M561.9 1934.9V1936.4M561.9 1942.4V1945.3M561.9 1948.3V1949.8M561.9 1951.3V1957.3M561.9 1960.3V1961.8M571.8 1881.0V1907.9M571.8 1909.4V1913.9M571.8 1915.4V1931.9M571.8 1933.4V1936.4M571.8 1943.8V1945.3M571.8 1948.3V1949.8M571.8 1951.3V1955.8M571.8 1957.3V1958.8M571.8 1960.3V1963.3M581.6 1678.8V1743.2M581.6 1744.7V1753.7M581.6 1755.2V1758.2M581.6 1759.7V1768.7M581.6 1770.2V1773.2M581.6 1776.2V1779.2M581.6 1780.6V1782.1M581.6 1783.6V1786.6M581.6 1792.6V1798.6M581.6 1803.1V1807.6M581.6 1810.6V1816.6M581.6 1819.6V1825.6M581.6 1827.1V1833.1M581.6 1839.1V1842.1M581.6 1843.6V1845.1M581.6 1848.0V1849.5M581.6 1851.0V1852.5M581.6 1857.0V1858.5M581.6 1860.0V1863.0M581.6 1866.0V1867.5M581.6 1869.0V1873.5M581.6 1878.0V1879.5M591.5 1678.8V1731.2M591.5 1732.7V1737.2M591.5 1738.7V1770.2M591.5 1771.7V1773.2M591.5 1774.7V1776.2M591.5 1777.7V1789.6M591.5 1792.6V1795.6M591.5 1797.1V1800.1M591.5 1801.6V1803.1M591.5 1807.6V1809.1M591.5 1812.1V1813.6M591.5 1815.1V1818.1M591.5 1819.6V1828.6M591.5 1830.1V1833.1M591.5 1839.1V1842.1M591.5 1843.6V1845.1M591.5 1848.0V1849.5M591.5 1854.0V1857.0M591.5 1858.5V1860.0M591.5 1863.0V1866.0M591.5 1869.0V1870.5M620.2 1981.6V1993.7M620.2 1998.2V1999.7M620.2 2001.2V2002.7M630.1 1981.6V1987.6M630.1 1989.1V1990.6M630.1 1992.1V1993.7M630.1 1995.2V1998.2M630.1 2001.2V2002.7M630.1 2005.7V2007.2M640.0 1682.0V1698.5M640.0 1700.0V1712.0M640.0 1713.5V1722.4M640.0 1725.4V1726.9M640.0 1737.4V1738.9M640.0 1746.4V1747.9M649.9 1682.0V1698.5M649.9 1700.0V1713.5M649.9 1715.0V1716.5M649.9 1719.5V1722.4M649.9 1723.9V1726.9M649.9 1729.9V1731.4M649.9 1734.4V1735.9M649.9 1758.4V1759.9M659.8 1981.6V1987.6M659.8 1989.1V1996.7M669.7 1981.6V1996.7M669.7 2011.7V2013.2M679.6 1682.0V1706.0M679.6 1707.5V1716.5M679.6 1719.5V1720.9M679.6 1722.4V1725.4M679.6 1728.4V1729.9M679.6 1732.9V1734.4M689.5 1682.0V1713.5M689.5 1718.0V1720.9M689.5 1722.4V1723.9M689.5 1726.9V1729.9M689.5 1731.4V1734.4M689.5 1735.9V1737.4M689.5 1738.9V1740.4M689.5 1749.4V1750.9M689.5 1758.4V1759.9M718.2 1987.2V1990.2M718.2 1991.8V1993.3M718.2 1994.8V2007.0M718.2 2008.5V2010.0M718.2 2013.1V2016.1M718.2 2031.3V2032.9M728.1 1987.2V1993.3M728.1 1996.3V2002.4M728.1 2003.9V2007.0M728.1 2014.6V2017.6M728.1 2019.2V2023.7M728.1 2026.8V2028.3M728.1 2034.4V2035.9M738.0 2035.9V2057.0M738.0 2058.5V2069.0M747.9 2035.9V2057.0M747.9 2058.5V2061.5M747.9 2063.0V2066.0M747.9 2067.5V2069.0M757.8 1912.0V1936.1M757.8 1937.6V1940.6M757.8 1942.1V1952.6M757.8 1954.1V1955.6M757.8 1958.6V1960.1M757.8 1961.6V1964.6M757.8 1966.1V1970.7M757.8 1972.2V1973.7M757.8 1976.7V1979.7M757.8 1985.7V1987.2M767.7 1745.2V1746.7M767.7 1912.0V1951.1M767.7 1952.6V1955.6M767.7 1958.6V1964.6M767.7 1966.1V1969.2M767.7 1970.7V1973.7M767.7 1976.7V1978.2M767.7 1981.2V1982.7M777.6 1736.2V1805.3M777.6 1806.8V1818.8M777.6 1820.3V1821.8M777.6 1824.9V1833.9M777.6 1841.4V1848.9M777.6 1850.4V1851.9M777.6 1853.4V1857.9M777.6 1862.4V1863.9M777.6 1866.9V1871.4M777.6 1875.9V1877.4M777.6 1878.9V1883.5M777.6 1888.0V1889.5M777.6 1895.5V1897.0M777.6 1900.0V1901.5M787.5 1736.2V1787.3M787.5 1788.8V1799.3M787.5 1800.8V1809.8M787.5 1811.3V1818.8M787.5 1821.8V1836.9M787.5 1841.4V1844.4M787.5 1847.4V1848.9M787.5 1850.4V1853.4M787.5 1854.9V1857.9M787.5 1860.9V1862.4M787.5 1863.9V1875.9M787.5 1880.4V1881.9M787.5 1898.5V1901.5M787.5 1903.0V1904.5M787.5 1906.0V1910.5M816.1 1995.7V2034.6M816.1 2040.6V2045.1M816.1 2046.6V2049.6M816.1 2051.1V2055.6M826.0 1995.7V2016.7M826.0 2018.2V2027.1M826.0 2028.6V2030.1M826.0 2031.6V2036.1M826.0 2037.6V2039.1M826.0 2040.6V2048.1M826.0 2049.6V2051.1M826.0 2052.6V2057.1M835.9 1911.0V1932.2M835.9 1933.7V1935.2M835.9 1936.7V1942.8M835.9 1944.3V1945.8M835.9 1947.3V1957.9M835.9 1960.9V1963.9M835.9 1965.5V1974.5M835.9 1976.0V1977.5M835.9 1985.1V1986.6M845.8 1911.0V1938.2M845.8 1939.7V1951.8M845.8 1953.3V1957.9M845.8 1959.4V1962.4M845.8 1965.5V1974.5M845.8 1976.0V1979.1M845.8 1980.6V1982.1M855.7 2057.1V2061.6M855.7 2063.1V2066.0M855.7 2069.0V2070.5M865.6 2057.1V2061.6M865.6 2063.1V2066.0M865.6 2067.5V2070.5M875.5 1797.2V1833.1M875.5 1834.6V1836.1M875.5 1842.1V1843.6M875.5 1849.6V1860.1M875.5 1869.1V1870.6M875.5 1873.6V1878.1M875.5 1881.1V1882.5M875.5 1888.5V1890.0M875.5 1894.5V1896.0M875.5 1902.0V1903.5M875.5 1905.0V1908.0M885.4 1797.2V1821.2M885.4 1822.7V1840.6M885.4 1842.1V1846.6M885.4 1849.6V1855.6M885.4 1857.1V1860.1M885.4 1863.1V1866.1M885.4 1869.1V1872.1M885.4 1875.1V1876.6M885.4 1878.1V1879.6M885.4 1882.5V1884.0M885.4 1888.5V1890.0M885.4 1896.0V1897.5M885.4 1899.0V1900.5M885.4 1906.5V1908.0M885.4 1909.5V1911.0M914.1 1828.4V1853.9M914.1 1855.4V1857.0M914.1 1858.5V1860.0M914.1 1861.5V1863.0M914.1 1864.5V1866.0M924.0 1828.4V1841.9M924.0 1843.4V1847.9M924.0 1850.9V1853.9M924.0 1855.4V1857.0M924.0 1858.5V1861.5M924.0 1864.5V1866.0M933.9 1998.2V2007.2M943.8 1998.2V2008.7M943.8 2010.2V2013.3M943.8 2016.3V2017.8M943.8 2025.3V2026.8M953.7 1998.2V2007.2M963.6 1998.2V2008.7M963.6 2022.3V2023.8M973.5 1828.4V1841.9M973.5 1843.4V1844.9M973.5 1847.9V1852.4M973.5 1853.9V1857.0M973.5 1858.5V1860.0M973.5 1861.5V1863.0M983.4 1828.4V1847.9M983.4 1849.4V1850.9M983.4 1855.4V1857.0M983.4 1858.5V1860.0M1012.0 2066.0V2069.0M1031.8 2067.5V2070.5M1051.6 2004.0V2005.5M1051.6 2013.1V2014.6M1051.6 2020.6V2022.2M1051.6 2029.7V2034.2M1051.6 2037.3V2038.8M1051.6 2041.8V2044.8M1051.6 2047.9V2050.9M1051.6 2053.9V2055.4M1051.6 2058.4V2061.5M1061.5 2004.0V2020.6M1061.5 2022.2V2023.7M1061.5 2026.7V2034.2M1061.5 2035.8V2046.3M1061.5 2047.9V2055.4M1061.5 2058.4V2064.5M1071.4 2004.0V2005.5M1071.4 2011.6V2014.6M1071.4 2016.1V2017.6M1071.4 2019.1V2020.6M1071.4 2025.2V2028.2M1071.4 2029.7V2034.2M1071.4 2046.3V2047.9M1071.4 2050.9V2053.9M1071.4 2058.4V2060.0M1071.4 2061.5V2064.5M1119.9 2013.9V2015.4M1139.7 2030.1V2034.5M1149.5 2042.0V2043.5M1149.5 2052.5V2054.0M1149.5 2057.0V2058.5M1149.5 2067.5V2069.0M1159.5 2011.0V2016.9M1169.4 2034.5V2066.0M1179.2 2009.5V2012.4M1179.2 2015.4V2016.9M1179.2 2030.1V2031.6M1179.2 2034.5V2042.0M1179.2 2043.5V2054.0M1179.2 2055.5V2061.5M1179.2 2063.0V2066.0M1207.9 2060.0V2063.0M1207.9 2066.0V2067.5M1227.7 2050.2V2051.6M1227.7 2053.0V2055.8M1227.7 2057.2V2060.0M1237.6 2014.3V2021.8M1237.6 2023.3V2024.8M1237.6 2026.3V2035.2M1237.6 2036.7V2050.2M1247.5 2060.0V2063.0M1247.5 2064.5V2067.5M1267.3 2050.2V2053.0M1267.3 2067.5V2069.0M1277.2 2014.3V2032.2M1277.2 2033.7V2039.7M1277.2 2041.2V2044.2M1277.2 2045.7V2047.2M1277.2 2051.6V2053.0M1325.7 2064.0V2070.5M1335.6 2031.4V2033.0M1345.5 2055.2V2058.1M1345.5 2059.6V2061.1M1345.5 2062.5V2064.0M1345.5 2067.2V2068.9M1355.4 2034.5V2036.0M1365.3 2034.5V2046.3M1365.3 2047.8V2055.2M1365.3 2061.1V2062.5M1375.2 2019.0V2020.5M1403.8 2064.5V2066.0M1403.8 2067.5V2069.0M1463.2 2061.5V2063.0M1463.2 2064.5V2066.0M1473.1 2028.6V2030.1M1473.1 2043.5V2045.0"/>
<path stroke="#CF8B14" d="M326.3 1568.0V1569.5M326.3 1574.0V1575.5M326.3 1578.5V1580.0M326.3 1584.5V1586.0M326.3 1601.0V1602.5M326.3 1605.5V1607.0M326.3 1608.5V1610.0M326.3 1611.5V1613.0M326.3 1626.5V1628.0M326.3 1637.0V1638.5M326.3 1649.0V1650.5M326.3 1656.5V1658.0M326.3 1671.5V1673.0M326.3 1682.0V1683.5M326.3 1686.5V1688.0M326.3 1701.5V1703.0M326.3 1803.9V1805.4M326.3 1806.9V1808.4M326.3 1829.3V1830.8M326.3 1838.3V1839.8M326.3 1847.2V1848.7M326.3 1850.2V1851.7M326.3 1881.6V1883.1M326.3 1896.5V1898.0M326.3 2046.6V2048.1M326.3 2058.6V2061.5M326.3 2064.5V2066.0M336.2 1560.5V1562.0M336.2 1571.0V1572.5M336.2 1604.0V1605.5M336.2 1640.0V1641.5M336.2 1649.0V1650.5M336.2 1656.5V1659.5M336.2 1683.5V1686.5M336.2 1700.0V1701.5M336.2 1710.5V1712.0M336.2 1806.9V1808.4M336.2 1874.1V1875.6M336.2 1896.5V1898.0M336.2 1899.5V1901.0M336.2 2057.1V2058.6M336.2 2060.0V2064.5M336.2 2067.5V2070.5M346.1 1322.5V1324.0M346.1 1344.9V1346.4M346.1 1367.4V1368.9M346.1 1382.4V1383.9M346.1 1415.3V1416.8M346.1 1422.8V1424.3M346.1 1455.7V1457.2M346.1 1470.7V1472.2M346.1 1508.1V1509.6M346.1 1520.1V1521.6M346.1 1523.1V1524.6M346.1 1554.5V1556.0M346.1 1805.4V1808.4M346.1 1811.4V1812.9M346.1 1820.3V1821.8M346.1 1839.8V1841.3M346.1 1862.2V1863.7M346.1 1901.0V1902.5M356.0 1361.4V1362.9M356.0 1364.4V1365.9M356.0 1382.4V1385.4M356.0 1394.3V1395.8M356.0 1407.8V1409.3M356.0 1473.7V1479.7M356.0 1503.6V1505.1M356.0 1523.1V1524.6M356.0 1557.5V1559.0M356.0 1808.4V1811.4M356.0 1814.4V1815.9M356.0 1833.8V1836.8M356.0 1859.2V1860.7M356.0 1863.7V1865.2M356.0 1878.6V1880.1M356.0 1886.1V1887.6M365.9 1389.8V1391.3M365.9 1416.8V1418.3M365.9 1421.3V1422.8M365.9 1454.2V1455.7M365.9 1461.7V1463.2M365.9 1560.5V1562.0M365.9 1571.0V1572.5M365.9 1580.0V1583.0M365.9 1595.0V1596.5M365.9 1649.0V1650.5M365.9 1655.0V1656.5M365.9 1659.5V1661.0M365.9 1676.0V1677.5M365.9 1686.5V1688.0M365.9 2046.6V2048.1M375.8 1330.0V1331.5M375.8 1361.4V1362.9M375.8 1371.9V1374.9M375.8 1409.3V1410.8M375.8 1431.8V1433.3M375.8 1439.2V1440.7M375.8 1449.7V1452.7M375.8 1475.2V1476.7M375.8 1478.2V1479.7M375.8 1509.6V1511.1M375.8 1578.5V1580.0M375.8 1604.0V1605.5M375.8 1607.0V1608.5M375.8 1644.5V1646.0M375.8 1677.5V1679.0M375.8 1697.0V1698.5M385.7 1262.6V1264.0M385.7 1279.0V1280.5M385.7 1347.9V1349.4M385.7 1352.4V1353.9M385.7 1356.9V1359.9M385.7 1361.4V1362.9M385.7 1409.3V1410.8M385.7 1427.3V1428.8M385.7 1439.2V1442.2M385.7 1479.7V1481.2M385.7 1484.2V1485.7M385.7 1491.6V1493.1M385.7 1503.6V1506.6M385.7 1508.1V1512.6M385.7 1523.1V1524.6M385.7 1526.1V1527.6M385.7 1532.1V1533.6M385.7 1535.0V1536.5M385.7 1578.5V1580.0M385.7 1604.0V1605.5M385.7 1613.0V1614.5M385.7 1620.5V1622.0M385.7 1649.0V1650.5M385.7 1659.5V1661.0M385.7 1686.5V1688.0M385.7 1689.5V1691.0M385.7 1710.5V1712.0M385.7 1874.1V1875.6M385.7 1877.1V1878.6M385.7 1907.0V1908.5M395.6 1252.1V1253.6M395.6 1274.5V1276.0M395.6 1279.0V1280.5M395.6 1310.5V1312.0M395.6 1352.4V1353.9M395.6 1364.4V1365.9M395.6 1370.4V1371.9M395.6 1386.9V1388.3M395.6 1416.8V1418.3M395.6 1425.8V1427.3M395.6 1431.8V1433.3M395.6 1437.7V1440.7M395.6 1445.2V1446.7M395.6 1454.2V1455.7M395.6 1461.7V1463.2M395.6 1469.2V1470.7M395.6 1479.7V1481.2M395.6 1484.2V1485.7M395.6 1493.1V1494.6M395.6 1497.6V1499.1M395.6 1505.1V1506.6M395.6 1509.6V1511.1M395.6 1514.1V1515.6M395.6 1559.0V1560.5M395.6 1562.0V1563.5M395.6 1578.5V1580.0M395.6 1581.5V1583.0M395.6 1620.5V1622.0M395.6 1635.5V1638.5M395.6 1640.0V1643.0M395.6 1650.5V1652.0M395.6 1677.5V1680.5M395.6 1682.0V1685.0M395.6 1694.0V1695.5M395.6 1700.0V1701.5M395.6 1703.0V1704.5M395.6 1815.9V1817.3M395.6 1821.8V1823.3M395.6 1827.8V1829.3M395.6 1839.8V1841.3M395.6 1848.7V1850.2M395.6 1856.2V1857.7M395.6 1892.1V1893.6M395.6 1908.5V1910.0M424.3 1980.4V1981.9M424.3 1990.9V1992.4M424.3 2004.4V2005.9M424.3 2043.5V2045.0M434.2 1987.9V1989.4M434.2 1995.4V1998.4M434.2 2001.4V2002.9M434.2 2005.9V2007.4M434.2 2043.5V2045.0M444.1 1975.9V1977.4M444.1 1978.9V1980.4M444.1 1981.9V1984.9M444.1 1990.9V1992.4M444.1 2013.4V2015.0M454.0 1974.4V1975.9M454.0 1984.9V1986.4M454.0 1990.9V1992.4M454.0 1996.9V1998.4M463.9 1664.9V1666.4M463.9 1667.9V1669.4M463.9 1676.9V1679.9M463.9 1681.4V1682.9M463.9 1685.9V1687.4M463.9 1691.9V1693.4M463.9 1694.9V1696.4M463.9 1703.9V1706.9M463.9 1708.4V1709.9M473.8 1627.3V1628.8M473.8 1640.8V1642.3M473.8 1664.9V1667.9M473.8 1670.9V1672.4M473.8 1681.4V1684.4M473.8 1702.4V1703.9M473.8 1716.0V1717.5M473.8 1720.5V1722.0M483.7 1670.9V1672.4M483.7 1673.9V1675.4M483.7 1676.9V1678.4M483.7 1681.4V1682.9M483.7 1685.9V1687.4M483.7 1708.4V1709.9M483.7 1712.9V1714.4M483.7 1759.5V1761.0M483.7 1765.5V1767.0M493.6 1651.3V1652.8M493.6 1654.3V1655.8M493.6 1657.3V1660.3M493.6 1667.9V1669.4M493.6 1673.9V1675.4M493.6 1676.9V1678.4M493.6 1684.4V1685.9M493.6 1696.4V1697.9M493.6 1706.9V1708.4M493.6 1714.4V1716.0M493.6 1720.5V1722.0M493.6 1723.5V1725.0M532.1 2053.8V2056.8M542.0 1987.4V1988.9M542.0 1993.4V1994.9M542.0 2023.5V2025.0M542.0 2037.1V2040.1M552.0 2025.0V2026.5M552.0 2029.6V2031.1M552.0 2032.6V2034.1M552.0 2035.6V2037.1M561.9 1924.4V1925.9M561.9 1940.9V1942.4M561.9 1958.8V1960.3M561.9 1961.8V1963.3M571.8 1913.9V1915.4M581.6 1753.7V1755.2M581.6 1768.7V1770.2M581.6 1774.7V1776.2M581.6 1836.1V1837.6M581.6 1845.1V1848.0M581.6 1854.0V1855.5M581.6 1873.5V1875.0M581.6 1879.5V1881.0M591.5 1776.2V1777.7M591.5 1795.6V1797.1M591.5 1800.1V1801.6M591.5 1810.6V1812.1M591.5 1834.6V1839.1M591.5 1842.1V1843.6M591.5 1845.1V1846.6M591.5 1857.0V1858.5M591.5 1860.0V1861.5M591.5 1870.5V1872.0M591.5 1875.0V1876.5M620.2 1995.2V1996.7M620.2 1999.7V2001.2M620.2 2002.7V2004.2M620.2 2016.3V2017.8M630.1 1987.6V1989.1M630.1 1999.7V2001.2M630.1 2004.2V2005.7M630.1 2008.7V2010.2M630.1 2014.7V2016.3M630.1 2025.3V2026.8M640.0 1726.9V1728.4M640.0 1729.9V1731.4M640.0 1732.9V1735.9M640.0 1741.9V1744.9M640.0 1750.9V1752.4M640.0 1753.9V1755.4M640.0 1773.4V1774.9M640.0 1785.4V1786.9M640.0 1824.3V1825.8M649.9 1716.5V1719.5M649.9 1722.4V1723.9M649.9 1728.4V1729.9M649.9 1731.4V1734.4M649.9 1744.9V1746.4M649.9 1767.4V1768.9M649.9 1783.9V1785.4M649.9 1806.3V1807.8M659.8 1999.7V2001.2M659.8 2002.7V2004.2M659.8 2008.7V2010.2M659.8 2014.7V2016.3M669.7 1996.7V1998.2M669.7 2002.7V2004.2M669.7 2014.7V2016.3M679.6 1718.0V1719.5M679.6 1726.9V1728.4M679.6 1734.4V1735.9M679.6 1758.4V1759.9M679.6 1764.4V1767.4M679.6 1828.8V1830.3M689.5 1716.5V1718.0M689.5 1720.9V1722.4M689.5 1725.4V1726.9M689.5 1737.4V1738.9M689.5 1750.9V1752.4M689.5 1806.3V1807.8M718.2 2017.6V2019.2M718.2 2026.8V2028.3M718.2 2029.8V2031.3M718.2 2050.9V2052.4M728.1 1838.4V1839.9M728.1 2002.4V2003.9M728.1 2011.6V2013.1M728.1 2017.6V2019.2M747.9 2057.0V2058.5M747.9 2061.5V2063.0M757.8 1940.6V1942.1M757.8 1955.6V1957.1M757.8 1964.6V1966.1M757.8 1984.2V1985.7M767.7 1823.3V1824.9M767.7 1969.2V1970.7M767.7 1975.2V1976.7M767.7 1979.7V1981.2M767.7 1982.7V1984.2M767.7 1985.7V1987.2M767.7 2052.4V2054.0M777.6 1821.8V1824.9M777.6 1839.9V1841.4M777.6 1865.4V1866.9M777.6 1872.9V1874.4M777.6 1885.0V1886.5M777.6 1891.0V1892.5M777.6 1894.0V1895.5M777.6 1909.0V1910.5M787.5 1787.3V1788.8M787.5 1820.3V1821.8M787.5 1836.9V1838.4M787.5 1839.9V1841.4M787.5 1877.4V1878.9M787.5 1885.0V1886.5M787.5 1888.0V1892.5M787.5 1910.5V1912.0M787.5 1963.1V1964.6M787.5 2032.9V2034.4M816.1 2049.6V2051.1M826.0 2016.7V2018.2M826.0 2027.1V2028.6M826.0 2048.1V2049.6M826.0 2051.1V2052.6M835.9 1834.6V1836.1M835.9 1959.4V1960.9M835.9 1983.6V1985.1M845.8 1962.4V1963.9M855.7 2066.0V2067.5M865.6 2061.6V2063.1M865.6 2066.0V2067.5M875.5 1837.6V1840.6M875.5 1843.6V1848.1M875.5 1861.6V1863.1M875.5 1866.1V1867.6M875.5 1870.6V1872.1M875.5 1897.5V1899.0M875.5 1908.0V1909.5M885.4 1840.6V1842.1M885.4 1846.6V1848.1M885.4 1855.6V1857.1M885.4 1867.6V1869.1M885.4 1872.1V1875.1M885.4 1881.1V1882.5M885.4 1884.0V1885.5M885.4 1891.5V1893.0M885.4 2051.1V2052.6M914.1 1860.0V1861.5M924.0 1849.4V1850.9M924.0 1853.9V1855.4M924.0 1867.5V1869.0M924.0 1878.0V1879.5M924.0 1887.0V1888.5M933.9 2007.2V2008.7M933.9 2011.8V2014.8M933.9 2019.3V2020.8M933.9 2038.9V2040.4M943.8 2013.3V2014.8M953.7 2011.8V2016.3M963.6 2008.7V2010.2M963.6 2011.8V2013.3M963.6 2017.8V2019.3M963.6 2020.8V2022.3M973.5 1860.0V1861.5M973.5 1864.5V1866.0M973.5 1875.0V1876.5M973.5 1918.6V1920.1M983.4 1850.9V1852.4M983.4 1853.9V1855.4M983.4 1857.0V1858.5M983.4 1861.5V1863.0M983.4 1864.5V1866.0M983.4 1867.5V1869.0M983.4 1875.0V1876.5M983.4 1885.5V1887.0M1021.9 2011.6V2013.1M1021.9 2049.4V2050.9M1051.6 2008.5V2010.0M1051.6 2019.1V2020.6M1051.6 2035.8V2037.3M1051.6 2046.3V2047.9M1051.6 2050.9V2052.4M1061.5 2055.4V2056.9M1071.4 2014.6V2016.1M1071.4 2017.6V2019.1M1071.4 2022.2V2023.7M1071.4 2038.8V2041.8M1071.4 2044.8V2046.3M1071.4 2055.4V2056.9M1071.4 2060.0V2061.5M1129.8 2067.5V2069.0M1149.5 2036.0V2037.5M1179.2 2018.3V2019.8M1179.2 2024.2V2025.7M1179.2 2028.6V2030.1M1267.3 2027.8V2029.3M1267.3 2038.2V2039.7M1267.3 2057.2V2058.6M1267.3 2064.5V2067.5M1305.9 2067.2V2070.5M1315.8 2064.0V2065.6M1345.5 2040.4V2041.9M1345.5 2046.3V2047.8M1345.5 2050.7V2052.2M1345.5 2058.1V2059.6M1355.4 2040.4V2041.9M1355.4 2050.7V2052.2M1355.4 2062.5V2064.0M1365.3 2055.2V2058.1M1365.3 2059.6V2061.1M1365.3 2064.0V2065.6M1403.8 2051.0V2052.5M1423.6 2054.0V2055.5M1423.6 2060.0V2061.5M1423.6 2064.5V2066.0M1433.5 2043.5V2045.0M1443.4 2051.0V2052.5M1463.2 2055.5V2057.0M1463.2 2066.0V2067.5M1473.1 2036.1V2037.5"/>
<path stroke="#B77C14" d="M326.3 1566.5V1568.0M326.3 1572.5V1574.0M326.3 1604.0V1605.5M326.3 1647.5V1649.0M326.3 1655.0V1656.5M326.3 1664.0V1665.5M326.3 1668.5V1670.0M326.3 1824.8V1826.3M326.3 1893.6V1895.1M326.3 1902.5V1904.0M326.3 1905.5V1907.0M326.3 2052.6V2054.1M336.2 1566.5V1568.0M336.2 1575.5V1577.0M336.2 1611.5V1613.0M336.2 1614.5V1616.0M336.2 1625.0V1626.5M336.2 1659.5V1662.5M336.2 1805.4V1806.9M336.2 1829.3V1830.8M336.2 1833.8V1836.8M336.2 1868.2V1869.7M336.2 1881.6V1883.1M336.2 1892.1V1893.6M336.2 2046.6V2048.1M336.2 2051.1V2054.1M336.2 2055.6V2057.1M346.1 1358.4V1359.9M346.1 1361.4V1362.9M346.1 1472.2V1473.7M346.1 1478.2V1479.7M346.1 1505.1V1506.6M346.1 1512.6V1514.1M346.1 1530.6V1532.1M346.1 1809.9V1811.4M346.1 1832.3V1833.8M346.1 1859.2V1860.7M346.1 1863.7V1865.2M346.1 1872.6V1874.1M346.1 1905.5V1907.0M346.1 2058.6V2060.0M356.0 1337.5V1339.0M356.0 1406.3V1407.8M356.0 1427.3V1428.8M356.0 1433.3V1434.8M356.0 1461.7V1463.2M356.0 1493.1V1494.6M356.0 1496.1V1497.6M356.0 1520.1V1521.6M356.0 1526.1V1527.6M356.0 1535.0V1536.5M356.0 1541.0V1542.5M356.0 1553.0V1554.5M356.0 1805.4V1806.9M356.0 1815.9V1817.3M356.0 1820.3V1823.3M356.0 1839.8V1841.3M356.0 1845.7V1847.2M356.0 1860.7V1862.2M356.0 1865.2V1866.7M356.0 1883.1V1884.6M365.9 1321.0V1324.0M365.9 1344.9V1346.4M365.9 1358.4V1359.9M365.9 1376.4V1379.4M365.9 1386.9V1388.3M365.9 1433.3V1434.8M365.9 1452.7V1454.2M365.9 1457.2V1458.7M365.9 1512.6V1514.1M365.9 1517.1V1518.6M365.9 1586.0V1587.5M365.9 1604.0V1605.5M365.9 1641.5V1643.0M365.9 1652.0V1653.5M365.9 1661.0V1665.5M365.9 1719.5V1721.0M375.8 1324.0V1325.5M375.8 1355.4V1356.9M375.8 1380.9V1382.4M375.8 1410.8V1412.3M375.8 1416.8V1418.3M375.8 1445.2V1446.7M375.8 1505.1V1508.1M375.8 1547.0V1548.5M375.8 1554.5V1556.0M375.8 1568.0V1569.5M375.8 1593.5V1595.0M375.8 1596.5V1598.0M375.8 1655.0V1656.5M375.8 1659.5V1662.5M375.8 1676.0V1677.5M385.7 1298.5V1300.0M385.7 1303.0V1304.5M385.7 1400.3V1401.8M385.7 1425.8V1427.3M385.7 1437.7V1439.2M385.7 1448.2V1451.2M385.7 1454.2V1455.7M385.7 1466.2V1467.7M385.7 1472.2V1473.7M385.7 1482.7V1484.2M385.7 1488.6V1490.1M385.7 1524.6V1526.1M385.7 1536.5V1538.0M385.7 1544.0V1545.5M385.7 1556.0V1557.5M385.7 1563.5V1565.0M385.7 1599.5V1601.0M385.7 1641.5V1643.0M385.7 1658.0V1659.5M385.7 1680.5V1682.0M385.7 1691.0V1692.5M385.7 1697.0V1698.5M385.7 1704.5V1706.0M385.7 1712.0V1713.5M385.7 1802.4V1803.9M385.7 1823.3V1824.8M385.7 1829.3V1830.8M385.7 1841.3V1842.8M385.7 1854.7V1856.2M385.7 1883.1V1884.6M385.7 1904.0V1905.5M395.6 1262.6V1264.0M395.6 1295.5V1297.0M395.6 1301.5V1303.0M395.6 1380.9V1382.4M395.6 1397.3V1398.8M395.6 1421.3V1422.8M395.6 1457.2V1460.2M395.6 1482.7V1484.2M395.6 1490.1V1493.1M395.6 1500.6V1502.1M395.6 1503.6V1505.1M395.6 1515.6V1517.1M395.6 1524.6V1526.1M395.6 1547.0V1548.5M395.6 1553.0V1554.5M395.6 1556.0V1557.5M395.6 1568.0V1569.5M395.6 1617.5V1619.0M395.6 1652.0V1655.0M395.6 1691.0V1692.5M395.6 1704.5V1706.0M395.6 1712.0V1713.5M395.6 1817.3V1818.8M395.6 1835.3V1836.8M395.6 1859.2V1860.7M395.6 1866.7V1869.7M395.6 1886.1V1887.6M424.3 1984.9V1986.4M424.3 1989.4V1990.9M424.3 1992.4V1993.9M424.3 1996.9V1999.9M424.3 2007.4V2008.9M424.3 2010.4V2011.9M424.3 2034.5V2036.0M434.2 1980.4V1981.9M434.2 1989.4V1990.9M434.2 1993.9V1995.4M434.2 2007.4V2008.9M434.2 2018.0V2019.5M434.2 2024.0V2025.5M444.1 1980.4V1981.9M444.1 1984.9V1987.9M444.1 1993.9V1995.4M444.1 1996.9V1998.4M444.1 2011.9V2013.4M444.1 2018.0V2019.5M444.1 2028.5V2030.0M444.1 2040.5V2042.0M454.0 1986.4V1987.9M454.0 1989.4V1990.9M454.0 1993.9V1995.4M454.0 2013.4V2015.0M454.0 2018.0V2019.5M463.9 1672.4V1675.4M463.9 1682.9V1684.4M463.9 1706.9V1708.4M463.9 1712.9V1714.4M463.9 1720.5V1722.0M463.9 1723.5V1725.0M463.9 1743.0V1744.5M463.9 1777.6V1779.1M463.9 1786.6V1788.1M473.8 1667.9V1669.4M473.8 1673.9V1675.4M473.8 1679.9V1681.4M473.8 1694.9V1696.4M473.8 1700.9V1702.4M473.8 1705.4V1706.9M473.8 1712.9V1714.4M473.8 1756.5V1758.0M473.8 1792.6V1795.6M483.7 1648.3V1649.8M483.7 1669.4V1670.9M483.7 1675.4V1676.9M483.7 1678.4V1681.4M483.7 1696.4V1697.9M483.7 1703.9V1706.9M483.7 1717.5V1719.0M483.7 1750.5V1752.0M493.6 1669.4V1672.4M493.6 1679.9V1682.9M493.6 1685.9V1687.4M493.6 1690.4V1691.9M493.6 1699.4V1700.9M493.6 1708.4V1709.9M493.6 1719.0V1720.5M493.6 1725.0V1726.5M493.6 1728.0V1729.5M493.6 1746.0V1747.5M493.6 1750.5V1752.0M522.2 2067.5V2069.0M532.1 1904.9V1906.4M532.1 1940.9V1942.4M532.1 1966.3V1967.8M542.0 2019.0V2020.5M542.0 2029.6V2031.1M542.0 2061.4V2062.9M542.0 2065.9V2067.5M552.0 1854.0V1855.5M571.8 1789.6V1791.1M571.8 1931.9V1933.4M581.6 1743.2V1744.7M581.6 1779.2V1780.6M581.6 1788.1V1789.6M581.6 1791.1V1792.6M581.6 1837.6V1839.1M581.6 1864.5V1866.0M581.6 1867.5V1869.0M591.5 1770.2V1771.7M591.5 1773.2V1774.7M591.5 1804.6V1806.1M591.5 1833.1V1834.6M591.5 1849.5V1851.0M591.5 1852.5V1854.0M591.5 1861.5V1863.0M591.5 1866.0V1869.0M591.5 1872.0V1873.5M591.5 1876.5V1878.0M620.2 1993.7V1995.2M620.2 2005.7V2010.2M620.2 2049.4V2050.9M630.1 1993.7V1995.2M630.1 2017.8V2020.8M630.1 2023.8V2025.3M640.0 1728.4V1729.9M640.0 1738.9V1740.4M640.0 1761.4V1762.9M640.0 1863.3V1864.8M649.9 1737.4V1738.9M649.9 1750.9V1753.9M649.9 1756.9V1758.4M649.9 1762.9V1764.4M649.9 1816.8V1819.8M659.8 1998.2V1999.7M659.8 2001.2V2002.7M659.8 2005.7V2007.2M659.8 2016.3V2017.8M659.8 2025.3V2026.8M669.7 1998.2V1999.7M669.7 2004.2V2008.7M669.7 2010.2V2011.7M669.7 2061.5V2063.0M679.6 1741.9V1743.4M679.6 1749.4V1750.9M679.6 1752.4V1755.4M679.6 1761.4V1762.9M679.6 1767.4V1770.4M679.6 1792.9V1794.3M679.6 1833.3V1836.3M689.5 1734.4V1735.9M689.5 1740.4V1741.9M689.5 1744.9V1746.4M689.5 1747.9V1749.4M689.5 1767.4V1768.9M689.5 1815.3V1816.8M718.2 2010.0V2011.6M718.2 2025.2V2026.8M718.2 2034.4V2035.9M728.1 1994.8V1996.3M728.1 2008.5V2010.0M728.1 2031.3V2032.9M738.0 2069.0V2070.5M747.9 1919.5V1921.0M747.9 2016.1V2017.6M747.9 2066.0V2067.5M757.8 1745.2V1746.7M757.8 1957.1V1958.6M757.8 1970.7V1972.2M757.8 1973.7V1975.2M757.8 1981.2V1982.7M777.6 1848.9V1850.4M777.6 1859.4V1860.9M777.6 1877.4V1878.9M777.6 1883.5V1885.0M777.6 1889.5V1891.0M777.6 1910.5V1912.0M787.5 1809.8V1811.3M787.5 1818.8V1820.3M787.5 1838.4V1839.9M787.5 1857.9V1860.9M787.5 1875.9V1877.4M787.5 1881.9V1883.5M787.5 1886.5V1888.0M787.5 1897.0V1898.5M787.5 1904.5V1906.0M816.1 1884.0V1885.5M816.1 2034.6V2036.1M816.1 2037.6V2040.6M816.1 2055.6V2057.1M826.0 1822.7V1824.2M835.9 1798.7V1800.2M835.9 1942.8V1944.3M835.9 1974.5V1976.0M835.9 1986.6V1989.7M845.8 1822.7V1824.2M845.8 1899.0V1900.5M845.8 1938.2V1939.7M845.8 1951.8V1953.3M845.8 1985.1V1986.6M845.8 1988.1V1989.7M845.8 1991.2V1994.2M855.7 1967.0V1968.5M855.7 2055.6V2057.1M875.5 1840.6V1842.1M875.5 1848.1V1849.6M875.5 1882.5V1884.0M875.5 1893.0V1894.5M875.5 1909.5V1911.0M875.5 1971.5V1973.0M885.4 1861.6V1863.1M885.4 1894.5V1896.0M885.4 1980.6V1982.1M914.1 1853.9V1855.4M914.1 1863.0V1864.5M914.1 1867.5V1872.0M914.1 1873.5V1875.0M914.1 1876.5V1879.5M914.1 1881.0V1882.5M914.1 1884.0V1885.5M914.1 1888.5V1890.0M924.0 1857.0V1858.5M924.0 1861.5V1863.0M924.0 1866.0V1867.5M924.0 1870.5V1872.0M924.0 1876.5V1878.0M924.0 1888.5V1890.0M924.0 1911.0V1912.5M924.0 1917.1V1920.1M933.9 2008.7V2010.2M933.9 2017.8V2019.3M933.9 2020.8V2022.3M933.9 2025.3V2026.8M933.9 2029.8V2031.3M943.8 2008.7V2010.2M943.8 2020.8V2022.3M943.8 2023.8V2025.3M943.8 2029.8V2031.3M943.8 2053.9V2055.4M953.7 2010.2V2011.8M953.7 2019.3V2023.8M953.7 2026.8V2028.3M953.7 2037.4V2038.9M953.7 2052.4V2053.9M953.7 2061.5V2063.0M963.6 2013.3V2014.8M963.6 2019.3V2020.8M963.6 2061.5V2063.0M973.5 1846.4V1847.9M973.5 1857.0V1858.5M973.5 1863.0V1864.5M973.5 1869.0V1870.5M973.5 1873.5V1875.0M973.5 1879.5V1882.5M973.5 1885.5V1887.0M973.5 1891.5V1893.0M983.4 1847.9V1849.4M983.4 1882.5V1884.0M983.4 1887.0V1890.0M983.4 1896.0V1897.5M983.4 1902.0V1903.5M983.4 1921.6V1923.1M1021.9 2025.2V2026.7M1031.8 2066.0V2067.5M1051.6 2005.5V2007.0M1051.6 2016.1V2017.6M1061.5 2023.7V2025.2M1061.5 2034.2V2035.8M1071.4 2010.0V2011.6M1071.4 2043.3V2044.8M1071.4 2053.9V2055.4M1071.4 2069.0V2070.5M1139.7 2024.2V2025.7M1139.7 2027.1V2028.6M1149.5 2066.0V2067.5M1149.5 2069.0V2070.5M1159.5 2016.9V2019.8M1179.2 2016.9V2018.3M1179.2 2031.6V2033.0M1207.9 2064.5V2066.0M1227.7 2051.6V2053.0M1247.5 2063.0V2064.5M1267.3 2026.3V2027.8M1277.2 2048.7V2050.2M1277.2 2054.4V2055.8M1315.8 2068.9V2070.5M1335.6 2023.7V2025.2M1335.6 2028.3V2031.4M1335.6 2033.0V2034.5M1335.6 2068.9V2070.5M1345.5 2034.5V2036.0M1345.5 2061.1V2062.5M1345.5 2068.9V2070.5M1355.4 2028.3V2029.8M1355.4 2037.5V2038.9M1355.4 2055.2V2056.6M1355.4 2061.1V2062.5M1365.3 2062.5V2064.0M1375.2 2025.2V2026.8M1423.6 2063.0V2064.5M1423.6 2066.0V2069.0M1433.5 2030.1V2031.6M1433.5 2034.6V2036.1M1463.2 2069.0V2070.5M1473.1 2034.6V2036.1M1473.1 2042.0V2043.5M1473.1 2049.5V2051.0"/>
<path stroke="#875D12" d="M326.3 1562.0V1563.5M326.3 1590.5V1592.0M326.3 1620.5V1622.0M326.3 1628.0V1629.5M326.3 1640.0V1641.5M326.3 1659.5V1661.0M326.3 1680.5V1682.0M326.3 1683.5V1685.0M326.3 1698.5V1700.0M326.3 1812.9V1814.4M326.3 1833.8V1835.3M326.3 1836.8V1838.3M326.3 1839.8V1841.3M326.3 1853.2V1854.7M326.3 1874.1V1875.6M326.3 1884.6V1887.6M326.3 1899.5V1902.5M326.3 2048.1V2049.6M326.3 2063.0V2064.5M336.2 1578.5V1580.0M336.2 1598.0V1599.5M336.2 1619.0V1620.5M336.2 1632.5V1634.0M336.2 1637.0V1638.5M336.2 1682.0V1683.5M336.2 1686.5V1688.0M336.2 1694.0V1695.5M336.2 1707.5V1709.0M336.2 1803.9V1805.4M336.2 1839.8V1841.3M336.2 1854.7V1856.2M336.2 1863.7V1866.7M336.2 1869.7V1871.1M336.2 1890.6V1892.1M336.2 1904.0V1905.5M346.1 1325.5V1327.0M346.1 1328.5V1330.0M346.1 1340.4V1341.9M346.1 1352.4V1353.9M346.1 1373.4V1374.9M346.1 1379.4V1380.9M346.1 1395.8V1397.3M346.1 1406.3V1407.8M346.1 1460.2V1461.7M346.1 1479.7V1481.2M346.1 1485.7V1488.6M346.1 1494.6V1496.1M346.1 1509.6V1511.1M346.1 1538.0V1539.5M346.1 1826.3V1827.8M346.1 1853.2V1854.7M346.1 1857.7V1859.2M346.1 1881.6V1883.1M346.1 1899.5V1901.0M346.1 1902.5V1904.0M346.1 2049.6V2051.1M346.1 2069.0V2070.5M356.0 1321.0V1322.5M356.0 1327.0V1328.5M356.0 1380.9V1382.4M356.0 1395.8V1397.3M356.0 1400.3V1401.8M356.0 1404.8V1406.3M356.0 1410.8V1412.3M356.0 1428.8V1430.3M356.0 1437.7V1439.2M356.0 1454.2V1455.7M356.0 1482.7V1484.2M356.0 1485.7V1488.6M356.0 1491.6V1493.1M356.0 1500.6V1502.1M356.0 1527.6V1532.1M356.0 1536.5V1538.0M356.0 1545.5V1547.0M356.0 1551.5V1553.0M356.0 1851.7V1853.2M356.0 1875.6V1877.1M356.0 1889.1V1890.6M356.0 1899.5V1901.0M365.9 1324.0V1325.5M365.9 1347.9V1349.4M365.9 1368.9V1370.4M365.9 1383.9V1385.4M365.9 1418.3V1419.8M365.9 1472.2V1473.7M365.9 1509.6V1511.1M365.9 1520.1V1523.1M365.9 1526.1V1527.6M365.9 1541.0V1542.5M365.9 1545.5V1547.0M365.9 1563.5V1565.0M365.9 1598.0V1599.5M365.9 1607.0V1608.5M365.9 1610.0V1611.5M365.9 1635.5V1637.0M365.9 1650.5V1652.0M365.9 1670.0V1671.5M365.9 1674.5V1676.0M365.9 1685.0V1686.5M365.9 1691.0V1692.5M365.9 1703.0V1704.5M365.9 2048.1V2049.6M365.9 2063.0V2064.5M375.8 1321.0V1322.5M375.8 1368.9V1370.4M375.8 1383.9V1385.4M375.8 1388.3V1389.8M375.8 1392.8V1394.3M375.8 1395.8V1397.3M375.8 1400.3V1401.8M375.8 1404.8V1406.3M375.8 1428.8V1430.3M375.8 1437.7V1439.2M375.8 1440.7V1442.2M375.8 1461.7V1463.2M375.8 1469.2V1470.7M375.8 1473.7V1475.2M375.8 1479.7V1481.2M375.8 1482.7V1484.2M375.8 1512.6V1514.1M375.8 1526.1V1527.6M375.8 1545.5V1547.0M375.8 1598.0V1599.5M375.8 1601.0V1602.5M375.8 1625.0V1626.5M375.8 1628.0V1629.5M375.8 1685.0V1686.5M375.8 1698.5V1700.0M375.8 1710.5V1713.5M375.8 2052.6V2054.1M375.8 2060.0V2061.5M375.8 2069.0V2070.5M385.7 1370.4V1371.9M385.7 1512.6V1514.1M385.7 1517.1V1518.6M385.7 1539.5V1542.5M385.7 1547.0V1548.5M385.7 1586.0V1587.5M385.7 1629.5V1631.0M385.7 1644.5V1646.0M385.7 1652.0V1653.5M385.7 1656.5V1658.0M385.7 1665.5V1667.0M385.7 1671.5V1673.0M385.7 1718.0V1719.5M385.7 1803.9V1805.4M385.7 1824.8V1826.3M385.7 1832.3V1833.8M385.7 1842.8V1844.2M385.7 1856.2V1857.7M385.7 1860.7V1862.2M385.7 1875.6V1877.1M385.7 1890.6V1892.1M385.7 1905.5V1907.0M395.6 1328.5V1330.0M395.6 1419.8V1421.3M395.6 1448.2V1449.7M395.6 1470.7V1472.2M395.6 1496.1V1497.6M395.6 1499.1V1500.6M395.6 1517.1V1518.6M395.6 1526.1V1527.6M395.6 1530.6V1532.1M395.6 1536.5V1539.5M395.6 1541.0V1542.5M395.6 1550.0V1551.5M395.6 1592.0V1593.5M395.6 1656.5V1658.0M395.6 1659.5V1661.0M395.6 1674.5V1677.5M395.6 1697.0V1698.5M395.6 1701.5V1703.0M395.6 1826.3V1827.8M395.6 1829.3V1830.8M395.6 1832.3V1833.8M395.6 1851.7V1853.2M395.6 1874.1V1877.1M395.6 1898.0V1899.5M424.3 2011.9V2013.4M424.3 2018.0V2019.5M424.3 2021.0V2022.5M424.3 2024.0V2025.5M424.3 2033.0V2034.5M424.3 2039.0V2040.5M424.3 2045.0V2046.5M424.3 2049.5V2051.0M424.3 2060.0V2061.5M434.2 1998.4V2001.4M434.2 2016.5V2018.0M434.2 2058.5V2060.0M434.2 2061.5V2063.0M434.2 2064.5V2066.0M444.1 2001.4V2004.4M444.1 2008.9V2011.9M444.1 2024.0V2025.5M444.1 2034.5V2036.0M454.0 1998.4V1999.9M454.0 2002.9V2004.4M454.0 2016.5V2018.0M454.0 2031.5V2034.5M454.0 2040.5V2042.0M454.0 2049.5V2051.0M454.0 2057.0V2060.0M463.9 1690.4V1691.9M463.9 1700.9V1702.4M463.9 1716.0V1717.5M463.9 1719.0V1720.5M463.9 1726.5V1728.0M463.9 1740.0V1741.5M463.9 1768.5V1771.6M463.9 1789.6V1791.1M463.9 1792.6V1794.1M463.9 1798.6V1800.1M463.9 1801.6V1803.1M463.9 1806.1V1807.6M463.9 1824.2V1825.7M463.9 1828.7V1830.2M463.9 1831.7V1833.2M463.9 1840.7V1842.2M463.9 1873.7V1875.2M463.9 1884.3V1885.8M463.9 1896.3V1897.8M463.9 1917.3V1918.8M463.9 1927.8V1929.3M473.8 1672.4V1673.9M473.8 1690.4V1691.9M473.8 1696.4V1697.9M473.8 1709.9V1711.4M473.8 1714.4V1716.0M473.8 1722.0V1723.5M473.8 1726.5V1728.0M473.8 1731.0V1732.5M473.8 1734.0V1735.5M473.8 1740.0V1741.5M473.8 1743.0V1746.0M473.8 1752.0V1755.0M473.8 1759.5V1761.0M473.8 1785.1V1786.6M473.8 1804.6V1806.1M473.8 1812.1V1813.6M473.8 1867.7V1869.2M473.8 1870.7V1872.2M473.8 1884.3V1885.8M473.8 1897.8V1899.3M473.8 1900.8V1902.3M473.8 1927.8V1929.3M483.7 1682.9V1684.4M483.7 1687.4V1688.9M483.7 1699.4V1700.9M483.7 1702.4V1703.9M483.7 1711.4V1712.9M483.7 1725.0V1729.5M483.7 1734.0V1735.5M483.7 1738.5V1740.0M483.7 1743.0V1744.5M483.7 1756.5V1758.0M483.7 1768.5V1770.1M483.7 1780.6V1782.1M483.7 1783.6V1785.1M483.7 1806.1V1807.6M483.7 1810.6V1812.1M483.7 1815.1V1816.6M483.7 1825.7V1827.2M483.7 1830.2V1831.7M483.7 1914.3V1915.8M483.7 1941.4V1942.9M493.6 1702.4V1703.9M493.6 1726.5V1728.0M493.6 1737.0V1738.5M493.6 1762.5V1764.0M493.6 1768.5V1770.1M493.6 1789.6V1791.1M493.6 1801.6V1803.1M493.6 1815.1V1816.6M493.6 1825.7V1828.7M493.6 1852.7V1854.2M493.6 1890.3V1891.8M493.6 1915.8V1917.3M542.0 1680.3V1681.8M542.0 1695.3V1696.8M542.0 1723.7V1725.2M542.0 1740.2V1741.7M542.0 1773.2V1774.7M542.0 2005.5V2007.0M542.0 2044.6V2046.2M552.0 1678.8V1680.3M552.0 1698.3V1699.8M552.0 1864.5V1866.0M561.9 1752.2V1753.7M561.9 1863.0V1864.5M561.9 1945.3V1946.8M571.8 1686.3V1687.8M571.8 1722.2V1723.7M571.8 1764.2V1765.7M571.8 1955.8V1957.3M571.8 2050.7V2052.2M581.6 1800.1V1801.6M581.6 1816.6V1818.1M581.6 1842.1V1843.6M581.6 1849.5V1851.0M581.6 1852.5V1854.0M581.6 1931.9V1933.4M591.5 1806.1V1807.6M591.5 1846.6V1848.0M591.5 1851.0V1852.5M591.5 1873.5V1875.0M591.5 1879.5V1881.0M591.5 1894.5V1896.0M591.5 1942.4V1943.8M591.5 1970.8V1972.3M591.5 2025.0V2026.5M591.5 2028.0V2029.6M591.5 2035.6V2037.1M620.2 2014.7V2016.3M620.2 2023.8V2025.3M620.2 2028.3V2029.8M620.2 2058.4V2060.0M630.1 2007.2V2008.7M630.1 2011.7V2013.2M630.1 2016.3V2017.8M630.1 2026.8V2028.3M630.1 2029.8V2031.3M630.1 2040.4V2041.9M630.1 2047.9V2050.9M630.1 2058.4V2060.0M630.1 2063.0V2064.5M640.0 1752.4V1753.9M640.0 1755.4V1756.9M640.0 1758.4V1761.4M640.0 1764.4V1768.9M640.0 1770.4V1771.9M640.0 1776.4V1777.9M640.0 1786.9V1788.4M640.0 1789.9V1792.9M640.0 1795.8V1797.3M640.0 1810.8V1815.3M640.0 1816.8V1818.3M640.0 1830.3V1831.8M640.0 1839.3V1840.8M640.0 1842.3V1843.8M640.0 1858.8V1860.3M640.0 1875.2V1879.7M640.0 1884.2V1885.7M640.0 1896.2V1897.7M640.0 1927.7V1929.2M640.0 1930.7V1932.2M640.0 1935.2V1936.7M649.9 1738.9V1740.4M649.9 1747.9V1749.4M649.9 1755.4V1756.9M649.9 1759.9V1762.9M649.9 1765.9V1767.4M649.9 1770.4V1773.4M649.9 1774.9V1776.4M649.9 1788.4V1789.9M649.9 1791.4V1792.9M649.9 1803.3V1804.8M649.9 1812.3V1813.8M649.9 1824.3V1825.8M649.9 1836.3V1837.8M649.9 1839.3V1840.8M649.9 1867.8V1869.2M649.9 1881.2V1882.7M649.9 1884.2V1885.7M649.9 1896.2V1897.7M649.9 1911.2V1912.7M649.9 1915.7V1917.2M649.9 1920.2V1921.7M649.9 1950.1V1951.6M649.9 1956.1V1957.6M659.8 2013.2V2014.7M659.8 2017.8V2019.3M659.8 2022.3V2023.8M659.8 2026.8V2029.8M659.8 2044.9V2046.4M659.8 2047.9V2049.4M659.8 2053.9V2055.4M669.7 2008.7V2010.2M669.7 2013.2V2014.7M669.7 2026.8V2029.8M669.7 2049.4V2052.4M669.7 2055.4V2056.9M679.6 1747.9V1749.4M679.6 1755.4V1756.9M679.6 1759.9V1761.4M679.6 1770.4V1771.9M679.6 1773.4V1774.9M679.6 1791.4V1792.9M679.6 1794.3V1795.8M679.6 1803.3V1804.8M679.6 1806.3V1807.8M679.6 1812.3V1813.8M679.6 1818.3V1821.3M679.6 1822.8V1824.3M679.6 1830.3V1833.3M679.6 1839.3V1842.3M679.6 1848.3V1849.8M679.6 1855.8V1857.3M679.6 1866.3V1867.8M679.6 1875.2V1876.7M679.6 1882.7V1884.2M679.6 1899.2V1900.7M679.6 1903.7V1905.2M679.6 1912.7V1914.2M679.6 1936.7V1939.7M679.6 1945.6V1947.1M679.6 1969.6V1971.1M689.5 1743.4V1744.9M689.5 1746.4V1747.9M689.5 1762.9V1764.4M689.5 1765.9V1767.4M689.5 1768.9V1773.4M689.5 1774.9V1776.4M689.5 1782.4V1783.9M689.5 1785.4V1789.9M689.5 1795.8V1798.8M689.5 1809.3V1810.8M689.5 1819.8V1821.3M689.5 1822.8V1824.3M689.5 1828.8V1830.3M689.5 1831.8V1833.3M689.5 1837.8V1839.3M689.5 1842.3V1843.8M689.5 1854.3V1855.8M689.5 1860.3V1861.8M689.5 1864.8V1866.3M689.5 1873.7V1876.7M689.5 1899.2V1900.7M689.5 1951.6V1953.1M718.2 1805.3V1806.8M718.2 2020.7V2023.7M718.2 2028.3V2029.8M718.2 2066.0V2067.5M728.1 1868.4V1869.9M728.1 1883.5V1885.0M728.1 2029.8V2031.3M728.1 2032.9V2034.4M728.1 2040.4V2041.9M738.0 1936.1V1937.6M738.0 1939.1V1940.6M738.0 2016.1V2017.6M738.0 2032.9V2034.4M738.0 2057.0V2058.5M747.9 1934.6V1937.6M747.9 1955.6V1957.1M747.9 1972.2V1973.7M747.9 1981.2V1982.7M747.9 2022.2V2023.7M757.8 1736.2V1739.2M757.8 1751.2V1752.7M757.8 1767.8V1769.3M757.8 1796.3V1797.8M757.8 1806.8V1808.3M757.8 1844.4V1845.9M757.8 1851.9V1853.4M757.8 1979.7V1981.2M757.8 2043.4V2044.9M767.7 1746.7V1748.2M767.7 1842.9V1845.9M767.7 1860.9V1862.4M767.7 2043.4V2044.9M767.7 2058.5V2060.0M777.6 1860.9V1862.4M777.6 1946.6V1948.1M777.6 1967.6V1969.2M787.5 1848.9V1850.4M787.5 1894.0V1895.5M835.9 1837.6V1839.1M835.9 1854.1V1855.6M835.9 1977.5V1979.1M835.9 1980.6V1982.1M835.9 2060.1V2061.6M845.8 1836.1V1837.6M845.8 1854.1V1858.6M845.8 1887.0V1888.5M845.8 1891.5V1893.0M845.8 1900.5V1903.5M845.8 1909.5V1911.0M845.8 1963.9V1965.5M855.7 1957.9V1959.4M855.7 1976.0V1977.5M855.7 2022.7V2024.2M855.7 2042.1V2043.6M865.6 1953.3V1954.9M865.6 1976.0V1977.5M865.6 2042.1V2043.6M875.5 1890.0V1891.5M875.5 1924.6V1926.1M875.5 1957.9V1959.4M875.5 1977.5V1979.1M875.5 1988.1V1989.7M875.5 1995.7V1997.2M875.5 2028.6V2030.1M875.5 2048.1V2051.1M885.4 1885.5V1887.0M885.4 1936.7V1938.2M885.4 2048.1V2049.6M885.4 2054.1V2055.6M914.1 1866.0V1867.5M914.1 1872.0V1873.5M914.1 1875.0V1876.5M914.1 1890.0V1891.5M914.1 1893.0V1894.5M914.1 1896.0V1897.5M914.1 1900.5V1902.0M914.1 1911.0V1912.5M914.1 1917.1V1920.1M914.1 1944.1V1945.6M914.1 1980.2V1981.7M914.1 1992.2V1993.7M924.0 1881.0V1882.5M924.0 1885.5V1887.0M924.0 1893.0V1896.0M924.0 1899.0V1900.5M924.0 1905.0V1906.5M924.0 1914.1V1915.6M924.0 1932.1V1933.6M924.0 1953.1V1954.6M924.0 1963.6V1965.1M924.0 1971.2V1972.7M933.9 2028.3V2029.8M933.9 2032.8V2035.9M933.9 2044.9V2046.4M933.9 2049.4V2050.9M933.9 2053.9V2055.4M943.8 2022.3V2023.8M943.8 2026.8V2029.8M943.8 2031.3V2032.8M943.8 2061.5V2063.0M943.8 2069.0V2070.5M953.7 2023.8V2025.3M953.7 2032.8V2034.3M953.7 2049.4V2050.9M953.7 2053.9V2055.4M953.7 2063.0V2064.5M963.6 2034.3V2035.9M963.6 2044.9V2046.4M963.6 2049.4V2050.9M963.6 2060.0V2061.5M963.6 2067.5V2069.0M973.5 1887.0V1890.0M973.5 1893.0V1894.5M973.5 1903.5V1905.0M973.5 1911.0V1912.5M973.5 1917.1V1918.6M973.5 1926.1V1927.6M973.5 1929.1V1930.6M973.5 1945.6V1947.1M973.5 1966.6V1968.1M983.4 1872.0V1875.0M983.4 1879.5V1881.0M983.4 1884.0V1885.5M983.4 1894.5V1896.0M983.4 1900.5V1902.0M983.4 1912.5V1914.1M983.4 1918.6V1920.1M983.4 1932.1V1933.6M983.4 1935.1V1936.6M983.4 1938.1V1939.6M983.4 1950.1V1951.6M983.4 1962.1V1963.6M983.4 1968.1V1969.6M983.4 1986.2V1987.7M983.4 1992.2V1993.7M1012.0 2061.5V2063.0M1021.9 2014.6V2016.1M1021.9 2019.1V2020.6M1021.9 2053.9V2058.4M1051.6 2010.0V2011.6M1051.6 2014.6V2016.1M1051.6 2025.2V2026.7M1071.4 2007.0V2008.5M1071.4 2056.9V2058.4M1110.0 2030.1V2031.6M1119.9 2009.5V2011.0M1119.9 2022.7V2024.2M1119.9 2028.6V2030.1M1129.8 2052.5V2054.0M1129.8 2066.0V2067.5M1139.7 2022.7V2024.2M1169.4 2066.0V2067.5M1179.2 2019.8V2021.3M1179.2 2022.7V2024.2M1207.9 2058.6V2060.0M1227.7 2018.8V2020.3M1227.7 2042.7V2044.2M1227.7 2045.7V2047.2M1227.7 2064.5V2066.0M1267.3 2063.0V2064.5M1305.9 2046.3V2047.8M1325.7 2040.4V2041.9M1345.5 2047.8V2049.2M1355.4 2022.1V2025.2M1355.4 2043.3V2044.8M1355.4 2049.2V2050.7M1355.4 2053.7V2055.2M1365.3 2068.9V2070.5M1375.2 2020.5V2022.1M1403.8 2052.5V2054.0M1403.8 2063.0V2064.5M1413.7 2039.0V2040.5M1413.7 2042.0V2043.5M1423.6 2055.5V2060.0M1423.6 2069.0V2070.5M1443.4 2057.0V2058.5M1443.4 2069.0V2070.5M1463.2 2051.0V2052.5M1463.2 2058.5V2060.0M1473.1 2024.1V2025.6M1473.1 2040.5V2042.0M1473.1 2048.0V2049.5"/>
<path stroke="#9F6C13" d="M326.3 1575.5V1577.0M326.3 1592.0V1593.5M326.3 1623.5V1625.0M326.3 1629.5V1631.0M326.3 1638.5V1640.0M326.3 1646.0V1647.5M326.3 1658.0V1659.5M326.3 1685.0V1686.5M326.3 1710.5V1712.0M326.3 1815.9V1818.8M326.3 1832.3V1833.8M326.3 1862.2V1863.7M326.3 1865.2V1866.7M326.3 1872.6V1874.1M326.3 2055.6V2057.1M336.2 1583.0V1584.5M336.2 1595.0V1596.5M336.2 1610.0V1611.5M336.2 1626.5V1628.0M336.2 1634.0V1635.5M336.2 1668.5V1670.0M336.2 1688.0V1689.5M336.2 1802.4V1803.9M336.2 1820.3V1821.8M336.2 1826.3V1827.8M336.2 1836.8V1838.3M336.2 1841.3V1842.8M336.2 1844.2V1845.7M336.2 1905.5V1907.0M336.2 2048.1V2049.6M346.1 1347.9V1349.4M346.1 1383.9V1385.4M346.1 1388.3V1389.8M346.1 1416.8V1418.3M346.1 1428.8V1430.3M346.1 1431.8V1433.3M346.1 1443.7V1445.2M346.1 1457.2V1458.7M346.1 1463.2V1464.7M346.1 1473.7V1475.2M346.1 1491.6V1493.1M346.1 1496.1V1497.6M346.1 1526.1V1527.6M346.1 1551.5V1553.0M346.1 1808.4V1809.9M346.1 1814.4V1815.9M346.1 1821.8V1823.3M346.1 1835.3V1836.8M346.1 1856.2V1857.7M346.1 1904.0V1905.5M346.1 1908.5V1910.0M346.1 2051.1V2054.1M346.1 2064.5V2066.0M356.0 1315.0V1316.5M356.0 1319.5V1321.0M356.0 1331.5V1333.0M356.0 1340.4V1341.9M356.0 1344.9V1346.4M356.0 1358.4V1359.9M356.0 1374.9V1377.9M356.0 1388.3V1389.8M356.0 1418.3V1419.8M356.0 1425.8V1427.3M356.0 1443.7V1445.2M356.0 1446.7V1448.2M356.0 1484.2V1485.7M356.0 1506.6V1508.1M356.0 1518.6V1520.1M356.0 1533.6V1535.0M356.0 1547.0V1548.5M356.0 1848.7V1850.2M356.0 1874.1V1875.6M356.0 1880.1V1881.6M356.0 1893.6V1895.1M356.0 2046.6V2048.1M356.0 2052.6V2054.1M365.9 1340.4V1341.9M365.9 1431.8V1433.3M365.9 1445.2V1446.7M365.9 1449.7V1451.2M365.9 1470.7V1472.2M365.9 1484.2V1485.7M365.9 1490.1V1491.6M365.9 1497.6V1499.1M365.9 1539.5V1541.0M365.9 1548.5V1550.0M365.9 1596.5V1598.0M365.9 1622.0V1623.5M365.9 1638.5V1640.0M365.9 1694.0V1695.5M375.8 1319.5V1321.0M375.8 1336.0V1339.0M375.8 1349.4V1350.9M375.8 1356.9V1358.4M375.8 1362.9V1364.4M375.8 1379.4V1380.9M375.8 1433.3V1434.8M375.8 1488.6V1490.1M375.8 1494.6V1496.1M375.8 1508.1V1509.6M375.8 1515.6V1517.1M375.8 1520.1V1521.6M375.8 1529.1V1530.6M375.8 1575.5V1577.0M375.8 1586.0V1587.5M375.8 1592.0V1593.5M375.8 1608.5V1610.0M375.8 1614.5V1616.0M375.8 1634.0V1635.5M375.8 1671.5V1673.0M375.8 1679.0V1680.5M375.8 1719.5V1721.0M385.7 1467.7V1470.7M385.7 1476.7V1478.2M385.7 1493.1V1494.6M385.7 1502.1V1503.6M385.7 1506.6V1508.1M385.7 1529.1V1530.6M385.7 1548.5V1551.5M385.7 1553.0V1554.5M385.7 1560.5V1562.0M385.7 1596.5V1598.0M385.7 1611.5V1613.0M385.7 1637.0V1640.0M385.7 1679.0V1680.5M385.7 1685.0V1686.5M385.7 1700.0V1701.5M385.7 1821.8V1823.3M385.7 1838.3V1841.3M385.7 1848.7V1850.2M385.7 1866.7V1868.2M385.7 1871.1V1874.1M385.7 1880.1V1881.6M395.6 1452.7V1454.2M395.6 1467.7V1469.2M395.6 1473.7V1475.2M395.6 1476.7V1478.2M395.6 1481.2V1482.7M395.6 1494.6V1496.1M395.6 1511.1V1514.1M395.6 1520.1V1523.1M395.6 1533.6V1535.0M395.6 1548.5V1550.0M395.6 1586.0V1587.5M395.6 1611.5V1614.5M395.6 1643.0V1644.5M395.6 1646.0V1647.5M395.6 1655.0V1656.5M395.6 1668.5V1670.0M395.6 1706.0V1707.5M395.6 1809.9V1811.4M395.6 1845.7V1847.2M395.6 1860.7V1862.2M395.6 1871.1V1872.6M395.6 1881.6V1883.1M395.6 1884.6V1886.1M395.6 1904.0V1907.0M424.3 1986.4V1987.9M424.3 1993.9V1995.4M424.3 1999.9V2001.4M424.3 2002.9V2004.4M424.3 2013.4V2015.0M424.3 2019.5V2021.0M434.2 1986.4V1987.9M434.2 1992.4V1993.9M434.2 2002.9V2004.4M434.2 2008.9V2010.4M434.2 2042.0V2043.5M434.2 2060.0V2061.5M444.1 1992.4V1993.9M444.1 1995.4V1996.9M444.1 2004.4V2008.9M444.1 2025.5V2028.5M454.0 1978.9V1981.9M454.0 1987.9V1989.4M454.0 2010.4V2013.4M454.0 2025.5V2027.0M463.9 1661.9V1663.4M463.9 1687.4V1688.9M463.9 1693.4V1694.9M463.9 1717.5V1719.0M463.9 1731.0V1732.5M463.9 1744.5V1746.0M463.9 1747.5V1749.0M463.9 1764.0V1765.5M463.9 1776.1V1777.6M463.9 1800.1V1801.6M463.9 1836.2V1837.7M463.9 1875.2V1876.7M463.9 1890.3V1891.8M463.9 1908.3V1909.8M473.8 1675.4V1676.9M473.8 1685.9V1687.4M473.8 1688.9V1690.4M473.8 1691.9V1694.9M473.8 1697.9V1699.4M473.8 1703.9V1705.4M473.8 1706.9V1708.4M473.8 1725.0V1726.5M473.8 1767.0V1768.5M473.8 1776.1V1779.1M473.8 1786.6V1788.1M473.8 1789.6V1791.1M473.8 1798.6V1800.1M473.8 1803.1V1804.6M473.8 1834.7V1836.2M483.7 1672.4V1673.9M483.7 1684.4V1685.9M483.7 1693.4V1696.4M483.7 1700.9V1702.4M483.7 1720.5V1722.0M483.7 1723.5V1725.0M483.7 1744.5V1746.0M483.7 1752.0V1753.5M483.7 1761.0V1764.0M483.7 1782.1V1783.6M483.7 1795.6V1797.1M483.7 1813.6V1815.1M483.7 1821.1V1822.6M483.7 1872.2V1873.7M483.7 1927.8V1929.3M493.6 1672.4V1673.9M493.6 1675.4V1676.9M493.6 1703.9V1706.9M493.6 1712.9V1714.4M493.6 1717.5V1719.0M493.6 1732.5V1735.5M493.6 1743.0V1744.5M493.6 1779.1V1780.6M493.6 1782.1V1783.6M493.6 1816.6V1818.1M493.6 1872.2V1873.7M522.2 1913.9V1916.9M522.2 2046.2V2047.7M532.1 1915.4V1916.9M532.1 1928.9V1930.4M532.1 1961.8V1963.3M532.1 2038.6V2040.1M532.1 2052.2V2053.8M542.0 1684.8V1686.3M542.0 1858.5V1860.0M542.0 2032.6V2035.6M542.0 2040.1V2041.6M552.0 1719.2V1720.7M552.0 1878.0V1879.5M552.0 2034.1V2035.6M561.9 1704.3V1705.8M561.9 1866.0V1867.5M561.9 1936.4V1937.9M561.9 1949.8V1951.3M571.8 1701.3V1702.8M571.8 1945.3V1946.8M571.8 1949.8V1951.3M571.8 2046.2V2047.7M581.6 1863.0V1864.5M581.6 1875.0V1878.0M591.5 1731.2V1732.7M591.5 1878.0V1879.5M591.5 1946.8V1948.3M591.5 1972.3V1973.8M591.5 2017.5V2019.0M620.2 2010.2V2011.7M620.2 2013.2V2014.7M620.2 2017.8V2019.3M620.2 2020.8V2022.3M620.2 2025.3V2028.3M620.2 2043.4V2044.9M620.2 2047.9V2049.4M630.1 2002.7V2004.2M630.1 2010.2V2011.7M630.1 2020.8V2023.8M630.1 2034.3V2035.8M630.1 2052.4V2053.9M640.0 1740.4V1741.9M640.0 1768.9V1770.4M640.0 1771.9V1773.4M640.0 1779.4V1780.9M640.0 1783.9V1785.4M640.0 1794.3V1795.8M640.0 1797.3V1798.8M640.0 1807.8V1809.3M640.0 1881.2V1882.7M640.0 1941.2V1942.7M640.0 1948.6V1950.1M649.9 1740.4V1741.9M649.9 1743.4V1744.9M649.9 1764.4V1765.9M649.9 1773.4V1774.9M649.9 1776.4V1777.9M649.9 1779.4V1780.9M649.9 1785.4V1786.9M649.9 1804.8V1806.3M649.9 1813.8V1815.3M649.9 1828.8V1830.3M649.9 1858.8V1860.3M649.9 1899.2V1900.7M649.9 1941.2V1942.7M659.8 2007.2V2008.7M659.8 2011.7V2013.2M659.8 2023.8V2025.3M659.8 2049.4V2050.9M659.8 2052.4V2053.9M659.8 2060.0V2061.5M669.7 1999.7V2001.2M669.7 2017.8V2019.3M669.7 2020.8V2022.3M669.7 2032.8V2034.3M669.7 2037.4V2038.9M669.7 2053.9V2055.4M679.6 1737.4V1738.9M679.6 1740.4V1741.9M679.6 1743.4V1744.9M679.6 1746.4V1747.9M679.6 1750.9V1752.4M679.6 1762.9V1764.4M679.6 1776.4V1777.9M679.6 1779.4V1780.9M679.6 1783.9V1785.4M679.6 1810.8V1812.3M679.6 1843.8V1845.3M679.6 1870.7V1873.7M689.5 1729.9V1731.4M689.5 1741.9V1743.4M689.5 1752.4V1755.4M689.5 1761.4V1762.9M689.5 1764.4V1765.9M689.5 1773.4V1774.9M689.5 1779.4V1782.4M689.5 1789.9V1791.4M689.5 1792.9V1794.3M689.5 1812.3V1813.8M689.5 1834.8V1836.3M689.5 1881.2V1882.7M689.5 1936.7V1938.2M718.2 1875.9V1877.4M718.2 2023.7V2025.2M718.2 2032.9V2034.4M728.1 2007.0V2008.5M728.1 2013.1V2014.6M728.1 2023.7V2026.8M728.1 2028.3V2029.8M728.1 2050.9V2052.4M738.0 1915.0V1916.5M738.0 1919.5V1921.0M738.0 2013.1V2014.6M757.8 1757.2V1758.7M757.8 1775.3V1776.8M757.8 1797.8V1799.3M757.8 1936.1V1937.6M757.8 2052.4V2054.0M767.7 1957.1V1958.6M777.6 1835.4V1838.4M777.6 1857.9V1859.4M777.6 1886.5V1888.0M777.6 1892.5V1894.0M777.6 1906.0V1909.0M777.6 1963.1V1964.6M787.5 1844.4V1845.9M787.5 1892.5V1894.0M787.5 1924.0V1925.5M816.1 2045.1V2046.6M816.1 2066.0V2067.5M826.0 2036.1V2037.6M826.0 2039.1V2040.6M835.9 1963.9V1965.5M835.9 1989.7V1991.2M835.9 1992.7V1994.2M835.9 2069.0V2070.5M845.8 1982.1V1983.6M845.8 1986.6V1988.1M845.8 1989.7V1991.2M855.7 2061.6V2063.1M875.5 1864.6V1866.1M875.5 1867.6V1869.1M875.5 1884.0V1887.0M875.5 1891.5V1893.0M875.5 1899.0V1900.5M875.5 1921.6V1923.1M885.4 1860.1V1861.6M885.4 1887.0V1888.5M885.4 1930.7V1932.2M885.4 1941.2V1942.8M885.4 1951.8V1953.3M885.4 1957.9V1959.4M885.4 1979.1V1980.6M885.4 2010.7V2013.7M885.4 2036.1V2037.6M914.1 1887.0V1888.5M914.1 1891.5V1893.0M914.1 1915.6V1917.1M914.1 1932.1V1933.6M924.0 1863.0V1864.5M924.0 1872.0V1873.5M924.0 1884.0V1885.5M924.0 1890.0V1891.5M924.0 1944.1V1945.6M933.9 2023.8V2025.3M933.9 2035.9V2037.4M933.9 2061.5V2063.0M943.8 2017.8V2019.3M943.8 2035.9V2037.4M943.8 2038.9V2040.4M943.8 2041.9V2043.4M953.7 2028.3V2029.8M963.6 2014.8V2016.3M963.6 2023.8V2025.3M963.6 2026.8V2028.3M963.6 2029.8V2032.8M963.6 2035.9V2037.4M973.5 1878.0V1879.5M973.5 1897.5V1899.0M973.5 1900.5V1902.0M973.5 1921.6V1923.1M983.4 1860.0V1861.5M983.4 1863.0V1864.5M983.4 1866.0V1867.5M983.4 1876.5V1878.0M983.4 1891.5V1894.5M983.4 1897.5V1899.0M983.4 1909.5V1911.0M983.4 1941.1V1942.6M1012.0 2013.1V2014.6M1012.0 2064.5V2066.0M1051.6 2011.6V2013.1M1051.6 2017.6V2019.1M1051.6 2061.5V2063.0M1071.4 2008.5V2010.0M1071.4 2037.3V2038.8M1071.4 2047.9V2049.4M1129.8 2040.5V2042.0M1149.5 2043.5V2045.0M1149.5 2049.5V2051.0M1159.5 2009.5V2011.0M1159.5 2066.0V2067.5M1169.4 2069.0V2070.5M1179.2 2021.3V2022.7M1207.9 2067.5V2070.5M1267.3 2029.3V2030.8M1267.3 2054.4V2055.8M1277.2 2047.2V2048.7M1277.2 2050.2V2051.6M1315.8 2028.3V2029.8M1315.8 2065.6V2067.2M1335.6 2020.5V2022.1M1335.6 2026.8V2028.3M1345.5 2031.4V2034.5M1345.5 2036.0V2038.9M1345.5 2044.8V2046.3M1355.4 2044.8V2046.3M1365.3 2046.3V2047.8M1365.3 2067.2V2068.9M1375.2 2022.1V2023.7M1375.2 2026.8V2028.3M1403.8 2054.0V2055.5M1403.8 2057.0V2058.5M1403.8 2061.5V2063.0M1403.8 2069.0V2070.5M1423.6 2052.5V2054.0M1433.5 2036.1V2037.5M1433.5 2039.0V2040.5M1433.5 2042.0V2043.5M1433.5 2046.5V2048.0M1443.4 2054.0V2055.5M1453.3 2036.1V2037.5M1463.2 2054.0V2055.5M1473.1 2025.6V2028.6M1473.1 2030.1V2031.6M1473.1 2045.0V2046.5"/>
</g>
<line x1="264.5" y1="781.0" x2="264.5" y2="2197.0" stroke="#000" stroke-width="2.8"/>
<rect x="263.1" y="2070.2" width="1272.7" height="9.4" fill="#000"/>
<line x1="255.6" y1="1850.0" x2="263.5" y2="1850.0" stroke="#333" stroke-width="2.8"/>
<text x="246.8" y="1859.8" font-size="27.6" text-anchor="end" fill="#4D4D4D">500</text>
<line x1="255.6" y1="1625.6" x2="263.5" y2="1625.6" stroke="#333" stroke-width="2.8"/>
<text x="246.8" y="1635.4" font-size="27.6" text-anchor="end" fill="#4D4D4D">1000</text>
<line x1="255.6" y1="1401.3" x2="263.5" y2="1401.3" stroke="#333" stroke-width="2.8"/>
<text x="246.8" y="1411.1" font-size="27.6" text-anchor="end" fill="#4D4D4D">1500</text>
<line x1="255.6" y1="1176.9" x2="263.5" y2="1176.9" stroke="#333" stroke-width="2.8"/>
<text x="246.8" y="1186.7" font-size="27.6" text-anchor="end" fill="#4D4D4D">2000</text>
<line x1="255.6" y1="952.6" x2="263.5" y2="952.6" stroke="#333" stroke-width="2.8"/>
<text x="246.8" y="962.4" font-size="27.6" text-anchor="end" fill="#4D4D4D">2500</text>
<text x="168.5" y="1489.8" font-size="34.2" text-anchor="middle" transform="rotate(-90 168.5 1489.8)">Number of proteins</text>
<text x="365.6" y="2105.3" font-size="28.5" text-anchor="middle" fill="#FF0000">Fe,</text>
<text x="365.6" y="2140.5" font-size="28.5" text-anchor="middle" fill="#FF0000">Glc,</text>
<text x="365.6" y="2176.0" font-size="28.5" text-anchor="middle" fill="#FF0000">Fe:Glc</text>
<text x="459.0" y="2141.6" font-size="28.5" text-anchor="middle" fill="#FF0000">Fe</text>
<text x="557.0" y="2127.1" font-size="28.5" text-anchor="middle" fill="#FF0000">Fe,</text>
<text x="557.0" y="2156.1" font-size="28.5" text-anchor="middle" fill="#FF0000">Glc</text>
<text x="655.2" y="2141.6" font-size="28.5" text-anchor="middle" fill="#FF0000">Glc</text>
<text x="753.1" y="2127.1" font-size="28.5" text-anchor="middle" fill="#FF0000">Fe,</text>
<text x="753.1" y="2156.1" font-size="28.5" text-anchor="middle" fill="#FF0000">Fe:Glc</text>
<text x="851.0" y="2127.1" font-size="28.5" text-anchor="middle" fill="#FF0000">Glc,</text>
<text x="851.0" y="2156.1" font-size="28.5" text-anchor="middle" fill="#FF0000">Fe:Glc</text>
<text x="948.9" y="2141.6" font-size="28.5" text-anchor="middle" fill="#FF0000">Fe:Glc</text>
<text x="1038.5" y="2105.3" font-size="28.5" text-anchor="middle" fill="#FF0000">strain,</text>
<text x="1038.5" y="2135.1" font-size="28.5" text-anchor="middle" fill="#FF0000">Fe,</text>
<text x="1038.5" y="2164.4" font-size="28.5" text-anchor="middle" fill="#FF0000">Glc,</text>
<text x="1038.5" y="2194.2" font-size="28.5" text-anchor="middle" fill="#FF0000">strain:Glc</text>
<text x="1156.3" y="2105.3" font-size="28.5" text-anchor="middle" fill="#FF0000">strain,</text>
<text x="1156.3" y="2135.1" font-size="28.5" text-anchor="middle" fill="#FF0000">Fe,</text>
<text x="1156.3" y="2164.4" font-size="28.5" text-anchor="middle" fill="#FF0000">Glc,</text>
<text x="1156.3" y="2194.2" font-size="28.5" text-anchor="middle" fill="#FF0000">Fe:Glc</text>
<text x="1241.9" y="2126.4" font-size="28.5" text-anchor="middle" fill="#FF0000">strain,</text>
<text x="1241.9" y="2156.1" font-size="28.5" text-anchor="middle" fill="#FF0000">Glc</text>
<text x="1339.8" y="2126.4" font-size="28.5" text-anchor="middle" fill="#FF0000">strain,</text>
<text x="1339.8" y="2156.1" font-size="28.5" text-anchor="middle" fill="#FF0000">Fe</text>
<text x="1438.5" y="2141.6" font-size="28.5" text-anchor="middle" fill="#FF0000">strain</text>
<path d="M1538 2086C1556 2089.5 1563.5 2097 1563.5 2111V2124C1563.5 2134 1568 2139 1579.2 2140V2144C1568 2145 1563.5 2150 1563.5 2160V2173C1563.5 2187 1556 2194.5 1538 2198V2190.5C1548.5 2187.5 1552 2182 1552 2172V2158C1552 2149 1556 2144.5 1565 2142C1556 2139.5 1552 2135 1552 2126V2112C1552 2102 1548.5 2096.5 1538 2093.5Z" fill="#E8232A"/>
<text x="1747.0" y="2136.1" font-size="31.3" text-anchor="middle" fill="#E8232A" font-weight="bold">Significant equation</text>
<text x="1747.0" y="2174.0" font-size="31.3" text-anchor="middle" fill="#E8232A" font-weight="bold">terms</text>
<text x="1588.2" y="1038.3" font-size="33.5">Fe</text>
<rect x="1588.2" y="1060.3" width="49.8" height="50.0" fill="#F7FCB9"/>
<text x="1655.8" y="1095.8" font-size="28.5">−Fe</text>
<rect x="1588.2" y="1110.2" width="49.8" height="50.0" fill="#007535"/>
<text x="1655.8" y="1145.7" font-size="28.5">+Fe</text>
<text x="1588.2" y="1257.3" font-size="33.5">Glc</text>
<rect x="1588.2" y="1279.9" width="49.8" height="50.0" fill="#90EE90"/>
<text x="1655.8" y="1315.4" font-size="28.5">−Glc</text>
<rect x="1588.2" y="1329.8" width="49.8" height="50.0" fill="#A52A2A"/>
<text x="1655.8" y="1365.3" font-size="28.5">+Glc</text>
<text x="1588.2" y="1477.2" font-size="33.5">strain</text>
<rect x="1588.2" y="1499.8" width="49.8" height="50.0" fill="#A9A9A9"/>
<text x="1655.8" y="1535.3" font-size="28.5" font-style="italic">hxk1–2</text>
<rect x="1588.2" y="1549.7" width="49.8" height="50.0" fill="#0000FF"/>
<text x="1655.8" y="1585.2" font-size="28.5">WT</text>
<text x="1432.4" y="1676.3" font-size="34.5">scaled</text>
<text x="1542.9" y="1676.3" font-size="34.5">log</text>
<text x="1589.6" y="1687.0" font-size="18.0">2</text>
<text x="1606.6" y="1676.3" font-size="34.5">abundance</text>
<defs><linearGradient id="cb" x1="0" y1="0" x2="0" y2="1"><stop offset="0" stop-color="#FFA50A"/><stop offset="0.25" stop-color="#805408"/><stop offset="0.5" stop-color="#000"/><stop offset="0.75" stop-color="#237169"/><stop offset="1" stop-color="#46E2D2"/></linearGradient></defs>
<rect x="1587.1" y="1717.8" width="52.0" height="250.3" fill="url(#cb)"/>
<text x="1655.5" y="1728.0" font-size="28.0">1.0</text>
<line x1="1587.1" y1="1780.3" x2="1597.1" y2="1780.3" stroke="#fff" stroke-width="1.2"/>
<line x1="1629.1" y1="1780.3" x2="1639.1" y2="1780.3" stroke="#fff" stroke-width="1.2"/>
<text x="1655.5" y="1790.5" font-size="28.0">0.5</text>
<line x1="1587.1" y1="1842.9" x2="1597.1" y2="1842.9" stroke="#fff" stroke-width="1.2"/>
<line x1="1629.1" y1="1842.9" x2="1639.1" y2="1842.9" stroke="#fff" stroke-width="1.2"/>
<text x="1655.5" y="1853.1" font-size="28.0">0.0</text>
<line x1="1587.1" y1="1905.4" x2="1597.1" y2="1905.4" stroke="#fff" stroke-width="1.2"/>
<line x1="1629.1" y1="1905.4" x2="1639.1" y2="1905.4" stroke="#fff" stroke-width="1.2"/>
<text x="1655.5" y="1915.6" font-size="28.0">−0.5</text>
<text x="1655.5" y="1978.2" font-size="28.0">−1.0</text>
</svg>
</body></html>
